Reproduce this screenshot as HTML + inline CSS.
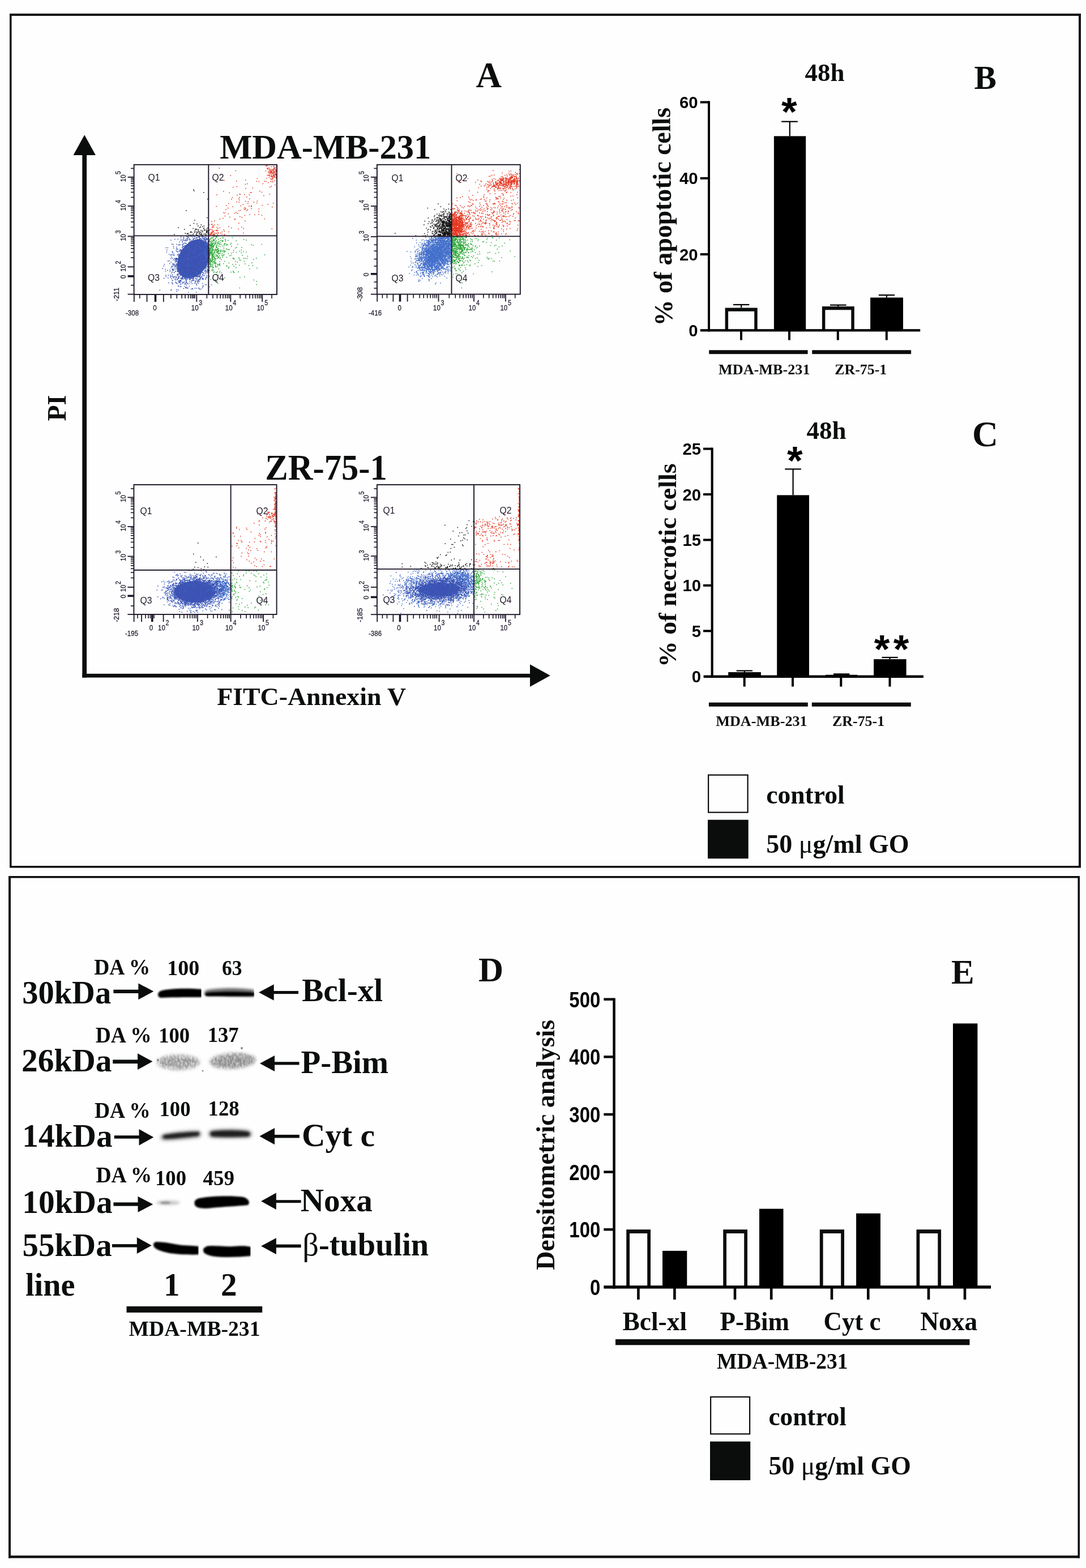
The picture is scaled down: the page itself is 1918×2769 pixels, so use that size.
<!DOCTYPE html>
<html><head><meta charset="utf-8"><title>Figure</title><style>html,body{margin:0;padding:0;background:#fefefe;}svg{display:block;}</style></head><body><svg width="1918" height="2769" viewBox="0 0 1918 2769"><defs><clipPath id="cp1"><rect x="237.5" y="291.6" width="250.7" height="227.6"/></clipPath><clipPath id="cp2"><rect x="666.7" y="291.6" width="251.3" height="227.2"/></clipPath><clipPath id="cp3"><rect x="237.2" y="856.8" width="250.6" height="227.4"/></clipPath><clipPath id="cp4"><rect x="666.7" y="856.8" width="250.6" height="227.6"/></clipPath><clipPath id="lane1a"><rect x="260" y="1730" width="95.6" height="45"/></clipPath><clipPath id="lane1b"><rect x="350" y="1730" width="99" height="45"/></clipPath><clipPath id="lane5a"><rect x="260" y="2180" width="90.8" height="50"/></clipPath><clipPath id="lane5b"><rect x="352" y="2180" width="90.7" height="50"/></clipPath><filter id="mot1" x="-20%" y="-60%" width="140%" height="220%"><feGaussianBlur in="SourceGraphic" stdDeviation="3.2" result="soft"/><feTurbulence type="fractalNoise" baseFrequency="0.3 0.17" numOctaves="2" seed="3" result="n"/><feColorMatrix in="n" type="matrix" values="0 0 0 0 0  0 0 0 0 0  0 0 0 0 0  2.4 0 0 0 -0.55" result="na"/><feComposite in="soft" in2="na" operator="in"/></filter><filter id="mot2" x="-20%" y="-60%" width="140%" height="220%"><feGaussianBlur in="SourceGraphic" stdDeviation="3.2" result="soft"/><feTurbulence type="fractalNoise" baseFrequency="0.3 0.17" numOctaves="2" seed="7" result="n"/><feColorMatrix in="n" type="matrix" values="0 0 0 0 0  0 0 0 0 0  0 0 0 0 0  2.4 0 0 0 -0.55" result="na"/><feComposite in="soft" in2="na" operator="in"/></filter><filter id="bl0_7" x="-20%" y="-60%" width="140%" height="220%"><feGaussianBlur stdDeviation="0.7"/></filter><filter id="bl1_2" x="-20%" y="-60%" width="140%" height="220%"><feGaussianBlur stdDeviation="1.2"/></filter><filter id="bl1_3" x="-20%" y="-60%" width="140%" height="220%"><feGaussianBlur stdDeviation="1.3"/></filter><filter id="bl1_5" x="-20%" y="-60%" width="140%" height="220%"><feGaussianBlur stdDeviation="1.5"/></filter><filter id="bl1_6" x="-20%" y="-60%" width="140%" height="220%"><feGaussianBlur stdDeviation="1.6"/></filter><filter id="bl1_7" x="-20%" y="-60%" width="140%" height="220%"><feGaussianBlur stdDeviation="1.7"/></filter><filter id="bl1_8" x="-20%" y="-60%" width="140%" height="220%"><feGaussianBlur stdDeviation="1.8"/></filter><filter id="bl1_9" x="-20%" y="-60%" width="140%" height="220%"><feGaussianBlur stdDeviation="1.9"/></filter><filter id="bl2_0" x="-20%" y="-60%" width="140%" height="220%"><feGaussianBlur stdDeviation="2.0"/></filter><filter id="bl2_3" x="-20%" y="-60%" width="140%" height="220%"><feGaussianBlur stdDeviation="2.3"/></filter><filter id="bl2_5" x="-20%" y="-60%" width="140%" height="220%"><feGaussianBlur stdDeviation="2.5"/></filter><filter id="bl3_0" x="-20%" y="-60%" width="140%" height="220%"><feGaussianBlur stdDeviation="3.0"/></filter><filter id="bl3_2" x="-20%" y="-60%" width="140%" height="220%"><feGaussianBlur stdDeviation="3.2"/></filter></defs><rect width="1918" height="2769" fill="#fefefe"/><rect x="17" y="24" width="1892" height="4" fill="#0b0d0d"/>
<rect x="17" y="24" width="3.5" height="1508" fill="#0b0d0d"/>
<rect x="1905" y="24" width="4" height="1508" fill="#0b0d0d"/>
<rect x="17" y="1529" width="1892" height="3.5" fill="#0b0d0d"/>
<rect x="15" y="1547" width="1892" height="3.5" fill="#0b0d0d"/>
<rect x="15" y="1547" width="4" height="1204.5" fill="#0b0d0d"/>
<rect x="1903.5" y="1547" width="3.5" height="1204.5" fill="#0b0d0d"/>
<rect x="15" y="2747" width="1892" height="4.5" fill="#0b0d0d"/>
<rect x="145.3" y="272" width="7.8" height="924.5" fill="#0b0d0d"/>
<polygon points="149.2,238.3 168.9,274 129.5,274" fill="#0b0d0d"/>
<rect x="145.3" y="1189.8" width="791.7" height="6.7" fill="#0b0d0d"/>
<polygon points="936,1173.2 971.8,1193.1 936,1212.8" fill="#0b0d0d"/>
<text x="840.5" y="153.8" font-family="'Liberation Serif', 'Times New Roman', serif" font-size="63" font-weight="bold" fill="#0b0d0d">A</text>
<text x="388.2" y="280" font-family="'Liberation Serif', 'Times New Roman', serif" font-size="61" font-weight="bold" fill="#0b0d0d" textLength="373" lengthAdjust="spacingAndGlyphs">MDA-MB-231</text>
<text x="468.3" y="846.7" font-family="'Liberation Serif', 'Times New Roman', serif" font-size="63.5" font-weight="bold" fill="#0b0d0d" textLength="215.5" lengthAdjust="spacingAndGlyphs">ZR-75-1</text>
<text transform="translate(115.8 743.5) rotate(-90)" x="0" y="0" font-family="'Liberation Serif', 'Times New Roman', serif" font-size="46" font-weight="bold" fill="#0b0d0d">PI</text>
<text x="383.2" y="1245.1" font-family="'Liberation Serif', 'Times New Roman', serif" font-size="45" font-weight="bold" fill="#0b0d0d" textLength="334" lengthAdjust="spacingAndGlyphs">FITC-Annexin V</text>
<g clip-path="url(#cp1)">
<ellipse cx="342" cy="457" rx="26" ry="37" transform="rotate(30 342 457)" fill="#3d53b3"/>
<path d="M357 416.5h1.6M358 416.5h1.6M356.5 417h1.6M366.5 417h1.6M330.5 418h1.6M349.5 418h1.6M351 418.5h1.6M331 419h1.6M367.5 419h1.6M318.5 420.5h1.6M342.5 420.5h1.6M367 420.5h1.6M358.5 421.5h1.6M366 421.5h1.6M351 422h1.6M334.5 422.5h1.6M348.5 423h1.6M327 423.5h1.6M368 423.5h1.6M361 424h1.6M344 425h1.6M348 425h1.6M368 425h1.6M349.5 426h1.6M338.5 426.5h1.6M359 426.5h1.6M344 427h1.6M356 427h1.6M366 427h1.6M352 427.5h1.6M342.5 428h1.6M351 428.5h1.6M362.5 428.5h1.6M364.5 428.5h1.6M337 429.5h1.6M349.5 429.5h1.6M362.5 430h1.6M345.5 430.5h1.6M357.5 430.5h1.6M366.5 430.5h1.6M348.5 431h1.6M321 431.5h1.6M360 431.5h1.6M361.5 431.5h1.6M364.5 431.5h1.6M349.5 432h1.6M351 432h1.6M360.5 432h1.6M365.5 432h1.6M321 432.5h1.6M346 432.5h1.6M351 432.5h1.6M364 432.5h1.6M360 433h1.6M361 433h1.6M367.5 433h1.6M349.5 434h1.6M350 434.5h1.6M356.5 434.5h1.6M351 435h1.6M358 435h1.6M362 435h1.6M363.5 435h1.6M345.5 435.5h1.6M351 435.5h1.6M333.5 436h1.6M336.5 436h1.6M360.5 436h1.6M331 436.5h1.6M339 436.5h1.6M340 436.5h1.6M363 436.5h1.6M332 437h1.6M338.5 437h1.6M339.5 437h1.6M344.5 437h1.6M354 437h1.6M354.5 437h1.6M365.5 437h1.6M330 437.5h1.6M353 437.5h1.6M368 437.5h1.6M334.5 438h1.6M357 438h1.6M367 438h1.6M327.5 438.5h1.6M353 438.5h1.6M354 438.5h1.6M361 438.5h1.6M365.5 438.5h1.6M366.5 438.5h1.6M311.5 439h1.6M324.5 439h1.6M333.5 439h1.6M344.5 439h1.6M345.5 439h1.6M346.5 439h1.6M348 439h1.6M366.5 439h1.6M334.5 439.5h1.6M365 439.5h1.6M367 439.5h1.6M325.5 440h1.6M343.5 440h1.6M344 440h1.6M352.5 440h1.6M333 440.5h1.6M361.5 440.5h1.6M363 440.5h1.6M365.5 440.5h1.6M366.5 440.5h1.6M328.5 441h1.6M329.5 441h1.6M337.5 441h1.6M350.5 441h1.6M340 441.5h1.6M350 441.5h1.6M361.5 441.5h1.6M365 441.5h1.6M333.5 442h1.6M354 442h1.6M332.5 442.5h1.6M344.5 442.5h1.6M347 442.5h1.6M356 442.5h1.6M356.5 442.5h1.6M361.5 442.5h1.6M347.5 443h1.6M361 443h1.6M333 443.5h1.6M342.5 443.5h1.6M346 443.5h1.6M360.5 443.5h1.6M303.5 444h1.6M330.5 444h1.6M331 444h1.6M339.5 444h1.6M354 444h1.6M354.5 444h1.6M359.5 444h1.6M360 444h1.6M361 444h1.6M361.5 444h1.6M362 444h1.6M323 444.5h1.6M333 444.5h1.6M333.5 444.5h1.6M344 444.5h1.6M348.5 444.5h1.6M361.5 444.5h1.6M342 445h1.6M356.5 445h1.6M367 445h1.6M338.5 445.5h1.6M364.5 445.5h1.6M345 446h1.6M346.5 446h1.6M360 446h1.6M363.5 446h1.6M343.5 446.5h1.6M350 446.5h1.6M351.5 446.5h1.6M362 446.5h1.6M364 446.5h1.6M324.5 447h1.6M333 447h1.6M335.5 447h1.6M349.5 447h1.6M331 447.5h1.6M331.5 447.5h1.6M335.5 447.5h1.6M342 447.5h1.6M343.5 447.5h1.6M345.5 447.5h1.6M355 447.5h1.6M358.5 447.5h1.6M361.5 447.5h1.6M338.5 448h1.6M345 448h1.6M347.5 448h1.6M355 448h1.6M356.5 448h1.6M358.5 448h1.6M359 448h1.6M306.5 448.5h1.6M331 448.5h1.6M341.5 448.5h1.6M343 448.5h1.6M345 448.5h1.6M357.5 448.5h1.6M359.5 448.5h1.6M298 449h1.6M318 449h1.6M328 449h1.6M344.5 449h1.6M351 449h1.6M353 449h1.6M362 449h1.6M368 449h1.6M345.5 449.5h1.6M348.5 449.5h1.6M355.5 449.5h1.6M360 449.5h1.6M330.5 450h1.6M334 450h1.6M339 450h1.6M342.5 450h1.6M362.5 450h1.6M364 450h1.6M327.5 450.5h1.6M333.5 450.5h1.6M343 450.5h1.6M352 450.5h1.6M307 451h1.6M329 451h1.6M332.5 451h1.6M333 451h1.6M336 451h1.6M350 451h1.6M355 451h1.6M362.5 451h1.6M366.5 451h1.6M330.5 451.5h1.6M332 451.5h1.6M336.5 451.5h1.6M342 451.5h1.6M367 451.5h1.6M336 452h1.6M337.5 452h1.6M340 452h1.6M356.5 452h1.6M314 452.5h1.6M340 452.5h1.6M341 452.5h1.6M346 452.5h1.6M360.5 452.5h1.6M363.5 452.5h1.6M317.5 453h1.6M318 453h1.6M326.5 453h1.6M339.5 453h1.6M343 453h1.6M343.5 453h1.6M344 453h1.6M346.5 453h1.6M362 453h1.6M362.5 453h1.6M337 453.5h1.6M355.5 453.5h1.6M365.5 453.5h1.6M336.5 454h1.6M337 454h1.6M344.5 454h1.6M347 454h1.6M350.5 454h1.6M357.5 454h1.6M361.5 454h1.6M302.5 454.5h1.6M325 454.5h1.6M340 454.5h1.6M341.5 454.5h1.6M361.5 454.5h1.6M365 454.5h1.6M329.5 455h1.6M333 455h1.6M338.5 455h1.6M346.5 455h1.6M349 455h1.6M358.5 455h1.6M359 455h1.6M361 455h1.6M367.5 455h1.6M341 455.5h1.6M349 455.5h1.6M311 456h1.6M331 456h1.6M339.5 456h1.6M344 456h1.6M351 456h1.6M353 456h1.6M355 456h1.6M356.5 456h1.6M364 456h1.6M304 456.5h1.6M345.5 456.5h1.6M352.5 456.5h1.6M353.5 456.5h1.6M363 456.5h1.6M366 456.5h1.6M313 457h1.6M333.5 457h1.6M341.5 457h1.6M345 457h1.6M346 457h1.6M346.5 457h1.6M347.5 457h1.6M366 457h1.6M322 457.5h1.6M330.5 457.5h1.6M335 457.5h1.6M348 457.5h1.6M352.5 457.5h1.6M360 457.5h1.6M361.5 457.5h1.6M312.5 458h1.6M327.5 458h1.6M338 458h1.6M339.5 458h1.6M346 458h1.6M352.5 458h1.6M334.5 458.5h1.6M351 458.5h1.6M363.5 458.5h1.6M337 459h1.6M341 459h1.6M346 459h1.6M357.5 459h1.6M361.5 459h1.6M333 459.5h1.6M340.5 459.5h1.6M366 459.5h1.6M368 459.5h1.6M318.5 460h1.6M323.5 460h1.6M324.5 460h1.6M333.5 460h1.6M355.5 460h1.6M363 460h1.6M331 460.5h1.6M340 460.5h1.6M347.5 460.5h1.6M351.5 460.5h1.6M358.5 460.5h1.6M326 461h1.6M336 461h1.6M344.5 461h1.6M349 461h1.6M352.5 461h1.6M336 461.5h1.6M347 461.5h1.6M360.5 461.5h1.6M362.5 461.5h1.6M326 462h1.6M341.5 462h1.6M308.5 463h1.6M317 463h1.6M321.5 463h1.6M347.5 463h1.6M348 463h1.6M349.5 463h1.6M353.5 463h1.6M362.5 463h1.6M366.5 463h1.6M322.5 463.5h1.6M324.5 463.5h1.6M339.5 463.5h1.6M356.5 463.5h1.6M358.5 463.5h1.6M368 463.5h1.6M328.5 464h1.6M362 464h1.6M366 464h1.6M315.5 464.5h1.6M325 464.5h1.6M330 464.5h1.6M338 464.5h1.6M333 465h1.6M351 465h1.6M357.5 465h1.6M363 465h1.6M306 465.5h1.6M311 465.5h1.6M330.5 465.5h1.6M331 465.5h1.6M339.5 465.5h1.6M357 465.5h1.6M360.5 465.5h1.6M365 465.5h1.6M346.5 466h1.6M347 466h1.6M348.5 466h1.6M350 466h1.6M351 466h1.6M352.5 466h1.6M355.5 466h1.6M328 466.5h1.6M330 466.5h1.6M337.5 466.5h1.6M360 466.5h1.6M361.5 466.5h1.6M326 467h1.6M332.5 467h1.6M334.5 467h1.6M335 467h1.6M341.5 467h1.6M351 467h1.6M355 467h1.6M317 467.5h1.6M332.5 467.5h1.6M335 467.5h1.6M362.5 467.5h1.6M364.5 467.5h1.6M305.5 468h1.6M316.5 468h1.6M327.5 468h1.6M354 468h1.6M355.5 468h1.6M358.5 468h1.6M365 468h1.6M324 468.5h1.6M334 468.5h1.6M335.5 468.5h1.6M329.5 469h1.6M331 469h1.6M340 469h1.6M341 469h1.6M364 469h1.6M322.5 469.5h1.6M330 469.5h1.6M334.5 469.5h1.6M341.5 469.5h1.6M344 469.5h1.6M328 470h1.6M329.5 470h1.6M330.5 470h1.6M332 470h1.6M345 470h1.6M357 470h1.6M310.5 470.5h1.6M332 470.5h1.6M334 470.5h1.6M338.5 470.5h1.6M308.5 471h1.6M343.5 471h1.6M345.5 471h1.6M364.5 471h1.6M339.5 471.5h1.6M345 471.5h1.6M313 472h1.6M315.5 472h1.6M319.5 472h1.6M330.5 472h1.6M331 472h1.6M354.5 472h1.6M358 472h1.6M331.5 472.5h1.6M341 472.5h1.6M349 472.5h1.6M308 473h1.6M317.5 473h1.6M333.5 473h1.6M343.5 473h1.6M353.5 473h1.6M354.5 473h1.6M345 473.5h1.6M348.5 473.5h1.6M359 473.5h1.6M351.5 474h1.6M359.5 474h1.6M324.5 474.5h1.6M329.5 474.5h1.6M350 474.5h1.6M351 474.5h1.6M356 474.5h1.6M362 474.5h1.6M317 475h1.6M334.5 475h1.6M339.5 475h1.6M349.5 475h1.6M358 475h1.6M360 475h1.6M365 475h1.6M352.5 475.5h1.6M304 476h1.6M312 476h1.6M322.5 476h1.6M367 476h1.6M329.5 476.5h1.6M340.5 476.5h1.6M325 477h1.6M336 477h1.6M339.5 477h1.6M341 477h1.6M354.5 477h1.6M331.5 477.5h1.6M337 477.5h1.6M341.5 478h1.6M346 478h1.6M340.5 478.5h1.6M360.5 478.5h1.6M291.5 479h1.6M309 479h1.6M329.5 479h1.6M333 479h1.6M355 479h1.6M320 479.5h1.6M322.5 479.5h1.6M327 479.5h1.6M355 479.5h1.6M326 480h1.6M345.5 480h1.6M361.5 480h1.6M339 480.5h1.6M367.5 480.5h1.6M306.5 481.5h1.6M334.5 481.5h1.6M338 481.5h1.6M346.5 481.5h1.6M337.5 482h1.6M316.5 482.5h1.6M329 482.5h1.6M337.5 482.5h1.6M324 483h1.6M338 483h1.6M333.5 483.5h1.6M326 484h1.6M338 484h1.6M344.5 484h1.6M327.5 484.5h1.6M347 484.5h1.6M330.5 485h1.6M348.5 485h1.6M341 485.5h1.6M360.5 486h1.6M328.5 486.5h1.6M336 486.5h1.6M339.5 486.5h1.6M331.5 487h1.6M347.5 487h1.6M357 487h1.6M321.5 488h1.6M332 488h1.6M336.5 488h1.6M337 488h1.6M301 488.5h1.6M304.5 488.5h1.6M308.5 488.5h1.6M330 488.5h1.6M330.5 489h1.6M324 489.5h1.6M336 489.5h1.6M344.5 489.5h1.6M352 489.5h1.6M305 490.5h1.6M325 490.5h1.6M331.5 490.5h1.6M367.5 490.5h1.6M336.5 491h1.6M363 492h1.6M330.5 492.5h1.6M333.5 493h1.6M328.5 493.5h1.6M341 494h1.6M350 494h1.6M353 494h1.6M328 495h1.6M342 495h1.6M328.5 495.5h1.6M340.5 495.5h1.6M319.5 496.5h1.6M315.5 497.5h1.6M328.5 497.5h1.6M348.5 497.5h1.6M315 498.5h1.6M345 500h1.6M303.5 500.5h1.6M357 500.5h1.6M312.5 501h1.6M334.5 501h1.6M338.5 501h1.6M318.5 502h1.6M361.5 502.5h1.6M325 505.5h1.6M333.5 505.5h1.6M332 516h1.6" fill="none" stroke="#4470cc" stroke-width="1.6"/>
<path d="M335 416.5h1.6M337 416.5h1.6M350 416.5h1.6M355 416.5h1.6M329 417h1.6M342.5 417h1.6M355 417h1.6M363 417h1.6M328.5 417.5h1.6M337 417.5h1.6M352 417.5h1.6M357.5 417.5h1.6M319 418h1.6M343 418h1.6M332.5 418.5h1.6M351.5 418.5h1.6M360.5 418.5h1.6M323.5 419h1.6M331 419h1.6M339.5 419h1.6M350.5 419h1.6M356 419h1.6M358 419h1.6M345.5 419.5h1.6M347.5 419.5h1.6M351 419.5h1.6M362.5 419.5h1.6M363 419.5h1.6M324 420.5h1.6M347 420.5h1.6M361 420.5h1.6M364 420.5h1.6M329 421h1.6M342 421h1.6M352.5 421h1.6M360 421h1.6M330 421.5h1.6M333.5 421.5h1.6M345 421.5h1.6M353.5 421.5h1.6M357 421.5h1.6M363.5 421.5h1.6M341.5 422h1.6M355 422h1.6M358.5 422h1.6M308 422.5h1.6M313.5 422.5h1.6M323 422.5h1.6M331 422.5h1.6M340 422.5h1.6M351.5 422.5h1.6M360.5 422.5h1.6M363.5 422.5h1.6M365.5 422.5h1.6M348 423h1.6M352 423h1.6M361.5 423h1.6M320.5 423.5h1.6M328 423.5h1.6M335 423.5h1.6M347.5 423.5h1.6M360 423.5h1.6M360.5 423.5h1.6M365 423.5h1.6M301 424h1.6M318 424h1.6M334.5 424h1.6M341 424h1.6M348.5 424h1.6M363.5 424h1.6M323 424.5h1.6M325 424.5h1.6M325.5 424.5h1.6M330 424.5h1.6M355.5 424.5h1.6M338 425h1.6M342.5 425h1.6M346.5 425h1.6M349.5 425h1.6M351 425h1.6M351.5 425h1.6M355.5 425h1.6M356 425h1.6M357.5 425h1.6M358 425h1.6M362 425h1.6M327.5 425.5h1.6M328 425.5h1.6M337.5 425.5h1.6M338.5 425.5h1.6M339 425.5h1.6M339.5 425.5h1.6M356 425.5h1.6M358 425.5h1.6M321 426h1.6M337.5 426h1.6M348 426h1.6M335 426.5h1.6M338 426.5h1.6M344.5 426.5h1.6M355.5 426.5h1.6M361.5 426.5h1.6M362 426.5h1.6M367 426.5h1.6M337 427h1.6M343 427h1.6M362 427h1.6M363 427h1.6M316 427.5h1.6M334.5 427.5h1.6M336.5 427.5h1.6M339.5 427.5h1.6M363.5 427.5h1.6M367 427.5h1.6M321.5 428h1.6M344.5 428h1.6M348.5 428h1.6M349.5 428h1.6M352 428h1.6M357 428h1.6M334 428.5h1.6M340.5 428.5h1.6M343 428.5h1.6M344.5 428.5h1.6M346.5 428.5h1.6M347 428.5h1.6M353 428.5h1.6M353.5 428.5h1.6M325.5 429h1.6M332.5 429h1.6M339.5 429h1.6M342 429h1.6M345 429h1.6M349.5 429h1.6M351 429h1.6M363.5 429h1.6M326.5 429.5h1.6M334.5 429.5h1.6M336 429.5h1.6M336.5 429.5h1.6M341.5 429.5h1.6M355 429.5h1.6M359 429.5h1.6M365.5 429.5h1.6M328 430h1.6M337 430h1.6M339.5 430h1.6M340 430h1.6M342.5 430h1.6M348.5 430h1.6M349 430h1.6M351.5 430h1.6M356.5 430h1.6M358 430h1.6M360 430h1.6M365 430h1.6M366 430h1.6M323 430.5h1.6M333 430.5h1.6M338 430.5h1.6M338.5 430.5h1.6M344.5 430.5h1.6M345 430.5h1.6M346 430.5h1.6M347.5 430.5h1.6M349 430.5h1.6M349.5 430.5h1.6M350.5 430.5h1.6M353.5 430.5h1.6M354.5 430.5h1.6M355 430.5h1.6M357 430.5h1.6M303 431h1.6M323.5 431h1.6M334 431h1.6M338 431h1.6M340 431h1.6M346 431h1.6M356.5 431h1.6M362.5 431h1.6M305 431.5h1.6M311.5 431.5h1.6M330.5 431.5h1.6M335 431.5h1.6M338 431.5h1.6M339.5 431.5h1.6M341.5 431.5h1.6M348 431.5h1.6M349.5 431.5h1.6M352 431.5h1.6M317.5 432h1.6M333.5 432h1.6M335 432h1.6M341.5 432h1.6M349 432h1.6M354 432h1.6M355.5 432h1.6M359.5 432h1.6M361.5 432h1.6M314.5 432.5h1.6M316 432.5h1.6M331.5 432.5h1.6M336 432.5h1.6M337.5 432.5h1.6M342 432.5h1.6M349 432.5h1.6M349.5 432.5h1.6M358.5 432.5h1.6M359 432.5h1.6M361.5 432.5h1.6M362.5 432.5h1.6M334.5 433h1.6M336 433h1.6M342 433h1.6M349 433h1.6M351.5 433h1.6M356 433h1.6M357.5 433h1.6M367 433h1.6M368 433h1.6M338.5 433.5h1.6M339 433.5h1.6M339.5 433.5h1.6M348.5 433.5h1.6M351.5 433.5h1.6M322 434h1.6M325 434h1.6M326 434h1.6M327.5 434h1.6M328 434h1.6M328.5 434h1.6M335.5 434h1.6M336.5 434h1.6M337.5 434h1.6M338 434h1.6M342 434h1.6M343.5 434h1.6M346 434h1.6M346.5 434h1.6M348 434h1.6M350 434h1.6M352 434h1.6M355.5 434h1.6M357 434h1.6M361.5 434h1.6M362.5 434h1.6M332.5 434.5h1.6M333.5 434.5h1.6M335.5 434.5h1.6M337.5 434.5h1.6M340.5 434.5h1.6M345.5 434.5h1.6M348.5 434.5h1.6M350 434.5h1.6M355 434.5h1.6M358 434.5h1.6M361.5 434.5h1.6M305.5 435h1.6M337.5 435h1.6M340 435h1.6M341 435h1.6M342 435h1.6M347 435h1.6M347.5 435h1.6M349 435h1.6M349.5 435h1.6M353.5 435h1.6M358.5 435h1.6M359.5 435h1.6M360 435h1.6M360.5 435h1.6M322.5 435.5h1.6M323.5 435.5h1.6M335.5 435.5h1.6M339 435.5h1.6M339.5 435.5h1.6M345 435.5h1.6M349.5 435.5h1.6M354 435.5h1.6M357 435.5h1.6M358 435.5h1.6M358.5 435.5h1.6M363.5 435.5h1.6M326 436h1.6M332 436h1.6M337 436h1.6M340 436h1.6M340.5 436h1.6M341 436h1.6M341.5 436h1.6M342.5 436h1.6M352.5 436h1.6M356 436h1.6M357 436h1.6M358.5 436h1.6M360 436h1.6M362.5 436h1.6M366.5 436h1.6M311 436.5h1.6M336 436.5h1.6M337.5 436.5h1.6M338 436.5h1.6M338.5 436.5h1.6M352.5 436.5h1.6M358.5 436.5h1.6M360.5 436.5h1.6M366 436.5h1.6M367 436.5h1.6M321 437h1.6M321.5 437h1.6M329.5 437h1.6M337.5 437h1.6M338 437h1.6M340.5 437h1.6M341 437h1.6M343.5 437h1.6M347 437h1.6M347.5 437h1.6M348 437h1.6M351 437h1.6M355.5 437h1.6M356.5 437h1.6M358.5 437h1.6M359.5 437h1.6M363.5 437h1.6M292.5 437.5h1.6M295.5 437.5h1.6M334 437.5h1.6M337 437.5h1.6M338.5 437.5h1.6M341 437.5h1.6M359.5 437.5h1.6M365.5 437.5h1.6M366 437.5h1.6M367 437.5h1.6M368 437.5h1.6M306 438h1.6M329 438h1.6M332.5 438h1.6M335 438h1.6M340.5 438h1.6M341 438h1.6M341.5 438h1.6M342.5 438h1.6M344.5 438h1.6M345 438h1.6M345.5 438h1.6M348 438h1.6M349.5 438h1.6M351 438h1.6M351.5 438h1.6M353 438h1.6M354.5 438h1.6M356.5 438h1.6M364 438h1.6M367.5 438h1.6M327.5 438.5h1.6M328.5 438.5h1.6M329 438.5h1.6M335.5 438.5h1.6M337 438.5h1.6M346.5 438.5h1.6M349 438.5h1.6M350 438.5h1.6M351.5 438.5h1.6M356.5 438.5h1.6M364.5 438.5h1.6M365 438.5h1.6M367 438.5h1.6M368 438.5h1.6M331.5 439h1.6M340 439h1.6M341 439h1.6M350 439h1.6M350.5 439h1.6M366 439h1.6M322 439.5h1.6M323 439.5h1.6M326 439.5h1.6M339.5 439.5h1.6M342.5 439.5h1.6M343 439.5h1.6M344 439.5h1.6M346 439.5h1.6M350 439.5h1.6M351 439.5h1.6M356.5 439.5h1.6M357.5 439.5h1.6M358.5 439.5h1.6M311 440h1.6M313 440h1.6M329 440h1.6M330 440h1.6M331 440h1.6M331.5 440h1.6M332.5 440h1.6M333 440h1.6M335.5 440h1.6M338.5 440h1.6M351 440h1.6M360.5 440h1.6M364 440h1.6M365.5 440h1.6M317 440.5h1.6M317.5 440.5h1.6M324 440.5h1.6M329.5 440.5h1.6M330.5 440.5h1.6M331 440.5h1.6M333 440.5h1.6M335.5 440.5h1.6M336 440.5h1.6M348.5 440.5h1.6M351 440.5h1.6M351.5 440.5h1.6M354.5 440.5h1.6M356.5 440.5h1.6M357.5 440.5h1.6M360 440.5h1.6M363.5 440.5h1.6M364 440.5h1.6M321.5 441h1.6M325 441h1.6M329 441h1.6M330.5 441h1.6M331 441h1.6M334 441h1.6M341 441h1.6M347.5 441h1.6M348 441h1.6M349 441h1.6M353.5 441h1.6M354 441h1.6M356.5 441h1.6M361 441h1.6M294 441.5h1.6M319 441.5h1.6M319.5 441.5h1.6M322.5 441.5h1.6M327.5 441.5h1.6M328 441.5h1.6M330 441.5h1.6M332.5 441.5h1.6M333 441.5h1.6M338 441.5h1.6M339.5 441.5h1.6M340 441.5h1.6M341 441.5h1.6M342 441.5h1.6M344 441.5h1.6M344.5 441.5h1.6M345.5 441.5h1.6M346.5 441.5h1.6M347.5 441.5h1.6M349 441.5h1.6M349.5 441.5h1.6M350 441.5h1.6M354 441.5h1.6M354.5 441.5h1.6M357.5 441.5h1.6M363.5 441.5h1.6M365 441.5h1.6M366 441.5h1.6M366.5 441.5h1.6M318.5 442h1.6M322.5 442h1.6M334.5 442h1.6M340 442h1.6M343 442h1.6M343.5 442h1.6M344.5 442h1.6M346.5 442h1.6M347 442h1.6M348 442h1.6M348.5 442h1.6M349.5 442h1.6M350 442h1.6M351.5 442h1.6M352.5 442h1.6M358 442h1.6M362.5 442h1.6M365.5 442h1.6M366 442h1.6M325 442.5h1.6M326.5 442.5h1.6M329 442.5h1.6M330.5 442.5h1.6M333.5 442.5h1.6M334 442.5h1.6M336.5 442.5h1.6M338 442.5h1.6M338.5 442.5h1.6M343.5 442.5h1.6M347 442.5h1.6M348 442.5h1.6M351 442.5h1.6M351.5 442.5h1.6M352.5 442.5h1.6M354.5 442.5h1.6M357 442.5h1.6M365 442.5h1.6M310.5 443h1.6M315.5 443h1.6M318 443h1.6M320 443h1.6M328 443h1.6M329.5 443h1.6M335 443h1.6M337 443h1.6M338.5 443h1.6M341.5 443h1.6M342.5 443h1.6M343 443h1.6M345.5 443h1.6M346.5 443h1.6M347 443h1.6M352.5 443h1.6M359 443h1.6M316.5 443.5h1.6M326.5 443.5h1.6M330 443.5h1.6M332.5 443.5h1.6M335 443.5h1.6M335.5 443.5h1.6M339 443.5h1.6M339.5 443.5h1.6M346 443.5h1.6M347 443.5h1.6M349 443.5h1.6M349.5 443.5h1.6M351 443.5h1.6M352 443.5h1.6M353.5 443.5h1.6M354.5 443.5h1.6M355 443.5h1.6M359 443.5h1.6M360.5 443.5h1.6M366 443.5h1.6M312 444h1.6M319 444h1.6M322 444h1.6M324 444h1.6M328 444h1.6M328.5 444h1.6M329 444h1.6M334 444h1.6M340 444h1.6M341 444h1.6M345 444h1.6M346.5 444h1.6M347 444h1.6M351 444h1.6M352.5 444h1.6M353.5 444h1.6M358 444h1.6M361 444h1.6M365 444h1.6M322 444.5h1.6M331.5 444.5h1.6M335.5 444.5h1.6M337.5 444.5h1.6M338.5 444.5h1.6M340.5 444.5h1.6M347 444.5h1.6M347.5 444.5h1.6M349.5 444.5h1.6M352.5 444.5h1.6M354 444.5h1.6M355.5 444.5h1.6M358 444.5h1.6M364.5 444.5h1.6M293.5 445h1.6M313.5 445h1.6M328.5 445h1.6M330 445h1.6M333.5 445h1.6M334 445h1.6M335.5 445h1.6M336.5 445h1.6M344 445h1.6M344.5 445h1.6M345 445h1.6M347.5 445h1.6M351.5 445h1.6M352.5 445h1.6M353 445h1.6M356.5 445h1.6M358.5 445h1.6M361 445h1.6M362.5 445h1.6M363 445h1.6M364 445h1.6M364.5 445h1.6M304.5 445.5h1.6M322 445.5h1.6M325 445.5h1.6M330.5 445.5h1.6M331.5 445.5h1.6M333 445.5h1.6M335.5 445.5h1.6M336.5 445.5h1.6M337 445.5h1.6M344 445.5h1.6M348 445.5h1.6M349.5 445.5h1.6M350.5 445.5h1.6M354.5 445.5h1.6M357.5 445.5h1.6M358 445.5h1.6M358.5 445.5h1.6M362.5 445.5h1.6M304 446h1.6M318 446h1.6M321 446h1.6M322.5 446h1.6M325 446h1.6M329 446h1.6M336 446h1.6M346 446h1.6M349 446h1.6M352 446h1.6M352.5 446h1.6M363 446h1.6M319 446.5h1.6M321 446.5h1.6M327 446.5h1.6M332 446.5h1.6M335 446.5h1.6M337.5 446.5h1.6M344 446.5h1.6M346 446.5h1.6M350 446.5h1.6M354 446.5h1.6M356.5 446.5h1.6M322 447h1.6M326.5 447h1.6M329 447h1.6M330.5 447h1.6M331 447h1.6M331.5 447h1.6M335 447h1.6M335.5 447h1.6M341 447h1.6M341.5 447h1.6M344 447h1.6M346.5 447h1.6M351 447h1.6M351.5 447h1.6M354 447h1.6M358 447h1.6M359.5 447h1.6M364 447h1.6M366 447h1.6M327 447.5h1.6M329 447.5h1.6M337.5 447.5h1.6M338.5 447.5h1.6M340.5 447.5h1.6M342 447.5h1.6M343 447.5h1.6M344.5 447.5h1.6M345.5 447.5h1.6M348 447.5h1.6M350.5 447.5h1.6M353 447.5h1.6M365 447.5h1.6M365.5 447.5h1.6M318.5 448h1.6M329 448h1.6M330 448h1.6M332 448h1.6M334 448h1.6M337.5 448h1.6M340 448h1.6M341 448h1.6M343.5 448h1.6M346 448h1.6M346.5 448h1.6M347.5 448h1.6M349.5 448h1.6M350.5 448h1.6M355.5 448h1.6M356.5 448h1.6M364 448h1.6M365.5 448h1.6M368 448h1.6M314.5 448.5h1.6M318.5 448.5h1.6M324 448.5h1.6M325 448.5h1.6M325.5 448.5h1.6M328 448.5h1.6M329.5 448.5h1.6M333 448.5h1.6M335 448.5h1.6M337.5 448.5h1.6M338 448.5h1.6M341.5 448.5h1.6M344.5 448.5h1.6M346 448.5h1.6M346.5 448.5h1.6M348.5 448.5h1.6M352.5 448.5h1.6M361.5 448.5h1.6M321 449h1.6M323 449h1.6M323.5 449h1.6M328.5 449h1.6M331 449h1.6M331.5 449h1.6M332.5 449h1.6M333.5 449h1.6M336 449h1.6M338 449h1.6M343 449h1.6M345.5 449h1.6M346 449h1.6M349.5 449h1.6M359 449h1.6M362 449h1.6M364.5 449h1.6M301 449.5h1.6M303.5 449.5h1.6M316 449.5h1.6M324.5 449.5h1.6M326 449.5h1.6M327.5 449.5h1.6M330 449.5h1.6M331.5 449.5h1.6M338 449.5h1.6M339.5 449.5h1.6M342 449.5h1.6M344 449.5h1.6M346.5 449.5h1.6M353.5 449.5h1.6M354 449.5h1.6M354.5 449.5h1.6M356 449.5h1.6M357 449.5h1.6M358 449.5h1.6M358.5 449.5h1.6M359 449.5h1.6M361.5 449.5h1.6M368 449.5h1.6M312.5 450h1.6M332 450h1.6M334 450h1.6M334.5 450h1.6M335 450h1.6M336 450h1.6M336.5 450h1.6M342.5 450h1.6M343 450h1.6M344 450h1.6M345 450h1.6M345.5 450h1.6M346.5 450h1.6M347.5 450h1.6M348 450h1.6M349 450h1.6M305.5 450.5h1.6M314.5 450.5h1.6M320 450.5h1.6M328.5 450.5h1.6M329.5 450.5h1.6M335 450.5h1.6M335.5 450.5h1.6M338 450.5h1.6M338.5 450.5h1.6M340 450.5h1.6M341 450.5h1.6M342.5 450.5h1.6M343 450.5h1.6M343.5 450.5h1.6M345.5 450.5h1.6M346 450.5h1.6M346.5 450.5h1.6M347 450.5h1.6M349 450.5h1.6M352 450.5h1.6M353.5 450.5h1.6M354.5 450.5h1.6M367.5 450.5h1.6M321 451h1.6M325.5 451h1.6M327 451h1.6M327.5 451h1.6M336.5 451h1.6M339 451h1.6M340 451h1.6M341 451h1.6M343.5 451h1.6M344 451h1.6M347 451h1.6M348 451h1.6M349 451h1.6M353.5 451h1.6M356 451h1.6M364 451h1.6M368 451h1.6M301 451.5h1.6M316.5 451.5h1.6M317.5 451.5h1.6M322 451.5h1.6M322.5 451.5h1.6M328 451.5h1.6M330 451.5h1.6M334 451.5h1.6M336 451.5h1.6M337 451.5h1.6M342 451.5h1.6M347.5 451.5h1.6M348 451.5h1.6M353 451.5h1.6M354.5 451.5h1.6M357 451.5h1.6M359.5 451.5h1.6M368 451.5h1.6M315.5 452h1.6M316 452h1.6M318 452h1.6M328 452h1.6M330 452h1.6M332 452h1.6M333 452h1.6M333.5 452h1.6M335 452h1.6M335.5 452h1.6M337 452h1.6M338 452h1.6M340 452h1.6M341 452h1.6M342.5 452h1.6M343.5 452h1.6M344.5 452h1.6M350 452h1.6M352 452h1.6M352.5 452h1.6M368 452h1.6M325 452.5h1.6M328 452.5h1.6M331.5 452.5h1.6M338 452.5h1.6M341 452.5h1.6M342 452.5h1.6M342.5 452.5h1.6M343.5 452.5h1.6M344.5 452.5h1.6M352.5 452.5h1.6M355.5 452.5h1.6M361 452.5h1.6M361.5 452.5h1.6M368 452.5h1.6M319.5 453h1.6M326 453h1.6M329 453h1.6M330 453h1.6M331.5 453h1.6M337.5 453h1.6M338 453h1.6M338.5 453h1.6M342 453h1.6M345 453h1.6M353 453h1.6M357 453h1.6M357.5 453h1.6M315.5 453.5h1.6M320.5 453.5h1.6M327 453.5h1.6M327.5 453.5h1.6M337.5 453.5h1.6M338 453.5h1.6M338.5 453.5h1.6M347 453.5h1.6M347.5 453.5h1.6M351 453.5h1.6M351.5 453.5h1.6M353.5 453.5h1.6M355.5 453.5h1.6M360 453.5h1.6M360.5 453.5h1.6M317.5 454h1.6M325 454h1.6M328.5 454h1.6M330 454h1.6M331.5 454h1.6M332.5 454h1.6M335 454h1.6M341.5 454h1.6M344.5 454h1.6M348 454h1.6M356.5 454h1.6M358 454h1.6M322 454.5h1.6M324 454.5h1.6M328 454.5h1.6M330 454.5h1.6M332.5 454.5h1.6M335 454.5h1.6M336 454.5h1.6M339 454.5h1.6M339.5 454.5h1.6M342 454.5h1.6M343.5 454.5h1.6M347 454.5h1.6M347.5 454.5h1.6M348 454.5h1.6M349.5 454.5h1.6M350 454.5h1.6M354 454.5h1.6M354.5 454.5h1.6M360 454.5h1.6M361 454.5h1.6M361.5 454.5h1.6M362 454.5h1.6M366.5 454.5h1.6M367 454.5h1.6M321.5 455h1.6M329 455h1.6M332 455h1.6M334.5 455h1.6M336.5 455h1.6M338.5 455h1.6M349.5 455h1.6M351.5 455h1.6M353.5 455h1.6M356.5 455h1.6M324.5 455.5h1.6M328 455.5h1.6M329.5 455.5h1.6M332.5 455.5h1.6M334 455.5h1.6M337.5 455.5h1.6M338.5 455.5h1.6M339.5 455.5h1.6M340 455.5h1.6M341.5 455.5h1.6M342 455.5h1.6M343 455.5h1.6M345 455.5h1.6M349.5 455.5h1.6M357.5 455.5h1.6M359.5 455.5h1.6M366 455.5h1.6M310.5 456h1.6M321.5 456h1.6M324.5 456h1.6M329 456h1.6M336.5 456h1.6M338 456h1.6M339 456h1.6M345.5 456h1.6M346 456h1.6M347 456h1.6M349 456h1.6M349.5 456h1.6M351 456h1.6M353.5 456h1.6M358.5 456h1.6M362.5 456h1.6M301 456.5h1.6M307 456.5h1.6M308.5 456.5h1.6M311.5 456.5h1.6M312 456.5h1.6M317 456.5h1.6M317.5 456.5h1.6M322 456.5h1.6M328 456.5h1.6M335.5 456.5h1.6M336 456.5h1.6M337 456.5h1.6M338.5 456.5h1.6M339.5 456.5h1.6M349 456.5h1.6M351.5 456.5h1.6M355 456.5h1.6M356 456.5h1.6M357 456.5h1.6M358 456.5h1.6M310 457h1.6M310.5 457h1.6M313.5 457h1.6M321.5 457h1.6M323.5 457h1.6M325 457h1.6M335 457h1.6M336.5 457h1.6M338 457h1.6M339 457h1.6M342.5 457h1.6M347 457h1.6M348 457h1.6M349 457h1.6M351 457h1.6M352 457h1.6M353.5 457h1.6M356 457h1.6M362.5 457h1.6M365 457h1.6M367 457h1.6M311.5 457.5h1.6M316.5 457.5h1.6M319 457.5h1.6M323.5 457.5h1.6M324 457.5h1.6M324.5 457.5h1.6M334 457.5h1.6M339 457.5h1.6M339.5 457.5h1.6M341 457.5h1.6M342.5 457.5h1.6M344 457.5h1.6M344.5 457.5h1.6M346.5 457.5h1.6M347 457.5h1.6M348.5 457.5h1.6M349 457.5h1.6M350.5 457.5h1.6M352.5 457.5h1.6M360 457.5h1.6M360.5 457.5h1.6M361.5 457.5h1.6M364 457.5h1.6M365.5 457.5h1.6M311 458h1.6M313.5 458h1.6M317.5 458h1.6M318.5 458h1.6M319.5 458h1.6M325.5 458h1.6M328 458h1.6M332.5 458h1.6M334 458h1.6M335 458h1.6M336 458h1.6M336.5 458h1.6M340.5 458h1.6M344.5 458h1.6M345 458h1.6M345.5 458h1.6M346.5 458h1.6M351 458h1.6M352 458h1.6M355.5 458h1.6M356.5 458h1.6M359 458h1.6M361 458h1.6M363 458h1.6M309.5 458.5h1.6M311 458.5h1.6M316.5 458.5h1.6M318.5 458.5h1.6M322.5 458.5h1.6M323.5 458.5h1.6M325 458.5h1.6M325.5 458.5h1.6M328 458.5h1.6M329 458.5h1.6M332.5 458.5h1.6M335 458.5h1.6M335.5 458.5h1.6M339.5 458.5h1.6M340 458.5h1.6M342.5 458.5h1.6M345.5 458.5h1.6M348.5 458.5h1.6M350 458.5h1.6M351 458.5h1.6M355.5 458.5h1.6M358.5 458.5h1.6M360 458.5h1.6M360.5 458.5h1.6M364.5 458.5h1.6M365.5 458.5h1.6M305.5 459h1.6M309.5 459h1.6M310.5 459h1.6M319.5 459h1.6M321 459h1.6M327 459h1.6M328 459h1.6M331 459h1.6M332 459h1.6M333 459h1.6M335 459h1.6M340 459h1.6M348.5 459h1.6M349.5 459h1.6M350 459h1.6M355.5 459h1.6M361 459h1.6M364.5 459h1.6M308 459.5h1.6M322.5 459.5h1.6M323 459.5h1.6M326.5 459.5h1.6M332.5 459.5h1.6M333 459.5h1.6M337.5 459.5h1.6M345 459.5h1.6M346 459.5h1.6M347 459.5h1.6M347.5 459.5h1.6M357 459.5h1.6M368 459.5h1.6M326.5 460h1.6M334.5 460h1.6M335 460h1.6M335.5 460h1.6M338 460h1.6M339 460h1.6M339.5 460h1.6M340 460h1.6M341 460h1.6M344 460h1.6M344.5 460h1.6M346 460h1.6M346.5 460h1.6M347 460h1.6M348.5 460h1.6M350.5 460h1.6M351.5 460h1.6M354.5 460h1.6M355 460h1.6M357 460h1.6M360 460h1.6M363.5 460h1.6M298.5 460.5h1.6M310.5 460.5h1.6M320.5 460.5h1.6M324.5 460.5h1.6M325 460.5h1.6M329 460.5h1.6M332.5 460.5h1.6M334 460.5h1.6M336.5 460.5h1.6M339.5 460.5h1.6M340 460.5h1.6M340.5 460.5h1.6M341 460.5h1.6M341.5 460.5h1.6M349 460.5h1.6M349.5 460.5h1.6M350 460.5h1.6M353.5 460.5h1.6M356 460.5h1.6M363.5 460.5h1.6M364.5 460.5h1.6M367.5 460.5h1.6M296 461h1.6M311 461h1.6M324 461h1.6M326.5 461h1.6M329 461h1.6M333.5 461h1.6M336.5 461h1.6M338 461h1.6M339.5 461h1.6M340.5 461h1.6M343.5 461h1.6M354.5 461h1.6M311 461.5h1.6M320 461.5h1.6M322.5 461.5h1.6M323 461.5h1.6M323.5 461.5h1.6M325 461.5h1.6M328 461.5h1.6M329 461.5h1.6M333 461.5h1.6M333.5 461.5h1.6M334 461.5h1.6M335 461.5h1.6M337 461.5h1.6M340 461.5h1.6M342.5 461.5h1.6M344.5 461.5h1.6M345.5 461.5h1.6M347 461.5h1.6M349 461.5h1.6M351.5 461.5h1.6M352 461.5h1.6M355 461.5h1.6M359.5 461.5h1.6M360.5 461.5h1.6M362 461.5h1.6M309.5 462h1.6M311.5 462h1.6M315.5 462h1.6M322 462h1.6M325.5 462h1.6M327 462h1.6M327.5 462h1.6M329.5 462h1.6M331.5 462h1.6M335.5 462h1.6M336 462h1.6M336.5 462h1.6M339.5 462h1.6M342 462h1.6M343 462h1.6M343.5 462h1.6M344 462h1.6M344.5 462h1.6M345.5 462h1.6M347.5 462h1.6M354 462h1.6M356 462h1.6M356.5 462h1.6M360.5 462h1.6M361 462h1.6M363.5 462h1.6M364.5 462h1.6M322 462.5h1.6M324.5 462.5h1.6M326 462.5h1.6M331 462.5h1.6M332 462.5h1.6M341.5 462.5h1.6M342 462.5h1.6M342.5 462.5h1.6M343 462.5h1.6M345 462.5h1.6M347 462.5h1.6M347.5 462.5h1.6M348.5 462.5h1.6M351 462.5h1.6M354 462.5h1.6M356 462.5h1.6M356.5 462.5h1.6M357 462.5h1.6M361.5 462.5h1.6M364 462.5h1.6M365 462.5h1.6M368.5 462.5h1.6M301.5 463h1.6M316.5 463h1.6M317 463h1.6M318 463h1.6M325.5 463h1.6M326.5 463h1.6M330.5 463h1.6M331.5 463h1.6M332.5 463h1.6M333.5 463h1.6M334 463h1.6M338 463h1.6M338.5 463h1.6M339 463h1.6M339.5 463h1.6M341 463h1.6M342 463h1.6M346 463h1.6M349 463h1.6M350.5 463h1.6M351 463h1.6M354 463h1.6M358 463h1.6M362.5 463h1.6M319.5 463.5h1.6M325 463.5h1.6M325.5 463.5h1.6M327.5 463.5h1.6M328 463.5h1.6M329 463.5h1.6M330 463.5h1.6M336.5 463.5h1.6M340 463.5h1.6M341 463.5h1.6M341.5 463.5h1.6M342.5 463.5h1.6M343.5 463.5h1.6M344.5 463.5h1.6M346 463.5h1.6M346.5 463.5h1.6M348.5 463.5h1.6M349 463.5h1.6M350 463.5h1.6M354.5 463.5h1.6M359 463.5h1.6M368 463.5h1.6M316.5 464h1.6M320 464h1.6M324.5 464h1.6M325 464h1.6M330.5 464h1.6M339.5 464h1.6M344.5 464h1.6M345 464h1.6M345.5 464h1.6M348 464h1.6M349 464h1.6M350.5 464h1.6M354 464h1.6M356 464h1.6M357.5 464h1.6M315.5 464.5h1.6M316 464.5h1.6M316.5 464.5h1.6M320 464.5h1.6M327 464.5h1.6M327.5 464.5h1.6M328 464.5h1.6M328.5 464.5h1.6M330.5 464.5h1.6M332.5 464.5h1.6M335.5 464.5h1.6M338 464.5h1.6M341 464.5h1.6M343 464.5h1.6M344 464.5h1.6M346.5 464.5h1.6M347.5 464.5h1.6M349 464.5h1.6M351.5 464.5h1.6M357.5 464.5h1.6M359 464.5h1.6M362 464.5h1.6M366.5 464.5h1.6M315 465h1.6M327 465h1.6M328.5 465h1.6M335.5 465h1.6M338.5 465h1.6M340 465h1.6M340.5 465h1.6M343 465h1.6M345.5 465h1.6M347.5 465h1.6M352.5 465h1.6M353 465h1.6M354 465h1.6M357 465h1.6M361.5 465h1.6M363.5 465h1.6M364 465h1.6M299 465.5h1.6M304 465.5h1.6M315.5 465.5h1.6M318.5 465.5h1.6M319 465.5h1.6M324 465.5h1.6M325.5 465.5h1.6M326.5 465.5h1.6M327 465.5h1.6M328 465.5h1.6M329.5 465.5h1.6M332 465.5h1.6M335 465.5h1.6M336.5 465.5h1.6M337.5 465.5h1.6M338 465.5h1.6M338.5 465.5h1.6M339.5 465.5h1.6M341.5 465.5h1.6M342 465.5h1.6M342.5 465.5h1.6M345 465.5h1.6M348 465.5h1.6M354 465.5h1.6M355 465.5h1.6M364 465.5h1.6M368 465.5h1.6M310.5 466h1.6M316 466h1.6M320.5 466h1.6M323.5 466h1.6M325.5 466h1.6M328 466h1.6M330 466h1.6M331.5 466h1.6M332.5 466h1.6M336 466h1.6M337 466h1.6M337.5 466h1.6M342 466h1.6M345.5 466h1.6M348 466h1.6M348.5 466h1.6M349.5 466h1.6M353 466h1.6M354 466h1.6M355 466h1.6M360.5 466h1.6M310.5 466.5h1.6M322 466.5h1.6M323 466.5h1.6M323.5 466.5h1.6M334.5 466.5h1.6M337.5 466.5h1.6M338 466.5h1.6M338.5 466.5h1.6M340 466.5h1.6M342.5 466.5h1.6M343.5 466.5h1.6M345 466.5h1.6M347 466.5h1.6M350 466.5h1.6M352.5 466.5h1.6M357.5 466.5h1.6M368 466.5h1.6M289.5 467h1.6M307 467h1.6M317 467h1.6M318.5 467h1.6M320.5 467h1.6M323.5 467h1.6M326 467h1.6M332.5 467h1.6M339.5 467h1.6M340 467h1.6M344 467h1.6M346 467h1.6M346.5 467h1.6M348.5 467h1.6M351.5 467h1.6M353 467h1.6M354.5 467h1.6M356.5 467h1.6M357 467h1.6M358.5 467h1.6M359 467h1.6M360 467h1.6M361 467h1.6M361.5 467h1.6M304.5 467.5h1.6M311 467.5h1.6M319.5 467.5h1.6M327.5 467.5h1.6M328.5 467.5h1.6M329.5 467.5h1.6M330.5 467.5h1.6M333.5 467.5h1.6M334 467.5h1.6M337.5 467.5h1.6M341 467.5h1.6M342 467.5h1.6M342.5 467.5h1.6M345 467.5h1.6M348.5 467.5h1.6M350.5 467.5h1.6M353 467.5h1.6M355 467.5h1.6M355.5 467.5h1.6M356.5 467.5h1.6M357 467.5h1.6M363 467.5h1.6M367.5 467.5h1.6M305.5 468h1.6M312 468h1.6M323 468h1.6M329.5 468h1.6M334 468h1.6M339.5 468h1.6M347.5 468h1.6M349.5 468h1.6M350.5 468h1.6M351.5 468h1.6M356.5 468h1.6M361.5 468h1.6M363 468h1.6M364 468h1.6M366.5 468h1.6M308 468.5h1.6M308.5 468.5h1.6M311.5 468.5h1.6M314.5 468.5h1.6M329.5 468.5h1.6M333 468.5h1.6M342 468.5h1.6M343 468.5h1.6M356 468.5h1.6M367 468.5h1.6M309 469h1.6M316.5 469h1.6M322.5 469h1.6M324 469h1.6M326.5 469h1.6M333 469h1.6M334 469h1.6M335 469h1.6M337 469h1.6M339 469h1.6M339.5 469h1.6M341 469h1.6M341.5 469h1.6M343.5 469h1.6M346 469h1.6M347 469h1.6M347.5 469h1.6M348 469h1.6M356 469h1.6M314.5 469.5h1.6M316.5 469.5h1.6M318.5 469.5h1.6M322.5 469.5h1.6M324.5 469.5h1.6M328.5 469.5h1.6M334.5 469.5h1.6M338 469.5h1.6M338.5 469.5h1.6M340 469.5h1.6M346.5 469.5h1.6M347 469.5h1.6M348.5 469.5h1.6M349 469.5h1.6M352.5 469.5h1.6M353 469.5h1.6M354.5 469.5h1.6M356 469.5h1.6M358 469.5h1.6M288.5 470h1.6M302.5 470h1.6M308 470h1.6M311.5 470h1.6M319.5 470h1.6M321 470h1.6M322 470h1.6M324 470h1.6M324.5 470h1.6M328.5 470h1.6M331 470h1.6M334 470h1.6M334.5 470h1.6M335 470h1.6M339 470h1.6M342 470h1.6M347 470h1.6M348.5 470h1.6M351.5 470h1.6M353.5 470h1.6M356 470h1.6M358 470h1.6M314 470.5h1.6M314.5 470.5h1.6M317 470.5h1.6M317.5 470.5h1.6M318.5 470.5h1.6M323 470.5h1.6M324.5 470.5h1.6M326.5 470.5h1.6M327 470.5h1.6M333.5 470.5h1.6M337 470.5h1.6M341.5 470.5h1.6M342 470.5h1.6M346.5 470.5h1.6M348 470.5h1.6M352 470.5h1.6M354.5 470.5h1.6M302.5 471h1.6M304.5 471h1.6M322.5 471h1.6M324.5 471h1.6M326 471h1.6M329.5 471h1.6M334.5 471h1.6M338.5 471h1.6M339 471h1.6M340 471h1.6M341.5 471h1.6M343.5 471h1.6M347 471h1.6M350 471h1.6M365.5 471h1.6M367 471h1.6M314 471.5h1.6M319.5 471.5h1.6M326 471.5h1.6M327.5 471.5h1.6M328.5 471.5h1.6M330.5 471.5h1.6M335 471.5h1.6M335.5 471.5h1.6M337.5 471.5h1.6M338.5 471.5h1.6M346 471.5h1.6M354 471.5h1.6M356.5 471.5h1.6M359 471.5h1.6M366.5 471.5h1.6M368 471.5h1.6M317 472h1.6M318 472h1.6M320.5 472h1.6M327 472h1.6M328.5 472h1.6M331 472h1.6M331.5 472h1.6M334.5 472h1.6M335 472h1.6M336.5 472h1.6M337.5 472h1.6M338 472h1.6M338.5 472h1.6M340.5 472h1.6M344.5 472h1.6M346.5 472h1.6M347 472h1.6M348.5 472h1.6M350 472h1.6M350.5 472h1.6M352.5 472h1.6M355 472h1.6M357 472h1.6M357.5 472h1.6M358.5 472h1.6M362.5 472h1.6M311 472.5h1.6M316 472.5h1.6M323 472.5h1.6M324 472.5h1.6M326 472.5h1.6M326.5 472.5h1.6M327 472.5h1.6M329 472.5h1.6M333 472.5h1.6M335 472.5h1.6M335.5 472.5h1.6M338 472.5h1.6M338.5 472.5h1.6M341 472.5h1.6M342 472.5h1.6M346.5 472.5h1.6M349 472.5h1.6M357 472.5h1.6M314 473h1.6M323 473h1.6M324 473h1.6M325.5 473h1.6M332.5 473h1.6M333.5 473h1.6M336 473h1.6M339 473h1.6M339.5 473h1.6M344 473h1.6M347 473h1.6M351 473h1.6M352.5 473h1.6M360.5 473h1.6M301.5 473.5h1.6M314.5 473.5h1.6M316 473.5h1.6M332.5 473.5h1.6M333 473.5h1.6M333.5 473.5h1.6M335.5 473.5h1.6M336 473.5h1.6M337 473.5h1.6M338.5 473.5h1.6M340 473.5h1.6M342.5 473.5h1.6M344 473.5h1.6M345 473.5h1.6M349 473.5h1.6M350.5 473.5h1.6M352 473.5h1.6M354 473.5h1.6M363 473.5h1.6M286.5 474h1.6M311.5 474h1.6M313 474h1.6M315 474h1.6M324 474h1.6M325.5 474h1.6M326 474h1.6M328 474h1.6M329.5 474h1.6M330 474h1.6M332 474h1.6M333 474h1.6M334 474h1.6M338 474h1.6M342 474h1.6M346.5 474h1.6M348.5 474h1.6M356.5 474h1.6M359.5 474h1.6M304.5 474.5h1.6M317.5 474.5h1.6M321.5 474.5h1.6M323.5 474.5h1.6M325.5 474.5h1.6M327 474.5h1.6M328 474.5h1.6M329.5 474.5h1.6M332.5 474.5h1.6M334.5 474.5h1.6M336.5 474.5h1.6M339 474.5h1.6M341 474.5h1.6M341.5 474.5h1.6M345.5 474.5h1.6M348.5 474.5h1.6M313.5 475h1.6M315.5 475h1.6M324 475h1.6M330.5 475h1.6M335.5 475h1.6M337.5 475h1.6M343 475h1.6M345.5 475h1.6M352 475h1.6M353 475h1.6M291.5 475.5h1.6M308.5 475.5h1.6M313 475.5h1.6M316 475.5h1.6M322 475.5h1.6M323.5 475.5h1.6M326.5 475.5h1.6M331.5 475.5h1.6M337.5 475.5h1.6M339 475.5h1.6M340 475.5h1.6M343.5 475.5h1.6M353.5 475.5h1.6M355.5 475.5h1.6M358.5 475.5h1.6M305.5 476h1.6M315.5 476h1.6M317 476h1.6M320 476h1.6M322.5 476h1.6M324 476h1.6M327 476h1.6M332 476h1.6M334.5 476h1.6M335 476h1.6M339.5 476h1.6M343.5 476h1.6M353 476h1.6M356 476h1.6M366.5 476h1.6M303.5 476.5h1.6M313 476.5h1.6M325 476.5h1.6M325.5 476.5h1.6M327 476.5h1.6M328.5 476.5h1.6M330 476.5h1.6M333.5 476.5h1.6M336 476.5h1.6M337.5 476.5h1.6M338.5 476.5h1.6M339.5 476.5h1.6M344.5 476.5h1.6M346 476.5h1.6M351.5 476.5h1.6M352 476.5h1.6M299.5 477h1.6M304 477h1.6M316.5 477h1.6M318 477h1.6M319 477h1.6M331.5 477h1.6M335 477h1.6M338 477h1.6M341 477h1.6M341.5 477h1.6M345 477h1.6M348 477h1.6M350.5 477h1.6M351 477h1.6M356.5 477h1.6M362.5 477h1.6M295 477.5h1.6M305.5 477.5h1.6M321 477.5h1.6M321.5 477.5h1.6M326.5 477.5h1.6M341.5 477.5h1.6M343.5 477.5h1.6M344 477.5h1.6M345 477.5h1.6M349.5 477.5h1.6M357 477.5h1.6M363 477.5h1.6M366 477.5h1.6M366.5 477.5h1.6M312.5 478h1.6M318.5 478h1.6M324 478h1.6M327.5 478h1.6M333.5 478h1.6M334.5 478h1.6M337 478h1.6M337.5 478h1.6M339.5 478h1.6M343.5 478h1.6M344 478h1.6M346.5 478h1.6M356 478h1.6M357 478h1.6M361 478h1.6M316 478.5h1.6M326 478.5h1.6M327.5 478.5h1.6M334 478.5h1.6M336 478.5h1.6M338 478.5h1.6M341 478.5h1.6M342 478.5h1.6M343 478.5h1.6M344.5 478.5h1.6M349 478.5h1.6M349.5 478.5h1.6M365.5 478.5h1.6M367 478.5h1.6M309.5 479h1.6M312.5 479h1.6M314 479h1.6M321.5 479h1.6M323 479h1.6M324 479h1.6M329 479h1.6M331 479h1.6M334.5 479h1.6M335 479h1.6M348 479h1.6M351.5 479h1.6M352 479h1.6M353.5 479h1.6M354 479h1.6M299.5 479.5h1.6M313 479.5h1.6M324.5 479.5h1.6M325 479.5h1.6M326.5 479.5h1.6M333 479.5h1.6M333.5 479.5h1.6M343 479.5h1.6M349 479.5h1.6M364.5 479.5h1.6M303 480h1.6M314 480h1.6M316.5 480h1.6M326.5 480h1.6M327.5 480h1.6M328 480h1.6M328.5 480h1.6M330.5 480h1.6M334.5 480h1.6M336 480h1.6M337 480h1.6M342.5 480h1.6M343.5 480h1.6M344 480h1.6M345.5 480h1.6M351 480h1.6M353 480h1.6M314.5 480.5h1.6M317.5 480.5h1.6M325 480.5h1.6M330.5 480.5h1.6M331.5 480.5h1.6M333 480.5h1.6M334.5 480.5h1.6M336 480.5h1.6M336.5 480.5h1.6M338 480.5h1.6M339.5 480.5h1.6M341.5 480.5h1.6M342 480.5h1.6M342.5 480.5h1.6M344 480.5h1.6M349 480.5h1.6M350.5 480.5h1.6M355.5 480.5h1.6M363 480.5h1.6M367 480.5h1.6M307 481h1.6M315.5 481h1.6M317.5 481h1.6M319.5 481h1.6M323.5 481h1.6M325.5 481h1.6M333.5 481h1.6M334.5 481h1.6M344 481h1.6M350.5 481h1.6M356.5 481h1.6M357 481h1.6M368 481h1.6M324 481.5h1.6M334.5 481.5h1.6M335.5 481.5h1.6M336.5 481.5h1.6M338 481.5h1.6M357.5 481.5h1.6M365.5 481.5h1.6M302.5 482h1.6M321 482h1.6M325.5 482h1.6M328 482h1.6M331.5 482h1.6M336 482h1.6M336.5 482h1.6M337 482h1.6M338.5 482h1.6M339.5 482h1.6M342 482h1.6M344 482h1.6M350.5 482h1.6M354 482h1.6M322.5 482.5h1.6M323 482.5h1.6M324 482.5h1.6M325.5 482.5h1.6M335.5 482.5h1.6M340.5 482.5h1.6M350 482.5h1.6M352 482.5h1.6M359 482.5h1.6M359.5 482.5h1.6M316 483h1.6M320 483h1.6M321 483h1.6M328.5 483h1.6M334 483h1.6M334.5 483h1.6M341 483h1.6M344 483h1.6M350 483h1.6M362.5 483h1.6M329 483.5h1.6M336 483.5h1.6M338.5 483.5h1.6M339.5 483.5h1.6M340.5 483.5h1.6M342.5 483.5h1.6M349 483.5h1.6M354 483.5h1.6M313 484h1.6M315 484h1.6M316 484h1.6M322.5 484h1.6M327 484h1.6M327.5 484h1.6M330.5 484h1.6M334 484h1.6M335.5 484h1.6M340.5 484h1.6M344 484h1.6M346 484h1.6M313.5 484.5h1.6M319 484.5h1.6M320 484.5h1.6M322.5 484.5h1.6M330.5 484.5h1.6M333.5 484.5h1.6M338 484.5h1.6M352 484.5h1.6M353 484.5h1.6M357 484.5h1.6M303.5 485h1.6M312 485h1.6M313 485h1.6M317.5 485h1.6M319.5 485h1.6M320.5 485h1.6M324 485h1.6M328 485h1.6M332.5 485h1.6M333.5 485h1.6M343.5 485h1.6M348.5 485h1.6M350 485h1.6M357.5 485h1.6M318 485.5h1.6M328.5 485.5h1.6M330 485.5h1.6M339 485.5h1.6M341 485.5h1.6M341.5 485.5h1.6M292 486h1.6M296.5 486h1.6M300 486h1.6M321 486h1.6M327 486h1.6M331.5 486h1.6M332.5 486h1.6M334 486h1.6M337.5 486h1.6M318 486.5h1.6M332 486.5h1.6M332.5 486.5h1.6M340.5 486.5h1.6M346.5 486.5h1.6M348 486.5h1.6M352 486.5h1.6M353 486.5h1.6M364.5 486.5h1.6M312.5 487h1.6M331.5 487h1.6M332.5 487h1.6M337 487h1.6M337.5 487h1.6M340.5 487h1.6M342.5 487h1.6M348 487h1.6M359.5 487h1.6M304.5 487.5h1.6M314.5 487.5h1.6M322.5 487.5h1.6M323.5 487.5h1.6M324 487.5h1.6M330.5 487.5h1.6M334.5 487.5h1.6M337.5 487.5h1.6M340.5 487.5h1.6M344 487.5h1.6M349.5 487.5h1.6M351 487.5h1.6M301.5 488h1.6M304.5 488h1.6M316.5 488h1.6M326 488h1.6M328 488h1.6M332.5 488h1.6M346 488h1.6M350 488h1.6M351.5 488h1.6M355 488h1.6M292.5 488.5h1.6M307 488.5h1.6M322 488.5h1.6M328 488.5h1.6M329.5 488.5h1.6M338.5 488.5h1.6M341.5 488.5h1.6M347 488.5h1.6M352 488.5h1.6M310.5 489h1.6M322.5 489h1.6M324.5 489h1.6M325.5 489h1.6M326 489h1.6M349.5 489h1.6M355 489h1.6M300.5 489.5h1.6M314.5 489.5h1.6M321 489.5h1.6M322.5 489.5h1.6M326.5 489.5h1.6M327 489.5h1.6M330 489.5h1.6M334 489.5h1.6M347.5 489.5h1.6M363 489.5h1.6M364.5 489.5h1.6M310.5 490h1.6M306.5 490.5h1.6M314 490.5h1.6M320 490.5h1.6M329 490.5h1.6M330 490.5h1.6M333 490.5h1.6M335.5 490.5h1.6M336.5 490.5h1.6M338 490.5h1.6M341 490.5h1.6M341.5 490.5h1.6M353 490.5h1.6M296 491h1.6M310 491h1.6M314.5 491h1.6M317 491h1.6M321 491h1.6M327.5 491h1.6M333 491h1.6M336 491h1.6M353.5 491h1.6M354.5 491h1.6M357 491h1.6M357.5 491h1.6M289 491.5h1.6M339 491.5h1.6M302 492h1.6M314 492h1.6M319 492h1.6M321.5 492h1.6M325 492h1.6M326.5 492h1.6M327.5 492h1.6M336 492h1.6M338.5 492h1.6M340 492h1.6M341 492h1.6M344.5 492h1.6M320 492.5h1.6M321 492.5h1.6M321.5 492.5h1.6M323 492.5h1.6M330 492.5h1.6M335 492.5h1.6M345.5 492.5h1.6M347 492.5h1.6M351.5 492.5h1.6M352.5 492.5h1.6M358 492.5h1.6M308.5 493h1.6M312.5 493h1.6M320.5 493h1.6M356.5 493h1.6M362 493h1.6M312 493.5h1.6M358 493.5h1.6M312 494h1.6M327 494h1.6M334.5 494h1.6M309 494.5h1.6M335 494.5h1.6M339 494.5h1.6M348 494.5h1.6M351 494.5h1.6M304 495h1.6M317 495h1.6M318.5 495h1.6M303.5 495.5h1.6M318 495.5h1.6M338 495.5h1.6M314.5 496h1.6M338 496h1.6M345.5 496h1.6M350 496h1.6M316.5 496.5h1.6M318 496.5h1.6M344.5 496.5h1.6M348 496.5h1.6M327.5 497.5h1.6M334.5 497.5h1.6M344 497.5h1.6M351 497.5h1.6M324.5 498h1.6M309 498.5h1.6M317 498.5h1.6M321.5 498.5h1.6M337 498.5h1.6M348.5 498.5h1.6M303 499h1.6M315.5 499h1.6M317.5 499h1.6M323.5 499h1.6M328.5 499h1.6M297 499.5h1.6M310.5 499.5h1.6M311 500h1.6M327.5 500h1.6M330.5 500h1.6M343 500h1.6M321.5 500.5h1.6M349.5 500.5h1.6M304 501.5h1.6M318 501.5h1.6M325 501.5h1.6M327 501.5h1.6M331 501.5h1.6M346.5 501.5h1.6M363.5 503h1.6M328.5 503.5h1.6M346.5 503.5h1.6M314 505h1.6M358.5 505h1.6M315.5 505.5h1.6M318.5 505.5h1.6M357 505.5h1.6M318.5 506.5h1.6M327 507.5h1.6M328.5 507.5h1.6M357 508h1.6M327 508.5h1.6M331 508.5h1.6M329.5 509h1.6M343.5 509h1.6M346.5 509h1.6M350 509h1.6M351 509h1.6M323.5 509.5h1.6M339 509.5h1.6M337 510.5h1.6M339.5 510.5h1.6M354.5 510.5h1.6M352 511h1.6M311 511.5h1.6M302 512h1.6M314 512h1.6M281.5 512.5h1.6M301 512.5h1.6M311.5 514.5h1.6M346 516h1.6" fill="none" stroke="#3d53b3" stroke-width="1.6"/>
<path d="M368.5 416.5h1.6M380.5 416.5h1.6M378 417h1.6M382.5 417.5h1.6M376.5 418h1.6M380.5 418h1.6M381 418h1.6M376.5 418.5h1.6M382 419h1.6M393 419.5h1.6M409.5 419.5h1.6M373 420h1.6M374 420h1.6M375 420h1.6M372 420.5h1.6M380 420.5h1.6M393 420.5h1.6M372 421h1.6M388.5 421h1.6M370.5 422h1.6M379.5 422h1.6M375.5 422.5h1.6M384.5 422.5h1.6M370 423h1.6M376.5 423h1.6M397 423h1.6M430 423h1.6M377 424h1.6M378 424h1.6M397 424h1.6M434.5 424h1.6M391.5 424.5h1.6M402 424.5h1.6M368.5 425h1.6M369 425h1.6M369.5 425h1.6M373 425h1.6M376 425h1.6M381 425h1.6M389 425h1.6M393 425h1.6M416.5 425h1.6M375.5 425.5h1.6M377 425.5h1.6M381 425.5h1.6M386 426h1.6M370.5 426.5h1.6M374.5 426.5h1.6M392 426.5h1.6M392.5 426.5h1.6M397.5 426.5h1.6M368.5 427h1.6M370 427h1.6M372 427h1.6M379 427h1.6M385.5 427h1.6M382.5 428h1.6M373.5 428.5h1.6M379.5 428.5h1.6M383.5 428.5h1.6M389 428.5h1.6M373 429h1.6M376.5 429h1.6M372.5 429.5h1.6M386 429.5h1.6M407.5 429.5h1.6M370.5 430h1.6M372.5 430h1.6M375 430h1.6M376.5 430h1.6M379 430h1.6M380.5 430h1.6M385 430h1.6M396 430h1.6M372.5 430.5h1.6M383.5 430.5h1.6M397 430.5h1.6M373 431h1.6M374 431h1.6M388 431h1.6M369 431.5h1.6M373 431.5h1.6M374.5 431.5h1.6M395 431.5h1.6M399.5 431.5h1.6M406.5 431.5h1.6M419 431.5h1.6M461.5 431.5h1.6M370.5 432h1.6M378 432h1.6M379 432h1.6M386.5 432h1.6M401.5 432h1.6M443.5 432h1.6M374 432.5h1.6M374.5 432.5h1.6M382 432.5h1.6M390 432.5h1.6M370 433h1.6M371 433h1.6M371.5 433h1.6M373 433h1.6M382 433h1.6M399.5 433h1.6M370 433.5h1.6M371 433.5h1.6M371.5 433.5h1.6M373.5 433.5h1.6M376.5 433.5h1.6M377 433.5h1.6M382 433.5h1.6M396 433.5h1.6M446.5 433.5h1.6M369.5 434h1.6M372 434h1.6M376 434h1.6M382 434h1.6M369.5 434.5h1.6M373.5 434.5h1.6M375.5 434.5h1.6M385.5 434.5h1.6M393 434.5h1.6M370.5 435h1.6M372.5 435h1.6M408 435h1.6M373.5 435.5h1.6M376.5 435.5h1.6M381 435.5h1.6M388 435.5h1.6M372.5 436h1.6M373.5 436h1.6M374.5 436h1.6M375 436h1.6M372.5 436.5h1.6M373.5 436.5h1.6M381.5 436.5h1.6M376 437h1.6M382.5 437h1.6M417 437h1.6M426.5 437h1.6M370 437.5h1.6M373 437.5h1.6M381 437.5h1.6M371.5 438h1.6M394.5 438h1.6M415 438h1.6M371 438.5h1.6M371.5 438.5h1.6M372 438.5h1.6M384.5 438.5h1.6M370.5 439h1.6M375 439h1.6M369 439.5h1.6M373.5 439.5h1.6M399 439.5h1.6M370.5 440h1.6M375 440h1.6M379.5 440h1.6M383.5 440h1.6M373.5 440.5h1.6M379 440.5h1.6M379.5 440.5h1.6M381.5 440.5h1.6M383 440.5h1.6M384.5 440.5h1.6M400.5 440.5h1.6M404 440.5h1.6M369 441h1.6M374 441h1.6M403 441h1.6M369 441.5h1.6M370.5 441.5h1.6M371 441.5h1.6M371.5 441.5h1.6M374 441.5h1.6M376 441.5h1.6M389.5 441.5h1.6M393.5 441.5h1.6M425.5 441.5h1.6M370.5 442h1.6M377.5 442h1.6M381.5 442h1.6M384.5 442h1.6M412 442h1.6M380 442.5h1.6M369.5 443h1.6M373 443h1.6M374 443h1.6M375 443h1.6M380.5 443h1.6M383.5 443h1.6M386 443h1.6M388.5 443h1.6M389 443h1.6M395.5 443h1.6M385 443.5h1.6M391.5 443.5h1.6M397 443.5h1.6M422.5 443.5h1.6M368.5 444h1.6M370 444h1.6M372 444h1.6M378 444h1.6M389 444h1.6M393.5 444h1.6M370 444.5h1.6M384 444.5h1.6M385 444.5h1.6M388.5 444.5h1.6M396 444.5h1.6M429 444.5h1.6M369.5 445h1.6M370 445h1.6M374 445h1.6M381.5 445h1.6M383 445h1.6M434 445h1.6M371.5 445.5h1.6M372 445.5h1.6M378 445.5h1.6M395 445.5h1.6M411.5 445.5h1.6M416.5 445.5h1.6M372 446h1.6M373.5 446h1.6M370 446.5h1.6M370.5 446.5h1.6M371 446.5h1.6M374 446.5h1.6M377 446.5h1.6M377.5 446.5h1.6M382.5 446.5h1.6M384.5 446.5h1.6M425.5 446.5h1.6M379 447h1.6M370 447.5h1.6M376 447.5h1.6M385 447.5h1.6M386.5 447.5h1.6M387 447.5h1.6M388.5 447.5h1.6M391.5 447.5h1.6M408 447.5h1.6M370 448h1.6M371 448h1.6M372 448h1.6M373 448h1.6M402.5 448h1.6M370 448.5h1.6M373 448.5h1.6M375.5 448.5h1.6M385 448.5h1.6M373 449h1.6M374 449h1.6M374.5 449h1.6M375 449h1.6M374 449.5h1.6M376 449.5h1.6M369 450h1.6M380.5 450h1.6M381 450h1.6M395 450h1.6M466.5 450h1.6M370 450.5h1.6M374.5 450.5h1.6M377.5 450.5h1.6M378 450.5h1.6M381.5 450.5h1.6M383 450.5h1.6M391 450.5h1.6M393.5 450.5h1.6M369.5 451h1.6M370.5 451h1.6M373.5 451h1.6M387 451h1.6M407 451h1.6M427.5 451h1.6M374 451.5h1.6M374.5 451.5h1.6M375 451.5h1.6M404.5 451.5h1.6M384 452h1.6M392.5 452h1.6M373 452.5h1.6M375.5 452.5h1.6M382.5 452.5h1.6M383 452.5h1.6M436.5 452.5h1.6M377.5 453h1.6M380.5 453h1.6M369 453.5h1.6M374.5 453.5h1.6M375.5 453.5h1.6M377 453.5h1.6M386 453.5h1.6M384.5 454h1.6M374.5 454.5h1.6M392.5 454.5h1.6M399.5 454.5h1.6M373.5 455h1.6M378 455h1.6M388.5 455h1.6M369 455.5h1.6M369.5 455.5h1.6M370 455.5h1.6M377.5 455.5h1.6M378 455.5h1.6M385 455.5h1.6M421 455.5h1.6M370 456h1.6M375 456h1.6M383 456h1.6M410.5 456h1.6M412 456h1.6M421.5 456h1.6M429.5 456h1.6M432.5 456h1.6M452 456h1.6M368.5 456.5h1.6M373.5 456.5h1.6M379 456.5h1.6M387.5 456.5h1.6M435.5 456.5h1.6M370 457h1.6M378.5 457h1.6M380.5 457h1.6M370.5 457.5h1.6M373.5 457.5h1.6M374 457.5h1.6M379 457.5h1.6M380 457.5h1.6M380.5 457.5h1.6M412.5 457.5h1.6M371 458h1.6M447 458h1.6M368.5 458.5h1.6M376 458.5h1.6M377 458.5h1.6M390 458.5h1.6M369 459h1.6M374 459h1.6M422 459h1.6M369.5 459.5h1.6M371 459.5h1.6M374.5 459.5h1.6M424 459.5h1.6M379 460h1.6M370 460.5h1.6M371.5 460.5h1.6M373 460.5h1.6M373.5 460.5h1.6M379 460.5h1.6M371.5 461h1.6M372 461h1.6M373 461.5h1.6M373.5 461.5h1.6M377.5 461.5h1.6M396 461.5h1.6M415 461.5h1.6M430.5 461.5h1.6M369 462h1.6M376 462h1.6M378 462h1.6M387 462h1.6M371 462.5h1.6M373.5 462.5h1.6M376 462.5h1.6M370.5 463h1.6M371 463h1.6M418.5 463h1.6M374.5 463.5h1.6M378.5 463.5h1.6M380.5 463.5h1.6M370.5 464h1.6M444 464h1.6M369.5 464.5h1.6M377.5 464.5h1.6M403.5 464.5h1.6M380 465h1.6M371 465.5h1.6M378.5 465.5h1.6M380.5 465.5h1.6M394 465.5h1.6M375.5 466h1.6M386.5 466h1.6M387.5 466h1.6M432 466h1.6M369.5 466.5h1.6M383 466.5h1.6M368.5 467h1.6M371 467h1.6M373 467h1.6M386 467h1.6M410 467h1.6M415.5 467h1.6M387 467.5h1.6M379.5 468h1.6M384 468h1.6M371.5 468.5h1.6M375 468.5h1.6M422 468.5h1.6M384 469h1.6M387.5 469h1.6M399.5 469h1.6M438.5 469h1.6M445.5 469h1.6M370 470h1.6M370.5 470h1.6M374 470h1.6M380 470h1.6M380.5 470h1.6M412.5 470h1.6M400 470.5h1.6M370.5 471h1.6M372.5 471h1.6M370.5 471.5h1.6M376 471.5h1.6M380 471.5h1.6M382.5 471.5h1.6M403.5 472h1.6M374.5 472.5h1.6M376 472.5h1.6M416 472.5h1.6M369.5 473.5h1.6M403 473.5h1.6M453 473.5h1.6M385.5 475h1.6M440 475h1.6M375.5 475.5h1.6M373.5 476.5h1.6M369.5 477h1.6M368.5 477.5h1.6M376.5 477.5h1.6M374 478h1.6M368.5 478.5h1.6M387.5 479h1.6M411 479h1.6M383.5 479.5h1.6M420 480h1.6M376 480.5h1.6M378 480.5h1.6M407 480.5h1.6M412 480.5h1.6M381 481h1.6M382 481.5h1.6M387 481.5h1.6M412.5 481.5h1.6M390.5 482h1.6M381 485h1.6M384.5 486h1.6M369 487.5h1.6M368.5 488.5h1.6M431 489h1.6M423 490h1.6M396 490.5h1.6M392 492.5h1.6M394 493h1.6M371 493.5h1.6M379.5 494h1.6M447 494.5h1.6M377.5 496h1.6M452 497h1.6M384 500.5h1.6M452.5 502.5h1.6M373 503h1.6M369.5 506.5h1.6M422.5 508.5h1.6" fill="none" stroke="#2fa83a" stroke-width="1.6"/>
<path d="M341 335h1.6M342 337h1.6M359 340h1.6M366 351.5h1.6M328 372h1.6M365 384.5h1.6M343 389h1.6M341.5 394.5h1.6M347 395.5h1.6M368 396.5h1.6M354.5 397h1.6M335 398h1.6M349 399h1.6M359.5 399h1.6M353.5 400.5h1.6M357 400.5h1.6M314 402h1.6M352 402h1.6M366 402.5h1.6M359.5 403h1.6M340.5 403.5h1.6M359 403.5h1.6M345.5 404.5h1.6M364.5 404.5h1.6M325 405h1.6M344.5 405h1.6M346.5 405h1.6M349 405.5h1.6M349.5 405.5h1.6M361 406h1.6M359.5 406.5h1.6M361.5 406.5h1.6M367 406.5h1.6M343.5 407h1.6M354 407h1.6M364 407h1.6M364.5 407h1.6M356.5 407.5h1.6M365 407.5h1.6M349.5 408h1.6M336.5 409h1.6M351 409h1.6M364 409h1.6M344 409.5h1.6M347 409.5h1.6M357 409.5h1.6M365 409.5h1.6M366.5 409.5h1.6M342.5 410h1.6M354.5 410h1.6M363.5 410h1.6M335.5 410.5h1.6M338 410.5h1.6M347 410.5h1.6M349.5 410.5h1.6M368 410.5h1.6M347 411h1.6M352 411h1.6M352.5 411h1.6M364 411h1.6M326.5 412h1.6M331.5 412h1.6M366.5 412.5h1.6M329.5 413h1.6M331 413h1.6M341 413h1.6M346.5 413h1.6M351 413h1.6M355.5 413h1.6M361.5 413h1.6M352.5 413.5h1.6M355 413.5h1.6M359 413.5h1.6M307 414h1.6M354 414h1.6M363.5 414h1.6M368 414h1.6M339 414.5h1.6M345.5 414.5h1.6M333 415h1.6M336 415h1.6M347 415.5h1.6M348 415.5h1.6M356 415.5h1.6M356.5 415.5h1.6M362 415.5h1.6M341 416h1.6M340.5 416.5h1.6M368 416.5h1.6" fill="none" stroke="#151515" stroke-width="1.6"/>
<path d="M469.5 292h1.6M471.5 293h1.6M469 293.5h1.6M482.5 293.5h1.6M478.5 294.5h1.6M482.5 294.5h1.6M487.5 294.5h1.6M484.5 295.5h1.6M474.5 296.5h1.6M485.5 296.5h1.6M386.5 297h1.6M471.5 297h1.6M472.5 297.5h1.6M483 297.5h1.6M484.5 298h1.6M471.5 298.5h1.6M482.5 298.5h1.6M474.5 299h1.6M476.5 299h1.6M477 299h1.6M479.5 299h1.6M482 299h1.6M474.5 299.5h1.6M482.5 299.5h1.6M485.5 299.5h1.6M486.5 299.5h1.6M481.5 300h1.6M487.5 300.5h1.6M479.5 301h1.6M415.5 301.5h1.6M475.5 301.5h1.6M477 301.5h1.6M483 301.5h1.6M486 301.5h1.6M468.5 302h1.6M477 302h1.6M478.5 302h1.6M481 302h1.6M483 302h1.6M486.5 302h1.6M478.5 302.5h1.6M488 302.5h1.6M474.5 303h1.6M484 303h1.6M478 303.5h1.6M486 303.5h1.6M473 304h1.6M479.5 304h1.6M483 304h1.6M486 304h1.6M476.5 304.5h1.6M482 304.5h1.6M478 305h1.6M480 305h1.6M482.5 305h1.6M475.5 305.5h1.6M483.5 305.5h1.6M474.5 306h1.6M485.5 306h1.6M477 306.5h1.6M480.5 306.5h1.6M481.5 306.5h1.6M485 307h1.6M487 307.5h1.6M478.5 308h1.6M487 308h1.6M482.5 308.5h1.6M483 308.5h1.6M485.5 308.5h1.6M474.5 309h1.6M481.5 309h1.6M482 309h1.6M485.5 309h1.6M487 309h1.6M471.5 309.5h1.6M473.5 309.5h1.6M483.5 309.5h1.6M486 309.5h1.6M406.5 310h1.6M474.5 310h1.6M475.5 310h1.6M478 310h1.6M481.5 311h1.6M483 311h1.6M479.5 311.5h1.6M483 311.5h1.6M487.5 311.5h1.6M478 312h1.6M480 312h1.6M484 312h1.6M484.5 312h1.6M475 313h1.6M480.5 313.5h1.6M483 313.5h1.6M486 313.5h1.6M481 314.5h1.6M487 314.5h1.6M470.5 315h1.6M453.5 315.5h1.6M477.5 315.5h1.6M480 315.5h1.6M478.5 317h1.6M481 317.5h1.6M433 318h1.6M395 318.5h1.6M484.5 319h1.6M417 320h1.6M452.5 320h1.6M466.5 320h1.6M456.5 320.5h1.6M469 320.5h1.6M477 320.5h1.6M479.5 321h1.6M481.5 321h1.6M473 322.5h1.6M436 324.5h1.6M463.5 324.5h1.6M432.5 325.5h1.6M485 326.5h1.6M478.5 329h1.6M417.5 329.5h1.6M476 330.5h1.6M411 331h1.6M445.5 332h1.6M433 333h1.6M458 337.5h1.6M394 338h1.6M461.5 339.5h1.6M441.5 340h1.6M443.5 340h1.6M404.5 340.5h1.6M422.5 342.5h1.6M475.5 343h1.6M423.5 343.5h1.6M431 343.5h1.6M382 344h1.6M439.5 344h1.6M418 344.5h1.6M465 345.5h1.6M435 348h1.6M422 348.5h1.6M409.5 349h1.6M421 351h1.6M440 351h1.6M408 352h1.6M422 353.5h1.6M453.5 355h1.6M433 355.5h1.6M437.5 356h1.6M417.5 356.5h1.6M421 357h1.6M447.5 357h1.6M453 358.5h1.6M482 359h1.6M403 359.5h1.6M437 359.5h1.6M428.5 361h1.6M472.5 361h1.6M462.5 362.5h1.6M399 363h1.6M424.5 363.5h1.6M443.5 363.5h1.6M439 364h1.6M381.5 364.5h1.6M443 364.5h1.6M410.5 365h1.6M443 365h1.6M480 365.5h1.6M431.5 366.5h1.6M402 367.5h1.6M433 368h1.6M443 368.5h1.6M430.5 369h1.6M456.5 369h1.6M398 370h1.6M432.5 370h1.6M436.5 370h1.6M424 371.5h1.6M421.5 372h1.6M435 372h1.6M456 373.5h1.6M416.5 375h1.6M394 375.5h1.6M396.5 376h1.6M414 376.5h1.6M419 377h1.6M402.5 377.5h1.6M456 378.5h1.6M440 379h1.6M449 379h1.6M461.5 380h1.6M431.5 380.5h1.6M396.5 381.5h1.6M423 382.5h1.6M405 383.5h1.6M426.5 384h1.6M393 385.5h1.6M466.5 386.5h1.6M387.5 387h1.6M414.5 387h1.6M413.5 387.5h1.6M378 390h1.6M432 390h1.6M373 391h1.6M421 394h1.6M374 396h1.6M372.5 396.5h1.6M384 397h1.6M378 397.5h1.6M375.5 398.5h1.6M375 400h1.6M403 400h1.6M426 401h1.6M376.5 401.5h1.6M382.5 401.5h1.6M374 402h1.6M387.5 402h1.6M408 402.5h1.6M429.5 403.5h1.6M384 404h1.6M479.5 404h1.6M420.5 404.5h1.6M371.5 405h1.6M369.5 405.5h1.6M374 405.5h1.6M394.5 406h1.6M368.5 406.5h1.6M369 406.5h1.6M382 406.5h1.6M368.5 407h1.6M380.5 407h1.6M382 407h1.6M377 407.5h1.6M382 407.5h1.6M384 407.5h1.6M374 408h1.6M374.5 408.5h1.6M395.5 408.5h1.6M376 409h1.6M376 409.5h1.6M391.5 409.5h1.6M403.5 409.5h1.6M372 410.5h1.6M374 410.5h1.6M384 411h1.6M372 411.5h1.6M372.5 411.5h1.6M374.5 411.5h1.6M378 411.5h1.6M385 411.5h1.6M389 411.5h1.6M429 411.5h1.6M372 412h1.6M380.5 412h1.6M381.5 412h1.6M370 413h1.6M376 413.5h1.6M377 413.5h1.6M391.5 413.5h1.6M371 414h1.6M371.5 414h1.6M373 414h1.6M377.5 414h1.6M383.5 414h1.6M396 414h1.6M370.5 415h1.6M375 415h1.6M378.5 415h1.6M376 415.5h1.6M395.5 415.5h1.6M384 416h1.6" fill="none" stroke="#e6361f" stroke-width="1.6"/>
</g>
<line x1="225.6" y1="471.3" x2="236.6" y2="471.3" stroke="#1d1527" stroke-width="1.8" stroke-linecap="butt"/>
<line x1="225.6" y1="417.4" x2="236.6" y2="417.4" stroke="#1d1527" stroke-width="1.8" stroke-linecap="butt"/>
<line x1="225.6" y1="363.9" x2="236.6" y2="363.9" stroke="#1d1527" stroke-width="1.8" stroke-linecap="butt"/>
<line x1="225.6" y1="312.8" x2="236.6" y2="312.8" stroke="#1d1527" stroke-width="1.8" stroke-linecap="butt"/>
<line x1="231.1" y1="455.07" x2="236.6" y2="455.07" stroke="#1d1527" stroke-width="1.6" stroke-linecap="butt"/>
<line x1="231.1" y1="445.58" x2="236.6" y2="445.58" stroke="#1d1527" stroke-width="1.6" stroke-linecap="butt"/>
<line x1="231.1" y1="438.85" x2="236.6" y2="438.85" stroke="#1d1527" stroke-width="1.6" stroke-linecap="butt"/>
<line x1="231.1" y1="433.63" x2="236.6" y2="433.63" stroke="#1d1527" stroke-width="1.6" stroke-linecap="butt"/>
<line x1="231.1" y1="429.36" x2="236.6" y2="429.36" stroke="#1d1527" stroke-width="1.6" stroke-linecap="butt"/>
<line x1="231.1" y1="425.75" x2="236.6" y2="425.75" stroke="#1d1527" stroke-width="1.6" stroke-linecap="butt"/>
<line x1="231.1" y1="422.62" x2="236.6" y2="422.62" stroke="#1d1527" stroke-width="1.6" stroke-linecap="butt"/>
<line x1="231.1" y1="419.87" x2="236.6" y2="419.87" stroke="#1d1527" stroke-width="1.6" stroke-linecap="butt"/>
<line x1="231.1" y1="401.29" x2="236.6" y2="401.29" stroke="#1d1527" stroke-width="1.6" stroke-linecap="butt"/>
<line x1="231.1" y1="391.87" x2="236.6" y2="391.87" stroke="#1d1527" stroke-width="1.6" stroke-linecap="butt"/>
<line x1="231.1" y1="385.19" x2="236.6" y2="385.19" stroke="#1d1527" stroke-width="1.6" stroke-linecap="butt"/>
<line x1="231.1" y1="380.01" x2="236.6" y2="380.01" stroke="#1d1527" stroke-width="1.6" stroke-linecap="butt"/>
<line x1="231.1" y1="375.77" x2="236.6" y2="375.77" stroke="#1d1527" stroke-width="1.6" stroke-linecap="butt"/>
<line x1="231.1" y1="372.19" x2="236.6" y2="372.19" stroke="#1d1527" stroke-width="1.6" stroke-linecap="butt"/>
<line x1="231.1" y1="369.08" x2="236.6" y2="369.08" stroke="#1d1527" stroke-width="1.6" stroke-linecap="butt"/>
<line x1="231.1" y1="366.35" x2="236.6" y2="366.35" stroke="#1d1527" stroke-width="1.6" stroke-linecap="butt"/>
<line x1="231.1" y1="348.52" x2="236.6" y2="348.52" stroke="#1d1527" stroke-width="1.6" stroke-linecap="butt"/>
<line x1="231.1" y1="339.52" x2="236.6" y2="339.52" stroke="#1d1527" stroke-width="1.6" stroke-linecap="butt"/>
<line x1="231.1" y1="333.13" x2="236.6" y2="333.13" stroke="#1d1527" stroke-width="1.6" stroke-linecap="butt"/>
<line x1="231.1" y1="328.18" x2="236.6" y2="328.18" stroke="#1d1527" stroke-width="1.6" stroke-linecap="butt"/>
<line x1="231.1" y1="324.14" x2="236.6" y2="324.14" stroke="#1d1527" stroke-width="1.6" stroke-linecap="butt"/>
<line x1="231.1" y1="320.72" x2="236.6" y2="320.72" stroke="#1d1527" stroke-width="1.6" stroke-linecap="butt"/>
<line x1="231.1" y1="317.75" x2="236.6" y2="317.75" stroke="#1d1527" stroke-width="1.6" stroke-linecap="butt"/>
<line x1="231.1" y1="315.14" x2="236.6" y2="315.14" stroke="#1d1527" stroke-width="1.6" stroke-linecap="butt"/>
<line x1="231.1" y1="297.42" x2="236.6" y2="297.42" stroke="#1d1527" stroke-width="1.6" stroke-linecap="butt"/>
<line x1="225.6" y1="487.8" x2="236.6" y2="487.8" stroke="#1d1527" stroke-width="3.6" stroke-linecap="butt"/>
<line x1="225.6" y1="519.6" x2="236.6" y2="519.6" stroke="#1d1527" stroke-width="1.8" stroke-linecap="butt"/>
<line x1="231.1" y1="503.7" x2="236.6" y2="503.7" stroke="#1d1527" stroke-width="1.6" stroke-linecap="butt"/>
<line x1="347.3" y1="520" x2="347.3" y2="533" stroke="#1d1527" stroke-width="1.8" stroke-linecap="butt"/>
<line x1="407.3" y1="520" x2="407.3" y2="533" stroke="#1d1527" stroke-width="1.8" stroke-linecap="butt"/>
<line x1="463.2" y1="520" x2="463.2" y2="533" stroke="#1d1527" stroke-width="1.8" stroke-linecap="butt"/>
<line x1="365.36" y1="520" x2="365.36" y2="527" stroke="#1d1527" stroke-width="1.6" stroke-linecap="butt"/>
<line x1="375.93" y1="520" x2="375.93" y2="527" stroke="#1d1527" stroke-width="1.6" stroke-linecap="butt"/>
<line x1="383.42" y1="520" x2="383.42" y2="527" stroke="#1d1527" stroke-width="1.6" stroke-linecap="butt"/>
<line x1="389.24" y1="520" x2="389.24" y2="527" stroke="#1d1527" stroke-width="1.6" stroke-linecap="butt"/>
<line x1="393.99" y1="520" x2="393.99" y2="527" stroke="#1d1527" stroke-width="1.6" stroke-linecap="butt"/>
<line x1="398.01" y1="520" x2="398.01" y2="527" stroke="#1d1527" stroke-width="1.6" stroke-linecap="butt"/>
<line x1="401.49" y1="520" x2="401.49" y2="527" stroke="#1d1527" stroke-width="1.6" stroke-linecap="butt"/>
<line x1="404.55" y1="520" x2="404.55" y2="527" stroke="#1d1527" stroke-width="1.6" stroke-linecap="butt"/>
<line x1="424.13" y1="520" x2="424.13" y2="527" stroke="#1d1527" stroke-width="1.6" stroke-linecap="butt"/>
<line x1="433.97" y1="520" x2="433.97" y2="527" stroke="#1d1527" stroke-width="1.6" stroke-linecap="butt"/>
<line x1="440.96" y1="520" x2="440.96" y2="527" stroke="#1d1527" stroke-width="1.6" stroke-linecap="butt"/>
<line x1="446.37" y1="520" x2="446.37" y2="527" stroke="#1d1527" stroke-width="1.6" stroke-linecap="butt"/>
<line x1="450.8" y1="520" x2="450.8" y2="527" stroke="#1d1527" stroke-width="1.6" stroke-linecap="butt"/>
<line x1="454.54" y1="520" x2="454.54" y2="527" stroke="#1d1527" stroke-width="1.6" stroke-linecap="butt"/>
<line x1="457.78" y1="520" x2="457.78" y2="527" stroke="#1d1527" stroke-width="1.6" stroke-linecap="butt"/>
<line x1="460.64" y1="520" x2="460.64" y2="527" stroke="#1d1527" stroke-width="1.6" stroke-linecap="butt"/>
<line x1="480.03" y1="520" x2="480.03" y2="527" stroke="#1d1527" stroke-width="1.6" stroke-linecap="butt"/>
<line x1="274.5" y1="520" x2="274.5" y2="533" stroke="#1d1527" stroke-width="3.6" stroke-linecap="butt"/>
<line x1="236.8" y1="520" x2="236.8" y2="533" stroke="#1d1527" stroke-width="1.8" stroke-linecap="butt"/>
<line x1="259.5" y1="520" x2="259.5" y2="533" stroke="#1d1527" stroke-width="1.8" stroke-linecap="butt"/>
<line x1="288.8" y1="520" x2="288.8" y2="533" stroke="#1d1527" stroke-width="1.8" stroke-linecap="butt"/>
<line x1="246.7" y1="520" x2="246.7" y2="527" stroke="#1d1527" stroke-width="1.6" stroke-linecap="butt"/>
<line x1="301.9" y1="520" x2="301.9" y2="527" stroke="#1d1527" stroke-width="1.6" stroke-linecap="butt"/>
<line x1="312.3" y1="520" x2="312.3" y2="527" stroke="#1d1527" stroke-width="1.6" stroke-linecap="butt"/>
<line x1="321.1" y1="520" x2="321.1" y2="527" stroke="#1d1527" stroke-width="1.6" stroke-linecap="butt"/>
<line x1="327" y1="520" x2="327" y2="527" stroke="#1d1527" stroke-width="1.6" stroke-linecap="butt"/>
<line x1="332.6" y1="520" x2="332.6" y2="527" stroke="#1d1527" stroke-width="1.6" stroke-linecap="butt"/>
<line x1="336.5" y1="520" x2="336.5" y2="527" stroke="#1d1527" stroke-width="1.6" stroke-linecap="butt"/>
<line x1="339.4" y1="520" x2="339.4" y2="527" stroke="#1d1527" stroke-width="1.6" stroke-linecap="butt"/>
<line x1="341.6" y1="520" x2="341.6" y2="527" stroke="#1d1527" stroke-width="1.6" stroke-linecap="butt"/>
<line x1="343.9" y1="520" x2="343.9" y2="527" stroke="#1d1527" stroke-width="1.6" stroke-linecap="butt"/>
<rect x="236.6" y="290.8" width="252.4" height="229.2" fill="none" stroke="#1d1527" stroke-width="1.9"/>
<line x1="368.3" y1="290.8" x2="368.3" y2="520" stroke="#1d1527" stroke-width="1.9" stroke-linecap="butt"/>
<line x1="236.6" y1="416.4" x2="489" y2="416.4" stroke="#1d1527" stroke-width="1.9" stroke-linecap="butt"/>
<text transform="translate(222 321.2) rotate(-90) scale(0.86 1)" font-family="'Liberation Sans', Arial, sans-serif" font-size="13.4" fill="#1d1527" stroke="#1d1527" stroke-width="0.25">10<tspan font-size="12.5" dx="0.5" dy="-8.8">5</tspan></text>
<text transform="translate(222 372.3) rotate(-90) scale(0.86 1)" font-family="'Liberation Sans', Arial, sans-serif" font-size="13.4" fill="#1d1527" stroke="#1d1527" stroke-width="0.25">10<tspan font-size="12.5" dx="0.5" dy="-8.8">4</tspan></text>
<text transform="translate(222 425.8) rotate(-90) scale(0.86 1)" font-family="'Liberation Sans', Arial, sans-serif" font-size="13.4" fill="#1d1527" stroke="#1d1527" stroke-width="0.25">10<tspan font-size="12.5" dx="0.5" dy="-8.8">3</tspan></text>
<text transform="translate(222 479.7) rotate(-90) scale(0.86 1)" font-family="'Liberation Sans', Arial, sans-serif" font-size="13.4" fill="#1d1527" stroke="#1d1527" stroke-width="0.25">10<tspan font-size="12.5" dx="0.5" dy="-8.8">2</tspan></text>
<text transform="translate(222 492.1) rotate(-90) scale(0.86 1)" font-family="'Liberation Sans', Arial, sans-serif" font-size="13.4" fill="#1d1527" stroke="#1d1527" stroke-width="0.25">0</text>
<text transform="translate(337.8 548.2) scale(0.86 1)" font-family="'Liberation Sans', Arial, sans-serif" font-size="13.4" fill="#1d1527" stroke="#1d1527" stroke-width="0.25">10<tspan font-size="12.5" dx="0.8" dy="-9">3</tspan></text>
<text transform="translate(397.8 548.2) scale(0.86 1)" font-family="'Liberation Sans', Arial, sans-serif" font-size="13.4" fill="#1d1527" stroke="#1d1527" stroke-width="0.25">10<tspan font-size="12.5" dx="0.8" dy="-9">4</tspan></text>
<text transform="translate(453.7 548.2) scale(0.86 1)" font-family="'Liberation Sans', Arial, sans-serif" font-size="13.4" fill="#1d1527" stroke="#1d1527" stroke-width="0.25">10<tspan font-size="12.5" dx="0.8" dy="-9">5</tspan></text>
<text transform="translate(270.3 548.2) scale(0.86 1)" font-family="'Liberation Sans', Arial, sans-serif" font-size="13.4" fill="#1d1527" stroke="#1d1527" stroke-width="0.25">0</text>
<text transform="translate(222 557.3) scale(0.86 1)" font-family="'Liberation Sans', Arial, sans-serif" font-size="13.4" fill="#1d1527" stroke="#1d1527" stroke-width="0.25">-308</text>
<text transform="translate(261.5 318.5) scale(0.92 1)" font-family="'Liberation Sans', Arial, sans-serif" font-size="17" fill="#1d1527">Q1</text>
<text transform="translate(374.5 318.5) scale(0.92 1)" font-family="'Liberation Sans', Arial, sans-serif" font-size="17" fill="#1d1527">Q2</text>
<text transform="translate(261 496.2) scale(0.92 1)" font-family="'Liberation Sans', Arial, sans-serif" font-size="17" fill="#1d1527">Q3</text>
<text transform="translate(374.5 496.2) scale(0.92 1)" font-family="'Liberation Sans', Arial, sans-serif" font-size="17" fill="#1d1527">Q4</text>
<text transform="translate(209.6 532) rotate(-90)" font-family="'Liberation Sans', Arial, sans-serif" font-size="12.5" fill="#1d1527" stroke="#1d1527" stroke-width="0.25">-211</text>
<g clip-path="url(#cp2)">
<path d="M763.5 417.5h1.6M765.5 417.5h1.6M768 417.5h1.6M773 417.5h1.6M782 417.5h1.6M784.5 417.5h1.6M786.5 417.5h1.6M789 417.5h1.6M774.5 418h1.6M780 418h1.6M793 418h1.6M796 418h1.6M761 418.5h1.6M775 418.5h1.6M778.5 418.5h1.6M788.5 418.5h1.6M790.5 418.5h1.6M791 418.5h1.6M795 418.5h1.6M751 419h1.6M773 419h1.6M778.5 419h1.6M782 419h1.6M783.5 419h1.6M784 419h1.6M785 419h1.6M787.5 419h1.6M789.5 419h1.6M790 419h1.6M791 419h1.6M794.5 419h1.6M761.5 419.5h1.6M766.5 419.5h1.6M768 419.5h1.6M769.5 419.5h1.6M773 419.5h1.6M776.5 419.5h1.6M777.5 419.5h1.6M779.5 419.5h1.6M780 419.5h1.6M782.5 419.5h1.6M783.5 419.5h1.6M785 419.5h1.6M785.5 419.5h1.6M788 419.5h1.6M790 419.5h1.6M792.5 419.5h1.6M795.5 419.5h1.6M757.5 420h1.6M765.5 420h1.6M772 420h1.6M776 420h1.6M778 420h1.6M780.5 420h1.6M781 420h1.6M789 420h1.6M795 420h1.6M795.5 420h1.6M760.5 420.5h1.6M761 420.5h1.6M773.5 420.5h1.6M774 420.5h1.6M776.5 420.5h1.6M782 420.5h1.6M783 420.5h1.6M787 420.5h1.6M790 420.5h1.6M791 420.5h1.6M796 420.5h1.6M728 421h1.6M763.5 421h1.6M768.5 421h1.6M769.5 421h1.6M772.5 421h1.6M773 421h1.6M775.5 421h1.6M776 421h1.6M777.5 421h1.6M779.5 421h1.6M782.5 421h1.6M783.5 421h1.6M786.5 421h1.6M788 421h1.6M789 421h1.6M761 421.5h1.6M773.5 421.5h1.6M776.5 421.5h1.6M779 421.5h1.6M780 421.5h1.6M780.5 421.5h1.6M782 421.5h1.6M785 421.5h1.6M785.5 421.5h1.6M789.5 421.5h1.6M792 421.5h1.6M792.5 421.5h1.6M793.5 421.5h1.6M795 421.5h1.6M795.5 421.5h1.6M771.5 422h1.6M777 422h1.6M780 422h1.6M781 422h1.6M786 422h1.6M786.5 422h1.6M789.5 422h1.6M792.5 422h1.6M758 422.5h1.6M765 422.5h1.6M768.5 422.5h1.6M769.5 422.5h1.6M776.5 422.5h1.6M779.5 422.5h1.6M781.5 422.5h1.6M789.5 422.5h1.6M790 422.5h1.6M790.5 422.5h1.6M791 422.5h1.6M791.5 422.5h1.6M797 422.5h1.6M760.5 423h1.6M763.5 423h1.6M764.5 423h1.6M767.5 423h1.6M769.5 423h1.6M773 423h1.6M775 423h1.6M776.5 423h1.6M783.5 423h1.6M791 423h1.6M792 423h1.6M797 423h1.6M746.5 423.5h1.6M759.5 423.5h1.6M765.5 423.5h1.6M766.5 423.5h1.6M770.5 423.5h1.6M776.5 423.5h1.6M778.5 423.5h1.6M785 423.5h1.6M789.5 423.5h1.6M791.5 423.5h1.6M792.5 423.5h1.6M795 423.5h1.6M796.5 423.5h1.6M734.5 424h1.6M744 424h1.6M752 424h1.6M756.5 424h1.6M760 424h1.6M761.5 424h1.6M763 424h1.6M768 424h1.6M770.5 424h1.6M771.5 424h1.6M774 424h1.6M775.5 424h1.6M777 424h1.6M778.5 424h1.6M779.5 424h1.6M780 424h1.6M782.5 424h1.6M785 424h1.6M790.5 424h1.6M791 424h1.6M791.5 424h1.6M793 424h1.6M796 424h1.6M756.5 424.5h1.6M761 424.5h1.6M764.5 424.5h1.6M769 424.5h1.6M773.5 424.5h1.6M777 424.5h1.6M778.5 424.5h1.6M780.5 424.5h1.6M781.5 424.5h1.6M783 424.5h1.6M783.5 424.5h1.6M787.5 424.5h1.6M788.5 424.5h1.6M790 424.5h1.6M790.5 424.5h1.6M793 424.5h1.6M795.5 424.5h1.6M749.5 425h1.6M753.5 425h1.6M755 425h1.6M764.5 425h1.6M766 425h1.6M769 425h1.6M775.5 425h1.6M776.5 425h1.6M779 425h1.6M780.5 425h1.6M782 425h1.6M783 425h1.6M785 425h1.6M788.5 425h1.6M790 425h1.6M796.5 425h1.6M753.5 425.5h1.6M758 425.5h1.6M761.5 425.5h1.6M762.5 425.5h1.6M768.5 425.5h1.6M772.5 425.5h1.6M776 425.5h1.6M777 425.5h1.6M777.5 425.5h1.6M780 425.5h1.6M782.5 425.5h1.6M783.5 425.5h1.6M790.5 425.5h1.6M793 425.5h1.6M794 425.5h1.6M795 425.5h1.6M796 425.5h1.6M756 426h1.6M757.5 426h1.6M762 426h1.6M763 426h1.6M764 426h1.6M767.5 426h1.6M774 426h1.6M776.5 426h1.6M782.5 426h1.6M785 426h1.6M786.5 426h1.6M788 426h1.6M789 426h1.6M789.5 426h1.6M790.5 426h1.6M794 426h1.6M795.5 426h1.6M753.5 426.5h1.6M756 426.5h1.6M767.5 426.5h1.6M772.5 426.5h1.6M773 426.5h1.6M776.5 426.5h1.6M779.5 426.5h1.6M781.5 426.5h1.6M789.5 426.5h1.6M791.5 426.5h1.6M796.5 426.5h1.6M753.5 427h1.6M757.5 427h1.6M760 427h1.6M763 427h1.6M771.5 427h1.6M772.5 427h1.6M776 427h1.6M777 427h1.6M778 427h1.6M779 427h1.6M779.5 427h1.6M782 427h1.6M783 427h1.6M786.5 427h1.6M788 427h1.6M789 427h1.6M792.5 427h1.6M794.5 427h1.6M748.5 427.5h1.6M760.5 427.5h1.6M764 427.5h1.6M767.5 427.5h1.6M769 427.5h1.6M773.5 427.5h1.6M780 427.5h1.6M781.5 427.5h1.6M782 427.5h1.6M785 427.5h1.6M785.5 427.5h1.6M786 427.5h1.6M793 427.5h1.6M793.5 427.5h1.6M794 427.5h1.6M794.5 427.5h1.6M797 427.5h1.6M756 428h1.6M759 428h1.6M761.5 428h1.6M766 428h1.6M770 428h1.6M776 428h1.6M779.5 428h1.6M780.5 428h1.6M781.5 428h1.6M782 428h1.6M783 428h1.6M783.5 428h1.6M786.5 428h1.6M787.5 428h1.6M790.5 428h1.6M792.5 428h1.6M741.5 428.5h1.6M752.5 428.5h1.6M754.5 428.5h1.6M765 428.5h1.6M768 428.5h1.6M769 428.5h1.6M770.5 428.5h1.6M772 428.5h1.6M772.5 428.5h1.6M773.5 428.5h1.6M774.5 428.5h1.6M775 428.5h1.6M776 428.5h1.6M776.5 428.5h1.6M777.5 428.5h1.6M780.5 428.5h1.6M783.5 428.5h1.6M787 428.5h1.6M790.5 428.5h1.6M793 428.5h1.6M797 428.5h1.6M735 429h1.6M755.5 429h1.6M757 429h1.6M759 429h1.6M762.5 429h1.6M768.5 429h1.6M770 429h1.6M778.5 429h1.6M786 429h1.6M786.5 429h1.6M787 429h1.6M788 429h1.6M791 429h1.6M792 429h1.6M792.5 429h1.6M744.5 429.5h1.6M764.5 429.5h1.6M771.5 429.5h1.6M772.5 429.5h1.6M775 429.5h1.6M775.5 429.5h1.6M778.5 429.5h1.6M779 429.5h1.6M782.5 429.5h1.6M784.5 429.5h1.6M786.5 429.5h1.6M788.5 429.5h1.6M790 429.5h1.6M791 429.5h1.6M793 429.5h1.6M794 429.5h1.6M748.5 430h1.6M749.5 430h1.6M756 430h1.6M759.5 430h1.6M774 430h1.6M778 430h1.6M781 430h1.6M782 430h1.6M782.5 430h1.6M783.5 430h1.6M785 430h1.6M786.5 430h1.6M788 430h1.6M789.5 430h1.6M790.5 430h1.6M791.5 430h1.6M793 430h1.6M793.5 430h1.6M794.5 430h1.6M745.5 430.5h1.6M751 430.5h1.6M754.5 430.5h1.6M757.5 430.5h1.6M767 430.5h1.6M770 430.5h1.6M774 430.5h1.6M786 430.5h1.6M789.5 430.5h1.6M790.5 430.5h1.6M792.5 430.5h1.6M796 430.5h1.6M796.5 430.5h1.6M756.5 431h1.6M764.5 431h1.6M765.5 431h1.6M766 431h1.6M770.5 431h1.6M771 431h1.6M771.5 431h1.6M774.5 431h1.6M775.5 431h1.6M776.5 431h1.6M780 431h1.6M780.5 431h1.6M781 431h1.6M781.5 431h1.6M783.5 431h1.6M790 431h1.6M792.5 431h1.6M793 431h1.6M793.5 431h1.6M749 431.5h1.6M751.5 431.5h1.6M756.5 431.5h1.6M757 431.5h1.6M761 431.5h1.6M762.5 431.5h1.6M765 431.5h1.6M769.5 431.5h1.6M770 431.5h1.6M772 431.5h1.6M774 431.5h1.6M775.5 431.5h1.6M776.5 431.5h1.6M778 431.5h1.6M779 431.5h1.6M782.5 431.5h1.6M784 431.5h1.6M787.5 431.5h1.6M791 431.5h1.6M792.5 431.5h1.6M795 431.5h1.6M796.5 431.5h1.6M738.5 432h1.6M743.5 432h1.6M749 432h1.6M756 432h1.6M762.5 432h1.6M764.5 432h1.6M765.5 432h1.6M766 432h1.6M768 432h1.6M772 432h1.6M772.5 432h1.6M773 432h1.6M774.5 432h1.6M776.5 432h1.6M777.5 432h1.6M778.5 432h1.6M780.5 432h1.6M784.5 432h1.6M785 432h1.6M786 432h1.6M786.5 432h1.6M787 432h1.6M787.5 432h1.6M789.5 432h1.6M790 432h1.6M791.5 432h1.6M792 432h1.6M797 432h1.6M746 432.5h1.6M748 432.5h1.6M751.5 432.5h1.6M754 432.5h1.6M756 432.5h1.6M757.5 432.5h1.6M758 432.5h1.6M758.5 432.5h1.6M763 432.5h1.6M765 432.5h1.6M767 432.5h1.6M769.5 432.5h1.6M771.5 432.5h1.6M773 432.5h1.6M774.5 432.5h1.6M778.5 432.5h1.6M779 432.5h1.6M781 432.5h1.6M783 432.5h1.6M783.5 432.5h1.6M785.5 432.5h1.6M787 432.5h1.6M787.5 432.5h1.6M791 432.5h1.6M791.5 432.5h1.6M792 432.5h1.6M793.5 432.5h1.6M752 433h1.6M753.5 433h1.6M754.5 433h1.6M764 433h1.6M766.5 433h1.6M767 433h1.6M774.5 433h1.6M775 433h1.6M775.5 433h1.6M776 433h1.6M777.5 433h1.6M779 433h1.6M781.5 433h1.6M784.5 433h1.6M785.5 433h1.6M788 433h1.6M788.5 433h1.6M792.5 433h1.6M795.5 433h1.6M797 433h1.6M747 433.5h1.6M748 433.5h1.6M750.5 433.5h1.6M752.5 433.5h1.6M754 433.5h1.6M760.5 433.5h1.6M764.5 433.5h1.6M766.5 433.5h1.6M771.5 433.5h1.6M772 433.5h1.6M772.5 433.5h1.6M774.5 433.5h1.6M776 433.5h1.6M781 433.5h1.6M784 433.5h1.6M784.5 433.5h1.6M789.5 433.5h1.6M791 433.5h1.6M792 433.5h1.6M794.5 433.5h1.6M751 434h1.6M755 434h1.6M756 434h1.6M760.5 434h1.6M761.5 434h1.6M763 434h1.6M764 434h1.6M764.5 434h1.6M769.5 434h1.6M776.5 434h1.6M777 434h1.6M777.5 434h1.6M778.5 434h1.6M781 434h1.6M782 434h1.6M788 434h1.6M790 434h1.6M791.5 434h1.6M739.5 434.5h1.6M744 434.5h1.6M747.5 434.5h1.6M753 434.5h1.6M755 434.5h1.6M758.5 434.5h1.6M759 434.5h1.6M759.5 434.5h1.6M761.5 434.5h1.6M764 434.5h1.6M765 434.5h1.6M768.5 434.5h1.6M771 434.5h1.6M771.5 434.5h1.6M772.5 434.5h1.6M775 434.5h1.6M778 434.5h1.6M778.5 434.5h1.6M779 434.5h1.6M782 434.5h1.6M783 434.5h1.6M785 434.5h1.6M789.5 434.5h1.6M792 434.5h1.6M794 434.5h1.6M797 434.5h1.6M797.5 434.5h1.6M746.5 435h1.6M762.5 435h1.6M765 435h1.6M767.5 435h1.6M769 435h1.6M770 435h1.6M770.5 435h1.6M772 435h1.6M775.5 435h1.6M778 435h1.6M779 435h1.6M779.5 435h1.6M781 435h1.6M782.5 435h1.6M783 435h1.6M783.5 435h1.6M787 435h1.6M787.5 435h1.6M792 435h1.6M792.5 435h1.6M796 435h1.6M797 435h1.6M754.5 435.5h1.6M759 435.5h1.6M759.5 435.5h1.6M761.5 435.5h1.6M762.5 435.5h1.6M764 435.5h1.6M764.5 435.5h1.6M767 435.5h1.6M768 435.5h1.6M771.5 435.5h1.6M772 435.5h1.6M775.5 435.5h1.6M776 435.5h1.6M779 435.5h1.6M780 435.5h1.6M780.5 435.5h1.6M781.5 435.5h1.6M787.5 435.5h1.6M788.5 435.5h1.6M790.5 435.5h1.6M791.5 435.5h1.6M792 435.5h1.6M795.5 435.5h1.6M797 435.5h1.6M731.5 436h1.6M751 436h1.6M756.5 436h1.6M758.5 436h1.6M761 436h1.6M761.5 436h1.6M766 436h1.6M767.5 436h1.6M770.5 436h1.6M771 436h1.6M774 436h1.6M775.5 436h1.6M777.5 436h1.6M778.5 436h1.6M780 436h1.6M782.5 436h1.6M785.5 436h1.6M787 436h1.6M787.5 436h1.6M790.5 436h1.6M794.5 436h1.6M796 436h1.6M741.5 436.5h1.6M742 436.5h1.6M746 436.5h1.6M753.5 436.5h1.6M761.5 436.5h1.6M762.5 436.5h1.6M764.5 436.5h1.6M766.5 436.5h1.6M769 436.5h1.6M769.5 436.5h1.6M770.5 436.5h1.6M771 436.5h1.6M771.5 436.5h1.6M775 436.5h1.6M777 436.5h1.6M778.5 436.5h1.6M780.5 436.5h1.6M784 436.5h1.6M787.5 436.5h1.6M788 436.5h1.6M789.5 436.5h1.6M790 436.5h1.6M790.5 436.5h1.6M741.5 437h1.6M752.5 437h1.6M756 437h1.6M756.5 437h1.6M757.5 437h1.6M758.5 437h1.6M762.5 437h1.6M765 437h1.6M767 437h1.6M767.5 437h1.6M768 437h1.6M770.5 437h1.6M772.5 437h1.6M773 437h1.6M774 437h1.6M774.5 437h1.6M775 437h1.6M776 437h1.6M776.5 437h1.6M778 437h1.6M778.5 437h1.6M779 437h1.6M779.5 437h1.6M780 437h1.6M781.5 437h1.6M787 437h1.6M788.5 437h1.6M789.5 437h1.6M792 437h1.6M792.5 437h1.6M797 437h1.6M745.5 437.5h1.6M749 437.5h1.6M753 437.5h1.6M757 437.5h1.6M760.5 437.5h1.6M765 437.5h1.6M766 437.5h1.6M766.5 437.5h1.6M767 437.5h1.6M768.5 437.5h1.6M770.5 437.5h1.6M772.5 437.5h1.6M776 437.5h1.6M777 437.5h1.6M778.5 437.5h1.6M779 437.5h1.6M780 437.5h1.6M780.5 437.5h1.6M781 437.5h1.6M782 437.5h1.6M784 437.5h1.6M786.5 437.5h1.6M787 437.5h1.6M788 437.5h1.6M791.5 437.5h1.6M797 437.5h1.6M744 438h1.6M745 438h1.6M746.5 438h1.6M756 438h1.6M756.5 438h1.6M760.5 438h1.6M764 438h1.6M764.5 438h1.6M765 438h1.6M765.5 438h1.6M766 438h1.6M767 438h1.6M770.5 438h1.6M771 438h1.6M772 438h1.6M773 438h1.6M774.5 438h1.6M779.5 438h1.6M780 438h1.6M781 438h1.6M781.5 438h1.6M782 438h1.6M783.5 438h1.6M784 438h1.6M786.5 438h1.6M787 438h1.6M788.5 438h1.6M793 438h1.6M794 438h1.6M795 438h1.6M747 438.5h1.6M749.5 438.5h1.6M750.5 438.5h1.6M751.5 438.5h1.6M759 438.5h1.6M761 438.5h1.6M762.5 438.5h1.6M770.5 438.5h1.6M771 438.5h1.6M772 438.5h1.6M772.5 438.5h1.6M773.5 438.5h1.6M774.5 438.5h1.6M775.5 438.5h1.6M778.5 438.5h1.6M779.5 438.5h1.6M780 438.5h1.6M782 438.5h1.6M782.5 438.5h1.6M783 438.5h1.6M785 438.5h1.6M787 438.5h1.6M788.5 438.5h1.6M790.5 438.5h1.6M792 438.5h1.6M794 438.5h1.6M746 439h1.6M751 439h1.6M753 439h1.6M754 439h1.6M757 439h1.6M762.5 439h1.6M765.5 439h1.6M767.5 439h1.6M768 439h1.6M769 439h1.6M769.5 439h1.6M771 439h1.6M774.5 439h1.6M776 439h1.6M776.5 439h1.6M777.5 439h1.6M778 439h1.6M780 439h1.6M783.5 439h1.6M784 439h1.6M784.5 439h1.6M785 439h1.6M786 439h1.6M790 439h1.6M792.5 439h1.6M794.5 439h1.6M737.5 439.5h1.6M746.5 439.5h1.6M754.5 439.5h1.6M756 439.5h1.6M757 439.5h1.6M757.5 439.5h1.6M759.5 439.5h1.6M762 439.5h1.6M763 439.5h1.6M764.5 439.5h1.6M768.5 439.5h1.6M769.5 439.5h1.6M771 439.5h1.6M772 439.5h1.6M772.5 439.5h1.6M773.5 439.5h1.6M775.5 439.5h1.6M777 439.5h1.6M779 439.5h1.6M783 439.5h1.6M786 439.5h1.6M786.5 439.5h1.6M788 439.5h1.6M789.5 439.5h1.6M791.5 439.5h1.6M792 439.5h1.6M748.5 440h1.6M752 440h1.6M756 440h1.6M758 440h1.6M762 440h1.6M762.5 440h1.6M767 440h1.6M767.5 440h1.6M769.5 440h1.6M770 440h1.6M772 440h1.6M774.5 440h1.6M775 440h1.6M776 440h1.6M776.5 440h1.6M778 440h1.6M778.5 440h1.6M783.5 440h1.6M785 440h1.6M785.5 440h1.6M786.5 440h1.6M787.5 440h1.6M788.5 440h1.6M793.5 440h1.6M794 440h1.6M735.5 440.5h1.6M744.5 440.5h1.6M748.5 440.5h1.6M750 440.5h1.6M755 440.5h1.6M757 440.5h1.6M760.5 440.5h1.6M762 440.5h1.6M765.5 440.5h1.6M769.5 440.5h1.6M770.5 440.5h1.6M771 440.5h1.6M771.5 440.5h1.6M774 440.5h1.6M776 440.5h1.6M777 440.5h1.6M778 440.5h1.6M778.5 440.5h1.6M779 440.5h1.6M781 440.5h1.6M783.5 440.5h1.6M786 440.5h1.6M789.5 440.5h1.6M793 440.5h1.6M735.5 441h1.6M744.5 441h1.6M745.5 441h1.6M748.5 441h1.6M751 441h1.6M755.5 441h1.6M756 441h1.6M757.5 441h1.6M760.5 441h1.6M762.5 441h1.6M763 441h1.6M763.5 441h1.6M764 441h1.6M764.5 441h1.6M765 441h1.6M765.5 441h1.6M769.5 441h1.6M770.5 441h1.6M771.5 441h1.6M773 441h1.6M775.5 441h1.6M776 441h1.6M776.5 441h1.6M778.5 441h1.6M780.5 441h1.6M781.5 441h1.6M782 441h1.6M784 441h1.6M784.5 441h1.6M786.5 441h1.6M787 441h1.6M790.5 441h1.6M791.5 441h1.6M794 441h1.6M796 441h1.6M750.5 441.5h1.6M751 441.5h1.6M752.5 441.5h1.6M753.5 441.5h1.6M755.5 441.5h1.6M758 441.5h1.6M760 441.5h1.6M764 441.5h1.6M765 441.5h1.6M765.5 441.5h1.6M767.5 441.5h1.6M768 441.5h1.6M769 441.5h1.6M771 441.5h1.6M772 441.5h1.6M775 441.5h1.6M777.5 441.5h1.6M782 441.5h1.6M782.5 441.5h1.6M783 441.5h1.6M783.5 441.5h1.6M784 441.5h1.6M785 441.5h1.6M785.5 441.5h1.6M790 441.5h1.6M790.5 441.5h1.6M794 441.5h1.6M794.5 441.5h1.6M739.5 442h1.6M745.5 442h1.6M750.5 442h1.6M752.5 442h1.6M754 442h1.6M756 442h1.6M757 442h1.6M762.5 442h1.6M764 442h1.6M765.5 442h1.6M767 442h1.6M767.5 442h1.6M768 442h1.6M769.5 442h1.6M770.5 442h1.6M773.5 442h1.6M775.5 442h1.6M776 442h1.6M779.5 442h1.6M780 442h1.6M781 442h1.6M782 442h1.6M782.5 442h1.6M784 442h1.6M786 442h1.6M786.5 442h1.6M789.5 442h1.6M796 442h1.6M745 442.5h1.6M748 442.5h1.6M753.5 442.5h1.6M755.5 442.5h1.6M756.5 442.5h1.6M757 442.5h1.6M759 442.5h1.6M759.5 442.5h1.6M760 442.5h1.6M762 442.5h1.6M763 442.5h1.6M763.5 442.5h1.6M766 442.5h1.6M767 442.5h1.6M769 442.5h1.6M770.5 442.5h1.6M771 442.5h1.6M771.5 442.5h1.6M772 442.5h1.6M772.5 442.5h1.6M774 442.5h1.6M777 442.5h1.6M777.5 442.5h1.6M778 442.5h1.6M781 442.5h1.6M782.5 442.5h1.6M783 442.5h1.6M783.5 442.5h1.6M784.5 442.5h1.6M785.5 442.5h1.6M786 442.5h1.6M786.5 442.5h1.6M788.5 442.5h1.6M791 442.5h1.6M794.5 442.5h1.6M795 442.5h1.6M796.5 442.5h1.6M748 443h1.6M752 443h1.6M753.5 443h1.6M758.5 443h1.6M764 443h1.6M764.5 443h1.6M767 443h1.6M767.5 443h1.6M769 443h1.6M771.5 443h1.6M772.5 443h1.6M773.5 443h1.6M774 443h1.6M777 443h1.6M780 443h1.6M780.5 443h1.6M784 443h1.6M786 443h1.6M787.5 443h1.6M788.5 443h1.6M790 443h1.6M792.5 443h1.6M797 443h1.6M732.5 443.5h1.6M733.5 443.5h1.6M737 443.5h1.6M747.5 443.5h1.6M748 443.5h1.6M750.5 443.5h1.6M751 443.5h1.6M753.5 443.5h1.6M754.5 443.5h1.6M757 443.5h1.6M758 443.5h1.6M759.5 443.5h1.6M761 443.5h1.6M761.5 443.5h1.6M767 443.5h1.6M768 443.5h1.6M771 443.5h1.6M773 443.5h1.6M774 443.5h1.6M779 443.5h1.6M782.5 443.5h1.6M783 443.5h1.6M786 443.5h1.6M787.5 443.5h1.6M791 443.5h1.6M792.5 443.5h1.6M793 443.5h1.6M795 443.5h1.6M718 444h1.6M744 444h1.6M747 444h1.6M749.5 444h1.6M751 444h1.6M751.5 444h1.6M753 444h1.6M755.5 444h1.6M756.5 444h1.6M758.5 444h1.6M761 444h1.6M761.5 444h1.6M763.5 444h1.6M766 444h1.6M766.5 444h1.6M768 444h1.6M769 444h1.6M769.5 444h1.6M770 444h1.6M772 444h1.6M773 444h1.6M773.5 444h1.6M774 444h1.6M775 444h1.6M776.5 444h1.6M777 444h1.6M778.5 444h1.6M780.5 444h1.6M785.5 444h1.6M787.5 444h1.6M788.5 444h1.6M790.5 444h1.6M792 444h1.6M794.5 444h1.6M737.5 444.5h1.6M747.5 444.5h1.6M750 444.5h1.6M751 444.5h1.6M753.5 444.5h1.6M757 444.5h1.6M758 444.5h1.6M758.5 444.5h1.6M759.5 444.5h1.6M761 444.5h1.6M761.5 444.5h1.6M762 444.5h1.6M763.5 444.5h1.6M764 444.5h1.6M765.5 444.5h1.6M766.5 444.5h1.6M771.5 444.5h1.6M774.5 444.5h1.6M775 444.5h1.6M776 444.5h1.6M776.5 444.5h1.6M778 444.5h1.6M778.5 444.5h1.6M779 444.5h1.6M779.5 444.5h1.6M786 444.5h1.6M789 444.5h1.6M724.5 445h1.6M750 445h1.6M750.5 445h1.6M753 445h1.6M755.5 445h1.6M757.5 445h1.6M761.5 445h1.6M763.5 445h1.6M764 445h1.6M764.5 445h1.6M765 445h1.6M769.5 445h1.6M770 445h1.6M770.5 445h1.6M773.5 445h1.6M777 445h1.6M781.5 445h1.6M783 445h1.6M787 445h1.6M790 445h1.6M791 445h1.6M792 445h1.6M794 445h1.6M740.5 445.5h1.6M743 445.5h1.6M744.5 445.5h1.6M746 445.5h1.6M747 445.5h1.6M752 445.5h1.6M755 445.5h1.6M757 445.5h1.6M758 445.5h1.6M759 445.5h1.6M760 445.5h1.6M761 445.5h1.6M761.5 445.5h1.6M762 445.5h1.6M763 445.5h1.6M767 445.5h1.6M768 445.5h1.6M770 445.5h1.6M771 445.5h1.6M771.5 445.5h1.6M772 445.5h1.6M772.5 445.5h1.6M773 445.5h1.6M773.5 445.5h1.6M775 445.5h1.6M775.5 445.5h1.6M776 445.5h1.6M776.5 445.5h1.6M777 445.5h1.6M778.5 445.5h1.6M780.5 445.5h1.6M783.5 445.5h1.6M784.5 445.5h1.6M789.5 445.5h1.6M790.5 445.5h1.6M791 445.5h1.6M792.5 445.5h1.6M793 445.5h1.6M794 445.5h1.6M732.5 446h1.6M748.5 446h1.6M753.5 446h1.6M756.5 446h1.6M759 446h1.6M761 446h1.6M762 446h1.6M763.5 446h1.6M764 446h1.6M764.5 446h1.6M767 446h1.6M770.5 446h1.6M773.5 446h1.6M774 446h1.6M775 446h1.6M775.5 446h1.6M777 446h1.6M780.5 446h1.6M784.5 446h1.6M785 446h1.6M786 446h1.6M787 446h1.6M788.5 446h1.6M790.5 446h1.6M792.5 446h1.6M795 446h1.6M796 446h1.6M796.5 446h1.6M797 446h1.6M743.5 446.5h1.6M747 446.5h1.6M757 446.5h1.6M758 446.5h1.6M760 446.5h1.6M767.5 446.5h1.6M769.5 446.5h1.6M770 446.5h1.6M771 446.5h1.6M771.5 446.5h1.6M772 446.5h1.6M773 446.5h1.6M774.5 446.5h1.6M775.5 446.5h1.6M776 446.5h1.6M776.5 446.5h1.6M778 446.5h1.6M779 446.5h1.6M779.5 446.5h1.6M780 446.5h1.6M780.5 446.5h1.6M781 446.5h1.6M781.5 446.5h1.6M782 446.5h1.6M784 446.5h1.6M785.5 446.5h1.6M789.5 446.5h1.6M790 446.5h1.6M791.5 446.5h1.6M794 446.5h1.6M794.5 446.5h1.6M795 446.5h1.6M795.5 446.5h1.6M796.5 446.5h1.6M736 447h1.6M741 447h1.6M749 447h1.6M753 447h1.6M755 447h1.6M757 447h1.6M757.5 447h1.6M759.5 447h1.6M760.5 447h1.6M761 447h1.6M761.5 447h1.6M763 447h1.6M764 447h1.6M765.5 447h1.6M766.5 447h1.6M768.5 447h1.6M769.5 447h1.6M773 447h1.6M774 447h1.6M774.5 447h1.6M775 447h1.6M775.5 447h1.6M777.5 447h1.6M778.5 447h1.6M780.5 447h1.6M781.5 447h1.6M782 447h1.6M782.5 447h1.6M784 447h1.6M787 447h1.6M787.5 447h1.6M788.5 447h1.6M797 447h1.6M739 447.5h1.6M743.5 447.5h1.6M745 447.5h1.6M747.5 447.5h1.6M752 447.5h1.6M753 447.5h1.6M753.5 447.5h1.6M755 447.5h1.6M762 447.5h1.6M762.5 447.5h1.6M763 447.5h1.6M763.5 447.5h1.6M764 447.5h1.6M765 447.5h1.6M765.5 447.5h1.6M767.5 447.5h1.6M768 447.5h1.6M768.5 447.5h1.6M769 447.5h1.6M770 447.5h1.6M771.5 447.5h1.6M772 447.5h1.6M774.5 447.5h1.6M775 447.5h1.6M776 447.5h1.6M778.5 447.5h1.6M781.5 447.5h1.6M784.5 447.5h1.6M785 447.5h1.6M785.5 447.5h1.6M787 447.5h1.6M788.5 447.5h1.6M789 447.5h1.6M792.5 447.5h1.6M793 447.5h1.6M795 447.5h1.6M747 448h1.6M751 448h1.6M753 448h1.6M753.5 448h1.6M754 448h1.6M755 448h1.6M755.5 448h1.6M756 448h1.6M757 448h1.6M762 448h1.6M764 448h1.6M766 448h1.6M767 448h1.6M767.5 448h1.6M769 448h1.6M769.5 448h1.6M774 448h1.6M774.5 448h1.6M776 448h1.6M777 448h1.6M777.5 448h1.6M778 448h1.6M779.5 448h1.6M780.5 448h1.6M781.5 448h1.6M785.5 448h1.6M786 448h1.6M786.5 448h1.6M788.5 448h1.6M790 448h1.6M790.5 448h1.6M791.5 448h1.6M796 448h1.6M745 448.5h1.6M752.5 448.5h1.6M754 448.5h1.6M755 448.5h1.6M758.5 448.5h1.6M760 448.5h1.6M761.5 448.5h1.6M762.5 448.5h1.6M763 448.5h1.6M764 448.5h1.6M765.5 448.5h1.6M771 448.5h1.6M771.5 448.5h1.6M774.5 448.5h1.6M776 448.5h1.6M776.5 448.5h1.6M778 448.5h1.6M779 448.5h1.6M779.5 448.5h1.6M781.5 448.5h1.6M785.5 448.5h1.6M787.5 448.5h1.6M789.5 448.5h1.6M739.5 449h1.6M740.5 449h1.6M742.5 449h1.6M743.5 449h1.6M748 449h1.6M749 449h1.6M749.5 449h1.6M754 449h1.6M754.5 449h1.6M755 449h1.6M756.5 449h1.6M757 449h1.6M758 449h1.6M763.5 449h1.6M764.5 449h1.6M765 449h1.6M765.5 449h1.6M766.5 449h1.6M775.5 449h1.6M778.5 449h1.6M779 449h1.6M781.5 449h1.6M786.5 449h1.6M787.5 449h1.6M791.5 449h1.6M793 449h1.6M737 449.5h1.6M740 449.5h1.6M741.5 449.5h1.6M742 449.5h1.6M743 449.5h1.6M746.5 449.5h1.6M752 449.5h1.6M753 449.5h1.6M756 449.5h1.6M759 449.5h1.6M760.5 449.5h1.6M764 449.5h1.6M764.5 449.5h1.6M766 449.5h1.6M768.5 449.5h1.6M769 449.5h1.6M770 449.5h1.6M771.5 449.5h1.6M772 449.5h1.6M773.5 449.5h1.6M776 449.5h1.6M777.5 449.5h1.6M779 449.5h1.6M781 449.5h1.6M782.5 449.5h1.6M783.5 449.5h1.6M784 449.5h1.6M788 449.5h1.6M789.5 449.5h1.6M795 449.5h1.6M733.5 450h1.6M734.5 450h1.6M746.5 450h1.6M748.5 450h1.6M751 450h1.6M751.5 450h1.6M753.5 450h1.6M754 450h1.6M758.5 450h1.6M759 450h1.6M761 450h1.6M761.5 450h1.6M762 450h1.6M763 450h1.6M768.5 450h1.6M769 450h1.6M770 450h1.6M770.5 450h1.6M771 450h1.6M772 450h1.6M775 450h1.6M776.5 450h1.6M777.5 450h1.6M778 450h1.6M779 450h1.6M779.5 450h1.6M780 450h1.6M780.5 450h1.6M783.5 450h1.6M784 450h1.6M791 450h1.6M792.5 450h1.6M793.5 450h1.6M796 450h1.6M743.5 450.5h1.6M750.5 450.5h1.6M751 450.5h1.6M752 450.5h1.6M754 450.5h1.6M755.5 450.5h1.6M760.5 450.5h1.6M761.5 450.5h1.6M762 450.5h1.6M763 450.5h1.6M765.5 450.5h1.6M766.5 450.5h1.6M767 450.5h1.6M768 450.5h1.6M768.5 450.5h1.6M769 450.5h1.6M770.5 450.5h1.6M771.5 450.5h1.6M772.5 450.5h1.6M773 450.5h1.6M774 450.5h1.6M776.5 450.5h1.6M777 450.5h1.6M778.5 450.5h1.6M781.5 450.5h1.6M782 450.5h1.6M785 450.5h1.6M787.5 450.5h1.6M790 450.5h1.6M791.5 450.5h1.6M792 450.5h1.6M793 450.5h1.6M793.5 450.5h1.6M797 450.5h1.6M740 451h1.6M746 451h1.6M751.5 451h1.6M752.5 451h1.6M754.5 451h1.6M758.5 451h1.6M759.5 451h1.6M761.5 451h1.6M763.5 451h1.6M764 451h1.6M765 451h1.6M765.5 451h1.6M766 451h1.6M766.5 451h1.6M767 451h1.6M767.5 451h1.6M768 451h1.6M769.5 451h1.6M770 451h1.6M770.5 451h1.6M771 451h1.6M771.5 451h1.6M773 451h1.6M774 451h1.6M775 451h1.6M775.5 451h1.6M777 451h1.6M778 451h1.6M781 451h1.6M783.5 451h1.6M786 451h1.6M787 451h1.6M787.5 451h1.6M792.5 451h1.6M751 451.5h1.6M754.5 451.5h1.6M759.5 451.5h1.6M760 451.5h1.6M761 451.5h1.6M762.5 451.5h1.6M763 451.5h1.6M766.5 451.5h1.6M767 451.5h1.6M767.5 451.5h1.6M769 451.5h1.6M771.5 451.5h1.6M773 451.5h1.6M773.5 451.5h1.6M777 451.5h1.6M777.5 451.5h1.6M780.5 451.5h1.6M781 451.5h1.6M781.5 451.5h1.6M782 451.5h1.6M783.5 451.5h1.6M785.5 451.5h1.6M786 451.5h1.6M786.5 451.5h1.6M787.5 451.5h1.6M792.5 451.5h1.6M793 451.5h1.6M794 451.5h1.6M734.5 452h1.6M737.5 452h1.6M744 452h1.6M747.5 452h1.6M748 452h1.6M752.5 452h1.6M754.5 452h1.6M756 452h1.6M756.5 452h1.6M757.5 452h1.6M759 452h1.6M761 452h1.6M761.5 452h1.6M762 452h1.6M762.5 452h1.6M763.5 452h1.6M764 452h1.6M765.5 452h1.6M766.5 452h1.6M767.5 452h1.6M771.5 452h1.6M772.5 452h1.6M773 452h1.6M774 452h1.6M775 452h1.6M777 452h1.6M778.5 452h1.6M779 452h1.6M781 452h1.6M784 452h1.6M789.5 452h1.6M793 452h1.6M736 452.5h1.6M740 452.5h1.6M751 452.5h1.6M752 452.5h1.6M752.5 452.5h1.6M756.5 452.5h1.6M757.5 452.5h1.6M758.5 452.5h1.6M759 452.5h1.6M760 452.5h1.6M760.5 452.5h1.6M764 452.5h1.6M765 452.5h1.6M766 452.5h1.6M766.5 452.5h1.6M768 452.5h1.6M768.5 452.5h1.6M771 452.5h1.6M773 452.5h1.6M773.5 452.5h1.6M774.5 452.5h1.6M775 452.5h1.6M775.5 452.5h1.6M778 452.5h1.6M781.5 452.5h1.6M787.5 452.5h1.6M788 452.5h1.6M795.5 452.5h1.6M724 453h1.6M733 453h1.6M741.5 453h1.6M751.5 453h1.6M754.5 453h1.6M755.5 453h1.6M757 453h1.6M757.5 453h1.6M760 453h1.6M760.5 453h1.6M764.5 453h1.6M765 453h1.6M765.5 453h1.6M766 453h1.6M767 453h1.6M771 453h1.6M771.5 453h1.6M772.5 453h1.6M773 453h1.6M775.5 453h1.6M776.5 453h1.6M780 453h1.6M781.5 453h1.6M783 453h1.6M785.5 453h1.6M786.5 453h1.6M789.5 453h1.6M791.5 453h1.6M792.5 453h1.6M793.5 453h1.6M794 453h1.6M734.5 453.5h1.6M741.5 453.5h1.6M744.5 453.5h1.6M747.5 453.5h1.6M748 453.5h1.6M750.5 453.5h1.6M751 453.5h1.6M756 453.5h1.6M756.5 453.5h1.6M758 453.5h1.6M760 453.5h1.6M761.5 453.5h1.6M763.5 453.5h1.6M764 453.5h1.6M765 453.5h1.6M765.5 453.5h1.6M766.5 453.5h1.6M767 453.5h1.6M770 453.5h1.6M771 453.5h1.6M771.5 453.5h1.6M774 453.5h1.6M775 453.5h1.6M776.5 453.5h1.6M777 453.5h1.6M777.5 453.5h1.6M779 453.5h1.6M779.5 453.5h1.6M782 453.5h1.6M784.5 453.5h1.6M786 453.5h1.6M786.5 453.5h1.6M791.5 453.5h1.6M749.5 454h1.6M751 454h1.6M751.5 454h1.6M756 454h1.6M757 454h1.6M758.5 454h1.6M759 454h1.6M759.5 454h1.6M760 454h1.6M760.5 454h1.6M762 454h1.6M762.5 454h1.6M764 454h1.6M767 454h1.6M768 454h1.6M769 454h1.6M771 454h1.6M771.5 454h1.6M775 454h1.6M776 454h1.6M777 454h1.6M777.5 454h1.6M779.5 454h1.6M782 454h1.6M790 454h1.6M791.5 454h1.6M792 454h1.6M793.5 454h1.6M795.5 454h1.6M739.5 454.5h1.6M743 454.5h1.6M744.5 454.5h1.6M747 454.5h1.6M751 454.5h1.6M752 454.5h1.6M752.5 454.5h1.6M753 454.5h1.6M753.5 454.5h1.6M755 454.5h1.6M755.5 454.5h1.6M759.5 454.5h1.6M760.5 454.5h1.6M763 454.5h1.6M763.5 454.5h1.6M764 454.5h1.6M764.5 454.5h1.6M766 454.5h1.6M768 454.5h1.6M770 454.5h1.6M773.5 454.5h1.6M774.5 454.5h1.6M775.5 454.5h1.6M781.5 454.5h1.6M784 454.5h1.6M786 454.5h1.6M794.5 454.5h1.6M740.5 455h1.6M741.5 455h1.6M745.5 455h1.6M754.5 455h1.6M755.5 455h1.6M756.5 455h1.6M759 455h1.6M761 455h1.6M765 455h1.6M765.5 455h1.6M768 455h1.6M769.5 455h1.6M772 455h1.6M776 455h1.6M776.5 455h1.6M777 455h1.6M779.5 455h1.6M780.5 455h1.6M785 455h1.6M792.5 455h1.6M795 455h1.6M737 455.5h1.6M746 455.5h1.6M749 455.5h1.6M756.5 455.5h1.6M758 455.5h1.6M758.5 455.5h1.6M759 455.5h1.6M760 455.5h1.6M761 455.5h1.6M762.5 455.5h1.6M763 455.5h1.6M763.5 455.5h1.6M764.5 455.5h1.6M766 455.5h1.6M766.5 455.5h1.6M767.5 455.5h1.6M768.5 455.5h1.6M770 455.5h1.6M770.5 455.5h1.6M771 455.5h1.6M772.5 455.5h1.6M776 455.5h1.6M777 455.5h1.6M778 455.5h1.6M779.5 455.5h1.6M780.5 455.5h1.6M781.5 455.5h1.6M784.5 455.5h1.6M785.5 455.5h1.6M788 455.5h1.6M796.5 455.5h1.6M737.5 456h1.6M740.5 456h1.6M742.5 456h1.6M745.5 456h1.6M747.5 456h1.6M748 456h1.6M751.5 456h1.6M753.5 456h1.6M756 456h1.6M757.5 456h1.6M760 456h1.6M760.5 456h1.6M761 456h1.6M761.5 456h1.6M762 456h1.6M766 456h1.6M767.5 456h1.6M768.5 456h1.6M771 456h1.6M772.5 456h1.6M774.5 456h1.6M775 456h1.6M776.5 456h1.6M778 456h1.6M784 456h1.6M785.5 456h1.6M790 456h1.6M791 456h1.6M792 456h1.6M793 456h1.6M725.5 456.5h1.6M733 456.5h1.6M737.5 456.5h1.6M742.5 456.5h1.6M745 456.5h1.6M745.5 456.5h1.6M750 456.5h1.6M757.5 456.5h1.6M758 456.5h1.6M760 456.5h1.6M762 456.5h1.6M762.5 456.5h1.6M766 456.5h1.6M766.5 456.5h1.6M768.5 456.5h1.6M769.5 456.5h1.6M771.5 456.5h1.6M777.5 456.5h1.6M779.5 456.5h1.6M782 456.5h1.6M785.5 456.5h1.6M788 456.5h1.6M790 456.5h1.6M793 456.5h1.6M797 456.5h1.6M735.5 457h1.6M742.5 457h1.6M744 457h1.6M750 457h1.6M751.5 457h1.6M755.5 457h1.6M757 457h1.6M758.5 457h1.6M762.5 457h1.6M763.5 457h1.6M764.5 457h1.6M768.5 457h1.6M769 457h1.6M770.5 457h1.6M771.5 457h1.6M773 457h1.6M773.5 457h1.6M777 457h1.6M778.5 457h1.6M780.5 457h1.6M781.5 457h1.6M797 457h1.6M732 457.5h1.6M738.5 457.5h1.6M739.5 457.5h1.6M741.5 457.5h1.6M750 457.5h1.6M753 457.5h1.6M754 457.5h1.6M755.5 457.5h1.6M756 457.5h1.6M758 457.5h1.6M759.5 457.5h1.6M760.5 457.5h1.6M761.5 457.5h1.6M762.5 457.5h1.6M763 457.5h1.6M763.5 457.5h1.6M767.5 457.5h1.6M768.5 457.5h1.6M769.5 457.5h1.6M770.5 457.5h1.6M771 457.5h1.6M772 457.5h1.6M772.5 457.5h1.6M773 457.5h1.6M774 457.5h1.6M774.5 457.5h1.6M775 457.5h1.6M775.5 457.5h1.6M776 457.5h1.6M776.5 457.5h1.6M779 457.5h1.6M780.5 457.5h1.6M782 457.5h1.6M784.5 457.5h1.6M787 457.5h1.6M788 457.5h1.6M791.5 457.5h1.6M795 457.5h1.6M796.5 457.5h1.6M739.5 458h1.6M742.5 458h1.6M743 458h1.6M745 458h1.6M748.5 458h1.6M750 458h1.6M750.5 458h1.6M753 458h1.6M756 458h1.6M757.5 458h1.6M758 458h1.6M760 458h1.6M761.5 458h1.6M762.5 458h1.6M766 458h1.6M766.5 458h1.6M770 458h1.6M771 458h1.6M772 458h1.6M773 458h1.6M774 458h1.6M775 458h1.6M775.5 458h1.6M776.5 458h1.6M777 458h1.6M777.5 458h1.6M779 458h1.6M780 458h1.6M786 458h1.6M788 458h1.6M788.5 458h1.6M794 458h1.6M794.5 458h1.6M739 458.5h1.6M745 458.5h1.6M752.5 458.5h1.6M754 458.5h1.6M754.5 458.5h1.6M755.5 458.5h1.6M757.5 458.5h1.6M758.5 458.5h1.6M759 458.5h1.6M759.5 458.5h1.6M760 458.5h1.6M761.5 458.5h1.6M762.5 458.5h1.6M763 458.5h1.6M766 458.5h1.6M767 458.5h1.6M767.5 458.5h1.6M768.5 458.5h1.6M769 458.5h1.6M771.5 458.5h1.6M772 458.5h1.6M773 458.5h1.6M777.5 458.5h1.6M783 458.5h1.6M784 458.5h1.6M787.5 458.5h1.6M743.5 459h1.6M754 459h1.6M757.5 459h1.6M759 459h1.6M761 459h1.6M764 459h1.6M764.5 459h1.6M765.5 459h1.6M769 459h1.6M770 459h1.6M772 459h1.6M772.5 459h1.6M777 459h1.6M780 459h1.6M781 459h1.6M781.5 459h1.6M782 459h1.6M784.5 459h1.6M785.5 459h1.6M786.5 459h1.6M788.5 459h1.6M789.5 459h1.6M792.5 459h1.6M734.5 459.5h1.6M738.5 459.5h1.6M740.5 459.5h1.6M743 459.5h1.6M743.5 459.5h1.6M748.5 459.5h1.6M757 459.5h1.6M758 459.5h1.6M758.5 459.5h1.6M760.5 459.5h1.6M762 459.5h1.6M764 459.5h1.6M767.5 459.5h1.6M771 459.5h1.6M772 459.5h1.6M780 459.5h1.6M788.5 459.5h1.6M737.5 460h1.6M739 460h1.6M744 460h1.6M748 460h1.6M750 460h1.6M751 460h1.6M752 460h1.6M753 460h1.6M754 460h1.6M756 460h1.6M756.5 460h1.6M758 460h1.6M761.5 460h1.6M762.5 460h1.6M763 460h1.6M764.5 460h1.6M766 460h1.6M767 460h1.6M768 460h1.6M768.5 460h1.6M772.5 460h1.6M773 460h1.6M773.5 460h1.6M775.5 460h1.6M778.5 460h1.6M779 460h1.6M780 460h1.6M781.5 460h1.6M783.5 460h1.6M786 460h1.6M789.5 460h1.6M795.5 460h1.6M736 460.5h1.6M738 460.5h1.6M746 460.5h1.6M749 460.5h1.6M751 460.5h1.6M752.5 460.5h1.6M754 460.5h1.6M754.5 460.5h1.6M757 460.5h1.6M760.5 460.5h1.6M761 460.5h1.6M763 460.5h1.6M763.5 460.5h1.6M765 460.5h1.6M766 460.5h1.6M767.5 460.5h1.6M770.5 460.5h1.6M771 460.5h1.6M772.5 460.5h1.6M775.5 460.5h1.6M776.5 460.5h1.6M779.5 460.5h1.6M782 460.5h1.6M787 460.5h1.6M787.5 460.5h1.6M788 460.5h1.6M789 460.5h1.6M792 460.5h1.6M740.5 461h1.6M743.5 461h1.6M753.5 461h1.6M754 461h1.6M756 461h1.6M756.5 461h1.6M757 461h1.6M759 461h1.6M759.5 461h1.6M760.5 461h1.6M762 461h1.6M763 461h1.6M764 461h1.6M764.5 461h1.6M765.5 461h1.6M768 461h1.6M768.5 461h1.6M770 461h1.6M770.5 461h1.6M772.5 461h1.6M776.5 461h1.6M777 461h1.6M778.5 461h1.6M782.5 461h1.6M784 461h1.6M787 461h1.6M790.5 461h1.6M792.5 461h1.6M794 461h1.6M725 461.5h1.6M734 461.5h1.6M747 461.5h1.6M754 461.5h1.6M758.5 461.5h1.6M760.5 461.5h1.6M761 461.5h1.6M761.5 461.5h1.6M762 461.5h1.6M763 461.5h1.6M764.5 461.5h1.6M765.5 461.5h1.6M767 461.5h1.6M769.5 461.5h1.6M771 461.5h1.6M771.5 461.5h1.6M773 461.5h1.6M773.5 461.5h1.6M778.5 461.5h1.6M779 461.5h1.6M780.5 461.5h1.6M784 461.5h1.6M788.5 461.5h1.6M794 461.5h1.6M742.5 462h1.6M743 462h1.6M746.5 462h1.6M751 462h1.6M753 462h1.6M754 462h1.6M754.5 462h1.6M756 462h1.6M757 462h1.6M758.5 462h1.6M759 462h1.6M761 462h1.6M761.5 462h1.6M762 462h1.6M763 462h1.6M764 462h1.6M764.5 462h1.6M768 462h1.6M769 462h1.6M770 462h1.6M778.5 462h1.6M779.5 462h1.6M781 462h1.6M783 462h1.6M783.5 462h1.6M785 462h1.6M789 462h1.6M789.5 462h1.6M750 462.5h1.6M752.5 462.5h1.6M756 462.5h1.6M757 462.5h1.6M761 462.5h1.6M763 462.5h1.6M765.5 462.5h1.6M766.5 462.5h1.6M767.5 462.5h1.6M769 462.5h1.6M770 462.5h1.6M773 462.5h1.6M773.5 462.5h1.6M775 462.5h1.6M780 462.5h1.6M783 462.5h1.6M786.5 462.5h1.6M790 462.5h1.6M794 462.5h1.6M795 462.5h1.6M796.5 462.5h1.6M732.5 463h1.6M746 463h1.6M753 463h1.6M753.5 463h1.6M754 463h1.6M758 463h1.6M758.5 463h1.6M759 463h1.6M761.5 463h1.6M762 463h1.6M764.5 463h1.6M766.5 463h1.6M767 463h1.6M768 463h1.6M769 463h1.6M771 463h1.6M774.5 463h1.6M778.5 463h1.6M779.5 463h1.6M784.5 463h1.6M785 463h1.6M785.5 463h1.6M789.5 463h1.6M791.5 463h1.6M797 463h1.6M740.5 463.5h1.6M749.5 463.5h1.6M751 463.5h1.6M755.5 463.5h1.6M757 463.5h1.6M758.5 463.5h1.6M765 463.5h1.6M766 463.5h1.6M767.5 463.5h1.6M771 463.5h1.6M774 463.5h1.6M775.5 463.5h1.6M780.5 463.5h1.6M781.5 463.5h1.6M733.5 464h1.6M747 464h1.6M748.5 464h1.6M756 464h1.6M759 464h1.6M761 464h1.6M762 464h1.6M763.5 464h1.6M766.5 464h1.6M767.5 464h1.6M771.5 464h1.6M774 464h1.6M774.5 464h1.6M775 464h1.6M776 464h1.6M776.5 464h1.6M781.5 464h1.6M784 464h1.6M786 464h1.6M726.5 464.5h1.6M729.5 464.5h1.6M736 464.5h1.6M737.5 464.5h1.6M751 464.5h1.6M754.5 464.5h1.6M755.5 464.5h1.6M758 464.5h1.6M758.5 464.5h1.6M760.5 464.5h1.6M761 464.5h1.6M762 464.5h1.6M764 464.5h1.6M767.5 464.5h1.6M771 464.5h1.6M771.5 464.5h1.6M780 464.5h1.6M781 464.5h1.6M786.5 464.5h1.6M789 464.5h1.6M796 464.5h1.6M737 465h1.6M743 465h1.6M743.5 465h1.6M748.5 465h1.6M749.5 465h1.6M751.5 465h1.6M753 465h1.6M753.5 465h1.6M754 465h1.6M758.5 465h1.6M760.5 465h1.6M762.5 465h1.6M768.5 465h1.6M771.5 465h1.6M773 465h1.6M778.5 465h1.6M780.5 465h1.6M782 465h1.6M782.5 465h1.6M784.5 465h1.6M786.5 465h1.6M789 465h1.6M743 465.5h1.6M744 465.5h1.6M744.5 465.5h1.6M746.5 465.5h1.6M749 465.5h1.6M750.5 465.5h1.6M755 465.5h1.6M756.5 465.5h1.6M760.5 465.5h1.6M763.5 465.5h1.6M764.5 465.5h1.6M766.5 465.5h1.6M767.5 465.5h1.6M769.5 465.5h1.6M771 465.5h1.6M771.5 465.5h1.6M772 465.5h1.6M773.5 465.5h1.6M775 465.5h1.6M775.5 465.5h1.6M778 465.5h1.6M783.5 465.5h1.6M795 465.5h1.6M742.5 466h1.6M749 466h1.6M758.5 466h1.6M760.5 466h1.6M761 466h1.6M768 466h1.6M768.5 466h1.6M770.5 466h1.6M771 466h1.6M772.5 466h1.6M774.5 466h1.6M777 466h1.6M777.5 466h1.6M781 466h1.6M788 466h1.6M790.5 466h1.6M794.5 466h1.6M742.5 466.5h1.6M747 466.5h1.6M749 466.5h1.6M749.5 466.5h1.6M751.5 466.5h1.6M753.5 466.5h1.6M756 466.5h1.6M758.5 466.5h1.6M760.5 466.5h1.6M761 466.5h1.6M762.5 466.5h1.6M763 466.5h1.6M766.5 466.5h1.6M767 466.5h1.6M775 466.5h1.6M775.5 466.5h1.6M776 466.5h1.6M777.5 466.5h1.6M782 466.5h1.6M785.5 466.5h1.6M737 467h1.6M747.5 467h1.6M749.5 467h1.6M751.5 467h1.6M752 467h1.6M757.5 467h1.6M760.5 467h1.6M761 467h1.6M761.5 467h1.6M765.5 467h1.6M772 467h1.6M775.5 467h1.6M777 467h1.6M778.5 467h1.6M782 467h1.6M784.5 467h1.6M785.5 467h1.6M790 467h1.6M792 467h1.6M732 467.5h1.6M742.5 467.5h1.6M746 467.5h1.6M747 467.5h1.6M750.5 467.5h1.6M755.5 467.5h1.6M757 467.5h1.6M760 467.5h1.6M761 467.5h1.6M762 467.5h1.6M764 467.5h1.6M764.5 467.5h1.6M766.5 467.5h1.6M767.5 467.5h1.6M772 467.5h1.6M774 467.5h1.6M777.5 467.5h1.6M778.5 467.5h1.6M789.5 467.5h1.6M747.5 468h1.6M748.5 468h1.6M749 468h1.6M750 468h1.6M752 468h1.6M753 468h1.6M753.5 468h1.6M759 468h1.6M761.5 468h1.6M762 468h1.6M763 468h1.6M766 468h1.6M767.5 468h1.6M771.5 468h1.6M775.5 468h1.6M777 468h1.6M778 468h1.6M783 468h1.6M724.5 468.5h1.6M734 468.5h1.6M738.5 468.5h1.6M740 468.5h1.6M740.5 468.5h1.6M742 468.5h1.6M746.5 468.5h1.6M748 468.5h1.6M753 468.5h1.6M756.5 468.5h1.6M757.5 468.5h1.6M759 468.5h1.6M760 468.5h1.6M764 468.5h1.6M765 468.5h1.6M770 468.5h1.6M777.5 468.5h1.6M779.5 468.5h1.6M784 468.5h1.6M742 469h1.6M747 469h1.6M754 469h1.6M758 469h1.6M758.5 469h1.6M759 469h1.6M760 469h1.6M762.5 469h1.6M764 469h1.6M771.5 469h1.6M772.5 469h1.6M776.5 469h1.6M782.5 469h1.6M750 469.5h1.6M757.5 469.5h1.6M758.5 469.5h1.6M759.5 469.5h1.6M760 469.5h1.6M761 469.5h1.6M761.5 469.5h1.6M766.5 469.5h1.6M772.5 469.5h1.6M774.5 469.5h1.6M776.5 469.5h1.6M784.5 469.5h1.6M739 470h1.6M748.5 470h1.6M755 470h1.6M759 470h1.6M761.5 470h1.6M762 470h1.6M763 470h1.6M768 470h1.6M768.5 470h1.6M770.5 470h1.6M775.5 470h1.6M776 470h1.6M777 470h1.6M777.5 470h1.6M749.5 470.5h1.6M751 470.5h1.6M753 470.5h1.6M754.5 470.5h1.6M756 470.5h1.6M757.5 470.5h1.6M761.5 470.5h1.6M763 470.5h1.6M766.5 470.5h1.6M769 470.5h1.6M770 470.5h1.6M773.5 470.5h1.6M774.5 470.5h1.6M778.5 470.5h1.6M780.5 470.5h1.6M781 470.5h1.6M789 470.5h1.6M791.5 470.5h1.6M793 470.5h1.6M728.5 471h1.6M744.5 471h1.6M745.5 471h1.6M750 471h1.6M753 471h1.6M757.5 471h1.6M758 471h1.6M759.5 471h1.6M762 471h1.6M762.5 471h1.6M766 471h1.6M766.5 471h1.6M767 471h1.6M767.5 471h1.6M769 471h1.6M779 471h1.6M781.5 471h1.6M721.5 471.5h1.6M727.5 471.5h1.6M728.5 471.5h1.6M734.5 471.5h1.6M739 471.5h1.6M740 471.5h1.6M743.5 471.5h1.6M753.5 471.5h1.6M754.5 471.5h1.6M755.5 471.5h1.6M760.5 471.5h1.6M762.5 471.5h1.6M770 471.5h1.6M771.5 471.5h1.6M772 471.5h1.6M773 471.5h1.6M778.5 471.5h1.6M782 471.5h1.6M788.5 471.5h1.6M727.5 472h1.6M734 472h1.6M740.5 472h1.6M745.5 472h1.6M746 472h1.6M748 472h1.6M749 472h1.6M749.5 472h1.6M760 472h1.6M761 472h1.6M762 472h1.6M763.5 472h1.6M764.5 472h1.6M768.5 472h1.6M772.5 472h1.6M773.5 472h1.6M774.5 472h1.6M788 472h1.6M795.5 472h1.6M737.5 472.5h1.6M742 472.5h1.6M750 472.5h1.6M753.5 472.5h1.6M754 472.5h1.6M756 472.5h1.6M761.5 472.5h1.6M767.5 472.5h1.6M771 472.5h1.6M779.5 472.5h1.6M789 472.5h1.6M737.5 473h1.6M739.5 473h1.6M743.5 473h1.6M747.5 473h1.6M749.5 473h1.6M750 473h1.6M756.5 473h1.6M757.5 473h1.6M761.5 473h1.6M770 473h1.6M778.5 473h1.6M781 473h1.6M788 473h1.6M740 473.5h1.6M746 473.5h1.6M748 473.5h1.6M749.5 473.5h1.6M751.5 473.5h1.6M757 473.5h1.6M762.5 473.5h1.6M767 473.5h1.6M769.5 473.5h1.6M772 473.5h1.6M773 473.5h1.6M775 473.5h1.6M779 473.5h1.6M782 473.5h1.6M790.5 473.5h1.6M737 474h1.6M740 474h1.6M751 474h1.6M751.5 474h1.6M755 474h1.6M770.5 474h1.6M777.5 474h1.6M785 474h1.6M744.5 474.5h1.6M751 474.5h1.6M752.5 474.5h1.6M757.5 474.5h1.6M761 474.5h1.6M763 474.5h1.6M768.5 474.5h1.6M772.5 474.5h1.6M779.5 474.5h1.6M780 474.5h1.6M783 474.5h1.6M783.5 474.5h1.6M785 474.5h1.6M795.5 474.5h1.6M796.5 474.5h1.6M740 475h1.6M741 475h1.6M753.5 475h1.6M754 475h1.6M757.5 475h1.6M758.5 475h1.6M760.5 475h1.6M763 475h1.6M766 475h1.6M769 475h1.6M769.5 475h1.6M774.5 475h1.6M776 475h1.6M785 475h1.6M745 475.5h1.6M752 475.5h1.6M755 475.5h1.6M759 475.5h1.6M760 475.5h1.6M762 475.5h1.6M767 475.5h1.6M770.5 475.5h1.6M776.5 475.5h1.6M782.5 475.5h1.6M787.5 475.5h1.6M741.5 476h1.6M748.5 476h1.6M752.5 476h1.6M754.5 476h1.6M755 476h1.6M756.5 476h1.6M760 476h1.6M760.5 476h1.6M764.5 476h1.6M766.5 476h1.6M769 476h1.6M772.5 476h1.6M791.5 476h1.6M727 476.5h1.6M752.5 476.5h1.6M754.5 476.5h1.6M755.5 476.5h1.6M757.5 476.5h1.6M763 476.5h1.6M774.5 476.5h1.6M776.5 476.5h1.6M786 476.5h1.6M789 476.5h1.6M744 477h1.6M746 477h1.6M747.5 477h1.6M759.5 477h1.6M763 477h1.6M764 477h1.6M765.5 477h1.6M767.5 477h1.6M771 477h1.6M775.5 477h1.6M789.5 477h1.6M794 477h1.6M738 477.5h1.6M743 477.5h1.6M745 477.5h1.6M745.5 477.5h1.6M749.5 477.5h1.6M763 477.5h1.6M763.5 477.5h1.6M766 477.5h1.6M773.5 477.5h1.6M726 478h1.6M741 478h1.6M752 478h1.6M763 478h1.6M763.5 478h1.6M778.5 478h1.6M779 478h1.6M791.5 478h1.6M748.5 478.5h1.6M751.5 478.5h1.6M759.5 478.5h1.6M763.5 478.5h1.6M771.5 478.5h1.6M735.5 479h1.6M753 479h1.6M756 479h1.6M756.5 479h1.6M759.5 479h1.6M761.5 479h1.6M765.5 479h1.6M766 479h1.6M772 479h1.6M795.5 479h1.6M757.5 479.5h1.6M768.5 479.5h1.6M787 479.5h1.6M790.5 479.5h1.6M734.5 480h1.6M752 480h1.6M758 480h1.6M760.5 480h1.6M772.5 480h1.6M785.5 480h1.6M786.5 480h1.6M746 480.5h1.6M747.5 480.5h1.6M760 480.5h1.6M763 480.5h1.6M765.5 480.5h1.6M781 480.5h1.6M731.5 481h1.6M745 481h1.6M758 481h1.6M760.5 481h1.6M763.5 481h1.6M776.5 481h1.6M778 481h1.6M784.5 481h1.6M735.5 481.5h1.6M742.5 481.5h1.6M765 481.5h1.6M777 481.5h1.6M746 482h1.6M751 482h1.6M753 482h1.6M759 482h1.6M759.5 482h1.6M773 482h1.6M774.5 482h1.6M775 482h1.6M736 482.5h1.6M746 482.5h1.6M747 482.5h1.6M755.5 482.5h1.6M765.5 482.5h1.6M786 482.5h1.6M790.5 482.5h1.6M722.5 483h1.6M756 483h1.6M757 483h1.6M761.5 483h1.6M776 483h1.6M742.5 483.5h1.6M746 483.5h1.6M764.5 483.5h1.6M773 483.5h1.6M782.5 483.5h1.6M737.5 484h1.6M756.5 484h1.6M771.5 484h1.6M737.5 484.5h1.6M748.5 484.5h1.6M764.5 484.5h1.6M778.5 484.5h1.6M746 485h1.6M758 485h1.6M771 485h1.6M775.5 485h1.6M730.5 485.5h1.6M738 485.5h1.6M747.5 485.5h1.6M758 485.5h1.6M768.5 485.5h1.6M780 485.5h1.6M734.5 486h1.6M758 486h1.6M761.5 486h1.6M753 486.5h1.6M755 486.5h1.6M743.5 487h1.6M748.5 487h1.6M756 487h1.6M767 487h1.6M741 487.5h1.6M769.5 487.5h1.6M776 487.5h1.6M749 488h1.6M784.5 488h1.6M748.5 488.5h1.6M756 488.5h1.6M763 488.5h1.6M742 489h1.6M757 489h1.6M771.5 489h1.6M758.5 489.5h1.6M788.5 491h1.6M745 492h1.6M761 492h1.6M756.5 493.5h1.6M757.5 494h1.6M738.5 494.5h1.6M739 494.5h1.6M741.5 495h1.6M757 496h1.6M738.5 497h1.6M739.5 497h1.6M769.5 499.5h1.6M777 500h1.6M768 501.5h1.6" fill="none" stroke="#4470cc" stroke-width="1.6"/>
<path d="M802.5 417.5h1.6M804 417.5h1.6M804.5 417.5h1.6M806.5 417.5h1.6M811 417.5h1.6M815.5 417.5h1.6M827 417.5h1.6M862.5 417.5h1.6M800.5 418h1.6M804 418h1.6M806 418h1.6M806.5 418h1.6M807.5 418h1.6M809.5 418h1.6M822 418h1.6M800 418.5h1.6M801.5 418.5h1.6M805.5 418.5h1.6M806.5 418.5h1.6M809.5 418.5h1.6M813 418.5h1.6M823.5 418.5h1.6M798 419h1.6M801 419h1.6M809.5 419h1.6M815 419h1.6M800 419.5h1.6M806 419.5h1.6M807.5 419.5h1.6M810.5 419.5h1.6M812.5 419.5h1.6M815 419.5h1.6M818.5 419.5h1.6M821.5 419.5h1.6M822.5 419.5h1.6M869 419.5h1.6M801 420h1.6M802.5 420h1.6M803 420h1.6M816 420h1.6M822 420h1.6M869.5 420h1.6M797.5 420.5h1.6M800.5 420.5h1.6M803.5 420.5h1.6M860 420.5h1.6M881 420.5h1.6M798.5 421h1.6M816 421h1.6M797.5 421.5h1.6M804 421.5h1.6M804.5 421.5h1.6M805.5 421.5h1.6M806 421.5h1.6M813 421.5h1.6M818 421.5h1.6M838.5 421.5h1.6M841 421.5h1.6M797.5 422h1.6M800 422h1.6M803 422h1.6M809 422h1.6M811.5 422h1.6M830.5 422h1.6M804.5 422.5h1.6M810.5 422.5h1.6M812 422.5h1.6M816 422.5h1.6M844 422.5h1.6M798.5 423h1.6M801.5 423h1.6M803 423h1.6M805.5 423h1.6M811 423h1.6M814.5 423h1.6M815 423h1.6M816 423h1.6M818 423h1.6M819 423h1.6M821.5 423h1.6M832.5 423h1.6M833 423h1.6M859 423h1.6M801.5 423.5h1.6M802 423.5h1.6M803.5 423.5h1.6M807.5 423.5h1.6M899.5 423.5h1.6M799.5 424h1.6M802.5 424h1.6M804 424h1.6M812 424h1.6M825 424h1.6M876 424h1.6M797.5 424.5h1.6M798.5 424.5h1.6M801 424.5h1.6M801.5 424.5h1.6M803.5 424.5h1.6M798.5 425h1.6M802 425h1.6M803.5 425h1.6M807 425h1.6M807.5 425h1.6M810.5 425h1.6M812 425h1.6M813 425h1.6M818 425h1.6M818.5 425h1.6M819 425h1.6M822 425h1.6M843.5 425h1.6M798.5 425.5h1.6M800.5 425.5h1.6M801.5 425.5h1.6M807 425.5h1.6M810.5 425.5h1.6M798.5 426h1.6M830.5 426h1.6M833.5 426h1.6M798 426.5h1.6M807 426.5h1.6M833.5 426.5h1.6M853.5 426.5h1.6M805 427h1.6M811.5 427h1.6M814.5 427h1.6M815.5 427h1.6M818.5 427h1.6M821.5 427h1.6M852 427h1.6M799.5 427.5h1.6M801 427.5h1.6M802.5 427.5h1.6M804.5 427.5h1.6M805 427.5h1.6M808 427.5h1.6M808.5 427.5h1.6M809 427.5h1.6M813 427.5h1.6M813.5 427.5h1.6M815.5 427.5h1.6M797.5 428h1.6M798 428h1.6M799 428h1.6M807 428h1.6M810 428h1.6M813 428h1.6M821.5 428h1.6M858.5 428h1.6M799.5 428.5h1.6M802.5 428.5h1.6M806.5 428.5h1.6M813 428.5h1.6M818 428.5h1.6M867 428.5h1.6M798 429h1.6M800 429h1.6M809 429h1.6M817.5 429h1.6M818.5 429h1.6M820 429h1.6M802.5 429.5h1.6M811 429.5h1.6M890.5 429.5h1.6M800.5 430h1.6M801 430h1.6M801.5 430h1.6M802.5 430h1.6M826.5 430h1.6M802 430.5h1.6M803.5 430.5h1.6M804 430.5h1.6M808 430.5h1.6M813 430.5h1.6M830 430.5h1.6M831.5 430.5h1.6M798.5 431h1.6M800 431h1.6M804 431h1.6M804.5 431h1.6M809 431h1.6M810.5 431h1.6M818 431h1.6M821 431h1.6M830.5 431h1.6M799 431.5h1.6M800.5 431.5h1.6M802 431.5h1.6M803.5 431.5h1.6M810 431.5h1.6M813.5 431.5h1.6M823 431.5h1.6M801 432h1.6M804.5 432h1.6M811.5 432h1.6M814 432h1.6M825.5 432h1.6M832.5 432h1.6M801.5 432.5h1.6M802 432.5h1.6M803.5 432.5h1.6M812 432.5h1.6M815.5 432.5h1.6M799.5 433h1.6M802.5 433h1.6M807.5 433h1.6M808.5 433h1.6M809 433h1.6M810 433h1.6M810.5 433h1.6M813.5 433h1.6M817 433h1.6M817.5 433h1.6M820.5 433h1.6M821.5 433h1.6M825 433h1.6M826 433h1.6M875 433h1.6M805 433.5h1.6M808.5 433.5h1.6M811.5 433.5h1.6M814.5 433.5h1.6M815.5 433.5h1.6M823.5 433.5h1.6M865.5 433.5h1.6M801.5 434h1.6M808 434h1.6M810.5 434h1.6M812.5 434h1.6M816.5 434h1.6M834.5 434h1.6M839.5 434h1.6M872.5 434h1.6M798 434.5h1.6M799.5 434.5h1.6M806 434.5h1.6M816.5 434.5h1.6M818 434.5h1.6M827 434.5h1.6M846 434.5h1.6M886 434.5h1.6M798 435h1.6M799.5 435h1.6M800.5 435h1.6M802.5 435h1.6M803 435h1.6M804.5 435h1.6M806 435h1.6M811.5 435h1.6M813.5 435h1.6M799.5 435.5h1.6M800 435.5h1.6M800.5 435.5h1.6M801.5 435.5h1.6M811 435.5h1.6M838.5 435.5h1.6M808.5 436h1.6M812 436h1.6M816.5 436h1.6M817.5 436h1.6M825.5 436h1.6M880.5 436h1.6M798 436.5h1.6M798.5 436.5h1.6M806 436.5h1.6M811.5 436.5h1.6M813.5 436.5h1.6M818 436.5h1.6M842.5 436.5h1.6M798 437h1.6M813.5 437h1.6M818.5 437h1.6M819 437h1.6M820.5 437h1.6M821.5 437h1.6M828 437h1.6M803 437.5h1.6M803.5 437.5h1.6M806.5 437.5h1.6M808 437.5h1.6M810 437.5h1.6M812 437.5h1.6M815.5 437.5h1.6M833 437.5h1.6M803.5 438h1.6M805.5 438h1.6M810 438h1.6M812 438h1.6M815 438h1.6M840.5 438h1.6M802 438.5h1.6M802.5 438.5h1.6M803.5 438.5h1.6M805.5 438.5h1.6M818 438.5h1.6M819.5 438.5h1.6M824 438.5h1.6M798.5 439h1.6M799.5 439h1.6M800 439h1.6M800.5 439h1.6M803 439h1.6M808.5 439h1.6M810 439h1.6M812.5 439h1.6M814.5 439h1.6M819.5 439h1.6M831.5 439h1.6M811 439.5h1.6M813.5 439.5h1.6M815.5 439.5h1.6M820.5 439.5h1.6M824.5 439.5h1.6M825 439.5h1.6M834 439.5h1.6M797.5 440h1.6M802.5 440h1.6M805.5 440h1.6M807.5 440h1.6M810 440h1.6M820 440h1.6M824 440h1.6M831 440h1.6M877.5 440h1.6M812 440.5h1.6M813.5 440.5h1.6M816.5 440.5h1.6M824 440.5h1.6M826.5 440.5h1.6M828 440.5h1.6M829.5 440.5h1.6M832 440.5h1.6M798 441h1.6M799.5 441h1.6M800 441h1.6M807 441h1.6M815 441h1.6M819 441h1.6M832 441h1.6M837 441h1.6M804.5 441.5h1.6M805 441.5h1.6M816 441.5h1.6M822.5 441.5h1.6M800 442h1.6M800.5 442h1.6M802.5 442h1.6M818.5 442h1.6M824.5 442h1.6M799.5 442.5h1.6M801 442.5h1.6M803.5 442.5h1.6M810.5 442.5h1.6M815.5 442.5h1.6M798.5 443h1.6M801 443h1.6M806.5 443h1.6M814.5 443h1.6M816.5 443h1.6M833.5 443h1.6M900.5 443h1.6M815 443.5h1.6M798 444h1.6M798.5 444h1.6M800.5 444h1.6M803 444h1.6M805 444h1.6M813.5 444h1.6M816 444h1.6M824 444h1.6M801 444.5h1.6M802.5 444.5h1.6M803.5 444.5h1.6M805.5 444.5h1.6M808 444.5h1.6M813.5 444.5h1.6M834.5 444.5h1.6M846 444.5h1.6M803 445h1.6M806 445h1.6M811.5 445h1.6M815 445h1.6M831 445h1.6M801 445.5h1.6M802 445.5h1.6M804.5 445.5h1.6M805.5 445.5h1.6M811 445.5h1.6M814 445.5h1.6M818 445.5h1.6M821 445.5h1.6M827 445.5h1.6M864.5 445.5h1.6M799.5 446h1.6M803 446h1.6M820.5 446h1.6M822.5 446h1.6M839 446h1.6M880 446h1.6M804.5 446.5h1.6M813 446.5h1.6M826.5 446.5h1.6M861 446.5h1.6M800 447h1.6M803 447h1.6M804 447h1.6M805.5 447h1.6M808.5 447h1.6M811.5 447h1.6M818 447h1.6M803.5 447.5h1.6M807.5 447.5h1.6M814 447.5h1.6M874.5 447.5h1.6M803 448h1.6M807 448h1.6M816 448h1.6M800 448.5h1.6M801.5 448.5h1.6M846.5 448.5h1.6M804 449h1.6M809 449h1.6M811.5 449h1.6M843 449h1.6M801 449.5h1.6M803 449.5h1.6M809 449.5h1.6M811 449.5h1.6M816.5 449.5h1.6M819 449.5h1.6M799 450h1.6M805.5 450h1.6M804 450.5h1.6M808.5 450.5h1.6M809.5 450.5h1.6M819 450.5h1.6M798.5 451h1.6M804.5 451h1.6M809.5 451h1.6M802 451.5h1.6M803.5 451.5h1.6M804 451.5h1.6M820 451.5h1.6M827.5 451.5h1.6M805.5 452h1.6M807 452h1.6M809.5 452h1.6M835.5 452h1.6M800 452.5h1.6M806.5 452.5h1.6M808.5 452.5h1.6M811 452.5h1.6M798.5 453h1.6M808 453h1.6M811.5 453h1.6M812 453h1.6M832 453h1.6M908.5 453h1.6M799.5 453.5h1.6M816 453.5h1.6M799 454h1.6M800.5 454h1.6M804.5 454h1.6M807.5 454h1.6M816 454h1.6M824.5 454h1.6M802 454.5h1.6M805.5 454.5h1.6M807.5 454.5h1.6M809 454.5h1.6M823 454.5h1.6M825.5 454.5h1.6M859.5 454.5h1.6M802.5 455h1.6M804.5 455h1.6M806.5 455h1.6M816 455h1.6M826.5 455h1.6M834 455h1.6M885 455h1.6M798 455.5h1.6M808 455.5h1.6M812 455.5h1.6M819.5 455.5h1.6M842 455.5h1.6M810.5 456h1.6M814.5 456h1.6M815.5 456h1.6M861 456h1.6M814 456.5h1.6M839 456.5h1.6M863.5 456.5h1.6M867.5 456.5h1.6M805.5 457h1.6M817 457h1.6M806 457.5h1.6M809 457.5h1.6M810 457.5h1.6M818 457.5h1.6M799.5 458h1.6M805.5 458h1.6M861.5 458h1.6M810.5 458.5h1.6M802.5 459h1.6M804.5 459h1.6M810 459h1.6M799 459.5h1.6M801.5 459.5h1.6M803.5 459.5h1.6M829 459.5h1.6M845 459.5h1.6M811 460h1.6M813 460h1.6M815.5 460h1.6M798 460.5h1.6M801 460.5h1.6M811.5 460.5h1.6M821.5 460.5h1.6M825 460.5h1.6M830 460.5h1.6M801.5 461h1.6M802.5 461h1.6M807 461h1.6M811 461h1.6M811.5 461h1.6M870 461h1.6M881.5 461h1.6M797.5 461.5h1.6M800.5 461.5h1.6M802.5 461.5h1.6M816.5 461.5h1.6M872.5 461.5h1.6M806.5 462h1.6M799 462.5h1.6M809.5 462.5h1.6M802.5 463h1.6M804.5 463h1.6M808 463h1.6M819 463h1.6M826 463h1.6M844 463.5h1.6M799 464h1.6M809 464h1.6M809.5 464h1.6M817.5 464.5h1.6M802 465h1.6M800.5 465.5h1.6M805.5 465.5h1.6M804 466h1.6M838 466h1.6M815 467.5h1.6M823.5 467.5h1.6M810 468h1.6M829 468h1.6M811.5 468.5h1.6M816.5 468.5h1.6M819.5 468.5h1.6M814 469h1.6M850 469h1.6M810.5 469.5h1.6M829.5 469.5h1.6M801.5 470.5h1.6M843 470.5h1.6M799 472h1.6M812 472.5h1.6M821 473h1.6M802.5 473.5h1.6M803 474h1.6M809 474.5h1.6M803 475.5h1.6M810.5 476h1.6M822 476h1.6M804 478h1.6M805.5 478h1.6M812 478h1.6M817.5 479h1.6M868 480h1.6M815 481.5h1.6M804.5 483h1.6M835.5 483.5h1.6M807 484h1.6M800 484.5h1.6M810 485h1.6M810 485.5h1.6M799 489.5h1.6M810 492h1.6M815.5 499.5h1.6M814.5 508.5h1.6" fill="none" stroke="#2fa83a" stroke-width="1.6"/>
<path d="M773 360h1.6M792 360.5h1.6M777.5 365h1.6M754.5 367.5h1.6M783 369h1.6M791.5 369h1.6M767 370h1.6M787.5 370h1.6M795 370h1.6M797 370h1.6M785.5 372h1.6M778 374h1.6M781 374h1.6M783 374h1.6M786.5 374h1.6M792 374.5h1.6M780.5 375h1.6M792.5 375h1.6M797 376h1.6M783.5 376.5h1.6M794 376.5h1.6M789 377h1.6M795 377h1.6M783 377.5h1.6M791.5 377.5h1.6M771 378h1.6M775 378h1.6M793.5 378.5h1.6M797 378.5h1.6M780 379h1.6M782.5 379h1.6M789 379h1.6M794.5 379h1.6M795.5 379h1.6M797 379h1.6M783 379.5h1.6M795 379.5h1.6M777.5 380h1.6M793 380h1.6M767 380.5h1.6M774.5 380.5h1.6M796.5 380.5h1.6M774 381h1.6M779 381h1.6M779.5 381h1.6M796.5 381h1.6M776 381.5h1.6M777 381.5h1.6M782.5 381.5h1.6M789.5 381.5h1.6M793 381.5h1.6M783 382h1.6M791.5 382h1.6M795 382h1.6M795.5 382h1.6M796 382h1.6M766 382.5h1.6M779.5 382.5h1.6M785.5 382.5h1.6M787.5 382.5h1.6M795.5 382.5h1.6M785 383h1.6M785.5 383h1.6M788 383h1.6M793 383h1.6M794 383h1.6M783.5 383.5h1.6M784 383.5h1.6M787 383.5h1.6M773 384h1.6M783.5 384h1.6M787 384h1.6M792 384h1.6M793.5 384h1.6M797 384h1.6M770.5 384.5h1.6M771.5 384.5h1.6M775 384.5h1.6M784 384.5h1.6M789 384.5h1.6M791.5 384.5h1.6M796.5 384.5h1.6M755.5 385h1.6M771.5 385h1.6M793 385h1.6M794 385h1.6M781.5 385.5h1.6M784 385.5h1.6M791 385.5h1.6M794.5 385.5h1.6M797.5 385.5h1.6M767.5 386h1.6M776.5 386h1.6M777.5 386h1.6M784 386h1.6M790.5 386h1.6M794 386h1.6M775 386.5h1.6M777 386.5h1.6M789 386.5h1.6M791 386.5h1.6M796.5 386.5h1.6M778 387h1.6M781.5 387h1.6M788.5 387h1.6M789 387h1.6M793.5 387h1.6M797 387h1.6M785.5 387.5h1.6M793.5 387.5h1.6M794 387.5h1.6M795.5 387.5h1.6M797 387.5h1.6M762.5 388h1.6M767 388h1.6M770.5 388h1.6M773 388h1.6M777.5 388h1.6M779.5 388h1.6M786 388h1.6M790 388h1.6M794 388h1.6M794.5 388h1.6M775 388.5h1.6M786 388.5h1.6M790 388.5h1.6M792 388.5h1.6M797 388.5h1.6M777 389h1.6M778.5 389h1.6M792 389h1.6M774.5 389.5h1.6M783 389.5h1.6M790.5 389.5h1.6M793 389.5h1.6M793.5 389.5h1.6M797.5 389.5h1.6M762.5 390h1.6M770.5 390h1.6M771.5 390h1.6M777.5 390h1.6M781 390h1.6M783 390h1.6M789 390h1.6M793 390h1.6M749.5 390.5h1.6M765 390.5h1.6M773.5 390.5h1.6M778.5 390.5h1.6M783.5 390.5h1.6M791.5 390.5h1.6M769 391h1.6M780 391h1.6M780.5 391h1.6M782 391h1.6M784 391h1.6M787 391h1.6M787.5 391h1.6M792 391h1.6M793 391h1.6M794 391h1.6M757 391.5h1.6M792 391.5h1.6M793 391.5h1.6M794.5 391.5h1.6M796 391.5h1.6M775 392h1.6M776.5 392h1.6M784.5 392h1.6M785.5 392h1.6M793 392h1.6M794.5 392h1.6M795.5 392h1.6M796.5 392h1.6M762.5 392.5h1.6M773.5 392.5h1.6M779 392.5h1.6M780 392.5h1.6M781.5 392.5h1.6M782 392.5h1.6M783 392.5h1.6M788 392.5h1.6M789 392.5h1.6M791.5 392.5h1.6M773.5 393h1.6M786.5 393h1.6M787.5 393h1.6M792 393h1.6M794.5 393h1.6M795.5 393h1.6M796 393h1.6M797 393h1.6M780.5 393.5h1.6M782 393.5h1.6M783.5 393.5h1.6M789 393.5h1.6M791.5 393.5h1.6M792 393.5h1.6M794.5 393.5h1.6M796 393.5h1.6M762 394h1.6M771.5 394h1.6M772.5 394h1.6M781.5 394h1.6M782.5 394h1.6M783.5 394h1.6M784 394h1.6M785.5 394h1.6M786 394h1.6M788 394h1.6M790.5 394h1.6M793.5 394h1.6M796.5 394h1.6M797 394h1.6M759.5 394.5h1.6M772 394.5h1.6M777.5 394.5h1.6M781 394.5h1.6M783 394.5h1.6M788.5 394.5h1.6M789 394.5h1.6M789.5 394.5h1.6M791.5 394.5h1.6M792 394.5h1.6M796.5 394.5h1.6M797 394.5h1.6M755.5 395h1.6M774.5 395h1.6M787 395h1.6M793.5 395h1.6M770 395.5h1.6M781.5 395.5h1.6M782 395.5h1.6M787.5 395.5h1.6M788 395.5h1.6M791.5 395.5h1.6M795 395.5h1.6M765 396h1.6M767.5 396h1.6M776.5 396h1.6M779.5 396h1.6M785.5 396h1.6M787 396h1.6M791 396h1.6M793.5 396h1.6M796 396h1.6M780.5 396.5h1.6M781.5 396.5h1.6M783 396.5h1.6M789 396.5h1.6M789.5 396.5h1.6M790 396.5h1.6M791 396.5h1.6M792.5 396.5h1.6M793.5 396.5h1.6M795 396.5h1.6M795.5 396.5h1.6M748 397h1.6M770 397h1.6M782 397h1.6M783 397h1.6M790 397h1.6M793.5 397h1.6M797 397h1.6M768 397.5h1.6M772 397.5h1.6M776 397.5h1.6M776.5 397.5h1.6M780 397.5h1.6M783 397.5h1.6M787 397.5h1.6M790.5 397.5h1.6M793.5 397.5h1.6M796 397.5h1.6M762.5 398h1.6M769.5 398h1.6M780 398h1.6M784 398h1.6M788.5 398h1.6M789 398h1.6M790 398h1.6M792.5 398h1.6M793 398h1.6M793.5 398h1.6M794.5 398h1.6M795 398h1.6M767 398.5h1.6M774 398.5h1.6M779.5 398.5h1.6M781.5 398.5h1.6M789.5 398.5h1.6M791 398.5h1.6M793 398.5h1.6M795.5 398.5h1.6M797 398.5h1.6M763 399h1.6M775.5 399h1.6M779.5 399h1.6M782.5 399h1.6M784 399h1.6M784.5 399h1.6M785 399h1.6M787 399h1.6M787.5 399h1.6M792.5 399h1.6M794 399h1.6M768.5 399.5h1.6M771.5 399.5h1.6M776 399.5h1.6M779 399.5h1.6M788 399.5h1.6M789.5 399.5h1.6M791 399.5h1.6M791.5 399.5h1.6M794.5 399.5h1.6M773.5 400h1.6M776 400h1.6M779 400h1.6M783 400h1.6M785 400h1.6M789.5 400h1.6M797.5 400h1.6M759 400.5h1.6M769.5 400.5h1.6M770.5 400.5h1.6M776.5 400.5h1.6M781 400.5h1.6M781.5 400.5h1.6M784 400.5h1.6M790.5 400.5h1.6M793.5 400.5h1.6M796.5 400.5h1.6M760.5 401h1.6M765.5 401h1.6M773 401h1.6M786.5 401h1.6M789.5 401h1.6M792.5 401h1.6M795 401h1.6M778 401.5h1.6M780 401.5h1.6M780.5 401.5h1.6M786.5 401.5h1.6M796.5 401.5h1.6M797 401.5h1.6M793.5 402h1.6M796 402h1.6M765.5 402.5h1.6M772 402.5h1.6M774.5 402.5h1.6M776 402.5h1.6M782.5 402.5h1.6M783.5 402.5h1.6M784.5 402.5h1.6M786 402.5h1.6M752.5 403h1.6M772 403h1.6M778 403h1.6M780 403h1.6M782.5 403h1.6M785.5 403h1.6M793.5 403h1.6M794 403h1.6M797 403h1.6M777 403.5h1.6M786.5 403.5h1.6M788.5 403.5h1.6M791 403.5h1.6M792.5 403.5h1.6M795 403.5h1.6M796 403.5h1.6M797 403.5h1.6M765 404h1.6M771.5 404h1.6M775.5 404h1.6M779 404h1.6M784 404h1.6M787 404h1.6M789 404h1.6M790 404h1.6M797 404h1.6M772.5 404.5h1.6M775.5 404.5h1.6M779 404.5h1.6M782.5 404.5h1.6M784 404.5h1.6M790.5 404.5h1.6M797.5 404.5h1.6M756 405h1.6M771.5 405h1.6M781.5 405h1.6M783 405h1.6M787 405h1.6M789 405h1.6M792 405h1.6M794.5 405h1.6M795.5 405h1.6M797 405h1.6M782 405.5h1.6M785.5 405.5h1.6M788 405.5h1.6M792.5 405.5h1.6M793.5 405.5h1.6M796 405.5h1.6M759.5 406h1.6M774 406h1.6M779 406h1.6M780 406h1.6M781 406h1.6M782.5 406h1.6M754.5 406.5h1.6M767.5 406.5h1.6M768 406.5h1.6M769.5 406.5h1.6M780.5 406.5h1.6M786.5 406.5h1.6M790.5 406.5h1.6M793.5 406.5h1.6M795.5 406.5h1.6M796 406.5h1.6M797 406.5h1.6M767.5 407h1.6M781.5 407h1.6M782 407h1.6M783.5 407h1.6M784 407h1.6M787 407h1.6M792 407h1.6M792.5 407h1.6M793.5 407h1.6M797 407h1.6M771 407.5h1.6M776 407.5h1.6M779 407.5h1.6M782.5 407.5h1.6M783 407.5h1.6M784 407.5h1.6M793 407.5h1.6M795.5 407.5h1.6M781 408h1.6M782 408h1.6M782.5 408h1.6M783 408h1.6M786 408h1.6M786.5 408h1.6M787.5 408h1.6M788 408h1.6M797 408h1.6M764 408.5h1.6M773 408.5h1.6M775 408.5h1.6M775.5 408.5h1.6M776.5 408.5h1.6M780.5 408.5h1.6M787 408.5h1.6M791.5 408.5h1.6M792 408.5h1.6M793 408.5h1.6M767.5 409h1.6M769 409h1.6M778.5 409h1.6M786 409h1.6M786.5 409h1.6M789 409h1.6M792 409h1.6M795 409h1.6M762.5 409.5h1.6M776 409.5h1.6M783.5 409.5h1.6M788 409.5h1.6M789 409.5h1.6M792 409.5h1.6M794.5 409.5h1.6M795 409.5h1.6M796 409.5h1.6M755 410h1.6M770.5 410h1.6M774 410h1.6M778.5 410h1.6M781 410h1.6M785.5 410h1.6M789.5 410h1.6M790 410h1.6M794 410h1.6M796 410h1.6M796.5 410h1.6M767 410.5h1.6M770 410.5h1.6M776 410.5h1.6M778 410.5h1.6M780.5 410.5h1.6M785 410.5h1.6M791.5 410.5h1.6M793.5 410.5h1.6M771 411h1.6M777.5 411h1.6M780.5 411h1.6M783 411h1.6M783.5 411h1.6M786.5 411h1.6M787.5 411h1.6M788 411h1.6M780 411.5h1.6M781 411.5h1.6M790 411.5h1.6M697 412h1.6M781.5 412h1.6M782.5 412h1.6M783.5 412h1.6M784 412h1.6M785 412h1.6M786.5 412h1.6M787.5 412h1.6M789 412h1.6M790 412h1.6M791 412h1.6M792 412h1.6M793 412h1.6M793.5 412h1.6M795.5 412h1.6M749 412.5h1.6M762.5 412.5h1.6M764 412.5h1.6M768.5 412.5h1.6M770 412.5h1.6M780 412.5h1.6M781.5 412.5h1.6M783 412.5h1.6M786.5 412.5h1.6M787 412.5h1.6M794.5 412.5h1.6M768 413h1.6M790 413h1.6M791.5 413h1.6M794 413h1.6M773.5 413.5h1.6M777 413.5h1.6M784 413.5h1.6M785 413.5h1.6M789 413.5h1.6M792 413.5h1.6M793.5 413.5h1.6M766 414h1.6M772.5 414h1.6M775 414h1.6M775.5 414h1.6M777 414h1.6M777.5 414h1.6M782 414h1.6M785.5 414h1.6M787 414h1.6M789.5 414h1.6M792.5 414h1.6M793 414h1.6M795.5 414h1.6M754 414.5h1.6M774.5 414.5h1.6M777 414.5h1.6M778 414.5h1.6M783 414.5h1.6M783.5 414.5h1.6M786 414.5h1.6M789 414.5h1.6M791 414.5h1.6M795.5 414.5h1.6M796 414.5h1.6M796.5 414.5h1.6M781.5 415h1.6M784.5 415h1.6M791.5 415h1.6M793 415h1.6M796 415h1.6M796.5 415h1.6M766 415.5h1.6M773.5 415.5h1.6M776 415.5h1.6M777.5 415.5h1.6M781.5 415.5h1.6M785 415.5h1.6M785.5 415.5h1.6M789.5 415.5h1.6M793.5 415.5h1.6M795 415.5h1.6M795.5 415.5h1.6M733.5 416h1.6M750 416h1.6M764.5 416h1.6M771 416h1.6M775 416h1.6M782.5 416h1.6M785.5 416h1.6M796.5 416h1.6M746.5 416.5h1.6M767.5 416.5h1.6M769 416.5h1.6M773.5 416.5h1.6M774.5 416.5h1.6M776.5 416.5h1.6M778.5 416.5h1.6M780.5 416.5h1.6M782.5 416.5h1.6M784 416.5h1.6M785 416.5h1.6M786 416.5h1.6M792.5 416.5h1.6M760.5 417h1.6M761 417h1.6M775.5 417h1.6M777 417h1.6M779 417h1.6M779.5 417h1.6M780 417h1.6M785.5 417h1.6M788.5 417h1.6M790.5 417h1.6M797 417h1.6M763.5 417.5h1.6M771.5 417.5h1.6M774 417.5h1.6M776.5 417.5h1.6M785 417.5h1.6M792.5 417.5h1.6M793 417.5h1.6" fill="none" stroke="#151515" stroke-width="1.6"/>
<path d="M916.5 299.5h1.6M870 301h1.6M901.5 302h1.6M898.5 302.5h1.6M909.5 304.5h1.6M886.5 305.5h1.6M898 306h1.6M806.5 306.5h1.6M901.5 306.5h1.6M912.5 306.5h1.6M916 306.5h1.6M911.5 307.5h1.6M913.5 307.5h1.6M894.5 308.5h1.6M900 308.5h1.6M903 308.5h1.6M909 308.5h1.6M872 309h1.6M899 309h1.6M906 309h1.6M868 309.5h1.6M891 309.5h1.6M902.5 309.5h1.6M905 309.5h1.6M911.5 310.5h1.6M865.5 311h1.6M895 311h1.6M863 311.5h1.6M886.5 311.5h1.6M904 311.5h1.6M906.5 311.5h1.6M908.5 311.5h1.6M901.5 312h1.6M903 312h1.6M903.5 312h1.6M910 312h1.6M917.5 312h1.6M884.5 312.5h1.6M908 312.5h1.6M901 313h1.6M903 313h1.6M904.5 313h1.6M911.5 313h1.6M887 313.5h1.6M892.5 313.5h1.6M901 313.5h1.6M904.5 313.5h1.6M911.5 313.5h1.6M899.5 314h1.6M900 314h1.6M902.5 314h1.6M904 314h1.6M888.5 314.5h1.6M893.5 314.5h1.6M899 314.5h1.6M911.5 314.5h1.6M912 314.5h1.6M881.5 315h1.6M888 315h1.6M891 315h1.6M900 315h1.6M900.5 315h1.6M902.5 315h1.6M908 315h1.6M910.5 315h1.6M912 315h1.6M915 315h1.6M825.5 315.5h1.6M871.5 315.5h1.6M882 315.5h1.6M884.5 315.5h1.6M893.5 315.5h1.6M895 315.5h1.6M911 315.5h1.6M913 315.5h1.6M915 315.5h1.6M883 316h1.6M884 316h1.6M886 316h1.6M888.5 316h1.6M892 316h1.6M897 316h1.6M901.5 316h1.6M906 316h1.6M868.5 316.5h1.6M874.5 316.5h1.6M886.5 316.5h1.6M888.5 316.5h1.6M898.5 316.5h1.6M908 316.5h1.6M883.5 317h1.6M888.5 317h1.6M894 317h1.6M898 317h1.6M900 317h1.6M884 317.5h1.6M896 317.5h1.6M907.5 317.5h1.6M910 317.5h1.6M912.5 317.5h1.6M843 318h1.6M880 318h1.6M886 318h1.6M887 318h1.6M888.5 318h1.6M893.5 318h1.6M900.5 318h1.6M905.5 318h1.6M907 318h1.6M908.5 318h1.6M878.5 318.5h1.6M879.5 318.5h1.6M883.5 318.5h1.6M885.5 318.5h1.6M891.5 318.5h1.6M893.5 318.5h1.6M901 318.5h1.6M903 318.5h1.6M905 318.5h1.6M907 318.5h1.6M913.5 318.5h1.6M914.5 318.5h1.6M917.5 318.5h1.6M816.5 319h1.6M869 319h1.6M883.5 319h1.6M885 319h1.6M886.5 319h1.6M896.5 319h1.6M898 319h1.6M899 319h1.6M905 319h1.6M911 319h1.6M917 319h1.6M848.5 319.5h1.6M878 319.5h1.6M885 319.5h1.6M893 319.5h1.6M897.5 319.5h1.6M898 319.5h1.6M907.5 319.5h1.6M908 319.5h1.6M914 319.5h1.6M864.5 320h1.6M869 320h1.6M882 320h1.6M888 320h1.6M888.5 320h1.6M897 320h1.6M902 320h1.6M903.5 320h1.6M905.5 320h1.6M907 320h1.6M914 320h1.6M917 320h1.6M860 320.5h1.6M875.5 320.5h1.6M891.5 320.5h1.6M902.5 320.5h1.6M903 320.5h1.6M905 320.5h1.6M908.5 320.5h1.6M910 320.5h1.6M912.5 320.5h1.6M849.5 321h1.6M881.5 321h1.6M883.5 321h1.6M889.5 321h1.6M893.5 321h1.6M896.5 321h1.6M898 321h1.6M899.5 321h1.6M900 321h1.6M901 321h1.6M904.5 321h1.6M905 321h1.6M907 321h1.6M911 321h1.6M913.5 321h1.6M809 321.5h1.6M839 321.5h1.6M862 321.5h1.6M867.5 321.5h1.6M874 321.5h1.6M881 321.5h1.6M896.5 321.5h1.6M897 321.5h1.6M898 321.5h1.6M901 321.5h1.6M903 321.5h1.6M883 322h1.6M883.5 322h1.6M888 322h1.6M893.5 322h1.6M895 322h1.6M895.5 322h1.6M896.5 322h1.6M897 322h1.6M901.5 322h1.6M904 322h1.6M906 322h1.6M908 322h1.6M911.5 322h1.6M912 322h1.6M875.5 322.5h1.6M884.5 322.5h1.6M893.5 322.5h1.6M898.5 322.5h1.6M899 322.5h1.6M901 322.5h1.6M901.5 322.5h1.6M911.5 322.5h1.6M913 322.5h1.6M863.5 323h1.6M870.5 323h1.6M877.5 323h1.6M879 323h1.6M881.5 323h1.6M884 323h1.6M885 323h1.6M891 323h1.6M892.5 323h1.6M893 323h1.6M895 323h1.6M897.5 323h1.6M901 323h1.6M901.5 323h1.6M902 323h1.6M912.5 323h1.6M865.5 323.5h1.6M870.5 323.5h1.6M874.5 323.5h1.6M879 323.5h1.6M883.5 323.5h1.6M888.5 323.5h1.6M907.5 323.5h1.6M874.5 324h1.6M875 324h1.6M877.5 324h1.6M883 324h1.6M885.5 324h1.6M895 324h1.6M902.5 324h1.6M904 324h1.6M911.5 324h1.6M857.5 324.5h1.6M898 324.5h1.6M898.5 324.5h1.6M902 324.5h1.6M913.5 324.5h1.6M876.5 325h1.6M878 325h1.6M881.5 325h1.6M884 325h1.6M890 325h1.6M892.5 325h1.6M894 325h1.6M897 325h1.6M901 325h1.6M901.5 325h1.6M906.5 325h1.6M908 325h1.6M911 325h1.6M846.5 325.5h1.6M871 325.5h1.6M886.5 325.5h1.6M887.5 325.5h1.6M888.5 325.5h1.6M891 325.5h1.6M897.5 325.5h1.6M911.5 325.5h1.6M914.5 325.5h1.6M860.5 326h1.6M875.5 326h1.6M877 326h1.6M878 326h1.6M888 326h1.6M889.5 326h1.6M892 326h1.6M902 326h1.6M903 326h1.6M913.5 326h1.6M861 326.5h1.6M865 326.5h1.6M867 326.5h1.6M881 326.5h1.6M891 326.5h1.6M898 326.5h1.6M911.5 326.5h1.6M856 327h1.6M863 327h1.6M873 327h1.6M874 327h1.6M881.5 327h1.6M882 327h1.6M884 327h1.6M888 327h1.6M893.5 327h1.6M894.5 327h1.6M901 327h1.6M901.5 327h1.6M864 327.5h1.6M870.5 327.5h1.6M872 327.5h1.6M877 327.5h1.6M880.5 327.5h1.6M886.5 327.5h1.6M893 327.5h1.6M895.5 327.5h1.6M896 327.5h1.6M896.5 327.5h1.6M900.5 327.5h1.6M879.5 328h1.6M884 328h1.6M900 328h1.6M911.5 328h1.6M849 328.5h1.6M854.5 328.5h1.6M879 328.5h1.6M886.5 328.5h1.6M888.5 328.5h1.6M895 328.5h1.6M909.5 328.5h1.6M913.5 328.5h1.6M869.5 329h1.6M870.5 329h1.6M872 329h1.6M872.5 329h1.6M873.5 329h1.6M889 329h1.6M890 329h1.6M892 329h1.6M903 329h1.6M907 329h1.6M915 329h1.6M917.5 329h1.6M862.5 329.5h1.6M870.5 329.5h1.6M873 329.5h1.6M890.5 329.5h1.6M891.5 329.5h1.6M900.5 329.5h1.6M902.5 329.5h1.6M903.5 329.5h1.6M868.5 330h1.6M874 330h1.6M876 330h1.6M880 330h1.6M896.5 330h1.6M911 330h1.6M859 330.5h1.6M861.5 330.5h1.6M867.5 330.5h1.6M874.5 330.5h1.6M894 330.5h1.6M899 330.5h1.6M899.5 330.5h1.6M900.5 330.5h1.6M912.5 330.5h1.6M875 331h1.6M880 331h1.6M844.5 331.5h1.6M878 331.5h1.6M891 331.5h1.6M894.5 331.5h1.6M880 332h1.6M883.5 332h1.6M891 332h1.6M894.5 332h1.6M900.5 332h1.6M882 332.5h1.6M883 332.5h1.6M887 332.5h1.6M888.5 332.5h1.6M904 332.5h1.6M911.5 332.5h1.6M865.5 333h1.6M878.5 333h1.6M881 333h1.6M897.5 333h1.6M872 333.5h1.6M888 333.5h1.6M891 333.5h1.6M898 333.5h1.6M901 333.5h1.6M909 333.5h1.6M859 334h1.6M878 334h1.6M904.5 334.5h1.6M883 335.5h1.6M888.5 335.5h1.6M893.5 335.5h1.6M906 335.5h1.6M872 336h1.6M861.5 336.5h1.6M863.5 336.5h1.6M880.5 336.5h1.6M885.5 336.5h1.6M891.5 336.5h1.6M828 337h1.6M861 337h1.6M891 337h1.6M873.5 337.5h1.6M891.5 337.5h1.6M861 339h1.6M843 339.5h1.6M894.5 339.5h1.6M913 339.5h1.6M893.5 340h1.6M901.5 340h1.6M893.5 340.5h1.6M864.5 342h1.6M873.5 342h1.6M886 342h1.6M888 343h1.6M854.5 343.5h1.6M912 343.5h1.6M834 345h1.6M888 345h1.6M905 346h1.6M853.5 346.5h1.6M882.5 346.5h1.6M901.5 346.5h1.6M816 347h1.6M880.5 347h1.6M827 348h1.6M853.5 348.5h1.6M874.5 348.5h1.6M812 349h1.6M876 349h1.6M806 349.5h1.6M859 349.5h1.6M883 349.5h1.6M913.5 349.5h1.6M878.5 350h1.6M889.5 350h1.6M876.5 350.5h1.6M828 351h1.6M849.5 351.5h1.6M878.5 351.5h1.6M847.5 352h1.6M854.5 352h1.6M875.5 352h1.6M832.5 352.5h1.6M840.5 352.5h1.6M888 352.5h1.6M830 353h1.6M864.5 353h1.6M906 353h1.6M840 353.5h1.6M894 353.5h1.6M835 354h1.6M902.5 354h1.6M806.5 354.5h1.6M856 355h1.6M858 355h1.6M886.5 355.5h1.6M827 356h1.6M864 356h1.6M879.5 356h1.6M888 356.5h1.6M880.5 357h1.6M829 357.5h1.6M891 358h1.6M893.5 358h1.6M846.5 358.5h1.6M908 358.5h1.6M857.5 359h1.6M873 359h1.6M913.5 359h1.6M859.5 359.5h1.6M873 359.5h1.6M887.5 359.5h1.6M903.5 359.5h1.6M798.5 360h1.6M833.5 360h1.6M870 360h1.6M871.5 360h1.6M873.5 360h1.6M884 360h1.6M904 360h1.6M833.5 360.5h1.6M835.5 360.5h1.6M871 360.5h1.6M881.5 360.5h1.6M887 360.5h1.6M910 361h1.6M847.5 361.5h1.6M859 361.5h1.6M803 362.5h1.6M860.5 362.5h1.6M893 362.5h1.6M805 363h1.6M812.5 363h1.6M831 363h1.6M832.5 363h1.6M853 363h1.6M883.5 363h1.6M827.5 363.5h1.6M825.5 364h1.6M879.5 364h1.6M894.5 364h1.6M846.5 364.5h1.6M861.5 364.5h1.6M819.5 365h1.6M829 365h1.6M886 365h1.6M890 365h1.6M815 365.5h1.6M839 365.5h1.6M886 365.5h1.6M903 365.5h1.6M904 365.5h1.6M806.5 366h1.6M850 366h1.6M859 366h1.6M898 366h1.6M866.5 366.5h1.6M871.5 366.5h1.6M894.5 366.5h1.6M817.5 367h1.6M874 367h1.6M878 367h1.6M915 367h1.6M917.5 367h1.6M884 367.5h1.6M899 367.5h1.6M901.5 367.5h1.6M917 367.5h1.6M808 368h1.6M841.5 368h1.6M861 368h1.6M898 368h1.6M799 368.5h1.6M799.5 368.5h1.6M802.5 368.5h1.6M848 368.5h1.6M887.5 368.5h1.6M801 369h1.6M854 369h1.6M859.5 369h1.6M868 369h1.6M860.5 369.5h1.6M888.5 369.5h1.6M891.5 369.5h1.6M846 370h1.6M881.5 370h1.6M886 370h1.6M892 370h1.6M904 370h1.6M807 370.5h1.6M810 370.5h1.6M850.5 370.5h1.6M866 370.5h1.6M828.5 371h1.6M829 371h1.6M839.5 371h1.6M843.5 371h1.6M902 371h1.6M807.5 371.5h1.6M826.5 371.5h1.6M831.5 371.5h1.6M848 371.5h1.6M809 372h1.6M856.5 372h1.6M885 372h1.6M809.5 372.5h1.6M820.5 372.5h1.6M854 372.5h1.6M871.5 372.5h1.6M881.5 372.5h1.6M886 372.5h1.6M809.5 373h1.6M814 373h1.6M815 373h1.6M842.5 373h1.6M887.5 373h1.6M897.5 373h1.6M810 373.5h1.6M823.5 373.5h1.6M826 373.5h1.6M839.5 373.5h1.6M851.5 373.5h1.6M860 373.5h1.6M893 373.5h1.6M896.5 373.5h1.6M803.5 374h1.6M872 374h1.6M911.5 374h1.6M803.5 374.5h1.6M805.5 374.5h1.6M807 374.5h1.6M826 374.5h1.6M877.5 374.5h1.6M891.5 374.5h1.6M802 375h1.6M802.5 375h1.6M827.5 375h1.6M835.5 375h1.6M870.5 375h1.6M871.5 375h1.6M797.5 375.5h1.6M804 375.5h1.6M811.5 375.5h1.6M832.5 375.5h1.6M836.5 375.5h1.6M867.5 375.5h1.6M881.5 375.5h1.6M882 375.5h1.6M802 376h1.6M808.5 376h1.6M813.5 376h1.6M815 376h1.6M828.5 376h1.6M835.5 376h1.6M846 376h1.6M870 376h1.6M888.5 376h1.6M914.5 376h1.6M802.5 376.5h1.6M812.5 376.5h1.6M814 376.5h1.6M819.5 376.5h1.6M838 376.5h1.6M850 376.5h1.6M896.5 376.5h1.6M803 377h1.6M807.5 377h1.6M813.5 377h1.6M828.5 377h1.6M850 377h1.6M852.5 377h1.6M799.5 377.5h1.6M811 377.5h1.6M812 377.5h1.6M838 377.5h1.6M869 377.5h1.6M906.5 377.5h1.6M915 377.5h1.6M801 378h1.6M802 378h1.6M814 378h1.6M814.5 378h1.6M815.5 378h1.6M877 378h1.6M891.5 378h1.6M800 378.5h1.6M802.5 378.5h1.6M825.5 378.5h1.6M860.5 378.5h1.6M906 378.5h1.6M798 379h1.6M798.5 379h1.6M804.5 379h1.6M805.5 379h1.6M829 379h1.6M857 379h1.6M864 379h1.6M799 379.5h1.6M801 379.5h1.6M805 379.5h1.6M806 379.5h1.6M817 379.5h1.6M884 379.5h1.6M799.5 380h1.6M813 380h1.6M815 380h1.6M860.5 380h1.6M863 380h1.6M871 380h1.6M798.5 380.5h1.6M799.5 380.5h1.6M801 380.5h1.6M804.5 380.5h1.6M812 380.5h1.6M819.5 380.5h1.6M842.5 380.5h1.6M843.5 380.5h1.6M862.5 380.5h1.6M900 380.5h1.6M803 381h1.6M805 381h1.6M814 381h1.6M816 381h1.6M818.5 381h1.6M821.5 381h1.6M822.5 381h1.6M834 381h1.6M870.5 381h1.6M889 381h1.6M799 381.5h1.6M802 381.5h1.6M802.5 381.5h1.6M809.5 381.5h1.6M810.5 381.5h1.6M811 381.5h1.6M813 381.5h1.6M816.5 381.5h1.6M827 381.5h1.6M844 381.5h1.6M887 381.5h1.6M798.5 382h1.6M809.5 382h1.6M810.5 382h1.6M814.5 382h1.6M815 382h1.6M822.5 382h1.6M836.5 382h1.6M851.5 382h1.6M880 382h1.6M890 382h1.6M905 382h1.6M798 382.5h1.6M801.5 382.5h1.6M809.5 382.5h1.6M810.5 382.5h1.6M826 382.5h1.6M849 382.5h1.6M878.5 382.5h1.6M881 382.5h1.6M888.5 382.5h1.6M894.5 382.5h1.6M898 382.5h1.6M800.5 383h1.6M804.5 383h1.6M805 383h1.6M807 383h1.6M810 383h1.6M811.5 383h1.6M847.5 383h1.6M856.5 383h1.6M866.5 383h1.6M867.5 383h1.6M892 383h1.6M801.5 383.5h1.6M802.5 383.5h1.6M806.5 383.5h1.6M829.5 383.5h1.6M885.5 383.5h1.6M797.5 384h1.6M801.5 384h1.6M807.5 384h1.6M808 384h1.6M810 384h1.6M814 384h1.6M821 384h1.6M825.5 384h1.6M857 384h1.6M876 384h1.6M805 384.5h1.6M805.5 384.5h1.6M806.5 384.5h1.6M808.5 384.5h1.6M809 384.5h1.6M811.5 384.5h1.6M813.5 384.5h1.6M825 384.5h1.6M860.5 384.5h1.6M799.5 385h1.6M803.5 385h1.6M809 385h1.6M810 385h1.6M811 385h1.6M813.5 385h1.6M815 385h1.6M816.5 385h1.6M839 385h1.6M849.5 385h1.6M877.5 385h1.6M909.5 385h1.6M803 385.5h1.6M810 385.5h1.6M813 385.5h1.6M817.5 385.5h1.6M823 385.5h1.6M830 385.5h1.6M845 385.5h1.6M864.5 385.5h1.6M865 385.5h1.6M801 386h1.6M802 386h1.6M802.5 386h1.6M803 386h1.6M805 386h1.6M808.5 386h1.6M812 386h1.6M815.5 386h1.6M829 386h1.6M875.5 386h1.6M800.5 386.5h1.6M802 386.5h1.6M802.5 386.5h1.6M805.5 386.5h1.6M809 386.5h1.6M810.5 386.5h1.6M811 386.5h1.6M815.5 386.5h1.6M822.5 386.5h1.6M823.5 386.5h1.6M862.5 386.5h1.6M867 386.5h1.6M876 386.5h1.6M885.5 386.5h1.6M799.5 387h1.6M800 387h1.6M803.5 387h1.6M804.5 387h1.6M805.5 387h1.6M810 387h1.6M812 387h1.6M813 387h1.6M814.5 387h1.6M823.5 387h1.6M840.5 387h1.6M843.5 387h1.6M853 387h1.6M879 387h1.6M798.5 387.5h1.6M799.5 387.5h1.6M800.5 387.5h1.6M803.5 387.5h1.6M805.5 387.5h1.6M806 387.5h1.6M809.5 387.5h1.6M810 387.5h1.6M810.5 387.5h1.6M812.5 387.5h1.6M813 387.5h1.6M828 387.5h1.6M839.5 387.5h1.6M886 387.5h1.6M894.5 387.5h1.6M799 388h1.6M801 388h1.6M803.5 388h1.6M806 388h1.6M807 388h1.6M809.5 388h1.6M810 388h1.6M814 388h1.6M818 388h1.6M818.5 388h1.6M819.5 388h1.6M822.5 388h1.6M826.5 388h1.6M827 388h1.6M843.5 388h1.6M868.5 388h1.6M798 388.5h1.6M798.5 388.5h1.6M799.5 388.5h1.6M800.5 388.5h1.6M801.5 388.5h1.6M804.5 388.5h1.6M812 388.5h1.6M817 388.5h1.6M848 388.5h1.6M858 388.5h1.6M870.5 388.5h1.6M797.5 389h1.6M798 389h1.6M799.5 389h1.6M801.5 389h1.6M806 389h1.6M806.5 389h1.6M807 389h1.6M811.5 389h1.6M815 389h1.6M834 389h1.6M835.5 389h1.6M882 389h1.6M801.5 389.5h1.6M803 389.5h1.6M804.5 389.5h1.6M805 389.5h1.6M807 389.5h1.6M808.5 389.5h1.6M809 389.5h1.6M809.5 389.5h1.6M814 389.5h1.6M820 389.5h1.6M834.5 389.5h1.6M848 389.5h1.6M871.5 389.5h1.6M883.5 389.5h1.6M907.5 389.5h1.6M909.5 389.5h1.6M801 390h1.6M802 390h1.6M803 390h1.6M809.5 390h1.6M810 390h1.6M813 390h1.6M815.5 390h1.6M828.5 390h1.6M857.5 390h1.6M866.5 390h1.6M873 390h1.6M874.5 390h1.6M886.5 390h1.6M914.5 390h1.6M916 390h1.6M799.5 390.5h1.6M804.5 390.5h1.6M806 390.5h1.6M806.5 390.5h1.6M808.5 390.5h1.6M809.5 390.5h1.6M815.5 390.5h1.6M890.5 390.5h1.6M899.5 390.5h1.6M798 391h1.6M799.5 391h1.6M804 391h1.6M805 391h1.6M808.5 391h1.6M809 391h1.6M809.5 391h1.6M810.5 391h1.6M811.5 391h1.6M815.5 391h1.6M848.5 391h1.6M849 391h1.6M888.5 391h1.6M800.5 391.5h1.6M801.5 391.5h1.6M805.5 391.5h1.6M806 391.5h1.6M808.5 391.5h1.6M811 391.5h1.6M812.5 391.5h1.6M815 391.5h1.6M816 391.5h1.6M816.5 391.5h1.6M819.5 391.5h1.6M827.5 391.5h1.6M845.5 391.5h1.6M873 391.5h1.6M798.5 392h1.6M800 392h1.6M800.5 392h1.6M802.5 392h1.6M804.5 392h1.6M810 392h1.6M811 392h1.6M814.5 392h1.6M816 392h1.6M892 392h1.6M900.5 392h1.6M797.5 392.5h1.6M799.5 392.5h1.6M801.5 392.5h1.6M802 392.5h1.6M804.5 392.5h1.6M806 392.5h1.6M807.5 392.5h1.6M810 392.5h1.6M811.5 392.5h1.6M814 392.5h1.6M815.5 392.5h1.6M817.5 392.5h1.6M825.5 392.5h1.6M852.5 392.5h1.6M856.5 392.5h1.6M876 392.5h1.6M799 393h1.6M804.5 393h1.6M805 393h1.6M806.5 393h1.6M810 393h1.6M812.5 393h1.6M822.5 393h1.6M823 393h1.6M831.5 393h1.6M876.5 393h1.6M886 393h1.6M802.5 393.5h1.6M803 393.5h1.6M805 393.5h1.6M806.5 393.5h1.6M807.5 393.5h1.6M811.5 393.5h1.6M815 393.5h1.6M817 393.5h1.6M820.5 393.5h1.6M821.5 393.5h1.6M858.5 393.5h1.6M799.5 394h1.6M801.5 394h1.6M804 394h1.6M805 394h1.6M805.5 394h1.6M806 394h1.6M806.5 394h1.6M807 394h1.6M809.5 394h1.6M810 394h1.6M811 394h1.6M812 394h1.6M812.5 394h1.6M813 394h1.6M816 394h1.6M852 394h1.6M856.5 394h1.6M858.5 394h1.6M876.5 394h1.6M895.5 394h1.6M799 394.5h1.6M799.5 394.5h1.6M801 394.5h1.6M801.5 394.5h1.6M802 394.5h1.6M802.5 394.5h1.6M803 394.5h1.6M809 394.5h1.6M811 394.5h1.6M821 394.5h1.6M824 394.5h1.6M825.5 394.5h1.6M829.5 394.5h1.6M839 394.5h1.6M855 394.5h1.6M863.5 394.5h1.6M799 395h1.6M799.5 395h1.6M800.5 395h1.6M803 395h1.6M803.5 395h1.6M804 395h1.6M805 395h1.6M808 395h1.6M809.5 395h1.6M814 395h1.6M815.5 395h1.6M816 395h1.6M823.5 395h1.6M864 395h1.6M894.5 395h1.6M798 395.5h1.6M799 395.5h1.6M800 395.5h1.6M802 395.5h1.6M803.5 395.5h1.6M804.5 395.5h1.6M805.5 395.5h1.6M806.5 395.5h1.6M811 395.5h1.6M815.5 395.5h1.6M816 395.5h1.6M823 395.5h1.6M831 395.5h1.6M845.5 395.5h1.6M849.5 395.5h1.6M856.5 395.5h1.6M875 395.5h1.6M900 395.5h1.6M798.5 396h1.6M799 396h1.6M802 396h1.6M803 396h1.6M803.5 396h1.6M805 396h1.6M811 396h1.6M813 396h1.6M817 396h1.6M818.5 396h1.6M819 396h1.6M843 396h1.6M876.5 396h1.6M802 396.5h1.6M802.5 396.5h1.6M804 396.5h1.6M804.5 396.5h1.6M805.5 396.5h1.6M806 396.5h1.6M806.5 396.5h1.6M808 396.5h1.6M808.5 396.5h1.6M812.5 396.5h1.6M815 396.5h1.6M815.5 396.5h1.6M821 396.5h1.6M829.5 396.5h1.6M832.5 396.5h1.6M846.5 396.5h1.6M898 396.5h1.6M798 397h1.6M799 397h1.6M800.5 397h1.6M803 397h1.6M805.5 397h1.6M807.5 397h1.6M809 397h1.6M810 397h1.6M815 397h1.6M830 397h1.6M799 397.5h1.6M803 397.5h1.6M804 397.5h1.6M806 397.5h1.6M807.5 397.5h1.6M809 397.5h1.6M811.5 397.5h1.6M813.5 397.5h1.6M816 397.5h1.6M818 397.5h1.6M819 397.5h1.6M825 397.5h1.6M827 397.5h1.6M864 397.5h1.6M870 397.5h1.6M877 397.5h1.6M881 397.5h1.6M887.5 397.5h1.6M914 397.5h1.6M797.5 398h1.6M798 398h1.6M799.5 398h1.6M800 398h1.6M801 398h1.6M803 398h1.6M805.5 398h1.6M806 398h1.6M807 398h1.6M808.5 398h1.6M810 398h1.6M810.5 398h1.6M811.5 398h1.6M816 398h1.6M802 398.5h1.6M804 398.5h1.6M805.5 398.5h1.6M806.5 398.5h1.6M808.5 398.5h1.6M814 398.5h1.6M815.5 398.5h1.6M816.5 398.5h1.6M821 398.5h1.6M821.5 398.5h1.6M822 398.5h1.6M831.5 398.5h1.6M840.5 398.5h1.6M873.5 398.5h1.6M799.5 399h1.6M800 399h1.6M802.5 399h1.6M805 399h1.6M810.5 399h1.6M812 399h1.6M812.5 399h1.6M815.5 399h1.6M817 399h1.6M828.5 399h1.6M849 399h1.6M889 399h1.6M895 399h1.6M797.5 399.5h1.6M800 399.5h1.6M800.5 399.5h1.6M802 399.5h1.6M805 399.5h1.6M810 399.5h1.6M812 399.5h1.6M813.5 399.5h1.6M815.5 399.5h1.6M816 399.5h1.6M818 399.5h1.6M825 399.5h1.6M872 399.5h1.6M799.5 400h1.6M800 400h1.6M801 400h1.6M805.5 400h1.6M809 400h1.6M811 400h1.6M811.5 400h1.6M813 400h1.6M813.5 400h1.6M815 400h1.6M823.5 400h1.6M830.5 400h1.6M831 400h1.6M844.5 400h1.6M851.5 400h1.6M852.5 400h1.6M877 400h1.6M880 400h1.6M888 400h1.6M797.5 400.5h1.6M802 400.5h1.6M804.5 400.5h1.6M805 400.5h1.6M811.5 400.5h1.6M815 400.5h1.6M818.5 400.5h1.6M825 400.5h1.6M828.5 400.5h1.6M830 400.5h1.6M847.5 400.5h1.6M801 401h1.6M801.5 401h1.6M803.5 401h1.6M808.5 401h1.6M812 401h1.6M816.5 401h1.6M818.5 401h1.6M819.5 401h1.6M827 401h1.6M852 401h1.6M797.5 401.5h1.6M801.5 401.5h1.6M802 401.5h1.6M802.5 401.5h1.6M804.5 401.5h1.6M805.5 401.5h1.6M808.5 401.5h1.6M809 401.5h1.6M809.5 401.5h1.6M811 401.5h1.6M812.5 401.5h1.6M815 401.5h1.6M823 401.5h1.6M864.5 401.5h1.6M871.5 401.5h1.6M879.5 401.5h1.6M798 402h1.6M798.5 402h1.6M802 402h1.6M803.5 402h1.6M807 402h1.6M808.5 402h1.6M811.5 402h1.6M812.5 402h1.6M813.5 402h1.6M814.5 402h1.6M798 402.5h1.6M805 402.5h1.6M807 402.5h1.6M807.5 402.5h1.6M808.5 402.5h1.6M809 402.5h1.6M810 402.5h1.6M810.5 402.5h1.6M813.5 402.5h1.6M823 402.5h1.6M823.5 402.5h1.6M827 402.5h1.6M840 402.5h1.6M858.5 402.5h1.6M798 403h1.6M799 403h1.6M799.5 403h1.6M800 403h1.6M801 403h1.6M803.5 403h1.6M805.5 403h1.6M806 403h1.6M806.5 403h1.6M807.5 403h1.6M810 403h1.6M811 403h1.6M811.5 403h1.6M813.5 403h1.6M814.5 403h1.6M817.5 403h1.6M833.5 403h1.6M871 403h1.6M798 403.5h1.6M799.5 403.5h1.6M801 403.5h1.6M802 403.5h1.6M804 403.5h1.6M804.5 403.5h1.6M805 403.5h1.6M805.5 403.5h1.6M807 403.5h1.6M808.5 403.5h1.6M815 403.5h1.6M817.5 403.5h1.6M831 403.5h1.6M871.5 403.5h1.6M900 403.5h1.6M798.5 404h1.6M800 404h1.6M801.5 404h1.6M802 404h1.6M804.5 404h1.6M806.5 404h1.6M807.5 404h1.6M808.5 404h1.6M809 404h1.6M811 404h1.6M811.5 404h1.6M814.5 404h1.6M819.5 404h1.6M826.5 404h1.6M872 404h1.6M885 404h1.6M913.5 404h1.6M798.5 404.5h1.6M799 404.5h1.6M800.5 404.5h1.6M801.5 404.5h1.6M802.5 404.5h1.6M804 404.5h1.6M805.5 404.5h1.6M807.5 404.5h1.6M809.5 404.5h1.6M821 404.5h1.6M828.5 404.5h1.6M894 404.5h1.6M797.5 405h1.6M799.5 405h1.6M804 405h1.6M804.5 405h1.6M805 405h1.6M810.5 405h1.6M811 405h1.6M811.5 405h1.6M813 405h1.6M813.5 405h1.6M814.5 405h1.6M815.5 405h1.6M823.5 405h1.6M849 405h1.6M798 405.5h1.6M800 405.5h1.6M800.5 405.5h1.6M803 405.5h1.6M803.5 405.5h1.6M805 405.5h1.6M806.5 405.5h1.6M807 405.5h1.6M810 405.5h1.6M816.5 405.5h1.6M799 406h1.6M799.5 406h1.6M800 406h1.6M803 406h1.6M804.5 406h1.6M806 406h1.6M806.5 406h1.6M809 406h1.6M813.5 406h1.6M838.5 406h1.6M888.5 406h1.6M802 406.5h1.6M803 406.5h1.6M803.5 406.5h1.6M805 406.5h1.6M807.5 406.5h1.6M808 406.5h1.6M808.5 406.5h1.6M809.5 406.5h1.6M815 406.5h1.6M798 407h1.6M798.5 407h1.6M800.5 407h1.6M801 407h1.6M801.5 407h1.6M803 407h1.6M804.5 407h1.6M806 407h1.6M806.5 407h1.6M809.5 407h1.6M810.5 407h1.6M812 407h1.6M813.5 407h1.6M814 407h1.6M820 407h1.6M912.5 407h1.6M798 407.5h1.6M801.5 407.5h1.6M803 407.5h1.6M803.5 407.5h1.6M805 407.5h1.6M806 407.5h1.6M808 407.5h1.6M809 407.5h1.6M809.5 407.5h1.6M812 407.5h1.6M813.5 407.5h1.6M815 407.5h1.6M818.5 407.5h1.6M822 407.5h1.6M834.5 407.5h1.6M862 407.5h1.6M798.5 408h1.6M799.5 408h1.6M800 408h1.6M804 408h1.6M810 408h1.6M812 408h1.6M813.5 408h1.6M818 408h1.6M836 408h1.6M852.5 408h1.6M867 408h1.6M800.5 408.5h1.6M801 408.5h1.6M801.5 408.5h1.6M802 408.5h1.6M802.5 408.5h1.6M803.5 408.5h1.6M804.5 408.5h1.6M806 408.5h1.6M806.5 408.5h1.6M810.5 408.5h1.6M811.5 408.5h1.6M812 408.5h1.6M813 408.5h1.6M816 408.5h1.6M818 408.5h1.6M836.5 408.5h1.6M846 408.5h1.6M856 408.5h1.6M802.5 409h1.6M803.5 409h1.6M808.5 409h1.6M810.5 409h1.6M812.5 409h1.6M813.5 409h1.6M814.5 409h1.6M817 409h1.6M818 409h1.6M833.5 409h1.6M888.5 409h1.6M804 409.5h1.6M805 409.5h1.6M807.5 409.5h1.6M811 409.5h1.6M820 409.5h1.6M821 409.5h1.6M849 409.5h1.6M851.5 409.5h1.6M870.5 409.5h1.6M872 409.5h1.6M879.5 409.5h1.6M799 410h1.6M803 410h1.6M804 410h1.6M805 410h1.6M809 410h1.6M809.5 410h1.6M810 410h1.6M813 410h1.6M815.5 410h1.6M799.5 410.5h1.6M800.5 410.5h1.6M804 410.5h1.6M805.5 410.5h1.6M809 410.5h1.6M810 410.5h1.6M813 410.5h1.6M823 410.5h1.6M826.5 410.5h1.6M831 410.5h1.6M799 411h1.6M801 411h1.6M814.5 411h1.6M853.5 411h1.6M875.5 411h1.6M799 411.5h1.6M802 411.5h1.6M802.5 411.5h1.6M803.5 411.5h1.6M804 411.5h1.6M807.5 411.5h1.6M811.5 411.5h1.6M818 411.5h1.6M835.5 411.5h1.6M862.5 411.5h1.6M798.5 412h1.6M801 412h1.6M801.5 412h1.6M802.5 412h1.6M805 412h1.6M806 412h1.6M809.5 412h1.6M821 412h1.6M823 412h1.6M825 412h1.6M798 412.5h1.6M799.5 412.5h1.6M800 412.5h1.6M803 412.5h1.6M805 412.5h1.6M811.5 412.5h1.6M820 412.5h1.6M826 412.5h1.6M850 412.5h1.6M876.5 412.5h1.6M893.5 412.5h1.6M801.5 413h1.6M810.5 413h1.6M816 413h1.6M819.5 413h1.6M820 413h1.6M833 413h1.6M863 413h1.6M874 413h1.6M885 413h1.6M798.5 413.5h1.6M799 413.5h1.6M800.5 413.5h1.6M803 413.5h1.6M803.5 413.5h1.6M804 413.5h1.6M805.5 413.5h1.6M806.5 413.5h1.6M807 413.5h1.6M812 413.5h1.6M813.5 413.5h1.6M817 413.5h1.6M818 413.5h1.6M818.5 413.5h1.6M851.5 413.5h1.6M855.5 413.5h1.6M879.5 413.5h1.6M797.5 414h1.6M798 414h1.6M801 414h1.6M803 414h1.6M804 414h1.6M804.5 414h1.6M806.5 414h1.6M808 414h1.6M812.5 414h1.6M813.5 414h1.6M822 414h1.6M875.5 414h1.6M892 414h1.6M801 414.5h1.6M801.5 414.5h1.6M802 414.5h1.6M804.5 414.5h1.6M807.5 414.5h1.6M811 414.5h1.6M811.5 414.5h1.6M815 414.5h1.6M828.5 414.5h1.6M849.5 414.5h1.6M800.5 415h1.6M801 415h1.6M804 415h1.6M806.5 415h1.6M807 415h1.6M807.5 415h1.6M810.5 415h1.6M811 415h1.6M816.5 415h1.6M821.5 415h1.6M823.5 415h1.6M877 415h1.6M800.5 415.5h1.6M801 415.5h1.6M805.5 415.5h1.6M807 415.5h1.6M818 415.5h1.6M822.5 415.5h1.6M837 415.5h1.6M851 415.5h1.6M857.5 415.5h1.6M868 415.5h1.6M798 416h1.6M806.5 416h1.6M808.5 416h1.6M809 416h1.6M812.5 416h1.6M821.5 416h1.6M838.5 416h1.6M843.5 416h1.6M799 416.5h1.6M799.5 416.5h1.6M804.5 416.5h1.6M805 416.5h1.6M806.5 416.5h1.6M812 416.5h1.6M815 416.5h1.6M820.5 416.5h1.6M827 416.5h1.6M804 417h1.6M805.5 417h1.6M807 417h1.6M815 417h1.6M823.5 417h1.6M807.5 417.5h1.6" fill="none" stroke="#e6361f" stroke-width="1.6"/>
</g>
<line x1="654.9" y1="418" x2="665.9" y2="418" stroke="#1d1527" stroke-width="1.8" stroke-linecap="butt"/>
<line x1="654.9" y1="363.9" x2="665.9" y2="363.9" stroke="#1d1527" stroke-width="1.8" stroke-linecap="butt"/>
<line x1="654.9" y1="312.8" x2="665.9" y2="312.8" stroke="#1d1527" stroke-width="1.8" stroke-linecap="butt"/>
<line x1="660.4" y1="401.71" x2="665.9" y2="401.71" stroke="#1d1527" stroke-width="1.6" stroke-linecap="butt"/>
<line x1="660.4" y1="392.19" x2="665.9" y2="392.19" stroke="#1d1527" stroke-width="1.6" stroke-linecap="butt"/>
<line x1="660.4" y1="385.43" x2="665.9" y2="385.43" stroke="#1d1527" stroke-width="1.6" stroke-linecap="butt"/>
<line x1="660.4" y1="380.19" x2="665.9" y2="380.19" stroke="#1d1527" stroke-width="1.6" stroke-linecap="butt"/>
<line x1="660.4" y1="375.9" x2="665.9" y2="375.9" stroke="#1d1527" stroke-width="1.6" stroke-linecap="butt"/>
<line x1="660.4" y1="372.28" x2="665.9" y2="372.28" stroke="#1d1527" stroke-width="1.6" stroke-linecap="butt"/>
<line x1="660.4" y1="369.14" x2="665.9" y2="369.14" stroke="#1d1527" stroke-width="1.6" stroke-linecap="butt"/>
<line x1="660.4" y1="366.38" x2="665.9" y2="366.38" stroke="#1d1527" stroke-width="1.6" stroke-linecap="butt"/>
<line x1="660.4" y1="348.52" x2="665.9" y2="348.52" stroke="#1d1527" stroke-width="1.6" stroke-linecap="butt"/>
<line x1="660.4" y1="339.52" x2="665.9" y2="339.52" stroke="#1d1527" stroke-width="1.6" stroke-linecap="butt"/>
<line x1="660.4" y1="333.13" x2="665.9" y2="333.13" stroke="#1d1527" stroke-width="1.6" stroke-linecap="butt"/>
<line x1="660.4" y1="328.18" x2="665.9" y2="328.18" stroke="#1d1527" stroke-width="1.6" stroke-linecap="butt"/>
<line x1="660.4" y1="324.14" x2="665.9" y2="324.14" stroke="#1d1527" stroke-width="1.6" stroke-linecap="butt"/>
<line x1="660.4" y1="320.72" x2="665.9" y2="320.72" stroke="#1d1527" stroke-width="1.6" stroke-linecap="butt"/>
<line x1="660.4" y1="317.75" x2="665.9" y2="317.75" stroke="#1d1527" stroke-width="1.6" stroke-linecap="butt"/>
<line x1="660.4" y1="315.14" x2="665.9" y2="315.14" stroke="#1d1527" stroke-width="1.6" stroke-linecap="butt"/>
<line x1="660.4" y1="297.42" x2="665.9" y2="297.42" stroke="#1d1527" stroke-width="1.6" stroke-linecap="butt"/>
<line x1="654.9" y1="483.8" x2="665.9" y2="483.8" stroke="#1d1527" stroke-width="3.6" stroke-linecap="butt"/>
<line x1="654.9" y1="519.6" x2="665.9" y2="519.6" stroke="#1d1527" stroke-width="1.8" stroke-linecap="butt"/>
<line x1="660.4" y1="432.3" x2="665.9" y2="432.3" stroke="#1d1527" stroke-width="1.6" stroke-linecap="butt"/>
<line x1="660.4" y1="443.2" x2="665.9" y2="443.2" stroke="#1d1527" stroke-width="1.6" stroke-linecap="butt"/>
<line x1="660.4" y1="457.5" x2="665.9" y2="457.5" stroke="#1d1527" stroke-width="1.6" stroke-linecap="butt"/>
<line x1="660.4" y1="470" x2="665.9" y2="470" stroke="#1d1527" stroke-width="1.6" stroke-linecap="butt"/>
<line x1="660.4" y1="498" x2="665.9" y2="498" stroke="#1d1527" stroke-width="1.6" stroke-linecap="butt"/>
<line x1="660.4" y1="509" x2="665.9" y2="509" stroke="#1d1527" stroke-width="1.6" stroke-linecap="butt"/>
<line x1="774.5" y1="519.6" x2="774.5" y2="532.6" stroke="#1d1527" stroke-width="1.8" stroke-linecap="butt"/>
<line x1="837" y1="519.6" x2="837" y2="532.6" stroke="#1d1527" stroke-width="1.8" stroke-linecap="butt"/>
<line x1="892.9" y1="519.6" x2="892.9" y2="532.6" stroke="#1d1527" stroke-width="1.8" stroke-linecap="butt"/>
<line x1="793.31" y1="519.6" x2="793.31" y2="526.6" stroke="#1d1527" stroke-width="1.6" stroke-linecap="butt"/>
<line x1="804.32" y1="519.6" x2="804.32" y2="526.6" stroke="#1d1527" stroke-width="1.6" stroke-linecap="butt"/>
<line x1="812.13" y1="519.6" x2="812.13" y2="526.6" stroke="#1d1527" stroke-width="1.6" stroke-linecap="butt"/>
<line x1="818.19" y1="519.6" x2="818.19" y2="526.6" stroke="#1d1527" stroke-width="1.6" stroke-linecap="butt"/>
<line x1="823.13" y1="519.6" x2="823.13" y2="526.6" stroke="#1d1527" stroke-width="1.6" stroke-linecap="butt"/>
<line x1="827.32" y1="519.6" x2="827.32" y2="526.6" stroke="#1d1527" stroke-width="1.6" stroke-linecap="butt"/>
<line x1="830.94" y1="519.6" x2="830.94" y2="526.6" stroke="#1d1527" stroke-width="1.6" stroke-linecap="butt"/>
<line x1="834.14" y1="519.6" x2="834.14" y2="526.6" stroke="#1d1527" stroke-width="1.6" stroke-linecap="butt"/>
<line x1="853.83" y1="519.6" x2="853.83" y2="526.6" stroke="#1d1527" stroke-width="1.6" stroke-linecap="butt"/>
<line x1="863.67" y1="519.6" x2="863.67" y2="526.6" stroke="#1d1527" stroke-width="1.6" stroke-linecap="butt"/>
<line x1="870.66" y1="519.6" x2="870.66" y2="526.6" stroke="#1d1527" stroke-width="1.6" stroke-linecap="butt"/>
<line x1="876.07" y1="519.6" x2="876.07" y2="526.6" stroke="#1d1527" stroke-width="1.6" stroke-linecap="butt"/>
<line x1="880.5" y1="519.6" x2="880.5" y2="526.6" stroke="#1d1527" stroke-width="1.6" stroke-linecap="butt"/>
<line x1="884.24" y1="519.6" x2="884.24" y2="526.6" stroke="#1d1527" stroke-width="1.6" stroke-linecap="butt"/>
<line x1="887.48" y1="519.6" x2="887.48" y2="526.6" stroke="#1d1527" stroke-width="1.6" stroke-linecap="butt"/>
<line x1="890.34" y1="519.6" x2="890.34" y2="526.6" stroke="#1d1527" stroke-width="1.6" stroke-linecap="butt"/>
<line x1="909.73" y1="519.6" x2="909.73" y2="526.6" stroke="#1d1527" stroke-width="1.6" stroke-linecap="butt"/>
<line x1="706.5" y1="519.6" x2="706.5" y2="532.6" stroke="#1d1527" stroke-width="3.6" stroke-linecap="butt"/>
<line x1="666.2" y1="519.6" x2="666.2" y2="532.6" stroke="#1d1527" stroke-width="1.8" stroke-linecap="butt"/>
<line x1="694.4" y1="519.6" x2="694.4" y2="532.6" stroke="#1d1527" stroke-width="1.8" stroke-linecap="butt"/>
<line x1="719.6" y1="519.6" x2="719.6" y2="532.6" stroke="#1d1527" stroke-width="1.8" stroke-linecap="butt"/>
<line x1="675.4" y1="519.6" x2="675.4" y2="526.6" stroke="#1d1527" stroke-width="1.6" stroke-linecap="butt"/>
<line x1="683.5" y1="519.6" x2="683.5" y2="526.6" stroke="#1d1527" stroke-width="1.6" stroke-linecap="butt"/>
<line x1="730.2" y1="519.6" x2="730.2" y2="526.6" stroke="#1d1527" stroke-width="1.6" stroke-linecap="butt"/>
<line x1="741.1" y1="519.6" x2="741.1" y2="526.6" stroke="#1d1527" stroke-width="1.6" stroke-linecap="butt"/>
<line x1="748.2" y1="519.6" x2="748.2" y2="526.6" stroke="#1d1527" stroke-width="1.6" stroke-linecap="butt"/>
<line x1="754.7" y1="519.6" x2="754.7" y2="526.6" stroke="#1d1527" stroke-width="1.6" stroke-linecap="butt"/>
<line x1="760.2" y1="519.6" x2="760.2" y2="526.6" stroke="#1d1527" stroke-width="1.6" stroke-linecap="butt"/>
<line x1="764.6" y1="519.6" x2="764.6" y2="526.6" stroke="#1d1527" stroke-width="1.6" stroke-linecap="butt"/>
<line x1="767.9" y1="519.6" x2="767.9" y2="526.6" stroke="#1d1527" stroke-width="1.6" stroke-linecap="butt"/>
<line x1="771.2" y1="519.6" x2="771.2" y2="526.6" stroke="#1d1527" stroke-width="1.6" stroke-linecap="butt"/>
<rect x="665.9" y="290.8" width="252.9" height="228.8" fill="none" stroke="#1d1527" stroke-width="1.9"/>
<line x1="797.5" y1="290.8" x2="797.5" y2="519.6" stroke="#1d1527" stroke-width="1.9" stroke-linecap="butt"/>
<line x1="665.9" y1="417.4" x2="918.8" y2="417.4" stroke="#1d1527" stroke-width="1.9" stroke-linecap="butt"/>
<text transform="translate(651.3 321.2) rotate(-90) scale(0.86 1)" font-family="'Liberation Sans', Arial, sans-serif" font-size="13.4" fill="#1d1527" stroke="#1d1527" stroke-width="0.25">10<tspan font-size="12.5" dx="0.5" dy="-8.8">5</tspan></text>
<text transform="translate(651.3 372.3) rotate(-90) scale(0.86 1)" font-family="'Liberation Sans', Arial, sans-serif" font-size="13.4" fill="#1d1527" stroke="#1d1527" stroke-width="0.25">10<tspan font-size="12.5" dx="0.5" dy="-8.8">4</tspan></text>
<text transform="translate(651.3 426.4) rotate(-90) scale(0.86 1)" font-family="'Liberation Sans', Arial, sans-serif" font-size="13.4" fill="#1d1527" stroke="#1d1527" stroke-width="0.25">10<tspan font-size="12.5" dx="0.5" dy="-8.8">3</tspan></text>
<text transform="translate(651.3 488.1) rotate(-90) scale(0.86 1)" font-family="'Liberation Sans', Arial, sans-serif" font-size="13.4" fill="#1d1527" stroke="#1d1527" stroke-width="0.25">0</text>
<text transform="translate(765 547.8) scale(0.86 1)" font-family="'Liberation Sans', Arial, sans-serif" font-size="13.4" fill="#1d1527" stroke="#1d1527" stroke-width="0.25">10<tspan font-size="12.5" dx="0.8" dy="-9">3</tspan></text>
<text transform="translate(827.5 547.8) scale(0.86 1)" font-family="'Liberation Sans', Arial, sans-serif" font-size="13.4" fill="#1d1527" stroke="#1d1527" stroke-width="0.25">10<tspan font-size="12.5" dx="0.8" dy="-9">4</tspan></text>
<text transform="translate(883.4 547.8) scale(0.86 1)" font-family="'Liberation Sans', Arial, sans-serif" font-size="13.4" fill="#1d1527" stroke="#1d1527" stroke-width="0.25">10<tspan font-size="12.5" dx="0.8" dy="-9">5</tspan></text>
<text transform="translate(702.5 548.2) scale(0.86 1)" font-family="'Liberation Sans', Arial, sans-serif" font-size="13.4" fill="#1d1527" stroke="#1d1527" stroke-width="0.25">0</text>
<text transform="translate(651 557.3) scale(0.86 1)" font-family="'Liberation Sans', Arial, sans-serif" font-size="13.4" fill="#1d1527" stroke="#1d1527" stroke-width="0.25">-416</text>
<text transform="translate(691.5 319.6) scale(0.92 1)" font-family="'Liberation Sans', Arial, sans-serif" font-size="17" fill="#1d1527">Q1</text>
<text transform="translate(804.5 319.6) scale(0.92 1)" font-family="'Liberation Sans', Arial, sans-serif" font-size="17" fill="#1d1527">Q2</text>
<text transform="translate(691.5 497.3) scale(0.92 1)" font-family="'Liberation Sans', Arial, sans-serif" font-size="17" fill="#1d1527">Q3</text>
<text transform="translate(804.5 497.3) scale(0.92 1)" font-family="'Liberation Sans', Arial, sans-serif" font-size="17" fill="#1d1527">Q4</text>
<text transform="translate(639.6 532) rotate(-90)" font-family="'Liberation Sans', Arial, sans-serif" font-size="12.5" fill="#1d1527" stroke="#1d1527" stroke-width="0.25">-308</text>
<g clip-path="url(#cp3)">
<ellipse cx="344" cy="1045" rx="36" ry="19" fill="#3d53b3"/>
<path d="M342.5 1007h1.6M385.5 1007h1.6M363.5 1007.5h1.6M354.5 1008.5h1.6M307.5 1010.5h1.6M327.5 1011h1.6M343 1012h1.6M377 1012h1.6M395 1012h1.6M381 1012.5h1.6M375.5 1013h1.6M383 1013h1.6M396 1013h1.6M317.5 1013.5h1.6M399.5 1013.5h1.6M312.5 1014h1.6M354.5 1014h1.6M387 1014h1.6M367.5 1014.5h1.6M387.5 1015h1.6M347.5 1015.5h1.6M397.5 1015.5h1.6M335 1016h1.6M351.5 1016h1.6M373.5 1016h1.6M321 1016.5h1.6M335 1016.5h1.6M362.5 1016.5h1.6M397 1016.5h1.6M312.5 1017h1.6M361 1017h1.6M379 1017.5h1.6M397 1018h1.6M404.5 1018.5h1.6M331 1019h1.6M343.5 1019h1.6M388.5 1019h1.6M394 1019h1.6M397 1019h1.6M402.5 1019h1.6M324.5 1019.5h1.6M342.5 1019.5h1.6M363 1019.5h1.6M378.5 1019.5h1.6M388.5 1019.5h1.6M396 1019.5h1.6M383.5 1020h1.6M388.5 1020h1.6M400 1020h1.6M335.5 1020.5h1.6M357.5 1020.5h1.6M367 1020.5h1.6M367.5 1020.5h1.6M390.5 1020.5h1.6M340.5 1021h1.6M376 1021h1.6M337 1021.5h1.6M381.5 1021.5h1.6M384 1021.5h1.6M386.5 1021.5h1.6M326 1022h1.6M352 1022h1.6M355.5 1022h1.6M363.5 1022h1.6M370 1022h1.6M370.5 1022h1.6M387 1022h1.6M406.5 1022h1.6M323.5 1022.5h1.6M340.5 1022.5h1.6M352 1022.5h1.6M363.5 1022.5h1.6M390 1022.5h1.6M392 1022.5h1.6M401.5 1022.5h1.6M346 1023h1.6M393 1023h1.6M394.5 1023h1.6M316 1023.5h1.6M325 1023.5h1.6M335.5 1023.5h1.6M383.5 1023.5h1.6M387 1023.5h1.6M317.5 1024h1.6M321.5 1024h1.6M330 1024h1.6M334 1024h1.6M350.5 1024h1.6M352 1024h1.6M376.5 1024h1.6M382 1024h1.6M398 1024h1.6M405 1024h1.6M305 1024.5h1.6M330 1024.5h1.6M340.5 1024.5h1.6M347 1024.5h1.6M362.5 1024.5h1.6M368 1024.5h1.6M396.5 1024.5h1.6M400 1024.5h1.6M334.5 1025h1.6M341 1025h1.6M347.5 1025h1.6M368 1025h1.6M381.5 1025h1.6M297.5 1025.5h1.6M317.5 1025.5h1.6M328 1025.5h1.6M353 1025.5h1.6M368 1025.5h1.6M368.5 1025.5h1.6M371.5 1025.5h1.6M372.5 1025.5h1.6M379.5 1025.5h1.6M383.5 1025.5h1.6M386.5 1025.5h1.6M393 1025.5h1.6M397.5 1025.5h1.6M398 1025.5h1.6M400.5 1025.5h1.6M330.5 1026h1.6M339.5 1026h1.6M377 1026h1.6M389.5 1026h1.6M394.5 1026h1.6M340 1026.5h1.6M351 1026.5h1.6M372 1026.5h1.6M380.5 1026.5h1.6M385.5 1026.5h1.6M388.5 1026.5h1.6M393 1026.5h1.6M394 1026.5h1.6M294.5 1027h1.6M303 1027h1.6M318.5 1027h1.6M330.5 1027h1.6M348 1027h1.6M361 1027h1.6M363.5 1027h1.6M367.5 1027h1.6M368 1027h1.6M382 1027h1.6M384.5 1027h1.6M385 1027h1.6M387 1027h1.6M400 1027h1.6M400.5 1027h1.6M296.5 1027.5h1.6M338 1027.5h1.6M341 1027.5h1.6M352 1027.5h1.6M363.5 1027.5h1.6M377.5 1027.5h1.6M379.5 1027.5h1.6M384 1027.5h1.6M332 1028h1.6M366 1028h1.6M375 1028h1.6M384.5 1028h1.6M386.5 1028h1.6M390.5 1028h1.6M391.5 1028h1.6M395.5 1028h1.6M290.5 1028.5h1.6M301 1028.5h1.6M329 1028.5h1.6M330 1028.5h1.6M341 1028.5h1.6M352 1028.5h1.6M354 1028.5h1.6M378.5 1028.5h1.6M380.5 1028.5h1.6M382 1028.5h1.6M388 1028.5h1.6M397 1028.5h1.6M400.5 1028.5h1.6M298.5 1029h1.6M309.5 1029h1.6M321.5 1029h1.6M323.5 1029h1.6M353.5 1029h1.6M354.5 1029h1.6M368.5 1029h1.6M379 1029h1.6M380 1029h1.6M387 1029h1.6M389 1029h1.6M395.5 1029h1.6M397.5 1029h1.6M399 1029h1.6M399.5 1029h1.6M403 1029h1.6M341.5 1029.5h1.6M346 1029.5h1.6M355.5 1029.5h1.6M366.5 1029.5h1.6M370 1029.5h1.6M392 1029.5h1.6M395 1029.5h1.6M398.5 1029.5h1.6M401.5 1029.5h1.6M310.5 1030h1.6M315 1030h1.6M322 1030h1.6M322.5 1030h1.6M337 1030h1.6M353.5 1030h1.6M364.5 1030h1.6M369 1030h1.6M379.5 1030h1.6M392.5 1030h1.6M399 1030h1.6M406 1030h1.6M335.5 1030.5h1.6M350.5 1030.5h1.6M355.5 1030.5h1.6M359 1030.5h1.6M370 1030.5h1.6M376 1030.5h1.6M377.5 1030.5h1.6M378.5 1030.5h1.6M382 1030.5h1.6M384 1030.5h1.6M385.5 1030.5h1.6M388 1030.5h1.6M397 1030.5h1.6M399.5 1030.5h1.6M402.5 1030.5h1.6M334.5 1031h1.6M347 1031h1.6M359 1031h1.6M361 1031h1.6M374.5 1031h1.6M376 1031h1.6M388.5 1031h1.6M392.5 1031h1.6M394.5 1031h1.6M320.5 1031.5h1.6M326.5 1031.5h1.6M346.5 1031.5h1.6M350 1031.5h1.6M351 1031.5h1.6M354.5 1031.5h1.6M358.5 1031.5h1.6M366.5 1031.5h1.6M370 1031.5h1.6M382.5 1031.5h1.6M383.5 1031.5h1.6M388 1031.5h1.6M388.5 1031.5h1.6M389.5 1031.5h1.6M392.5 1031.5h1.6M394.5 1031.5h1.6M395 1031.5h1.6M396 1031.5h1.6M402.5 1031.5h1.6M403 1031.5h1.6M334 1032h1.6M342 1032h1.6M365.5 1032h1.6M372.5 1032h1.6M377.5 1032h1.6M379.5 1032h1.6M389 1032h1.6M398 1032h1.6M398.5 1032h1.6M404.5 1032h1.6M322.5 1032.5h1.6M323.5 1032.5h1.6M332.5 1032.5h1.6M337 1032.5h1.6M342.5 1032.5h1.6M343 1032.5h1.6M343.5 1032.5h1.6M345 1032.5h1.6M353 1032.5h1.6M356.5 1032.5h1.6M376.5 1032.5h1.6M384 1032.5h1.6M389.5 1032.5h1.6M319 1033h1.6M326.5 1033h1.6M331 1033h1.6M342 1033h1.6M343 1033h1.6M358 1033h1.6M366 1033h1.6M366.5 1033h1.6M367.5 1033h1.6M381 1033h1.6M389.5 1033h1.6M390.5 1033h1.6M398 1033h1.6M406.5 1033h1.6M300 1033.5h1.6M304 1033.5h1.6M331.5 1033.5h1.6M334 1033.5h1.6M347 1033.5h1.6M349 1033.5h1.6M356 1033.5h1.6M357.5 1033.5h1.6M361 1033.5h1.6M365.5 1033.5h1.6M372.5 1033.5h1.6M383.5 1033.5h1.6M388.5 1033.5h1.6M393 1033.5h1.6M395 1033.5h1.6M396 1033.5h1.6M405.5 1033.5h1.6M305 1034h1.6M329 1034h1.6M330 1034h1.6M335 1034h1.6M358.5 1034h1.6M359 1034h1.6M376 1034h1.6M376.5 1034h1.6M380.5 1034h1.6M404.5 1034h1.6M312 1034.5h1.6M315 1034.5h1.6M340 1034.5h1.6M344 1034.5h1.6M345.5 1034.5h1.6M348 1034.5h1.6M348.5 1034.5h1.6M358.5 1034.5h1.6M370.5 1034.5h1.6M376 1034.5h1.6M377 1034.5h1.6M384 1034.5h1.6M384.5 1034.5h1.6M386.5 1034.5h1.6M391 1034.5h1.6M397 1034.5h1.6M397.5 1034.5h1.6M399 1034.5h1.6M400.5 1034.5h1.6M407 1034.5h1.6M308.5 1035h1.6M311.5 1035h1.6M323.5 1035h1.6M345 1035h1.6M346.5 1035h1.6M349.5 1035h1.6M354.5 1035h1.6M368 1035h1.6M378 1035h1.6M379 1035h1.6M380.5 1035h1.6M381 1035h1.6M383.5 1035h1.6M388 1035h1.6M389 1035h1.6M395 1035h1.6M396 1035h1.6M398 1035h1.6M407.5 1035h1.6M322 1035.5h1.6M325.5 1035.5h1.6M338 1035.5h1.6M358 1035.5h1.6M362 1035.5h1.6M365 1035.5h1.6M385 1035.5h1.6M389.5 1035.5h1.6M390.5 1035.5h1.6M393 1035.5h1.6M393.5 1035.5h1.6M395 1035.5h1.6M395.5 1035.5h1.6M398 1035.5h1.6M400 1035.5h1.6M311.5 1036h1.6M317 1036h1.6M330.5 1036h1.6M335 1036h1.6M336.5 1036h1.6M337 1036h1.6M350 1036h1.6M352 1036h1.6M356 1036h1.6M358 1036h1.6M359 1036h1.6M362.5 1036h1.6M381 1036h1.6M381.5 1036h1.6M383.5 1036h1.6M387.5 1036h1.6M389 1036h1.6M392.5 1036h1.6M401.5 1036h1.6M341.5 1036.5h1.6M353 1036.5h1.6M358 1036.5h1.6M362.5 1036.5h1.6M367 1036.5h1.6M372 1036.5h1.6M380 1036.5h1.6M389.5 1036.5h1.6M393 1036.5h1.6M395.5 1036.5h1.6M400.5 1036.5h1.6M401.5 1036.5h1.6M402.5 1036.5h1.6M297.5 1037h1.6M304.5 1037h1.6M334 1037h1.6M346.5 1037h1.6M353.5 1037h1.6M356.5 1037h1.6M358 1037h1.6M361 1037h1.6M363 1037h1.6M365 1037h1.6M375.5 1037h1.6M377 1037h1.6M379 1037h1.6M379.5 1037h1.6M382 1037h1.6M386.5 1037h1.6M387 1037h1.6M390.5 1037h1.6M394.5 1037h1.6M405.5 1037h1.6M303.5 1037.5h1.6M326.5 1037.5h1.6M331.5 1037.5h1.6M332 1037.5h1.6M335.5 1037.5h1.6M337.5 1037.5h1.6M359.5 1037.5h1.6M361.5 1037.5h1.6M363.5 1037.5h1.6M368 1037.5h1.6M374.5 1037.5h1.6M393 1037.5h1.6M395 1037.5h1.6M289 1038h1.6M292 1038h1.6M294 1038h1.6M295 1038h1.6M308.5 1038h1.6M311 1038h1.6M327 1038h1.6M334 1038h1.6M345 1038h1.6M345.5 1038h1.6M347 1038h1.6M355.5 1038h1.6M358.5 1038h1.6M359 1038h1.6M361.5 1038h1.6M368 1038h1.6M369 1038h1.6M374.5 1038h1.6M391.5 1038h1.6M393 1038h1.6M395.5 1038h1.6M396 1038h1.6M396.5 1038h1.6M398 1038h1.6M406 1038h1.6M335.5 1038.5h1.6M342.5 1038.5h1.6M350 1038.5h1.6M351.5 1038.5h1.6M352.5 1038.5h1.6M353.5 1038.5h1.6M356.5 1038.5h1.6M360.5 1038.5h1.6M362 1038.5h1.6M366 1038.5h1.6M375 1038.5h1.6M391 1038.5h1.6M392 1038.5h1.6M393 1038.5h1.6M395.5 1038.5h1.6M397 1038.5h1.6M403.5 1038.5h1.6M405.5 1038.5h1.6M310.5 1039h1.6M320 1039h1.6M335 1039h1.6M339.5 1039h1.6M344.5 1039h1.6M347 1039h1.6M347.5 1039h1.6M355 1039h1.6M364 1039h1.6M373.5 1039h1.6M377 1039h1.6M389 1039h1.6M390 1039h1.6M395 1039h1.6M395.5 1039h1.6M398.5 1039h1.6M403 1039h1.6M404 1039h1.6M407.5 1039h1.6M302 1039.5h1.6M305.5 1039.5h1.6M329 1039.5h1.6M335 1039.5h1.6M335.5 1039.5h1.6M339.5 1039.5h1.6M346 1039.5h1.6M347 1039.5h1.6M352 1039.5h1.6M353.5 1039.5h1.6M355.5 1039.5h1.6M367.5 1039.5h1.6M370.5 1039.5h1.6M373 1039.5h1.6M379.5 1039.5h1.6M383 1039.5h1.6M384.5 1039.5h1.6M388 1039.5h1.6M392 1039.5h1.6M393 1039.5h1.6M394 1039.5h1.6M398 1039.5h1.6M400 1039.5h1.6M401 1039.5h1.6M402 1039.5h1.6M402.5 1039.5h1.6M296.5 1040h1.6M304.5 1040h1.6M316 1040h1.6M337 1040h1.6M340.5 1040h1.6M348 1040h1.6M351 1040h1.6M373.5 1040h1.6M375 1040h1.6M378.5 1040h1.6M379.5 1040h1.6M388 1040h1.6M390 1040h1.6M391.5 1040h1.6M393 1040h1.6M400 1040h1.6M401 1040h1.6M401.5 1040h1.6M299.5 1040.5h1.6M319.5 1040.5h1.6M320.5 1040.5h1.6M325 1040.5h1.6M330 1040.5h1.6M339.5 1040.5h1.6M341.5 1040.5h1.6M342 1040.5h1.6M348 1040.5h1.6M351 1040.5h1.6M354 1040.5h1.6M361 1040.5h1.6M369 1040.5h1.6M374.5 1040.5h1.6M387 1040.5h1.6M387.5 1040.5h1.6M388.5 1040.5h1.6M390 1040.5h1.6M392.5 1040.5h1.6M394 1040.5h1.6M319.5 1041h1.6M333.5 1041h1.6M336.5 1041h1.6M346.5 1041h1.6M349 1041h1.6M350.5 1041h1.6M362.5 1041h1.6M368.5 1041h1.6M375 1041h1.6M380 1041h1.6M381 1041h1.6M390 1041h1.6M392.5 1041h1.6M394.5 1041h1.6M397 1041h1.6M398 1041h1.6M402.5 1041h1.6M307 1041.5h1.6M317.5 1041.5h1.6M321.5 1041.5h1.6M324 1041.5h1.6M324.5 1041.5h1.6M325.5 1041.5h1.6M345 1041.5h1.6M355.5 1041.5h1.6M356.5 1041.5h1.6M362 1041.5h1.6M368 1041.5h1.6M373 1041.5h1.6M375.5 1041.5h1.6M377.5 1041.5h1.6M378.5 1041.5h1.6M385.5 1041.5h1.6M386.5 1041.5h1.6M388 1041.5h1.6M389 1041.5h1.6M403 1041.5h1.6M404.5 1041.5h1.6M405 1041.5h1.6M406 1041.5h1.6M284.5 1042h1.6M286.5 1042h1.6M295.5 1042h1.6M325 1042h1.6M327.5 1042h1.6M329.5 1042h1.6M335.5 1042h1.6M340 1042h1.6M341 1042h1.6M353 1042h1.6M364 1042h1.6M367 1042h1.6M372 1042h1.6M390 1042h1.6M392.5 1042h1.6M398 1042h1.6M400 1042h1.6M401.5 1042h1.6M403.5 1042h1.6M298 1042.5h1.6M324.5 1042.5h1.6M348.5 1042.5h1.6M349.5 1042.5h1.6M358.5 1042.5h1.6M360 1042.5h1.6M363 1042.5h1.6M371.5 1042.5h1.6M374.5 1042.5h1.6M376 1042.5h1.6M378.5 1042.5h1.6M379 1042.5h1.6M381.5 1042.5h1.6M384 1042.5h1.6M387.5 1042.5h1.6M389 1042.5h1.6M389.5 1042.5h1.6M391.5 1042.5h1.6M392 1042.5h1.6M393 1042.5h1.6M394 1042.5h1.6M395 1042.5h1.6M396.5 1042.5h1.6M330 1043h1.6M332 1043h1.6M335.5 1043h1.6M336.5 1043h1.6M344 1043h1.6M346 1043h1.6M350 1043h1.6M352.5 1043h1.6M354 1043h1.6M358 1043h1.6M370.5 1043h1.6M374 1043h1.6M374.5 1043h1.6M384 1043h1.6M392 1043h1.6M398.5 1043h1.6M399 1043h1.6M312 1043.5h1.6M315 1043.5h1.6M316.5 1043.5h1.6M317.5 1043.5h1.6M321.5 1043.5h1.6M327.5 1043.5h1.6M344 1043.5h1.6M345.5 1043.5h1.6M352.5 1043.5h1.6M355.5 1043.5h1.6M365 1043.5h1.6M366.5 1043.5h1.6M374.5 1043.5h1.6M376.5 1043.5h1.6M379 1043.5h1.6M386 1043.5h1.6M388 1043.5h1.6M390 1043.5h1.6M391.5 1043.5h1.6M392.5 1043.5h1.6M397.5 1043.5h1.6M325.5 1044h1.6M330 1044h1.6M333.5 1044h1.6M337.5 1044h1.6M344 1044h1.6M345.5 1044h1.6M350 1044h1.6M352 1044h1.6M353.5 1044h1.6M354 1044h1.6M358 1044h1.6M360.5 1044h1.6M361 1044h1.6M365 1044h1.6M373.5 1044h1.6M375.5 1044h1.6M377.5 1044h1.6M378.5 1044h1.6M379.5 1044h1.6M381.5 1044h1.6M391.5 1044h1.6M396.5 1044h1.6M397.5 1044h1.6M402.5 1044h1.6M304.5 1044.5h1.6M309 1044.5h1.6M324 1044.5h1.6M327 1044.5h1.6M339 1044.5h1.6M344.5 1044.5h1.6M352.5 1044.5h1.6M355 1044.5h1.6M360 1044.5h1.6M365.5 1044.5h1.6M370 1044.5h1.6M376 1044.5h1.6M384.5 1044.5h1.6M385.5 1044.5h1.6M387 1044.5h1.6M388.5 1044.5h1.6M391 1044.5h1.6M299.5 1045h1.6M305.5 1045h1.6M317 1045h1.6M326 1045h1.6M336 1045h1.6M344.5 1045h1.6M346 1045h1.6M354 1045h1.6M356.5 1045h1.6M359 1045h1.6M370.5 1045h1.6M373 1045h1.6M380 1045h1.6M390 1045h1.6M399.5 1045h1.6M401 1045h1.6M402 1045h1.6M328.5 1045.5h1.6M329.5 1045.5h1.6M330 1045.5h1.6M333 1045.5h1.6M338.5 1045.5h1.6M339 1045.5h1.6M340 1045.5h1.6M340.5 1045.5h1.6M342.5 1045.5h1.6M347.5 1045.5h1.6M348 1045.5h1.6M352 1045.5h1.6M354 1045.5h1.6M356 1045.5h1.6M363.5 1045.5h1.6M364.5 1045.5h1.6M375.5 1045.5h1.6M377.5 1045.5h1.6M385 1045.5h1.6M386 1045.5h1.6M387.5 1045.5h1.6M388 1045.5h1.6M390 1045.5h1.6M390.5 1045.5h1.6M393.5 1045.5h1.6M401.5 1045.5h1.6M402.5 1045.5h1.6M303 1046h1.6M317 1046h1.6M319 1046h1.6M354 1046h1.6M362 1046h1.6M363 1046h1.6M365.5 1046h1.6M368.5 1046h1.6M372 1046h1.6M379.5 1046h1.6M395 1046h1.6M397.5 1046h1.6M404.5 1046h1.6M405 1046h1.6M328.5 1046.5h1.6M331.5 1046.5h1.6M334 1046.5h1.6M345.5 1046.5h1.6M348 1046.5h1.6M350.5 1046.5h1.6M352.5 1046.5h1.6M356 1046.5h1.6M356.5 1046.5h1.6M357.5 1046.5h1.6M358.5 1046.5h1.6M373 1046.5h1.6M373.5 1046.5h1.6M393.5 1046.5h1.6M291.5 1047h1.6M315 1047h1.6M317.5 1047h1.6M318 1047h1.6M322.5 1047h1.6M341.5 1047h1.6M358.5 1047h1.6M362.5 1047h1.6M367.5 1047h1.6M380.5 1047h1.6M381 1047h1.6M386.5 1047h1.6M393 1047h1.6M396 1047h1.6M402.5 1047h1.6M292.5 1047.5h1.6M306.5 1047.5h1.6M312 1047.5h1.6M319 1047.5h1.6M322.5 1047.5h1.6M343.5 1047.5h1.6M367 1047.5h1.6M368 1047.5h1.6M382.5 1047.5h1.6M393 1047.5h1.6M303 1048h1.6M309 1048h1.6M309.5 1048h1.6M316 1048h1.6M326 1048h1.6M328.5 1048h1.6M339 1048h1.6M339.5 1048h1.6M340.5 1048h1.6M342.5 1048h1.6M353.5 1048h1.6M354.5 1048h1.6M360 1048h1.6M361.5 1048h1.6M376.5 1048h1.6M378 1048h1.6M380 1048h1.6M387 1048h1.6M390 1048h1.6M391 1048h1.6M395 1048h1.6M294.5 1048.5h1.6M306 1048.5h1.6M315.5 1048.5h1.6M321.5 1048.5h1.6M327.5 1048.5h1.6M335.5 1048.5h1.6M336 1048.5h1.6M345.5 1048.5h1.6M347.5 1048.5h1.6M353.5 1048.5h1.6M354 1048.5h1.6M354.5 1048.5h1.6M371 1048.5h1.6M378 1048.5h1.6M383 1048.5h1.6M389.5 1048.5h1.6M391 1048.5h1.6M394 1048.5h1.6M394.5 1048.5h1.6M398 1048.5h1.6M399 1048.5h1.6M304 1049h1.6M338 1049h1.6M348 1049h1.6M355 1049h1.6M360 1049h1.6M360.5 1049h1.6M361 1049h1.6M361.5 1049h1.6M369 1049h1.6M389.5 1049h1.6M393 1049h1.6M395.5 1049h1.6M397 1049h1.6M406 1049h1.6M314.5 1049.5h1.6M329.5 1049.5h1.6M335 1049.5h1.6M335.5 1049.5h1.6M337 1049.5h1.6M352.5 1049.5h1.6M354 1049.5h1.6M356 1049.5h1.6M362.5 1049.5h1.6M364 1049.5h1.6M366.5 1049.5h1.6M368.5 1049.5h1.6M376 1049.5h1.6M377.5 1049.5h1.6M383 1049.5h1.6M389.5 1049.5h1.6M394 1049.5h1.6M395.5 1049.5h1.6M400 1049.5h1.6M401 1049.5h1.6M307 1050h1.6M320 1050h1.6M320.5 1050h1.6M322 1050h1.6M330 1050h1.6M332.5 1050h1.6M338.5 1050h1.6M342.5 1050h1.6M350.5 1050h1.6M353 1050h1.6M376.5 1050h1.6M385.5 1050h1.6M387 1050h1.6M393 1050h1.6M395.5 1050h1.6M341 1050.5h1.6M347.5 1050.5h1.6M349.5 1050.5h1.6M353.5 1050.5h1.6M359 1050.5h1.6M365 1050.5h1.6M382 1050.5h1.6M393 1050.5h1.6M317 1051h1.6M321.5 1051h1.6M323.5 1051h1.6M344.5 1051h1.6M348.5 1051h1.6M352.5 1051h1.6M359 1051h1.6M380.5 1051h1.6M389.5 1051h1.6M390 1051h1.6M393 1051h1.6M394 1051h1.6M399.5 1051h1.6M402.5 1051h1.6M405.5 1051h1.6M295.5 1051.5h1.6M304 1051.5h1.6M317.5 1051.5h1.6M318.5 1051.5h1.6M323.5 1051.5h1.6M325 1051.5h1.6M336.5 1051.5h1.6M341 1051.5h1.6M350 1051.5h1.6M351.5 1051.5h1.6M354.5 1051.5h1.6M359.5 1051.5h1.6M360 1051.5h1.6M361 1051.5h1.6M363 1051.5h1.6M365 1051.5h1.6M368 1051.5h1.6M368.5 1051.5h1.6M377 1051.5h1.6M378.5 1051.5h1.6M389 1051.5h1.6M393 1051.5h1.6M395 1051.5h1.6M301.5 1052h1.6M324.5 1052h1.6M328.5 1052h1.6M333 1052h1.6M335 1052h1.6M335.5 1052h1.6M347.5 1052h1.6M350.5 1052h1.6M358.5 1052h1.6M372 1052h1.6M375.5 1052h1.6M380 1052h1.6M382.5 1052h1.6M384.5 1052h1.6M389 1052h1.6M392 1052h1.6M398.5 1052h1.6M293.5 1052.5h1.6M307.5 1052.5h1.6M330.5 1052.5h1.6M334 1052.5h1.6M346.5 1052.5h1.6M348 1052.5h1.6M349.5 1052.5h1.6M362 1052.5h1.6M375.5 1052.5h1.6M381.5 1052.5h1.6M382 1052.5h1.6M330.5 1053h1.6M331.5 1053h1.6M338.5 1053h1.6M356 1053h1.6M357.5 1053h1.6M363.5 1053h1.6M370.5 1053h1.6M371 1053h1.6M377 1053h1.6M387.5 1053h1.6M389.5 1053h1.6M390 1053h1.6M394.5 1053h1.6M308.5 1053.5h1.6M309.5 1053.5h1.6M334 1053.5h1.6M345 1053.5h1.6M350 1053.5h1.6M357.5 1053.5h1.6M368.5 1053.5h1.6M379 1053.5h1.6M382.5 1053.5h1.6M296.5 1054h1.6M345.5 1054h1.6M353 1054h1.6M356.5 1054h1.6M358 1054h1.6M367.5 1054h1.6M386 1054h1.6M388.5 1054h1.6M392 1054h1.6M301.5 1054.5h1.6M307 1054.5h1.6M315.5 1054.5h1.6M322 1054.5h1.6M323.5 1054.5h1.6M326.5 1054.5h1.6M339.5 1054.5h1.6M345 1054.5h1.6M362.5 1054.5h1.6M377 1054.5h1.6M377.5 1054.5h1.6M385 1054.5h1.6M391 1054.5h1.6M402 1054.5h1.6M407.5 1054.5h1.6M308 1055h1.6M322.5 1055h1.6M328.5 1055h1.6M337.5 1055h1.6M342.5 1055h1.6M351 1055h1.6M353 1055h1.6M361 1055h1.6M371.5 1055h1.6M373 1055h1.6M374 1055h1.6M379.5 1055h1.6M296 1055.5h1.6M340.5 1055.5h1.6M348.5 1055.5h1.6M353.5 1055.5h1.6M355 1055.5h1.6M369.5 1055.5h1.6M397.5 1055.5h1.6M286.5 1056h1.6M307 1056h1.6M310.5 1056h1.6M320.5 1056h1.6M327 1056h1.6M341 1056h1.6M341.5 1056h1.6M344 1056h1.6M355.5 1056h1.6M357 1056h1.6M358 1056h1.6M363 1056h1.6M374 1056h1.6M383.5 1056h1.6M385 1056h1.6M392 1056h1.6M299 1056.5h1.6M313 1056.5h1.6M317.5 1056.5h1.6M335.5 1056.5h1.6M341.5 1056.5h1.6M353.5 1056.5h1.6M362.5 1056.5h1.6M363 1056.5h1.6M363.5 1056.5h1.6M368 1056.5h1.6M396.5 1056.5h1.6M399.5 1056.5h1.6M302 1057h1.6M336.5 1057h1.6M337.5 1057h1.6M348.5 1057h1.6M352 1057h1.6M356.5 1057h1.6M386 1057h1.6M307.5 1057.5h1.6M324.5 1057.5h1.6M332 1057.5h1.6M345.5 1057.5h1.6M354 1057.5h1.6M396.5 1057.5h1.6M402 1057.5h1.6M296 1058h1.6M334.5 1058h1.6M335 1058h1.6M350 1058h1.6M362.5 1058h1.6M365 1058h1.6M379 1058h1.6M379.5 1058h1.6M389 1058h1.6M395.5 1058h1.6M397 1058h1.6M405 1058h1.6M306.5 1058.5h1.6M326 1058.5h1.6M331.5 1058.5h1.6M339 1058.5h1.6M348.5 1058.5h1.6M354.5 1058.5h1.6M360.5 1058.5h1.6M364.5 1058.5h1.6M369.5 1058.5h1.6M395 1058.5h1.6M403 1058.5h1.6M331.5 1059h1.6M335.5 1059h1.6M345 1059h1.6M359.5 1059h1.6M373.5 1059h1.6M374 1059h1.6M403 1059h1.6M349.5 1059.5h1.6M354 1059.5h1.6M362.5 1059.5h1.6M395 1059.5h1.6M301.5 1060h1.6M314.5 1060h1.6M317.5 1060h1.6M335 1060h1.6M338 1060h1.6M340.5 1060h1.6M345.5 1060h1.6M364 1060h1.6M371 1060h1.6M376.5 1060h1.6M393.5 1060h1.6M315 1060.5h1.6M320.5 1060.5h1.6M335 1060.5h1.6M339 1060.5h1.6M351 1060.5h1.6M358 1060.5h1.6M359 1060.5h1.6M385 1060.5h1.6M388 1060.5h1.6M297.5 1061h1.6M306 1061h1.6M332.5 1061h1.6M338 1061h1.6M344 1061h1.6M351.5 1061h1.6M368.5 1061h1.6M354.5 1061.5h1.6M362 1061.5h1.6M324.5 1062h1.6M338 1062h1.6M368.5 1062h1.6M369 1062h1.6M373 1062h1.6M377.5 1062h1.6M321.5 1062.5h1.6M335 1062.5h1.6M343.5 1062.5h1.6M347 1062.5h1.6M366 1062.5h1.6M371 1062.5h1.6M372 1062.5h1.6M378 1062.5h1.6M382.5 1062.5h1.6M384 1062.5h1.6M385 1062.5h1.6M387.5 1062.5h1.6M295 1063h1.6M302 1063h1.6M371.5 1063h1.6M375 1063h1.6M375.5 1063h1.6M324 1063.5h1.6M327 1063.5h1.6M349.5 1063.5h1.6M352 1063.5h1.6M387.5 1063.5h1.6M404 1063.5h1.6M325 1064h1.6M335 1064h1.6M310 1064.5h1.6M328.5 1064.5h1.6M339 1064.5h1.6M352.5 1064.5h1.6M377.5 1064.5h1.6M314 1065h1.6M320 1065h1.6M326.5 1065h1.6M335 1065h1.6M338.5 1065h1.6M353.5 1065h1.6M364.5 1065h1.6M376 1065h1.6M313 1065.5h1.6M336 1065.5h1.6M342.5 1065.5h1.6M344.5 1065.5h1.6M348.5 1065.5h1.6M367 1065.5h1.6M391 1065.5h1.6M314.5 1066h1.6M321 1066h1.6M337.5 1066h1.6M361.5 1066h1.6M357.5 1066.5h1.6M369 1066.5h1.6M338 1067h1.6M352 1067h1.6M362 1067h1.6M370.5 1067h1.6M383 1067h1.6M386.5 1067h1.6M315 1067.5h1.6M347.5 1067.5h1.6M289 1068h1.6M350 1068h1.6M337.5 1068.5h1.6M363 1068.5h1.6M304.5 1069h1.6M332 1069h1.6M332.5 1069h1.6M360.5 1069h1.6M375.5 1069h1.6M385.5 1069h1.6M326 1069.5h1.6M374.5 1069.5h1.6M380.5 1069.5h1.6M356 1070h1.6M306.5 1070.5h1.6M320.5 1070.5h1.6M360 1070.5h1.6M364 1070.5h1.6M327 1071.5h1.6M337.5 1071.5h1.6M351.5 1072.5h1.6M354.5 1072.5h1.6M319 1073h1.6M339 1073h1.6M347.5 1073h1.6M373 1073h1.6M385 1074h1.6M335 1074.5h1.6M370 1075h1.6M345 1077.5h1.6M404 1077.5h1.6M336.5 1078.5h1.6M357.5 1078.5h1.6M371 1078.5h1.6M373.5 1079h1.6" fill="none" stroke="#4470cc" stroke-width="1.6"/>
<path d="M359 1007h1.6M333 1007.5h1.6M338 1007.5h1.6M363 1009.5h1.6M325 1010.5h1.6M364 1010.5h1.6M358.5 1012.5h1.6M335 1014h1.6M346 1014h1.6M348.5 1014h1.6M311.5 1015h1.6M373.5 1015h1.6M353 1015.5h1.6M369 1015.5h1.6M387.5 1015.5h1.6M310 1016h1.6M314 1016h1.6M338 1016h1.6M361 1016h1.6M389 1016h1.6M326 1016.5h1.6M344 1016.5h1.6M345 1016.5h1.6M357.5 1016.5h1.6M319 1017h1.6M341 1017h1.6M353.5 1017h1.6M318.5 1017.5h1.6M357.5 1017.5h1.6M371.5 1017.5h1.6M328 1018h1.6M336.5 1018h1.6M346 1018h1.6M327.5 1018.5h1.6M333 1018.5h1.6M347.5 1018.5h1.6M378 1018.5h1.6M394 1018.5h1.6M304.5 1019h1.6M320 1019h1.6M359 1019h1.6M361 1019h1.6M332 1019.5h1.6M337.5 1019.5h1.6M341.5 1019.5h1.6M345 1019.5h1.6M346 1019.5h1.6M364 1019.5h1.6M306.5 1020h1.6M343 1020h1.6M344 1020h1.6M353 1020h1.6M314.5 1020.5h1.6M323.5 1020.5h1.6M330 1020.5h1.6M334.5 1020.5h1.6M353 1020.5h1.6M359.5 1020.5h1.6M372.5 1020.5h1.6M321.5 1021h1.6M328 1021h1.6M336 1021h1.6M340.5 1021h1.6M347.5 1021h1.6M351 1021h1.6M374.5 1021h1.6M384.5 1021h1.6M314.5 1021.5h1.6M344 1021.5h1.6M360 1021.5h1.6M365.5 1021.5h1.6M374 1021.5h1.6M380.5 1021.5h1.6M381 1021.5h1.6M325 1022h1.6M342.5 1022h1.6M358.5 1022h1.6M363.5 1022h1.6M349.5 1022.5h1.6M350 1022.5h1.6M350.5 1022.5h1.6M352 1022.5h1.6M354.5 1022.5h1.6M310.5 1023h1.6M311.5 1023h1.6M337.5 1023h1.6M339.5 1023h1.6M347 1023h1.6M351 1023h1.6M376.5 1023h1.6M339.5 1023.5h1.6M346 1023.5h1.6M348 1023.5h1.6M353 1023.5h1.6M356 1023.5h1.6M397.5 1023.5h1.6M306.5 1024h1.6M322.5 1024h1.6M323 1024h1.6M324.5 1024h1.6M333.5 1024h1.6M342.5 1024h1.6M345 1024h1.6M350 1024h1.6M386 1024h1.6M311 1024.5h1.6M325.5 1024.5h1.6M326 1024.5h1.6M328.5 1024.5h1.6M331.5 1024.5h1.6M353 1024.5h1.6M356 1024.5h1.6M368.5 1024.5h1.6M320.5 1025h1.6M346.5 1025h1.6M348 1025h1.6M358 1025h1.6M359 1025h1.6M359.5 1025h1.6M360.5 1025h1.6M362 1025h1.6M365.5 1025h1.6M368 1025h1.6M370 1025h1.6M373.5 1025h1.6M318.5 1025.5h1.6M325.5 1025.5h1.6M327 1025.5h1.6M333 1025.5h1.6M342.5 1025.5h1.6M344 1025.5h1.6M345 1025.5h1.6M348.5 1025.5h1.6M352 1025.5h1.6M356.5 1025.5h1.6M358.5 1025.5h1.6M369.5 1025.5h1.6M374 1025.5h1.6M308.5 1026h1.6M317.5 1026h1.6M334 1026h1.6M349 1026h1.6M350 1026h1.6M359 1026h1.6M369.5 1026h1.6M372 1026h1.6M384.5 1026h1.6M288.5 1026.5h1.6M304.5 1026.5h1.6M319.5 1026.5h1.6M321.5 1026.5h1.6M324.5 1026.5h1.6M334.5 1026.5h1.6M336 1026.5h1.6M352.5 1026.5h1.6M360.5 1026.5h1.6M367 1026.5h1.6M383.5 1026.5h1.6M322 1027h1.6M342.5 1027h1.6M353.5 1027h1.6M354.5 1027h1.6M368 1027h1.6M370 1027h1.6M380 1027h1.6M382 1027h1.6M392 1027h1.6M285 1027.5h1.6M298.5 1027.5h1.6M325.5 1027.5h1.6M326 1027.5h1.6M337 1027.5h1.6M347.5 1027.5h1.6M350 1027.5h1.6M353 1027.5h1.6M354.5 1027.5h1.6M358 1027.5h1.6M363.5 1027.5h1.6M364.5 1027.5h1.6M367 1027.5h1.6M372 1027.5h1.6M375 1027.5h1.6M376 1027.5h1.6M380 1027.5h1.6M381.5 1027.5h1.6M393.5 1027.5h1.6M301.5 1028h1.6M317.5 1028h1.6M321.5 1028h1.6M323 1028h1.6M340.5 1028h1.6M343.5 1028h1.6M344 1028h1.6M346 1028h1.6M355 1028h1.6M359 1028h1.6M380.5 1028h1.6M382 1028h1.6M383.5 1028h1.6M387.5 1028h1.6M320.5 1028.5h1.6M332.5 1028.5h1.6M337.5 1028.5h1.6M338.5 1028.5h1.6M343.5 1028.5h1.6M347 1028.5h1.6M349.5 1028.5h1.6M351.5 1028.5h1.6M358.5 1028.5h1.6M359 1028.5h1.6M360 1028.5h1.6M362.5 1028.5h1.6M365.5 1028.5h1.6M369 1028.5h1.6M370 1028.5h1.6M381 1028.5h1.6M316 1029h1.6M317.5 1029h1.6M318.5 1029h1.6M319.5 1029h1.6M321 1029h1.6M324 1029h1.6M327 1029h1.6M327.5 1029h1.6M333 1029h1.6M335 1029h1.6M336 1029h1.6M339 1029h1.6M339.5 1029h1.6M340 1029h1.6M342.5 1029h1.6M343.5 1029h1.6M344 1029h1.6M346.5 1029h1.6M347.5 1029h1.6M349 1029h1.6M357 1029h1.6M359 1029h1.6M365 1029h1.6M368 1029h1.6M368.5 1029h1.6M381.5 1029h1.6M326.5 1029.5h1.6M327 1029.5h1.6M330 1029.5h1.6M331.5 1029.5h1.6M333.5 1029.5h1.6M335.5 1029.5h1.6M339 1029.5h1.6M343 1029.5h1.6M344.5 1029.5h1.6M347 1029.5h1.6M348 1029.5h1.6M350 1029.5h1.6M354.5 1029.5h1.6M357.5 1029.5h1.6M366 1029.5h1.6M371 1029.5h1.6M373 1029.5h1.6M305.5 1030h1.6M308.5 1030h1.6M310.5 1030h1.6M312 1030h1.6M316.5 1030h1.6M318 1030h1.6M321 1030h1.6M325 1030h1.6M334 1030h1.6M335 1030h1.6M336 1030h1.6M338 1030h1.6M338.5 1030h1.6M340.5 1030h1.6M344 1030h1.6M344.5 1030h1.6M346.5 1030h1.6M349.5 1030h1.6M350 1030h1.6M353 1030h1.6M357 1030h1.6M360 1030h1.6M362 1030h1.6M364 1030h1.6M367.5 1030h1.6M371 1030h1.6M382.5 1030h1.6M297.5 1030.5h1.6M326 1030.5h1.6M332.5 1030.5h1.6M333 1030.5h1.6M334 1030.5h1.6M335 1030.5h1.6M336 1030.5h1.6M336.5 1030.5h1.6M344.5 1030.5h1.6M346 1030.5h1.6M346.5 1030.5h1.6M348.5 1030.5h1.6M351.5 1030.5h1.6M352 1030.5h1.6M353 1030.5h1.6M354 1030.5h1.6M354.5 1030.5h1.6M374 1030.5h1.6M381.5 1030.5h1.6M384 1030.5h1.6M406.5 1030.5h1.6M305.5 1031h1.6M315 1031h1.6M317 1031h1.6M318 1031h1.6M325.5 1031h1.6M333 1031h1.6M336 1031h1.6M336.5 1031h1.6M345 1031h1.6M350.5 1031h1.6M352.5 1031h1.6M354 1031h1.6M359 1031h1.6M360.5 1031h1.6M365.5 1031h1.6M367.5 1031h1.6M377 1031h1.6M379.5 1031h1.6M398 1031h1.6M289.5 1031.5h1.6M305 1031.5h1.6M310 1031.5h1.6M318.5 1031.5h1.6M320 1031.5h1.6M323.5 1031.5h1.6M325 1031.5h1.6M330.5 1031.5h1.6M340 1031.5h1.6M342.5 1031.5h1.6M343.5 1031.5h1.6M347 1031.5h1.6M350.5 1031.5h1.6M351 1031.5h1.6M355 1031.5h1.6M371 1031.5h1.6M373.5 1031.5h1.6M375.5 1031.5h1.6M390 1031.5h1.6M318 1032h1.6M324.5 1032h1.6M326 1032h1.6M333 1032h1.6M339.5 1032h1.6M343.5 1032h1.6M346.5 1032h1.6M347.5 1032h1.6M349 1032h1.6M352 1032h1.6M352.5 1032h1.6M358 1032h1.6M361 1032h1.6M375 1032h1.6M381 1032h1.6M388.5 1032h1.6M303.5 1032.5h1.6M304.5 1032.5h1.6M306 1032.5h1.6M314 1032.5h1.6M319.5 1032.5h1.6M321 1032.5h1.6M323.5 1032.5h1.6M326.5 1032.5h1.6M327 1032.5h1.6M334.5 1032.5h1.6M339.5 1032.5h1.6M344 1032.5h1.6M348.5 1032.5h1.6M352.5 1032.5h1.6M353 1032.5h1.6M354 1032.5h1.6M354.5 1032.5h1.6M361.5 1032.5h1.6M363 1032.5h1.6M369.5 1032.5h1.6M377 1032.5h1.6M382 1032.5h1.6M387.5 1032.5h1.6M321 1033h1.6M330.5 1033h1.6M334.5 1033h1.6M336.5 1033h1.6M337 1033h1.6M340.5 1033h1.6M341 1033h1.6M342 1033h1.6M344.5 1033h1.6M346.5 1033h1.6M350.5 1033h1.6M355 1033h1.6M357.5 1033h1.6M359.5 1033h1.6M360.5 1033h1.6M365.5 1033h1.6M374 1033h1.6M375.5 1033h1.6M399 1033h1.6M308.5 1033.5h1.6M322.5 1033.5h1.6M327 1033.5h1.6M329 1033.5h1.6M333.5 1033.5h1.6M338 1033.5h1.6M340.5 1033.5h1.6M341.5 1033.5h1.6M342 1033.5h1.6M347 1033.5h1.6M348.5 1033.5h1.6M351 1033.5h1.6M353 1033.5h1.6M354 1033.5h1.6M355 1033.5h1.6M357 1033.5h1.6M358 1033.5h1.6M359.5 1033.5h1.6M368 1033.5h1.6M371.5 1033.5h1.6M374 1033.5h1.6M374.5 1033.5h1.6M376.5 1033.5h1.6M391.5 1033.5h1.6M296.5 1034h1.6M301 1034h1.6M310.5 1034h1.6M312 1034h1.6M314 1034h1.6M316.5 1034h1.6M318 1034h1.6M319.5 1034h1.6M321.5 1034h1.6M322.5 1034h1.6M327.5 1034h1.6M337.5 1034h1.6M344 1034h1.6M347.5 1034h1.6M348.5 1034h1.6M350 1034h1.6M352.5 1034h1.6M356.5 1034h1.6M358.5 1034h1.6M359.5 1034h1.6M366 1034h1.6M368.5 1034h1.6M374.5 1034h1.6M382 1034h1.6M385.5 1034h1.6M392 1034h1.6M306.5 1034.5h1.6M310.5 1034.5h1.6M316.5 1034.5h1.6M318 1034.5h1.6M332 1034.5h1.6M333 1034.5h1.6M336.5 1034.5h1.6M338 1034.5h1.6M346 1034.5h1.6M346.5 1034.5h1.6M347.5 1034.5h1.6M349 1034.5h1.6M350.5 1034.5h1.6M352.5 1034.5h1.6M354 1034.5h1.6M356 1034.5h1.6M357 1034.5h1.6M365 1034.5h1.6M367 1034.5h1.6M367.5 1034.5h1.6M368 1034.5h1.6M369 1034.5h1.6M370.5 1034.5h1.6M381.5 1034.5h1.6M278 1035h1.6M295 1035h1.6M301.5 1035h1.6M304 1035h1.6M310 1035h1.6M315 1035h1.6M316 1035h1.6M320.5 1035h1.6M327 1035h1.6M327.5 1035h1.6M329.5 1035h1.6M330 1035h1.6M335.5 1035h1.6M337 1035h1.6M342.5 1035h1.6M345 1035h1.6M346 1035h1.6M348 1035h1.6M348.5 1035h1.6M349.5 1035h1.6M356.5 1035h1.6M359 1035h1.6M364 1035h1.6M364.5 1035h1.6M368.5 1035h1.6M375 1035h1.6M377.5 1035h1.6M379.5 1035h1.6M289.5 1035.5h1.6M312 1035.5h1.6M315.5 1035.5h1.6M317.5 1035.5h1.6M318 1035.5h1.6M318.5 1035.5h1.6M323.5 1035.5h1.6M324.5 1035.5h1.6M326.5 1035.5h1.6M327 1035.5h1.6M328.5 1035.5h1.6M331 1035.5h1.6M334 1035.5h1.6M334.5 1035.5h1.6M337 1035.5h1.6M338 1035.5h1.6M341.5 1035.5h1.6M343.5 1035.5h1.6M345 1035.5h1.6M345.5 1035.5h1.6M348.5 1035.5h1.6M351.5 1035.5h1.6M354 1035.5h1.6M357.5 1035.5h1.6M358 1035.5h1.6M369 1035.5h1.6M373.5 1035.5h1.6M392 1035.5h1.6M298 1036h1.6M301 1036h1.6M322.5 1036h1.6M326 1036h1.6M327 1036h1.6M328 1036h1.6M328.5 1036h1.6M332 1036h1.6M332.5 1036h1.6M334 1036h1.6M341.5 1036h1.6M342 1036h1.6M345 1036h1.6M346.5 1036h1.6M349 1036h1.6M350.5 1036h1.6M351.5 1036h1.6M353.5 1036h1.6M354 1036h1.6M358 1036h1.6M361 1036h1.6M361.5 1036h1.6M363.5 1036h1.6M364 1036h1.6M366 1036h1.6M369.5 1036h1.6M371 1036h1.6M373.5 1036h1.6M387.5 1036h1.6M388.5 1036h1.6M393.5 1036h1.6M311.5 1036.5h1.6M314 1036.5h1.6M315 1036.5h1.6M322.5 1036.5h1.6M323.5 1036.5h1.6M324.5 1036.5h1.6M329.5 1036.5h1.6M330.5 1036.5h1.6M331 1036.5h1.6M331.5 1036.5h1.6M332.5 1036.5h1.6M333.5 1036.5h1.6M335 1036.5h1.6M336 1036.5h1.6M336.5 1036.5h1.6M338.5 1036.5h1.6M341 1036.5h1.6M341.5 1036.5h1.6M347.5 1036.5h1.6M348 1036.5h1.6M350.5 1036.5h1.6M352 1036.5h1.6M352.5 1036.5h1.6M353.5 1036.5h1.6M355.5 1036.5h1.6M357 1036.5h1.6M362 1036.5h1.6M373.5 1036.5h1.6M378.5 1036.5h1.6M379.5 1036.5h1.6M401 1036.5h1.6M287 1037h1.6M305.5 1037h1.6M324 1037h1.6M328 1037h1.6M328.5 1037h1.6M329 1037h1.6M330.5 1037h1.6M331 1037h1.6M333 1037h1.6M338 1037h1.6M339.5 1037h1.6M341 1037h1.6M343 1037h1.6M346 1037h1.6M346.5 1037h1.6M350 1037h1.6M352.5 1037h1.6M358.5 1037h1.6M359 1037h1.6M360 1037h1.6M365 1037h1.6M367.5 1037h1.6M368 1037h1.6M369 1037h1.6M369.5 1037h1.6M379.5 1037h1.6M399.5 1037h1.6M299 1037.5h1.6M300 1037.5h1.6M307 1037.5h1.6M311.5 1037.5h1.6M320.5 1037.5h1.6M322.5 1037.5h1.6M327 1037.5h1.6M329.5 1037.5h1.6M330 1037.5h1.6M336 1037.5h1.6M336.5 1037.5h1.6M337.5 1037.5h1.6M341.5 1037.5h1.6M342 1037.5h1.6M342.5 1037.5h1.6M344.5 1037.5h1.6M345.5 1037.5h1.6M346 1037.5h1.6M348 1037.5h1.6M348.5 1037.5h1.6M352 1037.5h1.6M352.5 1037.5h1.6M353 1037.5h1.6M357.5 1037.5h1.6M358.5 1037.5h1.6M359.5 1037.5h1.6M361 1037.5h1.6M362 1037.5h1.6M363.5 1037.5h1.6M364.5 1037.5h1.6M371.5 1037.5h1.6M377.5 1037.5h1.6M378.5 1037.5h1.6M380 1037.5h1.6M396.5 1037.5h1.6M312.5 1038h1.6M321.5 1038h1.6M325 1038h1.6M330 1038h1.6M334.5 1038h1.6M336.5 1038h1.6M337.5 1038h1.6M338 1038h1.6M342 1038h1.6M347 1038h1.6M347.5 1038h1.6M348 1038h1.6M351.5 1038h1.6M352.5 1038h1.6M356.5 1038h1.6M358 1038h1.6M359 1038h1.6M359.5 1038h1.6M362.5 1038h1.6M364 1038h1.6M368.5 1038h1.6M376.5 1038h1.6M382.5 1038h1.6M383 1038h1.6M393.5 1038h1.6M295.5 1038.5h1.6M297.5 1038.5h1.6M308.5 1038.5h1.6M310 1038.5h1.6M316 1038.5h1.6M319 1038.5h1.6M323 1038.5h1.6M329 1038.5h1.6M330 1038.5h1.6M331 1038.5h1.6M331.5 1038.5h1.6M332.5 1038.5h1.6M338 1038.5h1.6M340 1038.5h1.6M341.5 1038.5h1.6M343.5 1038.5h1.6M345 1038.5h1.6M346 1038.5h1.6M347 1038.5h1.6M348 1038.5h1.6M350 1038.5h1.6M352 1038.5h1.6M352.5 1038.5h1.6M355 1038.5h1.6M356.5 1038.5h1.6M361 1038.5h1.6M361.5 1038.5h1.6M362 1038.5h1.6M368 1038.5h1.6M368.5 1038.5h1.6M371.5 1038.5h1.6M372.5 1038.5h1.6M374.5 1038.5h1.6M375.5 1038.5h1.6M376 1038.5h1.6M378 1038.5h1.6M379.5 1038.5h1.6M382 1038.5h1.6M306.5 1039h1.6M307.5 1039h1.6M308.5 1039h1.6M310 1039h1.6M314 1039h1.6M315.5 1039h1.6M317 1039h1.6M317.5 1039h1.6M318.5 1039h1.6M321.5 1039h1.6M322 1039h1.6M324 1039h1.6M325.5 1039h1.6M327 1039h1.6M331 1039h1.6M331.5 1039h1.6M332 1039h1.6M332.5 1039h1.6M334.5 1039h1.6M336 1039h1.6M337.5 1039h1.6M338 1039h1.6M339.5 1039h1.6M341.5 1039h1.6M345.5 1039h1.6M347 1039h1.6M348 1039h1.6M349.5 1039h1.6M350.5 1039h1.6M353.5 1039h1.6M355 1039h1.6M357.5 1039h1.6M360 1039h1.6M362.5 1039h1.6M363.5 1039h1.6M367 1039h1.6M368 1039h1.6M369.5 1039h1.6M370.5 1039h1.6M371.5 1039h1.6M373.5 1039h1.6M374 1039h1.6M378 1039h1.6M381.5 1039h1.6M383 1039h1.6M384 1039h1.6M294 1039.5h1.6M294.5 1039.5h1.6M306 1039.5h1.6M311.5 1039.5h1.6M314.5 1039.5h1.6M322.5 1039.5h1.6M325.5 1039.5h1.6M326 1039.5h1.6M327.5 1039.5h1.6M329.5 1039.5h1.6M331 1039.5h1.6M331.5 1039.5h1.6M333.5 1039.5h1.6M334.5 1039.5h1.6M335.5 1039.5h1.6M339 1039.5h1.6M340 1039.5h1.6M341 1039.5h1.6M341.5 1039.5h1.6M342 1039.5h1.6M344 1039.5h1.6M345 1039.5h1.6M349.5 1039.5h1.6M353.5 1039.5h1.6M354.5 1039.5h1.6M355 1039.5h1.6M357 1039.5h1.6M358.5 1039.5h1.6M362 1039.5h1.6M364 1039.5h1.6M365.5 1039.5h1.6M372 1039.5h1.6M308.5 1040h1.6M316 1040h1.6M317 1040h1.6M318.5 1040h1.6M320 1040h1.6M325.5 1040h1.6M326.5 1040h1.6M327 1040h1.6M328.5 1040h1.6M330 1040h1.6M332 1040h1.6M334 1040h1.6M336 1040h1.6M337.5 1040h1.6M339.5 1040h1.6M342 1040h1.6M342.5 1040h1.6M343.5 1040h1.6M345 1040h1.6M346 1040h1.6M346.5 1040h1.6M348 1040h1.6M349 1040h1.6M351 1040h1.6M351.5 1040h1.6M353.5 1040h1.6M354 1040h1.6M354.5 1040h1.6M355 1040h1.6M355.5 1040h1.6M356 1040h1.6M356.5 1040h1.6M360.5 1040h1.6M361.5 1040h1.6M363 1040h1.6M363.5 1040h1.6M365.5 1040h1.6M369.5 1040h1.6M374.5 1040h1.6M383 1040h1.6M386 1040h1.6M310.5 1040.5h1.6M311 1040.5h1.6M317.5 1040.5h1.6M319.5 1040.5h1.6M320.5 1040.5h1.6M322 1040.5h1.6M324 1040.5h1.6M326.5 1040.5h1.6M327 1040.5h1.6M327.5 1040.5h1.6M328.5 1040.5h1.6M334.5 1040.5h1.6M335 1040.5h1.6M336 1040.5h1.6M337.5 1040.5h1.6M342 1040.5h1.6M343 1040.5h1.6M343.5 1040.5h1.6M344.5 1040.5h1.6M345 1040.5h1.6M345.5 1040.5h1.6M347 1040.5h1.6M349 1040.5h1.6M350 1040.5h1.6M352 1040.5h1.6M352.5 1040.5h1.6M354.5 1040.5h1.6M355.5 1040.5h1.6M356.5 1040.5h1.6M357.5 1040.5h1.6M359.5 1040.5h1.6M361.5 1040.5h1.6M363.5 1040.5h1.6M365 1040.5h1.6M366.5 1040.5h1.6M389 1040.5h1.6M297 1041h1.6M300.5 1041h1.6M302 1041h1.6M309.5 1041h1.6M310 1041h1.6M313 1041h1.6M321 1041h1.6M323 1041h1.6M330.5 1041h1.6M331.5 1041h1.6M333.5 1041h1.6M334 1041h1.6M335.5 1041h1.6M338.5 1041h1.6M339.5 1041h1.6M340 1041h1.6M342 1041h1.6M343 1041h1.6M343.5 1041h1.6M346 1041h1.6M347 1041h1.6M348 1041h1.6M348.5 1041h1.6M349 1041h1.6M350.5 1041h1.6M351.5 1041h1.6M352.5 1041h1.6M353.5 1041h1.6M354.5 1041h1.6M358.5 1041h1.6M362 1041h1.6M362.5 1041h1.6M364.5 1041h1.6M372 1041h1.6M372.5 1041h1.6M379 1041h1.6M382 1041h1.6M387 1041h1.6M390.5 1041h1.6M304.5 1041.5h1.6M308 1041.5h1.6M314.5 1041.5h1.6M322 1041.5h1.6M325.5 1041.5h1.6M329.5 1041.5h1.6M330 1041.5h1.6M331.5 1041.5h1.6M332 1041.5h1.6M334 1041.5h1.6M335 1041.5h1.6M338.5 1041.5h1.6M340.5 1041.5h1.6M341 1041.5h1.6M341.5 1041.5h1.6M344 1041.5h1.6M348.5 1041.5h1.6M350 1041.5h1.6M352.5 1041.5h1.6M353 1041.5h1.6M353.5 1041.5h1.6M354 1041.5h1.6M355 1041.5h1.6M355.5 1041.5h1.6M356 1041.5h1.6M358 1041.5h1.6M359 1041.5h1.6M361 1041.5h1.6M361.5 1041.5h1.6M362 1041.5h1.6M363.5 1041.5h1.6M364 1041.5h1.6M391 1041.5h1.6M276.5 1042h1.6M305 1042h1.6M307 1042h1.6M308 1042h1.6M312.5 1042h1.6M318.5 1042h1.6M323.5 1042h1.6M331.5 1042h1.6M336.5 1042h1.6M344 1042h1.6M345 1042h1.6M346.5 1042h1.6M347 1042h1.6M348 1042h1.6M349 1042h1.6M350 1042h1.6M354 1042h1.6M355 1042h1.6M357 1042h1.6M357.5 1042h1.6M358.5 1042h1.6M361 1042h1.6M361.5 1042h1.6M362 1042h1.6M366 1042h1.6M368.5 1042h1.6M370.5 1042h1.6M382.5 1042h1.6M384 1042h1.6M388 1042h1.6M309 1042.5h1.6M314.5 1042.5h1.6M315 1042.5h1.6M322 1042.5h1.6M323.5 1042.5h1.6M330 1042.5h1.6M332.5 1042.5h1.6M336.5 1042.5h1.6M337 1042.5h1.6M340 1042.5h1.6M341 1042.5h1.6M341.5 1042.5h1.6M342 1042.5h1.6M347.5 1042.5h1.6M348.5 1042.5h1.6M353.5 1042.5h1.6M359 1042.5h1.6M360.5 1042.5h1.6M362 1042.5h1.6M363 1042.5h1.6M364 1042.5h1.6M370 1042.5h1.6M386.5 1042.5h1.6M388 1042.5h1.6M400.5 1042.5h1.6M295 1043h1.6M312 1043h1.6M312.5 1043h1.6M315.5 1043h1.6M316.5 1043h1.6M317.5 1043h1.6M320.5 1043h1.6M321.5 1043h1.6M322 1043h1.6M322.5 1043h1.6M327.5 1043h1.6M329 1043h1.6M335.5 1043h1.6M336 1043h1.6M337.5 1043h1.6M340 1043h1.6M340.5 1043h1.6M341 1043h1.6M342 1043h1.6M342.5 1043h1.6M344 1043h1.6M346 1043h1.6M348 1043h1.6M349 1043h1.6M352.5 1043h1.6M356.5 1043h1.6M357 1043h1.6M358 1043h1.6M359 1043h1.6M361 1043h1.6M361.5 1043h1.6M362.5 1043h1.6M363 1043h1.6M364.5 1043h1.6M373.5 1043h1.6M375.5 1043h1.6M376 1043h1.6M378 1043h1.6M292.5 1043.5h1.6M301.5 1043.5h1.6M304 1043.5h1.6M304.5 1043.5h1.6M307.5 1043.5h1.6M310.5 1043.5h1.6M315 1043.5h1.6M316 1043.5h1.6M323 1043.5h1.6M325.5 1043.5h1.6M327 1043.5h1.6M329.5 1043.5h1.6M330.5 1043.5h1.6M333 1043.5h1.6M334.5 1043.5h1.6M335.5 1043.5h1.6M339 1043.5h1.6M339.5 1043.5h1.6M340.5 1043.5h1.6M341 1043.5h1.6M341.5 1043.5h1.6M342 1043.5h1.6M343 1043.5h1.6M345 1043.5h1.6M346.5 1043.5h1.6M347 1043.5h1.6M348.5 1043.5h1.6M349.5 1043.5h1.6M350 1043.5h1.6M351 1043.5h1.6M352.5 1043.5h1.6M355.5 1043.5h1.6M359 1043.5h1.6M363 1043.5h1.6M364.5 1043.5h1.6M367.5 1043.5h1.6M369.5 1043.5h1.6M390.5 1043.5h1.6M393.5 1043.5h1.6M301.5 1044h1.6M303.5 1044h1.6M308.5 1044h1.6M312.5 1044h1.6M313 1044h1.6M314 1044h1.6M320.5 1044h1.6M321.5 1044h1.6M322 1044h1.6M325.5 1044h1.6M326.5 1044h1.6M333 1044h1.6M338 1044h1.6M339.5 1044h1.6M340.5 1044h1.6M344 1044h1.6M345.5 1044h1.6M346 1044h1.6M348 1044h1.6M349 1044h1.6M349.5 1044h1.6M352 1044h1.6M352.5 1044h1.6M356.5 1044h1.6M357.5 1044h1.6M364 1044h1.6M369 1044h1.6M369.5 1044h1.6M370.5 1044h1.6M380.5 1044h1.6M382 1044h1.6M386 1044h1.6M293 1044.5h1.6M309.5 1044.5h1.6M314 1044.5h1.6M314.5 1044.5h1.6M317.5 1044.5h1.6M321 1044.5h1.6M323 1044.5h1.6M326 1044.5h1.6M326.5 1044.5h1.6M332 1044.5h1.6M343 1044.5h1.6M345 1044.5h1.6M346 1044.5h1.6M346.5 1044.5h1.6M349 1044.5h1.6M349.5 1044.5h1.6M353.5 1044.5h1.6M356.5 1044.5h1.6M358.5 1044.5h1.6M359.5 1044.5h1.6M361 1044.5h1.6M362 1044.5h1.6M364 1044.5h1.6M367 1044.5h1.6M367.5 1044.5h1.6M369 1044.5h1.6M370 1044.5h1.6M371.5 1044.5h1.6M377 1044.5h1.6M382 1044.5h1.6M291.5 1045h1.6M306.5 1045h1.6M308.5 1045h1.6M314 1045h1.6M325.5 1045h1.6M327 1045h1.6M330 1045h1.6M335 1045h1.6M336 1045h1.6M337.5 1045h1.6M341 1045h1.6M342 1045h1.6M342.5 1045h1.6M343 1045h1.6M344.5 1045h1.6M345.5 1045h1.6M346 1045h1.6M346.5 1045h1.6M349.5 1045h1.6M350.5 1045h1.6M353 1045h1.6M354 1045h1.6M355 1045h1.6M356 1045h1.6M357.5 1045h1.6M359 1045h1.6M361.5 1045h1.6M366.5 1045h1.6M368.5 1045h1.6M369 1045h1.6M370 1045h1.6M370.5 1045h1.6M372 1045h1.6M373.5 1045h1.6M374.5 1045h1.6M375.5 1045h1.6M378 1045h1.6M380 1045h1.6M395.5 1045h1.6M298.5 1045.5h1.6M303 1045.5h1.6M314 1045.5h1.6M314.5 1045.5h1.6M315 1045.5h1.6M315.5 1045.5h1.6M319 1045.5h1.6M321 1045.5h1.6M324.5 1045.5h1.6M326 1045.5h1.6M327.5 1045.5h1.6M335.5 1045.5h1.6M337 1045.5h1.6M337.5 1045.5h1.6M338.5 1045.5h1.6M339 1045.5h1.6M339.5 1045.5h1.6M340 1045.5h1.6M343.5 1045.5h1.6M344 1045.5h1.6M345.5 1045.5h1.6M346.5 1045.5h1.6M347.5 1045.5h1.6M348 1045.5h1.6M349 1045.5h1.6M351 1045.5h1.6M352.5 1045.5h1.6M353 1045.5h1.6M353.5 1045.5h1.6M356 1045.5h1.6M357 1045.5h1.6M358.5 1045.5h1.6M359 1045.5h1.6M360 1045.5h1.6M364.5 1045.5h1.6M365 1045.5h1.6M366.5 1045.5h1.6M368 1045.5h1.6M369.5 1045.5h1.6M374.5 1045.5h1.6M379 1045.5h1.6M381.5 1045.5h1.6M383 1045.5h1.6M306 1046h1.6M318 1046h1.6M318.5 1046h1.6M319 1046h1.6M323 1046h1.6M323.5 1046h1.6M324 1046h1.6M326 1046h1.6M326.5 1046h1.6M327.5 1046h1.6M328 1046h1.6M329 1046h1.6M331.5 1046h1.6M333 1046h1.6M335 1046h1.6M335.5 1046h1.6M337 1046h1.6M338 1046h1.6M341 1046h1.6M342.5 1046h1.6M343 1046h1.6M349 1046h1.6M351 1046h1.6M352.5 1046h1.6M356 1046h1.6M356.5 1046h1.6M357 1046h1.6M358 1046h1.6M358.5 1046h1.6M359.5 1046h1.6M362 1046h1.6M364 1046h1.6M365.5 1046h1.6M369.5 1046h1.6M370.5 1046h1.6M375.5 1046h1.6M378 1046h1.6M384 1046h1.6M302 1046.5h1.6M302.5 1046.5h1.6M307.5 1046.5h1.6M313 1046.5h1.6M314.5 1046.5h1.6M321.5 1046.5h1.6M322 1046.5h1.6M323 1046.5h1.6M323.5 1046.5h1.6M325.5 1046.5h1.6M327 1046.5h1.6M328 1046.5h1.6M329 1046.5h1.6M329.5 1046.5h1.6M336 1046.5h1.6M337 1046.5h1.6M342.5 1046.5h1.6M345.5 1046.5h1.6M350.5 1046.5h1.6M351 1046.5h1.6M358 1046.5h1.6M359 1046.5h1.6M360 1046.5h1.6M362.5 1046.5h1.6M363 1046.5h1.6M363.5 1046.5h1.6M370 1046.5h1.6M378.5 1046.5h1.6M379 1046.5h1.6M384.5 1046.5h1.6M385 1046.5h1.6M289.5 1047h1.6M295.5 1047h1.6M309.5 1047h1.6M312 1047h1.6M315 1047h1.6M319 1047h1.6M321.5 1047h1.6M322.5 1047h1.6M325.5 1047h1.6M327.5 1047h1.6M328.5 1047h1.6M335 1047h1.6M337 1047h1.6M337.5 1047h1.6M338 1047h1.6M342.5 1047h1.6M346 1047h1.6M346.5 1047h1.6M348 1047h1.6M349 1047h1.6M350 1047h1.6M350.5 1047h1.6M351 1047h1.6M356.5 1047h1.6M359 1047h1.6M361.5 1047h1.6M363.5 1047h1.6M365 1047h1.6M366 1047h1.6M368 1047h1.6M371 1047h1.6M372 1047h1.6M373.5 1047h1.6M374 1047h1.6M377.5 1047h1.6M379 1047h1.6M381.5 1047h1.6M388 1047h1.6M392 1047h1.6M302.5 1047.5h1.6M307.5 1047.5h1.6M312 1047.5h1.6M313 1047.5h1.6M318.5 1047.5h1.6M323.5 1047.5h1.6M326.5 1047.5h1.6M329 1047.5h1.6M331 1047.5h1.6M334.5 1047.5h1.6M337 1047.5h1.6M338 1047.5h1.6M341 1047.5h1.6M344 1047.5h1.6M344.5 1047.5h1.6M345 1047.5h1.6M346.5 1047.5h1.6M350 1047.5h1.6M352 1047.5h1.6M354 1047.5h1.6M355.5 1047.5h1.6M356.5 1047.5h1.6M357 1047.5h1.6M360 1047.5h1.6M362 1047.5h1.6M364 1047.5h1.6M369.5 1047.5h1.6M375 1047.5h1.6M376 1047.5h1.6M376.5 1047.5h1.6M379 1047.5h1.6M392 1047.5h1.6M298 1048h1.6M306 1048h1.6M315 1048h1.6M315.5 1048h1.6M317.5 1048h1.6M321 1048h1.6M323.5 1048h1.6M324.5 1048h1.6M327 1048h1.6M328 1048h1.6M330.5 1048h1.6M333.5 1048h1.6M334 1048h1.6M336 1048h1.6M336.5 1048h1.6M338 1048h1.6M339 1048h1.6M339.5 1048h1.6M342 1048h1.6M344.5 1048h1.6M345 1048h1.6M347.5 1048h1.6M351 1048h1.6M351.5 1048h1.6M352 1048h1.6M354.5 1048h1.6M356 1048h1.6M363 1048h1.6M363.5 1048h1.6M369 1048h1.6M371.5 1048h1.6M374.5 1048h1.6M377 1048h1.6M382 1048h1.6M386 1048h1.6M311 1048.5h1.6M320.5 1048.5h1.6M328 1048.5h1.6M329.5 1048.5h1.6M330.5 1048.5h1.6M333 1048.5h1.6M333.5 1048.5h1.6M334.5 1048.5h1.6M335 1048.5h1.6M335.5 1048.5h1.6M336 1048.5h1.6M336.5 1048.5h1.6M337 1048.5h1.6M337.5 1048.5h1.6M338.5 1048.5h1.6M341.5 1048.5h1.6M348 1048.5h1.6M348.5 1048.5h1.6M349.5 1048.5h1.6M351 1048.5h1.6M356.5 1048.5h1.6M357 1048.5h1.6M363.5 1048.5h1.6M366 1048.5h1.6M367.5 1048.5h1.6M370 1048.5h1.6M375 1048.5h1.6M382.5 1048.5h1.6M292.5 1049h1.6M303 1049h1.6M309 1049h1.6M311 1049h1.6M315 1049h1.6M319 1049h1.6M319.5 1049h1.6M320 1049h1.6M322 1049h1.6M323 1049h1.6M324 1049h1.6M325 1049h1.6M326 1049h1.6M326.5 1049h1.6M331.5 1049h1.6M337.5 1049h1.6M341.5 1049h1.6M342 1049h1.6M343.5 1049h1.6M345 1049h1.6M345.5 1049h1.6M347 1049h1.6M349 1049h1.6M351 1049h1.6M354.5 1049h1.6M357.5 1049h1.6M358.5 1049h1.6M360 1049h1.6M362 1049h1.6M363 1049h1.6M364 1049h1.6M367 1049h1.6M369.5 1049h1.6M378.5 1049h1.6M384.5 1049h1.6M387 1049h1.6M389 1049h1.6M304 1049.5h1.6M306.5 1049.5h1.6M313.5 1049.5h1.6M315.5 1049.5h1.6M317.5 1049.5h1.6M318 1049.5h1.6M322 1049.5h1.6M325 1049.5h1.6M329.5 1049.5h1.6M330 1049.5h1.6M332.5 1049.5h1.6M333 1049.5h1.6M333.5 1049.5h1.6M334 1049.5h1.6M335 1049.5h1.6M337 1049.5h1.6M339 1049.5h1.6M341 1049.5h1.6M341.5 1049.5h1.6M342.5 1049.5h1.6M345 1049.5h1.6M347 1049.5h1.6M350.5 1049.5h1.6M351 1049.5h1.6M351.5 1049.5h1.6M352.5 1049.5h1.6M357.5 1049.5h1.6M360.5 1049.5h1.6M361 1049.5h1.6M363 1049.5h1.6M368.5 1049.5h1.6M371 1049.5h1.6M377.5 1049.5h1.6M383 1049.5h1.6M299.5 1050h1.6M306.5 1050h1.6M307.5 1050h1.6M308 1050h1.6M314 1050h1.6M317.5 1050h1.6M321 1050h1.6M324.5 1050h1.6M328 1050h1.6M328.5 1050h1.6M329 1050h1.6M332.5 1050h1.6M337.5 1050h1.6M338 1050h1.6M343 1050h1.6M343.5 1050h1.6M345.5 1050h1.6M347.5 1050h1.6M348.5 1050h1.6M349 1050h1.6M350 1050h1.6M350.5 1050h1.6M353 1050h1.6M355 1050h1.6M356 1050h1.6M356.5 1050h1.6M358.5 1050h1.6M360.5 1050h1.6M362.5 1050h1.6M363.5 1050h1.6M365 1050h1.6M374.5 1050h1.6M375 1050h1.6M375.5 1050h1.6M392.5 1050h1.6M291 1050.5h1.6M316.5 1050.5h1.6M324 1050.5h1.6M325 1050.5h1.6M325.5 1050.5h1.6M327 1050.5h1.6M330 1050.5h1.6M333 1050.5h1.6M334 1050.5h1.6M337 1050.5h1.6M338 1050.5h1.6M339.5 1050.5h1.6M340 1050.5h1.6M340.5 1050.5h1.6M342 1050.5h1.6M344.5 1050.5h1.6M345.5 1050.5h1.6M348 1050.5h1.6M348.5 1050.5h1.6M356 1050.5h1.6M358 1050.5h1.6M359.5 1050.5h1.6M361.5 1050.5h1.6M366.5 1050.5h1.6M369 1050.5h1.6M371.5 1050.5h1.6M295.5 1051h1.6M301 1051h1.6M306 1051h1.6M311 1051h1.6M312 1051h1.6M315 1051h1.6M320 1051h1.6M321 1051h1.6M321.5 1051h1.6M324 1051h1.6M325 1051h1.6M325.5 1051h1.6M328.5 1051h1.6M329.5 1051h1.6M330 1051h1.6M336 1051h1.6M336.5 1051h1.6M337 1051h1.6M340 1051h1.6M341.5 1051h1.6M344 1051h1.6M345.5 1051h1.6M347.5 1051h1.6M348.5 1051h1.6M350.5 1051h1.6M355.5 1051h1.6M356.5 1051h1.6M357.5 1051h1.6M358 1051h1.6M359 1051h1.6M362 1051h1.6M365.5 1051h1.6M369.5 1051h1.6M372 1051h1.6M380.5 1051h1.6M302 1051.5h1.6M307.5 1051.5h1.6M308.5 1051.5h1.6M316.5 1051.5h1.6M318.5 1051.5h1.6M322.5 1051.5h1.6M323 1051.5h1.6M325 1051.5h1.6M326 1051.5h1.6M326.5 1051.5h1.6M328 1051.5h1.6M330 1051.5h1.6M331 1051.5h1.6M332.5 1051.5h1.6M334 1051.5h1.6M334.5 1051.5h1.6M337 1051.5h1.6M337.5 1051.5h1.6M339 1051.5h1.6M341 1051.5h1.6M341.5 1051.5h1.6M342 1051.5h1.6M342.5 1051.5h1.6M343 1051.5h1.6M346 1051.5h1.6M346.5 1051.5h1.6M347.5 1051.5h1.6M348 1051.5h1.6M351 1051.5h1.6M352.5 1051.5h1.6M353 1051.5h1.6M353.5 1051.5h1.6M357.5 1051.5h1.6M358.5 1051.5h1.6M361.5 1051.5h1.6M364 1051.5h1.6M368 1051.5h1.6M369.5 1051.5h1.6M372 1051.5h1.6M375 1051.5h1.6M377.5 1051.5h1.6M379.5 1051.5h1.6M384.5 1051.5h1.6M304 1052h1.6M310 1052h1.6M317.5 1052h1.6M320.5 1052h1.6M327 1052h1.6M328 1052h1.6M331.5 1052h1.6M333.5 1052h1.6M335.5 1052h1.6M336 1052h1.6M337 1052h1.6M338 1052h1.6M338.5 1052h1.6M339.5 1052h1.6M342.5 1052h1.6M343 1052h1.6M346.5 1052h1.6M349 1052h1.6M349.5 1052h1.6M350.5 1052h1.6M353 1052h1.6M354.5 1052h1.6M357.5 1052h1.6M359 1052h1.6M360.5 1052h1.6M361 1052h1.6M362.5 1052h1.6M367.5 1052h1.6M380 1052h1.6M304 1052.5h1.6M311.5 1052.5h1.6M315.5 1052.5h1.6M316.5 1052.5h1.6M322 1052.5h1.6M322.5 1052.5h1.6M323 1052.5h1.6M326 1052.5h1.6M327.5 1052.5h1.6M332 1052.5h1.6M333.5 1052.5h1.6M334 1052.5h1.6M335 1052.5h1.6M337 1052.5h1.6M339 1052.5h1.6M342.5 1052.5h1.6M343 1052.5h1.6M343.5 1052.5h1.6M344 1052.5h1.6M346.5 1052.5h1.6M347 1052.5h1.6M348.5 1052.5h1.6M353 1052.5h1.6M354.5 1052.5h1.6M361.5 1052.5h1.6M363 1052.5h1.6M364.5 1052.5h1.6M367 1052.5h1.6M369 1052.5h1.6M299.5 1053h1.6M315 1053h1.6M316.5 1053h1.6M322 1053h1.6M323 1053h1.6M324.5 1053h1.6M325.5 1053h1.6M328.5 1053h1.6M329 1053h1.6M330.5 1053h1.6M332 1053h1.6M332.5 1053h1.6M333 1053h1.6M336.5 1053h1.6M337.5 1053h1.6M338 1053h1.6M339.5 1053h1.6M341 1053h1.6M341.5 1053h1.6M342 1053h1.6M343 1053h1.6M344 1053h1.6M345 1053h1.6M347.5 1053h1.6M348 1053h1.6M350.5 1053h1.6M354 1053h1.6M356.5 1053h1.6M357 1053h1.6M357.5 1053h1.6M358.5 1053h1.6M359.5 1053h1.6M360.5 1053h1.6M361 1053h1.6M367.5 1053h1.6M369 1053h1.6M379.5 1053h1.6M380 1053h1.6M381 1053h1.6M386.5 1053h1.6M309 1053.5h1.6M316 1053.5h1.6M317.5 1053.5h1.6M318 1053.5h1.6M321 1053.5h1.6M325 1053.5h1.6M326 1053.5h1.6M330 1053.5h1.6M331 1053.5h1.6M331.5 1053.5h1.6M332 1053.5h1.6M333 1053.5h1.6M333.5 1053.5h1.6M334 1053.5h1.6M335 1053.5h1.6M335.5 1053.5h1.6M339 1053.5h1.6M341.5 1053.5h1.6M344.5 1053.5h1.6M345 1053.5h1.6M350 1053.5h1.6M350.5 1053.5h1.6M353 1053.5h1.6M355 1053.5h1.6M357.5 1053.5h1.6M359.5 1053.5h1.6M362 1053.5h1.6M364 1053.5h1.6M365 1053.5h1.6M367.5 1053.5h1.6M368 1053.5h1.6M371 1053.5h1.6M373.5 1053.5h1.6M376.5 1053.5h1.6M399.5 1053.5h1.6M278 1054h1.6M305.5 1054h1.6M307 1054h1.6M314.5 1054h1.6M318.5 1054h1.6M320.5 1054h1.6M327 1054h1.6M327.5 1054h1.6M332 1054h1.6M333 1054h1.6M334 1054h1.6M334.5 1054h1.6M337 1054h1.6M339.5 1054h1.6M344 1054h1.6M346 1054h1.6M347 1054h1.6M347.5 1054h1.6M349 1054h1.6M351 1054h1.6M353.5 1054h1.6M354.5 1054h1.6M357 1054h1.6M358 1054h1.6M361.5 1054h1.6M362.5 1054h1.6M366 1054h1.6M367 1054h1.6M368 1054h1.6M371.5 1054h1.6M373.5 1054h1.6M376.5 1054h1.6M405.5 1054h1.6M287 1054.5h1.6M299.5 1054.5h1.6M312 1054.5h1.6M325.5 1054.5h1.6M328 1054.5h1.6M331.5 1054.5h1.6M333 1054.5h1.6M333.5 1054.5h1.6M334 1054.5h1.6M335.5 1054.5h1.6M336.5 1054.5h1.6M338.5 1054.5h1.6M340 1054.5h1.6M340.5 1054.5h1.6M341 1054.5h1.6M342.5 1054.5h1.6M345.5 1054.5h1.6M346 1054.5h1.6M349.5 1054.5h1.6M354 1054.5h1.6M355.5 1054.5h1.6M359 1054.5h1.6M365 1054.5h1.6M368 1054.5h1.6M369 1054.5h1.6M377 1054.5h1.6M388 1054.5h1.6M295 1055h1.6M308.5 1055h1.6M310.5 1055h1.6M312.5 1055h1.6M318 1055h1.6M322.5 1055h1.6M326 1055h1.6M326.5 1055h1.6M327 1055h1.6M334 1055h1.6M334.5 1055h1.6M337 1055h1.6M338 1055h1.6M338.5 1055h1.6M339 1055h1.6M342 1055h1.6M342.5 1055h1.6M345.5 1055h1.6M347.5 1055h1.6M348 1055h1.6M351 1055h1.6M355 1055h1.6M357 1055h1.6M361.5 1055h1.6M364.5 1055h1.6M369 1055h1.6M377.5 1055h1.6M390 1055h1.6M299 1055.5h1.6M308 1055.5h1.6M309.5 1055.5h1.6M312 1055.5h1.6M319 1055.5h1.6M322.5 1055.5h1.6M326 1055.5h1.6M329.5 1055.5h1.6M333 1055.5h1.6M333.5 1055.5h1.6M334 1055.5h1.6M334.5 1055.5h1.6M335 1055.5h1.6M336.5 1055.5h1.6M338.5 1055.5h1.6M339 1055.5h1.6M339.5 1055.5h1.6M342 1055.5h1.6M342.5 1055.5h1.6M344 1055.5h1.6M345.5 1055.5h1.6M346 1055.5h1.6M350.5 1055.5h1.6M351.5 1055.5h1.6M352 1055.5h1.6M354.5 1055.5h1.6M358.5 1055.5h1.6M359.5 1055.5h1.6M362 1055.5h1.6M364 1055.5h1.6M369 1055.5h1.6M371.5 1055.5h1.6M374 1055.5h1.6M376.5 1055.5h1.6M301 1056h1.6M308 1056h1.6M310 1056h1.6M310.5 1056h1.6M317 1056h1.6M322.5 1056h1.6M330.5 1056h1.6M331 1056h1.6M334 1056h1.6M336 1056h1.6M340 1056h1.6M341.5 1056h1.6M342.5 1056h1.6M344 1056h1.6M345 1056h1.6M350.5 1056h1.6M352.5 1056h1.6M353 1056h1.6M353.5 1056h1.6M354.5 1056h1.6M361.5 1056h1.6M362.5 1056h1.6M366.5 1056h1.6M371.5 1056h1.6M289.5 1056.5h1.6M294.5 1056.5h1.6M295 1056.5h1.6M315 1056.5h1.6M316.5 1056.5h1.6M319.5 1056.5h1.6M325 1056.5h1.6M325.5 1056.5h1.6M327.5 1056.5h1.6M333.5 1056.5h1.6M335.5 1056.5h1.6M337.5 1056.5h1.6M339 1056.5h1.6M340.5 1056.5h1.6M341 1056.5h1.6M344 1056.5h1.6M344.5 1056.5h1.6M346.5 1056.5h1.6M352 1056.5h1.6M355.5 1056.5h1.6M356.5 1056.5h1.6M359 1056.5h1.6M361.5 1056.5h1.6M367.5 1056.5h1.6M376.5 1056.5h1.6M382 1056.5h1.6M383 1056.5h1.6M310.5 1057h1.6M324 1057h1.6M324.5 1057h1.6M325 1057h1.6M328.5 1057h1.6M333.5 1057h1.6M334 1057h1.6M334.5 1057h1.6M338.5 1057h1.6M341 1057h1.6M341.5 1057h1.6M346.5 1057h1.6M349.5 1057h1.6M350.5 1057h1.6M353 1057h1.6M358 1057h1.6M359 1057h1.6M362.5 1057h1.6M283 1057.5h1.6M308 1057.5h1.6M323.5 1057.5h1.6M328.5 1057.5h1.6M329 1057.5h1.6M331.5 1057.5h1.6M332.5 1057.5h1.6M333 1057.5h1.6M335 1057.5h1.6M338.5 1057.5h1.6M339 1057.5h1.6M341 1057.5h1.6M348 1057.5h1.6M349.5 1057.5h1.6M351 1057.5h1.6M354.5 1057.5h1.6M355.5 1057.5h1.6M356.5 1057.5h1.6M357 1057.5h1.6M371.5 1057.5h1.6M372.5 1057.5h1.6M380.5 1057.5h1.6M394.5 1057.5h1.6M295 1058h1.6M303.5 1058h1.6M312 1058h1.6M315.5 1058h1.6M323 1058h1.6M326.5 1058h1.6M330 1058h1.6M332.5 1058h1.6M333 1058h1.6M334.5 1058h1.6M335 1058h1.6M336.5 1058h1.6M344.5 1058h1.6M346 1058h1.6M351 1058h1.6M353.5 1058h1.6M354.5 1058h1.6M356.5 1058h1.6M358.5 1058h1.6M359 1058h1.6M368.5 1058h1.6M371 1058h1.6M373 1058h1.6M385 1058h1.6M309.5 1058.5h1.6M322.5 1058.5h1.6M323 1058.5h1.6M324.5 1058.5h1.6M331.5 1058.5h1.6M333 1058.5h1.6M333.5 1058.5h1.6M334.5 1058.5h1.6M335.5 1058.5h1.6M338 1058.5h1.6M339 1058.5h1.6M342 1058.5h1.6M347.5 1058.5h1.6M349 1058.5h1.6M350.5 1058.5h1.6M355.5 1058.5h1.6M356 1058.5h1.6M365 1058.5h1.6M368 1058.5h1.6M315.5 1059h1.6M323.5 1059h1.6M328 1059h1.6M329.5 1059h1.6M330 1059h1.6M330.5 1059h1.6M331.5 1059h1.6M337 1059h1.6M337.5 1059h1.6M340 1059h1.6M340.5 1059h1.6M342 1059h1.6M349.5 1059h1.6M353 1059h1.6M354 1059h1.6M356 1059h1.6M360 1059h1.6M365.5 1059h1.6M369.5 1059h1.6M375.5 1059h1.6M390 1059h1.6M391.5 1059h1.6M294.5 1059.5h1.6M313.5 1059.5h1.6M314.5 1059.5h1.6M317 1059.5h1.6M335 1059.5h1.6M338.5 1059.5h1.6M339.5 1059.5h1.6M340 1059.5h1.6M344.5 1059.5h1.6M346.5 1059.5h1.6M347 1059.5h1.6M348 1059.5h1.6M349.5 1059.5h1.6M350.5 1059.5h1.6M354.5 1059.5h1.6M355 1059.5h1.6M379.5 1059.5h1.6M296.5 1060h1.6M321 1060h1.6M328.5 1060h1.6M331 1060h1.6M337.5 1060h1.6M340 1060h1.6M341 1060h1.6M343 1060h1.6M347.5 1060h1.6M348.5 1060h1.6M352.5 1060h1.6M360 1060h1.6M362 1060h1.6M362.5 1060h1.6M368 1060h1.6M370 1060h1.6M389.5 1060h1.6M305.5 1060.5h1.6M321 1060.5h1.6M335 1060.5h1.6M337.5 1060.5h1.6M345 1060.5h1.6M353.5 1060.5h1.6M354 1060.5h1.6M357 1060.5h1.6M362 1060.5h1.6M300.5 1061h1.6M304.5 1061h1.6M307 1061h1.6M318.5 1061h1.6M324 1061h1.6M329 1061h1.6M329.5 1061h1.6M330.5 1061h1.6M333.5 1061h1.6M338 1061h1.6M339.5 1061h1.6M341.5 1061h1.6M345 1061h1.6M345.5 1061h1.6M346 1061h1.6M347.5 1061h1.6M350.5 1061h1.6M354 1061h1.6M358 1061h1.6M359 1061h1.6M302.5 1061.5h1.6M322.5 1061.5h1.6M327.5 1061.5h1.6M330.5 1061.5h1.6M332 1061.5h1.6M332.5 1061.5h1.6M334.5 1061.5h1.6M335 1061.5h1.6M336 1061.5h1.6M347 1061.5h1.6M352.5 1061.5h1.6M357 1061.5h1.6M358 1061.5h1.6M367 1061.5h1.6M374 1061.5h1.6M303 1062h1.6M328 1062h1.6M330.5 1062h1.6M335 1062h1.6M337 1062h1.6M337.5 1062h1.6M347.5 1062h1.6M348 1062h1.6M355.5 1062h1.6M358.5 1062h1.6M380 1062h1.6M313 1062.5h1.6M318 1062.5h1.6M319.5 1062.5h1.6M325.5 1062.5h1.6M327.5 1062.5h1.6M328 1062.5h1.6M328.5 1062.5h1.6M331 1062.5h1.6M334 1062.5h1.6M334.5 1062.5h1.6M338.5 1062.5h1.6M340.5 1062.5h1.6M344 1062.5h1.6M344.5 1062.5h1.6M348 1062.5h1.6M350 1062.5h1.6M351.5 1062.5h1.6M357.5 1062.5h1.6M358 1062.5h1.6M359.5 1062.5h1.6M363 1062.5h1.6M372 1062.5h1.6M319.5 1063h1.6M332.5 1063h1.6M337 1063h1.6M337.5 1063h1.6M342.5 1063h1.6M344 1063h1.6M345 1063h1.6M350 1063h1.6M352 1063h1.6M353 1063h1.6M354 1063h1.6M364.5 1063h1.6M366.5 1063h1.6M313 1063.5h1.6M321 1063.5h1.6M325.5 1063.5h1.6M327.5 1063.5h1.6M330 1063.5h1.6M340.5 1063.5h1.6M346.5 1063.5h1.6M347 1063.5h1.6M350.5 1063.5h1.6M356 1063.5h1.6M359 1063.5h1.6M362 1063.5h1.6M369 1063.5h1.6M371 1063.5h1.6M304.5 1064h1.6M308 1064h1.6M315 1064h1.6M319 1064h1.6M326.5 1064h1.6M328 1064h1.6M337 1064h1.6M337.5 1064h1.6M338.5 1064h1.6M339 1064h1.6M339.5 1064h1.6M343.5 1064h1.6M345 1064h1.6M351.5 1064h1.6M353.5 1064h1.6M360.5 1064h1.6M386.5 1064h1.6M319 1064.5h1.6M326.5 1064.5h1.6M328.5 1064.5h1.6M338 1064.5h1.6M347.5 1064.5h1.6M348 1064.5h1.6M371 1064.5h1.6M373 1064.5h1.6M324 1065h1.6M326.5 1065h1.6M331.5 1065h1.6M333 1065h1.6M338 1065h1.6M363 1065h1.6M386 1065h1.6M317.5 1065.5h1.6M320 1065.5h1.6M328 1065.5h1.6M330 1065.5h1.6M332 1065.5h1.6M335.5 1065.5h1.6M343 1065.5h1.6M349.5 1065.5h1.6M354.5 1065.5h1.6M356 1065.5h1.6M361.5 1065.5h1.6M366.5 1065.5h1.6M299.5 1066h1.6M308.5 1066h1.6M311 1066h1.6M317 1066h1.6M322.5 1066h1.6M326 1066h1.6M345.5 1066h1.6M367.5 1066h1.6M370 1066h1.6M322.5 1066.5h1.6M326.5 1066.5h1.6M328.5 1066.5h1.6M336 1066.5h1.6M347 1066.5h1.6M348.5 1066.5h1.6M366.5 1066.5h1.6M385 1066.5h1.6M325 1067h1.6M331.5 1067h1.6M332 1067h1.6M341 1067h1.6M343 1067h1.6M344 1067h1.6M349 1067h1.6M351 1067h1.6M362.5 1067h1.6M373.5 1067h1.6M325 1067.5h1.6M326.5 1067.5h1.6M334 1067.5h1.6M335 1067.5h1.6M348 1067.5h1.6M350 1067.5h1.6M355.5 1067.5h1.6M297 1068h1.6M317 1068h1.6M325.5 1068h1.6M327 1068h1.6M331 1068h1.6M340.5 1068h1.6M347.5 1068h1.6M359 1068h1.6M365.5 1068h1.6M322 1068.5h1.6M329.5 1068.5h1.6M335.5 1068.5h1.6M339 1068.5h1.6M342 1068.5h1.6M358 1068.5h1.6M358.5 1068.5h1.6M359 1068.5h1.6M365 1068.5h1.6M380.5 1068.5h1.6M299 1069h1.6M308 1069h1.6M327.5 1069h1.6M341 1069h1.6M344 1069h1.6M350 1069h1.6M351 1069h1.6M357.5 1069h1.6M318 1069.5h1.6M343 1069.5h1.6M353.5 1069.5h1.6M349.5 1070h1.6M374 1070h1.6M308.5 1070.5h1.6M324 1070.5h1.6M343 1070.5h1.6M361.5 1070.5h1.6M379.5 1070.5h1.6M386.5 1070.5h1.6M305.5 1071h1.6M310.5 1071h1.6M316.5 1071h1.6M322 1071h1.6M340.5 1071h1.6M344.5 1071h1.6M356 1071h1.6M364.5 1071h1.6M310 1071.5h1.6M310.5 1071.5h1.6M351.5 1071.5h1.6M356 1071.5h1.6M368.5 1071.5h1.6M370 1071.5h1.6M382.5 1071.5h1.6M342.5 1072.5h1.6M343.5 1072.5h1.6M323.5 1073h1.6M338 1073h1.6M339 1073h1.6M341 1073h1.6M350 1073h1.6M352.5 1073h1.6M356.5 1073h1.6M358 1073h1.6M318.5 1073.5h1.6M323 1073.5h1.6M346 1073.5h1.6M323 1074h1.6M332 1074h1.6M321.5 1074.5h1.6M352 1075h1.6M362 1075.5h1.6M362.5 1075.5h1.6M315.5 1076h1.6M378 1076.5h1.6M391 1076.5h1.6M364 1077h1.6M379.5 1077h1.6M334.5 1077.5h1.6M347.5 1077.5h1.6M347.5 1078.5h1.6M346 1079h1.6M330 1079.5h1.6M316.5 1080h1.6M340.5 1080h1.6M336 1080.5h1.6M320.5 1081h1.6M343 1081.5h1.6M348.5 1081.5h1.6M336.5 1082h1.6" fill="none" stroke="#3d53b3" stroke-width="1.6"/>
<path d="M447.5 1008h1.6M420.5 1008.5h1.6M434 1008.5h1.6M439 1008.5h1.6M452 1009h1.6M409 1012h1.6M434 1012h1.6M443 1012.5h1.6M418.5 1013h1.6M456 1013h1.6M470 1013.5h1.6M429.5 1015h1.6M447.5 1015h1.6M465 1015.5h1.6M411 1016h1.6M449.5 1016.5h1.6M429 1017h1.6M422 1018h1.6M451.5 1018.5h1.6M460 1019h1.6M470 1019.5h1.6M413.5 1022h1.6M417 1023.5h1.6M424 1023.5h1.6M469 1023.5h1.6M410 1024h1.6M470.5 1024h1.6M467.5 1025h1.6M440.5 1025.5h1.6M451 1026.5h1.6M417 1028h1.6M464 1028h1.6M473.5 1028h1.6M417.5 1029h1.6M465.5 1029.5h1.6M409 1030h1.6M414.5 1031.5h1.6M409 1033.5h1.6M474.5 1033.5h1.6M410 1034h1.6M422.5 1034h1.6M409.5 1034.5h1.6M413.5 1034.5h1.6M436 1034.5h1.6M458.5 1035h1.6M409 1035.5h1.6M409 1036h1.6M414 1036h1.6M453 1036.5h1.6M415 1037h1.6M410.5 1037.5h1.6M423 1037.5h1.6M424.5 1037.5h1.6M471 1037.5h1.6M439 1038h1.6M414.5 1038.5h1.6M408 1039h1.6M408 1039.5h1.6M467 1039.5h1.6M431.5 1041h1.6M466 1041h1.6M407.5 1041.5h1.6M409.5 1041.5h1.6M413 1042h1.6M441.5 1042h1.6M409 1043.5h1.6M413.5 1044h1.6M409.5 1044.5h1.6M439.5 1044.5h1.6M415.5 1045h1.6M459 1045h1.6M420 1046.5h1.6M415 1047.5h1.6M469 1048.5h1.6M412.5 1049h1.6M464 1050h1.6M412 1050.5h1.6M456.5 1052.5h1.6M409.5 1053.5h1.6M419 1053.5h1.6M420.5 1054.5h1.6M415.5 1055h1.6M407.5 1056h1.6M409 1057h1.6M427 1057h1.6M453.5 1058h1.6M418 1058.5h1.6M461 1059.5h1.6M465 1059.5h1.6M417.5 1060.5h1.6M459 1060.5h1.6M426 1064.5h1.6M443 1065h1.6M416 1066h1.6M422 1067h1.6M468 1068h1.6M473.5 1068h1.6M436 1069h1.6M420.5 1071.5h1.6M432 1072h1.6M450.5 1072h1.6M437.5 1073h1.6M410.5 1073.5h1.6M449 1073.5h1.6M421 1076h1.6M455.5 1077.5h1.6M427 1078h1.6M409.5 1080h1.6M432 1080h1.6" fill="none" stroke="#2fa83a" stroke-width="1.6"/>
<path d="M349 959h1.6M341 978.5h1.6M353.5 983.5h1.6M381 983.5h1.6M358.5 989h1.6M345 993h1.6M365.5 995h1.6M360.5 1001h1.6M343 1001.5h1.6M366.5 1001.5h1.6M349 1002.5h1.6M354.5 1004h1.6M340.5 1005h1.6M359.5 1005.5h1.6" fill="none" stroke="#151515" stroke-width="1.6"/>
<path d="M486 862.5h1.6M484 863.5h1.6M487 869.5h1.6M485 870h1.6M486 870h1.6M484.5 870.5h1.6M485.5 871h1.6M487 871h1.6M485.5 873.5h1.6M487 873.5h1.6M486.5 874h1.6M486 876h1.6M486.5 877h1.6M485.5 877.5h1.6M486 877.5h1.6M483 878h1.6M486 878h1.6M486 878.5h1.6M486.5 878.5h1.6M486 879h1.6M486.5 879h1.6M487.5 879.5h1.6M484.5 880h1.6M486 880.5h1.6M487.5 880.5h1.6M485 881h1.6M487 881h1.6M485 881.5h1.6M487 881.5h1.6M485.5 882h1.6M483.5 883.5h1.6M485 884h1.6M487.5 885h1.6M487 885.5h1.6M487.5 885.5h1.6M485.5 886h1.6M486.5 886h1.6M486 887.5h1.6M487 887.5h1.6M487.5 888.5h1.6M485.5 889h1.6M486.5 889h1.6M484.5 890h1.6M486.5 890h1.6M485 890.5h1.6M485.5 890.5h1.6M486 890.5h1.6M486.5 890.5h1.6M484.5 892h1.6M486 892.5h1.6M486.5 893h1.6M487.5 893h1.6M486 893.5h1.6M486 894h1.6M486 894.5h1.6M484.5 895h1.6M485.5 895h1.6M486 895h1.6M485 895.5h1.6M485.5 896h1.6M486 896h1.6M485.5 896.5h1.6M485 897h1.6M485.5 897h1.6M486 897h1.6M484.5 898h1.6M486 899h1.6M482 899.5h1.6M484 899.5h1.6M486 899.5h1.6M487.5 899.5h1.6M485 900h1.6M486.5 900.5h1.6M486.5 901h1.6M486 902h1.6M487 902.5h1.6M487.5 903.5h1.6M472.5 904h1.6M485.5 904h1.6M487 904h1.6M487.5 904h1.6M475 904.5h1.6M485 904.5h1.6M485.5 904.5h1.6M472.5 905h1.6M487 905h1.6M474.5 905.5h1.6M485 905.5h1.6M473 906h1.6M479 906h1.6M480 906.5h1.6M486.5 906.5h1.6M485 907h1.6M485.5 907h1.6M486 907h1.6M487 907h1.6M472 907.5h1.6M479 907.5h1.6M484 907.5h1.6M454.5 908h1.6M471.5 908h1.6M482 908h1.6M486 908h1.6M475.5 909h1.6M484 909h1.6M470 909.5h1.6M475.5 909.5h1.6M483 909.5h1.6M485.5 909.5h1.6M479.5 910h1.6M480.5 910h1.6M483.5 910h1.6M486 910h1.6M481 910.5h1.6M487 910.5h1.6M486 911h1.6M487.5 911h1.6M486.5 911.5h1.6M475.5 912h1.6M476.5 912h1.6M483 912h1.6M470.5 912.5h1.6M473.5 912.5h1.6M475.5 912.5h1.6M480.5 912.5h1.6M481.5 912.5h1.6M486 912.5h1.6M473 913h1.6M479.5 913h1.6M486 913h1.6M486.5 913h1.6M487 913h1.6M476 914h1.6M477 914h1.6M463 914.5h1.6M474 914.5h1.6M487 915h1.6M468.5 915.5h1.6M469 915.5h1.6M477.5 916h1.6M482 916h1.6M485.5 916h1.6M487 916h1.6M481.5 916.5h1.6M471.5 917h1.6M487 917h1.6M479.5 918h1.6M487 918h1.6M487.5 918h1.6M483 918.5h1.6M487.5 918.5h1.6M457.5 919h1.6M467.5 920h1.6M477 920.5h1.6M478 920.5h1.6M478.5 920.5h1.6M483 920.5h1.6M486.5 920.5h1.6M456.5 921h1.6M485 921h1.6M486.5 921h1.6M484 921.5h1.6M475 922h1.6M484.5 922h1.6M486.5 922h1.6M448 924h1.6M485 924h1.6M487.5 924h1.6M486 925h1.6M457 927h1.6M487 927h1.6M485.5 927.5h1.6M485.5 929h1.6M485.5 930.5h1.6M487 930.5h1.6M417 931h1.6M469 932h1.6M434.5 932.5h1.6M417 933h1.6M467 934.5h1.6M422 935h1.6M435.5 935h1.6M486.5 935h1.6M484.5 936h1.6M486 938h1.6M442.5 939.5h1.6M468 940h1.6M410.5 941h1.6M468.5 941.5h1.6M411.5 942h1.6M457.5 942h1.6M485 942.5h1.6M459 944h1.6M456.5 945.5h1.6M478.5 945.5h1.6M487 946h1.6M413 947h1.6M424 947h1.6M459 947.5h1.6M486 947.5h1.6M471 948h1.6M485.5 950.5h1.6M449.5 951h1.6M474 953h1.6M420.5 954.5h1.6M468 954.5h1.6M478.5 954.5h1.6M425 955h1.6M481.5 955.5h1.6M458.5 956h1.6M479 956.5h1.6M426.5 957h1.6M448.5 957h1.6M460 957h1.6M426.5 957.5h1.6M440 957.5h1.6M468.5 958h1.6M417 959.5h1.6M478.5 959.5h1.6M418.5 960h1.6M438 963.5h1.6M486 963.5h1.6M417.5 964h1.6M437.5 964h1.6M409 964.5h1.6M470.5 965h1.6M440.5 966.5h1.6M470 967h1.6M421 967.5h1.6M468 967.5h1.6M434.5 968.5h1.6M453 969h1.6M438 971h1.6M454.5 972h1.6M442 972.5h1.6M466 974.5h1.6M478.5 974.5h1.6M426.5 976.5h1.6M436.5 976.5h1.6M438.5 978h1.6M438 982h1.6M425.5 982.5h1.6M411 985h1.6M449.5 985.5h1.6M461 987h1.6M483.5 987h1.6M435 988.5h1.6M452 988.5h1.6M409.5 989.5h1.6M465 990h1.6M439.5 991h1.6M459 991h1.6M447.5 992.5h1.6M411.5 993.5h1.6M443 994.5h1.6M465.5 997.5h1.6M449 999h1.6M477.5 1000h1.6M452.5 1000.5h1.6M462.5 1000.5h1.6M476 1000.5h1.6M411 1001.5h1.6M415.5 1003h1.6" fill="none" stroke="#e6361f" stroke-width="1.6"/>
</g>
<line x1="225.4" y1="1036.9" x2="236.4" y2="1036.9" stroke="#1d1527" stroke-width="1.8" stroke-linecap="butt"/>
<line x1="225.4" y1="982.5" x2="236.4" y2="982.5" stroke="#1d1527" stroke-width="1.8" stroke-linecap="butt"/>
<line x1="225.4" y1="929.9" x2="236.4" y2="929.9" stroke="#1d1527" stroke-width="1.8" stroke-linecap="butt"/>
<line x1="225.4" y1="878.4" x2="236.4" y2="878.4" stroke="#1d1527" stroke-width="1.8" stroke-linecap="butt"/>
<line x1="230.9" y1="1020.52" x2="236.4" y2="1020.52" stroke="#1d1527" stroke-width="1.6" stroke-linecap="butt"/>
<line x1="230.9" y1="1010.94" x2="236.4" y2="1010.94" stroke="#1d1527" stroke-width="1.6" stroke-linecap="butt"/>
<line x1="230.9" y1="1004.15" x2="236.4" y2="1004.15" stroke="#1d1527" stroke-width="1.6" stroke-linecap="butt"/>
<line x1="230.9" y1="998.88" x2="236.4" y2="998.88" stroke="#1d1527" stroke-width="1.6" stroke-linecap="butt"/>
<line x1="230.9" y1="994.57" x2="236.4" y2="994.57" stroke="#1d1527" stroke-width="1.6" stroke-linecap="butt"/>
<line x1="230.9" y1="990.93" x2="236.4" y2="990.93" stroke="#1d1527" stroke-width="1.6" stroke-linecap="butt"/>
<line x1="230.9" y1="987.77" x2="236.4" y2="987.77" stroke="#1d1527" stroke-width="1.6" stroke-linecap="butt"/>
<line x1="230.9" y1="984.99" x2="236.4" y2="984.99" stroke="#1d1527" stroke-width="1.6" stroke-linecap="butt"/>
<line x1="230.9" y1="966.67" x2="236.4" y2="966.67" stroke="#1d1527" stroke-width="1.6" stroke-linecap="butt"/>
<line x1="230.9" y1="957.4" x2="236.4" y2="957.4" stroke="#1d1527" stroke-width="1.6" stroke-linecap="butt"/>
<line x1="230.9" y1="950.83" x2="236.4" y2="950.83" stroke="#1d1527" stroke-width="1.6" stroke-linecap="butt"/>
<line x1="230.9" y1="945.73" x2="236.4" y2="945.73" stroke="#1d1527" stroke-width="1.6" stroke-linecap="butt"/>
<line x1="230.9" y1="941.57" x2="236.4" y2="941.57" stroke="#1d1527" stroke-width="1.6" stroke-linecap="butt"/>
<line x1="230.9" y1="938.05" x2="236.4" y2="938.05" stroke="#1d1527" stroke-width="1.6" stroke-linecap="butt"/>
<line x1="230.9" y1="935" x2="236.4" y2="935" stroke="#1d1527" stroke-width="1.6" stroke-linecap="butt"/>
<line x1="230.9" y1="932.31" x2="236.4" y2="932.31" stroke="#1d1527" stroke-width="1.6" stroke-linecap="butt"/>
<line x1="230.9" y1="914.4" x2="236.4" y2="914.4" stroke="#1d1527" stroke-width="1.6" stroke-linecap="butt"/>
<line x1="230.9" y1="905.33" x2="236.4" y2="905.33" stroke="#1d1527" stroke-width="1.6" stroke-linecap="butt"/>
<line x1="230.9" y1="898.89" x2="236.4" y2="898.89" stroke="#1d1527" stroke-width="1.6" stroke-linecap="butt"/>
<line x1="230.9" y1="893.9" x2="236.4" y2="893.9" stroke="#1d1527" stroke-width="1.6" stroke-linecap="butt"/>
<line x1="230.9" y1="889.83" x2="236.4" y2="889.83" stroke="#1d1527" stroke-width="1.6" stroke-linecap="butt"/>
<line x1="230.9" y1="886.38" x2="236.4" y2="886.38" stroke="#1d1527" stroke-width="1.6" stroke-linecap="butt"/>
<line x1="230.9" y1="883.39" x2="236.4" y2="883.39" stroke="#1d1527" stroke-width="1.6" stroke-linecap="butt"/>
<line x1="230.9" y1="880.76" x2="236.4" y2="880.76" stroke="#1d1527" stroke-width="1.6" stroke-linecap="butt"/>
<line x1="230.9" y1="862.9" x2="236.4" y2="862.9" stroke="#1d1527" stroke-width="1.6" stroke-linecap="butt"/>
<line x1="225.4" y1="1052.3" x2="236.4" y2="1052.3" stroke="#1d1527" stroke-width="3.6" stroke-linecap="butt"/>
<line x1="225.4" y1="1085" x2="236.4" y2="1085" stroke="#1d1527" stroke-width="1.8" stroke-linecap="butt"/>
<line x1="230.9" y1="1070" x2="236.4" y2="1070" stroke="#1d1527" stroke-width="1.6" stroke-linecap="butt"/>
<line x1="288.6" y1="1085" x2="288.6" y2="1098" stroke="#1d1527" stroke-width="1.8" stroke-linecap="butt"/>
<line x1="348.9" y1="1085" x2="348.9" y2="1098" stroke="#1d1527" stroke-width="1.8" stroke-linecap="butt"/>
<line x1="407.6" y1="1085" x2="407.6" y2="1098" stroke="#1d1527" stroke-width="1.8" stroke-linecap="butt"/>
<line x1="465.1" y1="1085" x2="465.1" y2="1098" stroke="#1d1527" stroke-width="1.8" stroke-linecap="butt"/>
<line x1="306.75" y1="1085" x2="306.75" y2="1092" stroke="#1d1527" stroke-width="1.6" stroke-linecap="butt"/>
<line x1="317.37" y1="1085" x2="317.37" y2="1092" stroke="#1d1527" stroke-width="1.6" stroke-linecap="butt"/>
<line x1="324.9" y1="1085" x2="324.9" y2="1092" stroke="#1d1527" stroke-width="1.6" stroke-linecap="butt"/>
<line x1="330.75" y1="1085" x2="330.75" y2="1092" stroke="#1d1527" stroke-width="1.6" stroke-linecap="butt"/>
<line x1="335.52" y1="1085" x2="335.52" y2="1092" stroke="#1d1527" stroke-width="1.6" stroke-linecap="butt"/>
<line x1="339.56" y1="1085" x2="339.56" y2="1092" stroke="#1d1527" stroke-width="1.6" stroke-linecap="butt"/>
<line x1="343.06" y1="1085" x2="343.06" y2="1092" stroke="#1d1527" stroke-width="1.6" stroke-linecap="butt"/>
<line x1="346.14" y1="1085" x2="346.14" y2="1092" stroke="#1d1527" stroke-width="1.6" stroke-linecap="butt"/>
<line x1="366.57" y1="1085" x2="366.57" y2="1092" stroke="#1d1527" stroke-width="1.6" stroke-linecap="butt"/>
<line x1="376.91" y1="1085" x2="376.91" y2="1092" stroke="#1d1527" stroke-width="1.6" stroke-linecap="butt"/>
<line x1="384.24" y1="1085" x2="384.24" y2="1092" stroke="#1d1527" stroke-width="1.6" stroke-linecap="butt"/>
<line x1="389.93" y1="1085" x2="389.93" y2="1092" stroke="#1d1527" stroke-width="1.6" stroke-linecap="butt"/>
<line x1="394.58" y1="1085" x2="394.58" y2="1092" stroke="#1d1527" stroke-width="1.6" stroke-linecap="butt"/>
<line x1="398.51" y1="1085" x2="398.51" y2="1092" stroke="#1d1527" stroke-width="1.6" stroke-linecap="butt"/>
<line x1="401.91" y1="1085" x2="401.91" y2="1092" stroke="#1d1527" stroke-width="1.6" stroke-linecap="butt"/>
<line x1="404.91" y1="1085" x2="404.91" y2="1092" stroke="#1d1527" stroke-width="1.6" stroke-linecap="butt"/>
<line x1="424.91" y1="1085" x2="424.91" y2="1092" stroke="#1d1527" stroke-width="1.6" stroke-linecap="butt"/>
<line x1="435.03" y1="1085" x2="435.03" y2="1092" stroke="#1d1527" stroke-width="1.6" stroke-linecap="butt"/>
<line x1="442.22" y1="1085" x2="442.22" y2="1092" stroke="#1d1527" stroke-width="1.6" stroke-linecap="butt"/>
<line x1="447.79" y1="1085" x2="447.79" y2="1092" stroke="#1d1527" stroke-width="1.6" stroke-linecap="butt"/>
<line x1="452.34" y1="1085" x2="452.34" y2="1092" stroke="#1d1527" stroke-width="1.6" stroke-linecap="butt"/>
<line x1="456.19" y1="1085" x2="456.19" y2="1092" stroke="#1d1527" stroke-width="1.6" stroke-linecap="butt"/>
<line x1="459.53" y1="1085" x2="459.53" y2="1092" stroke="#1d1527" stroke-width="1.6" stroke-linecap="butt"/>
<line x1="462.47" y1="1085" x2="462.47" y2="1092" stroke="#1d1527" stroke-width="1.6" stroke-linecap="butt"/>
<line x1="482.41" y1="1085" x2="482.41" y2="1092" stroke="#1d1527" stroke-width="1.6" stroke-linecap="butt"/>
<line x1="268.8" y1="1085" x2="268.8" y2="1098" stroke="#1d1527" stroke-width="3.6" stroke-linecap="butt"/>
<line x1="236.6" y1="1085" x2="236.6" y2="1098" stroke="#1d1527" stroke-width="1.8" stroke-linecap="butt"/>
<line x1="250" y1="1085" x2="250" y2="1098" stroke="#1d1527" stroke-width="1.8" stroke-linecap="butt"/>
<line x1="243" y1="1085" x2="243" y2="1092" stroke="#1d1527" stroke-width="1.6" stroke-linecap="butt"/>
<line x1="257" y1="1085" x2="257" y2="1092" stroke="#1d1527" stroke-width="1.6" stroke-linecap="butt"/>
<line x1="262" y1="1085" x2="262" y2="1092" stroke="#1d1527" stroke-width="1.6" stroke-linecap="butt"/>
<line x1="265.5" y1="1085" x2="265.5" y2="1092" stroke="#1d1527" stroke-width="1.6" stroke-linecap="butt"/>
<line x1="272" y1="1085" x2="272" y2="1092" stroke="#1d1527" stroke-width="1.6" stroke-linecap="butt"/>
<rect x="236.4" y="856" width="252.2" height="229" fill="none" stroke="#1d1527" stroke-width="1.9"/>
<line x1="407.6" y1="856" x2="407.6" y2="1085" stroke="#1d1527" stroke-width="1.9" stroke-linecap="butt"/>
<line x1="236.4" y1="1006.7" x2="488.6" y2="1006.7" stroke="#1d1527" stroke-width="1.9" stroke-linecap="butt"/>
<text transform="translate(221.8 886.8) rotate(-90) scale(0.86 1)" font-family="'Liberation Sans', Arial, sans-serif" font-size="13.4" fill="#1d1527" stroke="#1d1527" stroke-width="0.25">10<tspan font-size="12.5" dx="0.5" dy="-8.8">5</tspan></text>
<text transform="translate(221.8 938.3) rotate(-90) scale(0.86 1)" font-family="'Liberation Sans', Arial, sans-serif" font-size="13.4" fill="#1d1527" stroke="#1d1527" stroke-width="0.25">10<tspan font-size="12.5" dx="0.5" dy="-8.8">4</tspan></text>
<text transform="translate(221.8 990.9) rotate(-90) scale(0.86 1)" font-family="'Liberation Sans', Arial, sans-serif" font-size="13.4" fill="#1d1527" stroke="#1d1527" stroke-width="0.25">10<tspan font-size="12.5" dx="0.5" dy="-8.8">3</tspan></text>
<text transform="translate(221.8 1045.3) rotate(-90) scale(0.86 1)" font-family="'Liberation Sans', Arial, sans-serif" font-size="13.4" fill="#1d1527" stroke="#1d1527" stroke-width="0.25">10<tspan font-size="12.5" dx="0.5" dy="-8.8">2</tspan></text>
<text transform="translate(221.8 1056.6) rotate(-90) scale(0.86 1)" font-family="'Liberation Sans', Arial, sans-serif" font-size="13.4" fill="#1d1527" stroke="#1d1527" stroke-width="0.25">0</text>
<text transform="translate(279.1 1113.2) scale(0.86 1)" font-family="'Liberation Sans', Arial, sans-serif" font-size="13.4" fill="#1d1527" stroke="#1d1527" stroke-width="0.25">10<tspan font-size="12.5" dx="0.8" dy="-9">2</tspan></text>
<text transform="translate(339.4 1113.2) scale(0.86 1)" font-family="'Liberation Sans', Arial, sans-serif" font-size="13.4" fill="#1d1527" stroke="#1d1527" stroke-width="0.25">10<tspan font-size="12.5" dx="0.8" dy="-9">3</tspan></text>
<text transform="translate(398.1 1113.2) scale(0.86 1)" font-family="'Liberation Sans', Arial, sans-serif" font-size="13.4" fill="#1d1527" stroke="#1d1527" stroke-width="0.25">10<tspan font-size="12.5" dx="0.8" dy="-9">4</tspan></text>
<text transform="translate(455.6 1113.2) scale(0.86 1)" font-family="'Liberation Sans', Arial, sans-serif" font-size="13.4" fill="#1d1527" stroke="#1d1527" stroke-width="0.25">10<tspan font-size="12.5" dx="0.8" dy="-9">5</tspan></text>
<text transform="translate(263.7 1113.2) scale(0.86 1)" font-family="'Liberation Sans', Arial, sans-serif" font-size="13.4" fill="#1d1527" stroke="#1d1527" stroke-width="0.25">0</text>
<text transform="translate(221 1122.9) scale(0.86 1)" font-family="'Liberation Sans', Arial, sans-serif" font-size="13.4" fill="#1d1527" stroke="#1d1527" stroke-width="0.25">-195</text>
<text transform="translate(247.5 908.3) scale(0.92 1)" font-family="'Liberation Sans', Arial, sans-serif" font-size="17" fill="#1d1527">Q1</text>
<text transform="translate(452.5 908.3) scale(0.92 1)" font-family="'Liberation Sans', Arial, sans-serif" font-size="17" fill="#1d1527">Q2</text>
<text transform="translate(247.5 1066.2) scale(0.92 1)" font-family="'Liberation Sans', Arial, sans-serif" font-size="17" fill="#1d1527">Q3</text>
<text transform="translate(452.5 1066.2) scale(0.92 1)" font-family="'Liberation Sans', Arial, sans-serif" font-size="17" fill="#1d1527">Q4</text>
<text transform="translate(209.6 1098.8) rotate(-90)" font-family="'Liberation Sans', Arial, sans-serif" font-size="12.5" fill="#1d1527" stroke="#1d1527" stroke-width="0.25">-218</text>
<g clip-path="url(#cp4)">
<ellipse cx="776" cy="1041" rx="36" ry="12" fill="#3d53b3"/>
<path d="M781 1005h1.6M818.5 1005h1.6M826 1005h1.6M761 1005.5h1.6M767 1005.5h1.6M792.5 1005.5h1.6M812.5 1005.5h1.6M817.5 1005.5h1.6M821.5 1005.5h1.6M823 1005.5h1.6M793 1006h1.6M798 1006h1.6M806 1006h1.6M809.5 1006h1.6M816 1006h1.6M824 1006h1.6M834.5 1006h1.6M735.5 1006.5h1.6M786 1006.5h1.6M798 1006.5h1.6M804 1006.5h1.6M805 1006.5h1.6M815 1006.5h1.6M777 1007h1.6M801 1007h1.6M806.5 1007h1.6M809 1007h1.6M813.5 1007h1.6M818.5 1007h1.6M822 1007h1.6M824 1007h1.6M731.5 1007.5h1.6M739 1007.5h1.6M751 1007.5h1.6M759.5 1007.5h1.6M774 1007.5h1.6M812.5 1007.5h1.6M827.5 1007.5h1.6M767 1008h1.6M793 1008h1.6M811.5 1008h1.6M812.5 1008h1.6M818 1008h1.6M827 1008h1.6M739.5 1008.5h1.6M788 1008.5h1.6M801.5 1008.5h1.6M818.5 1008.5h1.6M822 1008.5h1.6M729 1009h1.6M733.5 1009h1.6M811.5 1009h1.6M824 1009h1.6M834 1009h1.6M767.5 1009.5h1.6M788.5 1009.5h1.6M799 1009.5h1.6M803 1009.5h1.6M805 1009.5h1.6M805.5 1009.5h1.6M819 1009.5h1.6M736.5 1010h1.6M747.5 1010h1.6M808 1010h1.6M812.5 1010h1.6M720 1010.5h1.6M795 1010.5h1.6M806 1010.5h1.6M809 1010.5h1.6M811.5 1010.5h1.6M812.5 1010.5h1.6M816 1010.5h1.6M834.5 1010.5h1.6M747 1011h1.6M760.5 1011h1.6M764 1011h1.6M799.5 1011h1.6M803 1011h1.6M818.5 1011h1.6M821.5 1011h1.6M825 1011h1.6M738.5 1011.5h1.6M770 1011.5h1.6M804 1011.5h1.6M807 1011.5h1.6M817.5 1011.5h1.6M832.5 1011.5h1.6M778.5 1012h1.6M807 1012h1.6M807.5 1012h1.6M815 1012h1.6M816 1012h1.6M818 1012h1.6M728.5 1012.5h1.6M777 1012.5h1.6M782 1012.5h1.6M788 1012.5h1.6M801 1012.5h1.6M802.5 1012.5h1.6M806 1012.5h1.6M809 1012.5h1.6M811 1012.5h1.6M814.5 1012.5h1.6M817 1012.5h1.6M820.5 1012.5h1.6M821.5 1012.5h1.6M826.5 1012.5h1.6M827.5 1012.5h1.6M836 1012.5h1.6M836.5 1012.5h1.6M756 1013h1.6M758 1013h1.6M762 1013h1.6M768.5 1013h1.6M773.5 1013h1.6M778.5 1013h1.6M789.5 1013h1.6M791.5 1013h1.6M796 1013h1.6M796.5 1013h1.6M803 1013h1.6M810 1013h1.6M811.5 1013h1.6M825 1013h1.6M831 1013h1.6M763.5 1013.5h1.6M775.5 1013.5h1.6M780.5 1013.5h1.6M798 1013.5h1.6M800 1013.5h1.6M805.5 1013.5h1.6M807.5 1013.5h1.6M808 1013.5h1.6M809 1013.5h1.6M816.5 1013.5h1.6M821 1013.5h1.6M725 1014h1.6M757.5 1014h1.6M771 1014h1.6M774 1014h1.6M796.5 1014h1.6M802 1014h1.6M807.5 1014h1.6M812.5 1014h1.6M814.5 1014h1.6M743.5 1014.5h1.6M771 1014.5h1.6M771.5 1014.5h1.6M794.5 1014.5h1.6M814.5 1014.5h1.6M818.5 1014.5h1.6M819.5 1014.5h1.6M822.5 1014.5h1.6M824.5 1014.5h1.6M827 1014.5h1.6M706 1015h1.6M756 1015h1.6M787 1015h1.6M796.5 1015h1.6M797 1015h1.6M799 1015h1.6M805 1015h1.6M806 1015h1.6M813.5 1015h1.6M816.5 1015h1.6M823 1015h1.6M825.5 1015h1.6M747.5 1015.5h1.6M774.5 1015.5h1.6M782 1015.5h1.6M793.5 1015.5h1.6M795 1015.5h1.6M814.5 1015.5h1.6M817.5 1015.5h1.6M818.5 1015.5h1.6M820 1015.5h1.6M830.5 1015.5h1.6M744.5 1016h1.6M769.5 1016h1.6M781 1016h1.6M782.5 1016h1.6M785 1016h1.6M791 1016h1.6M804 1016h1.6M806 1016h1.6M809.5 1016h1.6M818 1016h1.6M821 1016h1.6M823.5 1016h1.6M827 1016h1.6M827.5 1016h1.6M736.5 1016.5h1.6M750 1016.5h1.6M775 1016.5h1.6M807 1016.5h1.6M812.5 1016.5h1.6M820 1016.5h1.6M821.5 1016.5h1.6M825 1016.5h1.6M834.5 1016.5h1.6M689.5 1017h1.6M705.5 1017h1.6M770 1017h1.6M775 1017h1.6M776 1017h1.6M786.5 1017h1.6M791 1017h1.6M792.5 1017h1.6M797 1017h1.6M797.5 1017h1.6M802 1017h1.6M804.5 1017h1.6M811 1017h1.6M813.5 1017h1.6M817 1017h1.6M819.5 1017h1.6M825 1017h1.6M831.5 1017h1.6M737.5 1017.5h1.6M759.5 1017.5h1.6M768 1017.5h1.6M769 1017.5h1.6M792.5 1017.5h1.6M794 1017.5h1.6M801 1017.5h1.6M807.5 1017.5h1.6M808 1017.5h1.6M809 1017.5h1.6M814.5 1017.5h1.6M817 1017.5h1.6M820 1017.5h1.6M821 1017.5h1.6M823 1017.5h1.6M828 1017.5h1.6M833.5 1017.5h1.6M720 1018h1.6M756.5 1018h1.6M759 1018h1.6M762.5 1018h1.6M776 1018h1.6M794.5 1018h1.6M795.5 1018h1.6M800 1018h1.6M801 1018h1.6M809 1018h1.6M809.5 1018h1.6M812 1018h1.6M816.5 1018h1.6M823 1018h1.6M724 1018.5h1.6M728 1018.5h1.6M743 1018.5h1.6M746.5 1018.5h1.6M749.5 1018.5h1.6M751.5 1018.5h1.6M755 1018.5h1.6M776 1018.5h1.6M780.5 1018.5h1.6M785 1018.5h1.6M800.5 1018.5h1.6M803 1018.5h1.6M805 1018.5h1.6M806 1018.5h1.6M816 1018.5h1.6M817 1018.5h1.6M821 1018.5h1.6M824.5 1018.5h1.6M826 1018.5h1.6M826.5 1018.5h1.6M834.5 1018.5h1.6M707.5 1019h1.6M741.5 1019h1.6M747 1019h1.6M752.5 1019h1.6M776.5 1019h1.6M785 1019h1.6M792.5 1019h1.6M799.5 1019h1.6M805 1019h1.6M806.5 1019h1.6M810.5 1019h1.6M812.5 1019h1.6M813 1019h1.6M817.5 1019h1.6M818 1019h1.6M821.5 1019h1.6M822.5 1019h1.6M824.5 1019h1.6M831.5 1019h1.6M734.5 1019.5h1.6M750 1019.5h1.6M755 1019.5h1.6M790 1019.5h1.6M791 1019.5h1.6M794.5 1019.5h1.6M799 1019.5h1.6M804 1019.5h1.6M817.5 1019.5h1.6M821 1019.5h1.6M825.5 1019.5h1.6M826.5 1019.5h1.6M830 1019.5h1.6M836 1019.5h1.6M711.5 1020h1.6M743 1020h1.6M795 1020h1.6M795.5 1020h1.6M796 1020h1.6M802 1020h1.6M805.5 1020h1.6M807 1020h1.6M815.5 1020h1.6M827 1020h1.6M835.5 1020h1.6M718.5 1020.5h1.6M723.5 1020.5h1.6M731.5 1020.5h1.6M750 1020.5h1.6M763 1020.5h1.6M790.5 1020.5h1.6M794.5 1020.5h1.6M803.5 1020.5h1.6M806 1020.5h1.6M808 1020.5h1.6M808.5 1020.5h1.6M810.5 1020.5h1.6M813 1020.5h1.6M813.5 1020.5h1.6M824.5 1020.5h1.6M827 1020.5h1.6M735 1021h1.6M736.5 1021h1.6M750.5 1021h1.6M769 1021h1.6M774.5 1021h1.6M776.5 1021h1.6M782.5 1021h1.6M783 1021h1.6M785 1021h1.6M788.5 1021h1.6M794.5 1021h1.6M810 1021h1.6M813.5 1021h1.6M815.5 1021h1.6M820 1021h1.6M823 1021h1.6M825 1021h1.6M827.5 1021h1.6M829 1021h1.6M721 1021.5h1.6M725.5 1021.5h1.6M726.5 1021.5h1.6M736.5 1021.5h1.6M739 1021.5h1.6M755 1021.5h1.6M756.5 1021.5h1.6M758 1021.5h1.6M758.5 1021.5h1.6M782 1021.5h1.6M788 1021.5h1.6M793.5 1021.5h1.6M797 1021.5h1.6M805.5 1021.5h1.6M808 1021.5h1.6M808.5 1021.5h1.6M809 1021.5h1.6M820 1021.5h1.6M829 1021.5h1.6M831.5 1021.5h1.6M837 1021.5h1.6M755.5 1022h1.6M761.5 1022h1.6M779 1022h1.6M782 1022h1.6M785.5 1022h1.6M787 1022h1.6M791.5 1022h1.6M796.5 1022h1.6M800 1022h1.6M801 1022h1.6M805 1022h1.6M806.5 1022h1.6M807 1022h1.6M811 1022h1.6M811.5 1022h1.6M816 1022h1.6M817.5 1022h1.6M822 1022h1.6M824.5 1022h1.6M693.5 1022.5h1.6M727 1022.5h1.6M728.5 1022.5h1.6M733.5 1022.5h1.6M759 1022.5h1.6M760.5 1022.5h1.6M789.5 1022.5h1.6M794.5 1022.5h1.6M807 1022.5h1.6M810 1022.5h1.6M813.5 1022.5h1.6M815.5 1022.5h1.6M818 1022.5h1.6M826 1022.5h1.6M699 1023h1.6M735.5 1023h1.6M771 1023h1.6M771.5 1023h1.6M775 1023h1.6M778 1023h1.6M785.5 1023h1.6M790.5 1023h1.6M794 1023h1.6M796.5 1023h1.6M805.5 1023h1.6M810 1023h1.6M812.5 1023h1.6M815 1023h1.6M817 1023h1.6M818.5 1023h1.6M821 1023h1.6M821.5 1023h1.6M822 1023h1.6M822.5 1023h1.6M831 1023h1.6M833 1023h1.6M835.5 1023h1.6M705 1023.5h1.6M716.5 1023.5h1.6M717 1023.5h1.6M718.5 1023.5h1.6M730 1023.5h1.6M741.5 1023.5h1.6M750.5 1023.5h1.6M766.5 1023.5h1.6M781.5 1023.5h1.6M789 1023.5h1.6M803 1023.5h1.6M806 1023.5h1.6M811.5 1023.5h1.6M812 1023.5h1.6M815 1023.5h1.6M816 1023.5h1.6M818 1023.5h1.6M822.5 1023.5h1.6M823.5 1023.5h1.6M831 1023.5h1.6M721 1024h1.6M741.5 1024h1.6M776 1024h1.6M780 1024h1.6M787 1024h1.6M798.5 1024h1.6M799.5 1024h1.6M807 1024h1.6M808.5 1024h1.6M818.5 1024h1.6M822 1024h1.6M826.5 1024h1.6M832 1024h1.6M725 1024.5h1.6M731 1024.5h1.6M742 1024.5h1.6M751 1024.5h1.6M755.5 1024.5h1.6M761 1024.5h1.6M770.5 1024.5h1.6M772 1024.5h1.6M774.5 1024.5h1.6M775 1024.5h1.6M778 1024.5h1.6M781.5 1024.5h1.6M787.5 1024.5h1.6M788 1024.5h1.6M791 1024.5h1.6M797 1024.5h1.6M798 1024.5h1.6M806.5 1024.5h1.6M808 1024.5h1.6M816.5 1024.5h1.6M817 1024.5h1.6M819.5 1024.5h1.6M821 1024.5h1.6M823 1024.5h1.6M824.5 1024.5h1.6M827.5 1024.5h1.6M704.5 1025h1.6M742 1025h1.6M742.5 1025h1.6M744 1025h1.6M746 1025h1.6M748 1025h1.6M758 1025h1.6M760 1025h1.6M760.5 1025h1.6M762.5 1025h1.6M776.5 1025h1.6M781.5 1025h1.6M789.5 1025h1.6M792 1025h1.6M800.5 1025h1.6M801.5 1025h1.6M807.5 1025h1.6M809.5 1025h1.6M811.5 1025h1.6M812 1025h1.6M816 1025h1.6M835 1025h1.6M712 1025.5h1.6M717.5 1025.5h1.6M723 1025.5h1.6M728.5 1025.5h1.6M733.5 1025.5h1.6M742 1025.5h1.6M747 1025.5h1.6M756 1025.5h1.6M757.5 1025.5h1.6M758 1025.5h1.6M761.5 1025.5h1.6M762.5 1025.5h1.6M763 1025.5h1.6M767.5 1025.5h1.6M770.5 1025.5h1.6M781.5 1025.5h1.6M784 1025.5h1.6M792 1025.5h1.6M794 1025.5h1.6M795.5 1025.5h1.6M796 1025.5h1.6M809.5 1025.5h1.6M812 1025.5h1.6M814.5 1025.5h1.6M821.5 1025.5h1.6M826.5 1025.5h1.6M836.5 1025.5h1.6M837 1025.5h1.6M724.5 1026h1.6M734.5 1026h1.6M736 1026h1.6M746 1026h1.6M769 1026h1.6M776 1026h1.6M776.5 1026h1.6M787.5 1026h1.6M788.5 1026h1.6M795 1026h1.6M797 1026h1.6M799 1026h1.6M799.5 1026h1.6M801 1026h1.6M805.5 1026h1.6M817 1026h1.6M819.5 1026h1.6M825.5 1026h1.6M829.5 1026h1.6M830.5 1026h1.6M834 1026h1.6M836.5 1026h1.6M689 1026.5h1.6M697 1026.5h1.6M701 1026.5h1.6M705 1026.5h1.6M719.5 1026.5h1.6M739.5 1026.5h1.6M741.5 1026.5h1.6M780.5 1026.5h1.6M802 1026.5h1.6M806 1026.5h1.6M807.5 1026.5h1.6M812 1026.5h1.6M812.5 1026.5h1.6M815.5 1026.5h1.6M819.5 1026.5h1.6M826 1026.5h1.6M826.5 1026.5h1.6M831 1026.5h1.6M833.5 1026.5h1.6M835.5 1026.5h1.6M747 1027h1.6M751 1027h1.6M754.5 1027h1.6M758.5 1027h1.6M763 1027h1.6M772.5 1027h1.6M781.5 1027h1.6M782 1027h1.6M784.5 1027h1.6M785.5 1027h1.6M787 1027h1.6M789.5 1027h1.6M791.5 1027h1.6M799.5 1027h1.6M800.5 1027h1.6M808 1027h1.6M814 1027h1.6M826.5 1027h1.6M827 1027h1.6M831.5 1027h1.6M833.5 1027h1.6M715.5 1027.5h1.6M725 1027.5h1.6M726.5 1027.5h1.6M729 1027.5h1.6M730 1027.5h1.6M767.5 1027.5h1.6M772.5 1027.5h1.6M787.5 1027.5h1.6M791 1027.5h1.6M804.5 1027.5h1.6M806.5 1027.5h1.6M810.5 1027.5h1.6M813.5 1027.5h1.6M814.5 1027.5h1.6M815.5 1027.5h1.6M819.5 1027.5h1.6M836 1027.5h1.6M837 1027.5h1.6M719.5 1028h1.6M729.5 1028h1.6M731 1028h1.6M733.5 1028h1.6M735 1028h1.6M739.5 1028h1.6M748.5 1028h1.6M755.5 1028h1.6M757 1028h1.6M764 1028h1.6M767.5 1028h1.6M772.5 1028h1.6M777 1028h1.6M778 1028h1.6M784.5 1028h1.6M794 1028h1.6M795.5 1028h1.6M799.5 1028h1.6M800.5 1028h1.6M806 1028h1.6M808.5 1028h1.6M809 1028h1.6M810.5 1028h1.6M811.5 1028h1.6M813 1028h1.6M814 1028h1.6M815.5 1028h1.6M822 1028h1.6M824.5 1028h1.6M826 1028h1.6M827.5 1028h1.6M831.5 1028h1.6M713.5 1028.5h1.6M745 1028.5h1.6M759.5 1028.5h1.6M768.5 1028.5h1.6M773 1028.5h1.6M776.5 1028.5h1.6M779 1028.5h1.6M779.5 1028.5h1.6M780.5 1028.5h1.6M787.5 1028.5h1.6M796 1028.5h1.6M804.5 1028.5h1.6M812.5 1028.5h1.6M815 1028.5h1.6M818 1028.5h1.6M821 1028.5h1.6M822 1028.5h1.6M828.5 1028.5h1.6M832 1028.5h1.6M727 1029h1.6M738.5 1029h1.6M748 1029h1.6M776.5 1029h1.6M778.5 1029h1.6M787.5 1029h1.6M796.5 1029h1.6M799.5 1029h1.6M803 1029h1.6M810.5 1029h1.6M812.5 1029h1.6M818.5 1029h1.6M822.5 1029h1.6M836 1029h1.6M716.5 1029.5h1.6M717.5 1029.5h1.6M729.5 1029.5h1.6M741 1029.5h1.6M751 1029.5h1.6M755.5 1029.5h1.6M758 1029.5h1.6M772.5 1029.5h1.6M778.5 1029.5h1.6M809 1029.5h1.6M813.5 1029.5h1.6M814.5 1029.5h1.6M818 1029.5h1.6M818.5 1029.5h1.6M820.5 1029.5h1.6M829.5 1029.5h1.6M833.5 1029.5h1.6M722.5 1030h1.6M725 1030h1.6M740.5 1030h1.6M744.5 1030h1.6M745.5 1030h1.6M746 1030h1.6M759.5 1030h1.6M768 1030h1.6M775.5 1030h1.6M783.5 1030h1.6M785 1030h1.6M790 1030h1.6M796 1030h1.6M797.5 1030h1.6M798 1030h1.6M799.5 1030h1.6M815.5 1030h1.6M826.5 1030h1.6M827.5 1030h1.6M828 1030h1.6M832.5 1030h1.6M833 1030h1.6M716 1030.5h1.6M732 1030.5h1.6M735 1030.5h1.6M735.5 1030.5h1.6M746 1030.5h1.6M751.5 1030.5h1.6M755 1030.5h1.6M755.5 1030.5h1.6M770 1030.5h1.6M771 1030.5h1.6M780.5 1030.5h1.6M785 1030.5h1.6M787 1030.5h1.6M788 1030.5h1.6M791.5 1030.5h1.6M792 1030.5h1.6M792.5 1030.5h1.6M797 1030.5h1.6M798.5 1030.5h1.6M800.5 1030.5h1.6M801 1030.5h1.6M808 1030.5h1.6M811.5 1030.5h1.6M819 1030.5h1.6M819.5 1030.5h1.6M822.5 1030.5h1.6M824 1030.5h1.6M828.5 1030.5h1.6M835 1030.5h1.6M714 1031h1.6M731.5 1031h1.6M735.5 1031h1.6M757 1031h1.6M770 1031h1.6M774 1031h1.6M779.5 1031h1.6M788 1031h1.6M793 1031h1.6M796 1031h1.6M803.5 1031h1.6M807 1031h1.6M809.5 1031h1.6M817.5 1031h1.6M825 1031h1.6M829 1031h1.6M831.5 1031h1.6M834.5 1031h1.6M716 1031.5h1.6M725.5 1031.5h1.6M734 1031.5h1.6M738.5 1031.5h1.6M746.5 1031.5h1.6M767 1031.5h1.6M776 1031.5h1.6M779 1031.5h1.6M785 1031.5h1.6M786.5 1031.5h1.6M788 1031.5h1.6M789 1031.5h1.6M791 1031.5h1.6M801 1031.5h1.6M810.5 1031.5h1.6M811.5 1031.5h1.6M812 1031.5h1.6M814 1031.5h1.6M816.5 1031.5h1.6M831.5 1031.5h1.6M692 1032h1.6M716.5 1032h1.6M721.5 1032h1.6M759 1032h1.6M760 1032h1.6M760.5 1032h1.6M767 1032h1.6M770 1032h1.6M774 1032h1.6M778 1032h1.6M780.5 1032h1.6M786 1032h1.6M790 1032h1.6M800 1032h1.6M804 1032h1.6M811 1032h1.6M822 1032h1.6M825.5 1032h1.6M828 1032h1.6M829 1032h1.6M717.5 1032.5h1.6M727.5 1032.5h1.6M734 1032.5h1.6M750 1032.5h1.6M755 1032.5h1.6M755.5 1032.5h1.6M767 1032.5h1.6M772.5 1032.5h1.6M777.5 1032.5h1.6M781.5 1032.5h1.6M782 1032.5h1.6M787 1032.5h1.6M794.5 1032.5h1.6M797.5 1032.5h1.6M814.5 1032.5h1.6M818 1032.5h1.6M820.5 1032.5h1.6M829 1032.5h1.6M830.5 1032.5h1.6M697 1033h1.6M703.5 1033h1.6M714 1033h1.6M747.5 1033h1.6M760.5 1033h1.6M764.5 1033h1.6M768.5 1033h1.6M773.5 1033h1.6M775.5 1033h1.6M777 1033h1.6M780 1033h1.6M783.5 1033h1.6M797.5 1033h1.6M798 1033h1.6M800.5 1033h1.6M812.5 1033h1.6M725.5 1033.5h1.6M740.5 1033.5h1.6M746.5 1033.5h1.6M753 1033.5h1.6M767 1033.5h1.6M784 1033.5h1.6M791 1033.5h1.6M794.5 1033.5h1.6M802 1033.5h1.6M803.5 1033.5h1.6M809.5 1033.5h1.6M812 1033.5h1.6M821.5 1033.5h1.6M823.5 1033.5h1.6M827 1033.5h1.6M836.5 1033.5h1.6M704.5 1034h1.6M709.5 1034h1.6M740.5 1034h1.6M746.5 1034h1.6M748.5 1034h1.6M749 1034h1.6M752 1034h1.6M757.5 1034h1.6M760 1034h1.6M767.5 1034h1.6M768.5 1034h1.6M774.5 1034h1.6M788 1034h1.6M798.5 1034h1.6M800 1034h1.6M805 1034h1.6M805.5 1034h1.6M806.5 1034h1.6M815.5 1034h1.6M821.5 1034h1.6M822 1034h1.6M830 1034h1.6M715 1034.5h1.6M717 1034.5h1.6M723.5 1034.5h1.6M726.5 1034.5h1.6M738 1034.5h1.6M739 1034.5h1.6M757 1034.5h1.6M763 1034.5h1.6M769 1034.5h1.6M776.5 1034.5h1.6M778 1034.5h1.6M779.5 1034.5h1.6M784.5 1034.5h1.6M785.5 1034.5h1.6M788 1034.5h1.6M799.5 1034.5h1.6M800 1034.5h1.6M800.5 1034.5h1.6M822 1034.5h1.6M831 1034.5h1.6M834 1034.5h1.6M706 1035h1.6M730 1035h1.6M752.5 1035h1.6M762 1035h1.6M762.5 1035h1.6M780 1035h1.6M788.5 1035h1.6M792.5 1035h1.6M794 1035h1.6M799.5 1035h1.6M800 1035h1.6M805.5 1035h1.6M807 1035h1.6M808 1035h1.6M815.5 1035h1.6M818.5 1035h1.6M826 1035h1.6M693 1035.5h1.6M733 1035.5h1.6M734 1035.5h1.6M735 1035.5h1.6M745.5 1035.5h1.6M752 1035.5h1.6M759.5 1035.5h1.6M772.5 1035.5h1.6M776 1035.5h1.6M808.5 1035.5h1.6M809.5 1035.5h1.6M824.5 1035.5h1.6M831.5 1035.5h1.6M712 1036h1.6M727.5 1036h1.6M739 1036h1.6M739.5 1036h1.6M745 1036h1.6M748.5 1036h1.6M750 1036h1.6M756 1036h1.6M758.5 1036h1.6M759 1036h1.6M759.5 1036h1.6M761.5 1036h1.6M762.5 1036h1.6M766 1036h1.6M774 1036h1.6M775.5 1036h1.6M781.5 1036h1.6M795.5 1036h1.6M807.5 1036h1.6M834 1036h1.6M709.5 1036.5h1.6M721 1036.5h1.6M736.5 1036.5h1.6M738 1036.5h1.6M742.5 1036.5h1.6M744.5 1036.5h1.6M746 1036.5h1.6M748 1036.5h1.6M748.5 1036.5h1.6M767.5 1036.5h1.6M768 1036.5h1.6M769 1036.5h1.6M772.5 1036.5h1.6M773 1036.5h1.6M778 1036.5h1.6M785 1036.5h1.6M786.5 1036.5h1.6M803 1036.5h1.6M805 1036.5h1.6M807.5 1036.5h1.6M811.5 1036.5h1.6M814 1036.5h1.6M815 1036.5h1.6M815.5 1036.5h1.6M820.5 1036.5h1.6M823.5 1036.5h1.6M828.5 1036.5h1.6M708.5 1037h1.6M717.5 1037h1.6M735.5 1037h1.6M736 1037h1.6M745.5 1037h1.6M746 1037h1.6M749 1037h1.6M756 1037h1.6M772 1037h1.6M777.5 1037h1.6M783 1037h1.6M786.5 1037h1.6M790 1037h1.6M792.5 1037h1.6M796 1037h1.6M796.5 1037h1.6M801 1037h1.6M807.5 1037h1.6M820.5 1037h1.6M821 1037h1.6M824 1037h1.6M826.5 1037h1.6M828 1037h1.6M830.5 1037h1.6M832.5 1037h1.6M833.5 1037h1.6M725 1037.5h1.6M733 1037.5h1.6M734.5 1037.5h1.6M736 1037.5h1.6M749 1037.5h1.6M751.5 1037.5h1.6M753 1037.5h1.6M765.5 1037.5h1.6M766.5 1037.5h1.6M769 1037.5h1.6M780.5 1037.5h1.6M793 1037.5h1.6M794 1037.5h1.6M795.5 1037.5h1.6M806.5 1037.5h1.6M831 1037.5h1.6M701 1038h1.6M704 1038h1.6M711.5 1038h1.6M751.5 1038h1.6M755 1038h1.6M764 1038h1.6M765 1038h1.6M766.5 1038h1.6M771 1038h1.6M772.5 1038h1.6M789 1038h1.6M801.5 1038h1.6M809 1038h1.6M809.5 1038h1.6M813 1038h1.6M822.5 1038h1.6M824.5 1038h1.6M836 1038h1.6M836.5 1038h1.6M724 1038.5h1.6M725 1038.5h1.6M728.5 1038.5h1.6M745 1038.5h1.6M746.5 1038.5h1.6M756 1038.5h1.6M770.5 1038.5h1.6M771.5 1038.5h1.6M773.5 1038.5h1.6M774.5 1038.5h1.6M777 1038.5h1.6M785.5 1038.5h1.6M793 1038.5h1.6M801.5 1038.5h1.6M808.5 1038.5h1.6M814 1038.5h1.6M818.5 1038.5h1.6M820 1038.5h1.6M699.5 1039h1.6M723 1039h1.6M735 1039h1.6M745.5 1039h1.6M749 1039h1.6M751 1039h1.6M753.5 1039h1.6M757.5 1039h1.6M759.5 1039h1.6M760.5 1039h1.6M764 1039h1.6M768.5 1039h1.6M771.5 1039h1.6M773.5 1039h1.6M780 1039h1.6M787.5 1039h1.6M802 1039h1.6M809 1039h1.6M811.5 1039h1.6M816 1039h1.6M817.5 1039h1.6M834 1039h1.6M710.5 1039.5h1.6M721.5 1039.5h1.6M726 1039.5h1.6M741.5 1039.5h1.6M749 1039.5h1.6M750 1039.5h1.6M751.5 1039.5h1.6M755.5 1039.5h1.6M756.5 1039.5h1.6M757.5 1039.5h1.6M772.5 1039.5h1.6M785 1039.5h1.6M789 1039.5h1.6M791.5 1039.5h1.6M797 1039.5h1.6M800 1039.5h1.6M803 1039.5h1.6M807.5 1039.5h1.6M808.5 1039.5h1.6M815 1039.5h1.6M830 1039.5h1.6M731.5 1040h1.6M738.5 1040h1.6M740 1040h1.6M745.5 1040h1.6M747 1040h1.6M757.5 1040h1.6M770.5 1040h1.6M771 1040h1.6M794 1040h1.6M799.5 1040h1.6M806 1040h1.6M813.5 1040h1.6M816 1040h1.6M826.5 1040h1.6M716 1040.5h1.6M732.5 1040.5h1.6M733 1040.5h1.6M734 1040.5h1.6M741 1040.5h1.6M745.5 1040.5h1.6M752.5 1040.5h1.6M762.5 1040.5h1.6M764 1040.5h1.6M764.5 1040.5h1.6M769 1040.5h1.6M774 1040.5h1.6M777 1040.5h1.6M778 1040.5h1.6M782.5 1040.5h1.6M783 1040.5h1.6M798 1040.5h1.6M798.5 1040.5h1.6M800.5 1040.5h1.6M805.5 1040.5h1.6M813.5 1040.5h1.6M817.5 1040.5h1.6M820.5 1040.5h1.6M825 1040.5h1.6M828 1040.5h1.6M696 1041h1.6M748.5 1041h1.6M771 1041h1.6M780 1041h1.6M782.5 1041h1.6M794.5 1041h1.6M797 1041h1.6M798 1041h1.6M801 1041h1.6M803.5 1041h1.6M806 1041h1.6M809 1041h1.6M827.5 1041h1.6M834.5 1041h1.6M836 1041h1.6M723.5 1041.5h1.6M727 1041.5h1.6M739.5 1041.5h1.6M742 1041.5h1.6M750.5 1041.5h1.6M761 1041.5h1.6M763.5 1041.5h1.6M769 1041.5h1.6M776.5 1041.5h1.6M783 1041.5h1.6M803.5 1041.5h1.6M689.5 1042h1.6M692.5 1042h1.6M754 1042h1.6M760 1042h1.6M761 1042h1.6M765.5 1042h1.6M769 1042h1.6M770 1042h1.6M771.5 1042h1.6M773.5 1042h1.6M777 1042h1.6M789 1042h1.6M791.5 1042h1.6M794.5 1042h1.6M800 1042h1.6M810 1042h1.6M818 1042h1.6M820 1042h1.6M820.5 1042h1.6M833.5 1042h1.6M728 1042.5h1.6M738 1042.5h1.6M739.5 1042.5h1.6M742 1042.5h1.6M752 1042.5h1.6M756.5 1042.5h1.6M757 1042.5h1.6M763 1042.5h1.6M773 1042.5h1.6M778 1042.5h1.6M780.5 1042.5h1.6M784.5 1042.5h1.6M793 1042.5h1.6M796 1042.5h1.6M799 1042.5h1.6M818 1042.5h1.6M824 1042.5h1.6M712 1043h1.6M713.5 1043h1.6M725.5 1043h1.6M731 1043h1.6M740.5 1043h1.6M749.5 1043h1.6M753 1043h1.6M754 1043h1.6M757.5 1043h1.6M761 1043h1.6M762.5 1043h1.6M767 1043h1.6M772 1043h1.6M786.5 1043h1.6M787 1043h1.6M788.5 1043h1.6M801.5 1043h1.6M815 1043h1.6M815.5 1043h1.6M816 1043h1.6M708.5 1043.5h1.6M716.5 1043.5h1.6M719.5 1043.5h1.6M726 1043.5h1.6M737 1043.5h1.6M748.5 1043.5h1.6M757.5 1043.5h1.6M760.5 1043.5h1.6M767.5 1043.5h1.6M774.5 1043.5h1.6M788.5 1043.5h1.6M791 1043.5h1.6M807.5 1043.5h1.6M826 1043.5h1.6M691 1044h1.6M701.5 1044h1.6M743.5 1044h1.6M748 1044h1.6M749 1044h1.6M750 1044h1.6M752.5 1044h1.6M760.5 1044h1.6M776.5 1044h1.6M777.5 1044h1.6M783 1044h1.6M786.5 1044h1.6M811 1044h1.6M818 1044h1.6M820 1044h1.6M830.5 1044h1.6M729.5 1044.5h1.6M735 1044.5h1.6M740.5 1044.5h1.6M749.5 1044.5h1.6M751.5 1044.5h1.6M753 1044.5h1.6M753.5 1044.5h1.6M754.5 1044.5h1.6M758 1044.5h1.6M767.5 1044.5h1.6M771 1044.5h1.6M777.5 1044.5h1.6M783.5 1044.5h1.6M785 1044.5h1.6M787.5 1044.5h1.6M788 1044.5h1.6M797.5 1044.5h1.6M807 1044.5h1.6M811 1044.5h1.6M814.5 1044.5h1.6M833.5 1044.5h1.6M723 1045h1.6M729 1045h1.6M734.5 1045h1.6M740 1045h1.6M742.5 1045h1.6M743.5 1045h1.6M744 1045h1.6M756 1045h1.6M756.5 1045h1.6M757 1045h1.6M764 1045h1.6M769.5 1045h1.6M778.5 1045h1.6M780 1045h1.6M786.5 1045h1.6M801.5 1045h1.6M811 1045h1.6M813.5 1045h1.6M814.5 1045h1.6M821.5 1045h1.6M831.5 1045h1.6M832.5 1045h1.6M833.5 1045h1.6M743 1045.5h1.6M747.5 1045.5h1.6M757 1045.5h1.6M764 1045.5h1.6M768 1045.5h1.6M784 1045.5h1.6M785.5 1045.5h1.6M708.5 1046h1.6M729 1046h1.6M742 1046h1.6M743.5 1046h1.6M748.5 1046h1.6M750 1046h1.6M762 1046h1.6M764 1046h1.6M764.5 1046h1.6M769 1046h1.6M772.5 1046h1.6M780.5 1046h1.6M792.5 1046h1.6M794 1046h1.6M798 1046h1.6M798.5 1046h1.6M799.5 1046h1.6M801.5 1046h1.6M803 1046h1.6M806.5 1046h1.6M814.5 1046h1.6M703.5 1046.5h1.6M716.5 1046.5h1.6M719 1046.5h1.6M720 1046.5h1.6M723 1046.5h1.6M724 1046.5h1.6M733.5 1046.5h1.6M743 1046.5h1.6M745.5 1046.5h1.6M754 1046.5h1.6M758.5 1046.5h1.6M762 1046.5h1.6M763 1046.5h1.6M767 1046.5h1.6M771.5 1046.5h1.6M772.5 1046.5h1.6M797.5 1046.5h1.6M809 1046.5h1.6M811.5 1046.5h1.6M814.5 1046.5h1.6M821.5 1046.5h1.6M831 1046.5h1.6M832.5 1046.5h1.6M736 1047h1.6M741.5 1047h1.6M751.5 1047h1.6M754 1047h1.6M755.5 1047h1.6M760.5 1047h1.6M767.5 1047h1.6M777 1047h1.6M779.5 1047h1.6M780.5 1047h1.6M785.5 1047h1.6M790 1047h1.6M807.5 1047h1.6M812 1047h1.6M812.5 1047h1.6M817.5 1047h1.6M688 1047.5h1.6M706.5 1047.5h1.6M717 1047.5h1.6M720 1047.5h1.6M729 1047.5h1.6M740.5 1047.5h1.6M741 1047.5h1.6M745 1047.5h1.6M755.5 1047.5h1.6M758.5 1047.5h1.6M776 1047.5h1.6M788.5 1047.5h1.6M793 1047.5h1.6M805 1047.5h1.6M816 1047.5h1.6M823 1047.5h1.6M831 1047.5h1.6M733.5 1048h1.6M746 1048h1.6M752.5 1048h1.6M768 1048h1.6M770.5 1048h1.6M782.5 1048h1.6M789 1048h1.6M790 1048h1.6M797.5 1048h1.6M804.5 1048h1.6M819.5 1048h1.6M820 1048h1.6M831 1048h1.6M695.5 1048.5h1.6M713 1048.5h1.6M718.5 1048.5h1.6M720.5 1048.5h1.6M721 1048.5h1.6M723.5 1048.5h1.6M732 1048.5h1.6M734.5 1048.5h1.6M740 1048.5h1.6M750 1048.5h1.6M755 1048.5h1.6M758.5 1048.5h1.6M772 1048.5h1.6M783 1048.5h1.6M787 1048.5h1.6M794 1048.5h1.6M801.5 1048.5h1.6M719.5 1049h1.6M733.5 1049h1.6M741 1049h1.6M742.5 1049h1.6M746 1049h1.6M750 1049h1.6M769.5 1049h1.6M786.5 1049h1.6M787.5 1049h1.6M795 1049h1.6M798.5 1049h1.6M835.5 1049h1.6M736 1049.5h1.6M757.5 1049.5h1.6M766.5 1049.5h1.6M768.5 1049.5h1.6M769.5 1049.5h1.6M772 1049.5h1.6M776 1049.5h1.6M778.5 1049.5h1.6M785 1049.5h1.6M787 1049.5h1.6M792.5 1049.5h1.6M795 1049.5h1.6M799.5 1049.5h1.6M803.5 1049.5h1.6M807.5 1049.5h1.6M813 1049.5h1.6M729.5 1050h1.6M735 1050h1.6M736 1050h1.6M753.5 1050h1.6M759.5 1050h1.6M764 1050h1.6M776.5 1050h1.6M780 1050h1.6M806.5 1050h1.6M808 1050h1.6M813.5 1050h1.6M819 1050h1.6M826.5 1050h1.6M742 1050.5h1.6M757.5 1050.5h1.6M780 1050.5h1.6M780.5 1050.5h1.6M781 1050.5h1.6M783 1050.5h1.6M789 1050.5h1.6M790.5 1050.5h1.6M791 1050.5h1.6M800.5 1050.5h1.6M806 1050.5h1.6M815.5 1050.5h1.6M705.5 1051h1.6M736.5 1051h1.6M740 1051h1.6M743.5 1051h1.6M747.5 1051h1.6M771 1051h1.6M772.5 1051h1.6M775 1051h1.6M796 1051h1.6M799.5 1051h1.6M807.5 1051h1.6M810 1051h1.6M696.5 1051.5h1.6M705.5 1051.5h1.6M718 1051.5h1.6M726.5 1051.5h1.6M732 1051.5h1.6M736.5 1051.5h1.6M768 1051.5h1.6M771 1051.5h1.6M804.5 1051.5h1.6M806 1051.5h1.6M808 1051.5h1.6M815 1051.5h1.6M821 1051.5h1.6M695 1052h1.6M712 1052h1.6M726.5 1052h1.6M732.5 1052h1.6M733.5 1052h1.6M746 1052h1.6M753 1052h1.6M763 1052h1.6M765 1052h1.6M784.5 1052h1.6M817 1052h1.6M819.5 1052h1.6M824 1052h1.6M702 1052.5h1.6M712 1052.5h1.6M724 1052.5h1.6M726 1052.5h1.6M727 1052.5h1.6M735 1052.5h1.6M741 1052.5h1.6M741.5 1052.5h1.6M754 1052.5h1.6M762 1052.5h1.6M769.5 1052.5h1.6M781.5 1052.5h1.6M790.5 1052.5h1.6M797 1052.5h1.6M808 1052.5h1.6M716.5 1053h1.6M749.5 1053h1.6M759 1053h1.6M768 1053h1.6M773.5 1053h1.6M774 1053h1.6M775 1053h1.6M776.5 1053h1.6M803 1053h1.6M806.5 1053h1.6M827 1053h1.6M828 1053h1.6M729.5 1053.5h1.6M736.5 1053.5h1.6M746.5 1053.5h1.6M762.5 1053.5h1.6M780 1053.5h1.6M797.5 1053.5h1.6M819.5 1053.5h1.6M737 1054h1.6M742 1054h1.6M743 1054h1.6M755 1054h1.6M756.5 1054h1.6M763 1054h1.6M769 1054h1.6M778 1054h1.6M790.5 1054h1.6M800 1054h1.6M805.5 1054h1.6M807 1054h1.6M807.5 1054h1.6M810.5 1054h1.6M836.5 1054h1.6M693 1054.5h1.6M723.5 1054.5h1.6M724 1054.5h1.6M727.5 1054.5h1.6M729.5 1054.5h1.6M745.5 1054.5h1.6M768.5 1054.5h1.6M772 1054.5h1.6M775 1054.5h1.6M786 1054.5h1.6M791 1054.5h1.6M804.5 1054.5h1.6M818 1054.5h1.6M703 1055h1.6M744.5 1055h1.6M747.5 1055h1.6M755.5 1055h1.6M763.5 1055h1.6M772 1055h1.6M773.5 1055h1.6M813.5 1055h1.6M702.5 1055.5h1.6M746 1055.5h1.6M755 1055.5h1.6M756 1055.5h1.6M778.5 1055.5h1.6M783.5 1055.5h1.6M733 1056h1.6M750 1056h1.6M754 1056h1.6M754.5 1056h1.6M756 1056h1.6M767.5 1056h1.6M777.5 1056h1.6M800 1056h1.6M815 1056h1.6M689 1056.5h1.6M759 1056.5h1.6M765.5 1056.5h1.6M769.5 1056.5h1.6M774.5 1056.5h1.6M795.5 1056.5h1.6M809 1056.5h1.6M701.5 1057h1.6M721.5 1057h1.6M745 1057h1.6M747 1057h1.6M756 1057h1.6M759 1057h1.6M772.5 1057h1.6M775.5 1057h1.6M776.5 1057h1.6M785 1057h1.6M796 1057h1.6M802.5 1057h1.6M821.5 1057h1.6M709 1057.5h1.6M715.5 1057.5h1.6M739 1057.5h1.6M752 1057.5h1.6M762.5 1057.5h1.6M776 1057.5h1.6M792.5 1057.5h1.6M795 1057.5h1.6M809.5 1057.5h1.6M822 1057.5h1.6M713.5 1058h1.6M744.5 1058h1.6M774.5 1058h1.6M778.5 1058h1.6M793 1058h1.6M800 1058h1.6M817.5 1058h1.6M821.5 1058h1.6M742 1058.5h1.6M782.5 1058.5h1.6M791.5 1058.5h1.6M796.5 1058.5h1.6M799 1058.5h1.6M810.5 1058.5h1.6M735 1059h1.6M741.5 1059h1.6M746.5 1059h1.6M761.5 1059h1.6M768.5 1059h1.6M727 1059.5h1.6M733 1059.5h1.6M745.5 1059.5h1.6M759.5 1059.5h1.6M761 1059.5h1.6M768.5 1059.5h1.6M769.5 1059.5h1.6M775.5 1059.5h1.6M776.5 1059.5h1.6M782.5 1059.5h1.6M755.5 1060h1.6M785 1060h1.6M790.5 1060h1.6M796.5 1060h1.6M719 1060.5h1.6M727 1060.5h1.6M731 1060.5h1.6M761 1060.5h1.6M783.5 1060.5h1.6M800 1060.5h1.6M810.5 1060.5h1.6M710.5 1061h1.6M743.5 1061h1.6M745.5 1061h1.6M780 1061h1.6M806 1061h1.6M808.5 1061h1.6M777.5 1061.5h1.6M727.5 1062h1.6M731.5 1062h1.6M742.5 1062h1.6M745 1062h1.6M783 1062h1.6M813.5 1062h1.6M739.5 1062.5h1.6M743 1062.5h1.6M771 1062.5h1.6M704 1063h1.6M781 1063h1.6M689 1063.5h1.6M736 1063.5h1.6M738.5 1063.5h1.6M750 1063.5h1.6M767.5 1063.5h1.6M795.5 1063.5h1.6M717 1064h1.6M739.5 1064h1.6M749 1064h1.6M799.5 1064h1.6M811 1064h1.6M725.5 1064.5h1.6M738 1064.5h1.6M755.5 1064.5h1.6M762.5 1064.5h1.6M722.5 1065h1.6M727 1065h1.6M747.5 1065h1.6M751 1065h1.6M758 1065h1.6M766.5 1065h1.6M779 1065h1.6M781 1065h1.6M750.5 1065.5h1.6M757 1065.5h1.6M761.5 1065.5h1.6M759.5 1066h1.6M763.5 1066h1.6M778 1066h1.6M783.5 1066h1.6M796.5 1066h1.6M812.5 1066h1.6M701 1066.5h1.6M709.5 1066.5h1.6M737.5 1066.5h1.6M743.5 1066.5h1.6M746 1066.5h1.6M751 1066.5h1.6M766 1066.5h1.6M722 1067h1.6M723 1067h1.6M766 1067h1.6M766.5 1067h1.6M769.5 1067h1.6M775 1067h1.6M749 1068h1.6M753.5 1068h1.6M763.5 1068h1.6M738.5 1068.5h1.6M764.5 1068.5h1.6M808.5 1068.5h1.6M816.5 1069h1.6M708.5 1069.5h1.6M797 1069.5h1.6M738.5 1070h1.6M774 1070h1.6M738 1070.5h1.6M749.5 1070.5h1.6M758 1070.5h1.6M758.5 1070.5h1.6M778 1071h1.6M768.5 1071.5h1.6M786 1071.5h1.6M806 1071.5h1.6M807 1071.5h1.6M748 1072.5h1.6M825.5 1072.5h1.6M756 1073h1.6M761 1073.5h1.6M775.5 1073.5h1.6M786.5 1073.5h1.6M712 1075h1.6M794 1075.5h1.6M814 1078h1.6M771 1078.5h1.6M808.5 1079h1.6M775.5 1079.5h1.6M790 1081h1.6M707 1083h1.6M807.5 1083h1.6" fill="none" stroke="#4470cc" stroke-width="1.6"/>
<path d="M791 1006h1.6M779.5 1009h1.6M768 1009.5h1.6M807 1010.5h1.6M699 1011h1.6M779.5 1011.5h1.6M814.5 1011.5h1.6M816.5 1011.5h1.6M794.5 1012h1.6M737 1012.5h1.6M780 1013h1.6M789.5 1013h1.6M759 1014h1.6M762 1014.5h1.6M773.5 1014.5h1.6M791.5 1014.5h1.6M816.5 1014.5h1.6M753.5 1015.5h1.6M763 1016h1.6M797 1016h1.6M801.5 1016h1.6M762 1016.5h1.6M771.5 1016.5h1.6M796 1016.5h1.6M799.5 1016.5h1.6M802.5 1016.5h1.6M816 1016.5h1.6M739 1017.5h1.6M764 1017.5h1.6M772 1018.5h1.6M783 1018.5h1.6M817 1018.5h1.6M825 1018.5h1.6M750.5 1019h1.6M759 1019h1.6M784.5 1019h1.6M794 1019h1.6M802.5 1019h1.6M811.5 1019h1.6M833 1019h1.6M754.5 1019.5h1.6M767.5 1019.5h1.6M773 1019.5h1.6M783 1019.5h1.6M798.5 1019.5h1.6M799.5 1019.5h1.6M830 1019.5h1.6M767.5 1020h1.6M794.5 1020h1.6M750 1020.5h1.6M763 1020.5h1.6M774 1020.5h1.6M777 1020.5h1.6M784.5 1020.5h1.6M794 1020.5h1.6M811.5 1020.5h1.6M747.5 1021h1.6M752 1021h1.6M785 1021h1.6M724.5 1021.5h1.6M750.5 1021.5h1.6M772.5 1021.5h1.6M778 1021.5h1.6M781 1021.5h1.6M782.5 1021.5h1.6M786.5 1021.5h1.6M790 1021.5h1.6M798 1021.5h1.6M709.5 1022h1.6M738.5 1022h1.6M755.5 1022h1.6M764.5 1022h1.6M783 1022h1.6M786 1022h1.6M786.5 1022h1.6M787.5 1022h1.6M788.5 1022h1.6M791 1022h1.6M792.5 1022h1.6M793.5 1022h1.6M806 1022h1.6M813.5 1022h1.6M820 1022h1.6M742.5 1022.5h1.6M754.5 1022.5h1.6M768.5 1022.5h1.6M769 1022.5h1.6M783 1022.5h1.6M786 1022.5h1.6M788 1022.5h1.6M792 1022.5h1.6M793.5 1022.5h1.6M814.5 1022.5h1.6M819 1022.5h1.6M727 1023h1.6M745.5 1023h1.6M764 1023h1.6M765 1023h1.6M768.5 1023h1.6M776.5 1023h1.6M806 1023h1.6M811 1023h1.6M817.5 1023h1.6M740 1023.5h1.6M748.5 1023.5h1.6M766.5 1023.5h1.6M768.5 1023.5h1.6M788 1023.5h1.6M789 1023.5h1.6M794 1023.5h1.6M799.5 1023.5h1.6M800 1023.5h1.6M801 1023.5h1.6M811.5 1023.5h1.6M826 1023.5h1.6M776 1024h1.6M787 1024h1.6M789.5 1024h1.6M790 1024h1.6M796.5 1024h1.6M753 1024.5h1.6M762 1024.5h1.6M763.5 1024.5h1.6M772.5 1024.5h1.6M781 1024.5h1.6M783.5 1024.5h1.6M786 1024.5h1.6M787 1024.5h1.6M789.5 1024.5h1.6M798.5 1024.5h1.6M803.5 1024.5h1.6M826 1024.5h1.6M720 1025h1.6M721 1025h1.6M763.5 1025h1.6M764.5 1025h1.6M770 1025h1.6M773 1025h1.6M773.5 1025h1.6M775 1025h1.6M778 1025h1.6M779.5 1025h1.6M780 1025h1.6M781.5 1025h1.6M810 1025h1.6M818 1025h1.6M833 1025h1.6M717 1025.5h1.6M726.5 1025.5h1.6M741.5 1025.5h1.6M758.5 1025.5h1.6M760.5 1025.5h1.6M763.5 1025.5h1.6M766.5 1025.5h1.6M768 1025.5h1.6M775.5 1025.5h1.6M778 1025.5h1.6M784.5 1025.5h1.6M785.5 1025.5h1.6M792.5 1025.5h1.6M797 1025.5h1.6M799.5 1025.5h1.6M806.5 1025.5h1.6M753 1026h1.6M757 1026h1.6M759.5 1026h1.6M761 1026h1.6M765.5 1026h1.6M770.5 1026h1.6M776 1026h1.6M776.5 1026h1.6M778 1026h1.6M778.5 1026h1.6M781.5 1026h1.6M782.5 1026h1.6M788.5 1026h1.6M796.5 1026h1.6M798 1026h1.6M801 1026h1.6M836.5 1026h1.6M779.5 1026.5h1.6M783 1026.5h1.6M784.5 1026.5h1.6M786 1026.5h1.6M797 1026.5h1.6M798 1026.5h1.6M812 1026.5h1.6M816.5 1026.5h1.6M829.5 1026.5h1.6M736.5 1027h1.6M762 1027h1.6M765.5 1027h1.6M767 1027h1.6M773 1027h1.6M780.5 1027h1.6M782 1027h1.6M787.5 1027h1.6M789 1027h1.6M793 1027h1.6M793.5 1027h1.6M797 1027h1.6M797.5 1027h1.6M798.5 1027h1.6M802 1027h1.6M817 1027h1.6M742.5 1027.5h1.6M745.5 1027.5h1.6M753 1027.5h1.6M758 1027.5h1.6M761.5 1027.5h1.6M762 1027.5h1.6M763 1027.5h1.6M764 1027.5h1.6M765.5 1027.5h1.6M769 1027.5h1.6M770 1027.5h1.6M780.5 1027.5h1.6M782.5 1027.5h1.6M787 1027.5h1.6M791 1027.5h1.6M793 1027.5h1.6M793.5 1027.5h1.6M798.5 1027.5h1.6M800 1027.5h1.6M801.5 1027.5h1.6M808.5 1027.5h1.6M816 1027.5h1.6M823.5 1027.5h1.6M736 1028h1.6M743.5 1028h1.6M745 1028h1.6M749.5 1028h1.6M750.5 1028h1.6M762.5 1028h1.6M769.5 1028h1.6M779 1028h1.6M779.5 1028h1.6M781.5 1028h1.6M793.5 1028h1.6M804.5 1028h1.6M820 1028h1.6M820.5 1028h1.6M756 1028.5h1.6M756.5 1028.5h1.6M757.5 1028.5h1.6M758 1028.5h1.6M759 1028.5h1.6M760 1028.5h1.6M765.5 1028.5h1.6M766.5 1028.5h1.6M774.5 1028.5h1.6M776 1028.5h1.6M780.5 1028.5h1.6M784 1028.5h1.6M787.5 1028.5h1.6M788 1028.5h1.6M730.5 1029h1.6M734 1029h1.6M750 1029h1.6M770.5 1029h1.6M773 1029h1.6M774.5 1029h1.6M775 1029h1.6M780 1029h1.6M781 1029h1.6M785 1029h1.6M785.5 1029h1.6M793.5 1029h1.6M794.5 1029h1.6M795 1029h1.6M799 1029h1.6M800.5 1029h1.6M804.5 1029h1.6M806 1029h1.6M807.5 1029h1.6M808.5 1029h1.6M810.5 1029h1.6M811 1029h1.6M814.5 1029h1.6M756 1029.5h1.6M766 1029.5h1.6M771.5 1029.5h1.6M777.5 1029.5h1.6M782.5 1029.5h1.6M784 1029.5h1.6M784.5 1029.5h1.6M793.5 1029.5h1.6M795 1029.5h1.6M799 1029.5h1.6M805.5 1029.5h1.6M813 1029.5h1.6M815.5 1029.5h1.6M821.5 1029.5h1.6M735.5 1030h1.6M738.5 1030h1.6M753 1030h1.6M758.5 1030h1.6M762 1030h1.6M767 1030h1.6M767.5 1030h1.6M772 1030h1.6M773.5 1030h1.6M775.5 1030h1.6M783 1030h1.6M784 1030h1.6M795.5 1030h1.6M796.5 1030h1.6M799.5 1030h1.6M807.5 1030h1.6M810 1030h1.6M814 1030h1.6M814.5 1030h1.6M688 1030.5h1.6M735.5 1030.5h1.6M740.5 1030.5h1.6M743.5 1030.5h1.6M744.5 1030.5h1.6M747.5 1030.5h1.6M751.5 1030.5h1.6M760 1030.5h1.6M762.5 1030.5h1.6M772 1030.5h1.6M773 1030.5h1.6M773.5 1030.5h1.6M779 1030.5h1.6M779.5 1030.5h1.6M780 1030.5h1.6M780.5 1030.5h1.6M794.5 1030.5h1.6M799 1030.5h1.6M806 1030.5h1.6M818.5 1030.5h1.6M729.5 1031h1.6M756.5 1031h1.6M758.5 1031h1.6M760.5 1031h1.6M762 1031h1.6M767 1031h1.6M771 1031h1.6M773.5 1031h1.6M774 1031h1.6M776.5 1031h1.6M777.5 1031h1.6M779 1031h1.6M781 1031h1.6M782.5 1031h1.6M783.5 1031h1.6M786 1031h1.6M786.5 1031h1.6M788 1031h1.6M792 1031h1.6M795.5 1031h1.6M799.5 1031h1.6M802.5 1031h1.6M804.5 1031h1.6M807.5 1031h1.6M810.5 1031h1.6M827.5 1031h1.6M724.5 1031.5h1.6M735 1031.5h1.6M744.5 1031.5h1.6M747 1031.5h1.6M750.5 1031.5h1.6M751 1031.5h1.6M760.5 1031.5h1.6M762.5 1031.5h1.6M764.5 1031.5h1.6M775 1031.5h1.6M782 1031.5h1.6M782.5 1031.5h1.6M790 1031.5h1.6M791 1031.5h1.6M795.5 1031.5h1.6M796.5 1031.5h1.6M797.5 1031.5h1.6M798.5 1031.5h1.6M800 1031.5h1.6M804 1031.5h1.6M812.5 1031.5h1.6M815.5 1031.5h1.6M822.5 1031.5h1.6M834 1031.5h1.6M834.5 1031.5h1.6M706 1032h1.6M738.5 1032h1.6M739.5 1032h1.6M741.5 1032h1.6M755 1032h1.6M762 1032h1.6M766.5 1032h1.6M771 1032h1.6M772.5 1032h1.6M776 1032h1.6M776.5 1032h1.6M777.5 1032h1.6M781 1032h1.6M782 1032h1.6M788.5 1032h1.6M789.5 1032h1.6M791 1032h1.6M792 1032h1.6M792.5 1032h1.6M795.5 1032h1.6M796 1032h1.6M798.5 1032h1.6M803 1032h1.6M807.5 1032h1.6M809 1032h1.6M810 1032h1.6M811.5 1032h1.6M814.5 1032h1.6M820 1032h1.6M741 1032.5h1.6M742.5 1032.5h1.6M743.5 1032.5h1.6M750 1032.5h1.6M750.5 1032.5h1.6M751.5 1032.5h1.6M754 1032.5h1.6M755.5 1032.5h1.6M757.5 1032.5h1.6M759 1032.5h1.6M760 1032.5h1.6M768.5 1032.5h1.6M771.5 1032.5h1.6M772 1032.5h1.6M774.5 1032.5h1.6M780.5 1032.5h1.6M786.5 1032.5h1.6M792.5 1032.5h1.6M798 1032.5h1.6M801.5 1032.5h1.6M805 1032.5h1.6M807.5 1032.5h1.6M809.5 1032.5h1.6M812 1032.5h1.6M834 1032.5h1.6M702.5 1033h1.6M741 1033h1.6M745 1033h1.6M750 1033h1.6M752 1033h1.6M760.5 1033h1.6M767 1033h1.6M768 1033h1.6M778 1033h1.6M778.5 1033h1.6M782 1033h1.6M783 1033h1.6M798 1033h1.6M799.5 1033h1.6M801 1033h1.6M802 1033h1.6M806 1033h1.6M825 1033h1.6M733.5 1033.5h1.6M742.5 1033.5h1.6M743.5 1033.5h1.6M745.5 1033.5h1.6M757.5 1033.5h1.6M761.5 1033.5h1.6M763.5 1033.5h1.6M765 1033.5h1.6M767 1033.5h1.6M768 1033.5h1.6M769.5 1033.5h1.6M771.5 1033.5h1.6M772 1033.5h1.6M772.5 1033.5h1.6M773.5 1033.5h1.6M774 1033.5h1.6M774.5 1033.5h1.6M776 1033.5h1.6M777.5 1033.5h1.6M779 1033.5h1.6M780.5 1033.5h1.6M783 1033.5h1.6M786 1033.5h1.6M789 1033.5h1.6M790.5 1033.5h1.6M791 1033.5h1.6M792 1033.5h1.6M792.5 1033.5h1.6M798 1033.5h1.6M799.5 1033.5h1.6M811 1033.5h1.6M813 1033.5h1.6M735.5 1034h1.6M741.5 1034h1.6M742.5 1034h1.6M743 1034h1.6M745 1034h1.6M749 1034h1.6M749.5 1034h1.6M755 1034h1.6M758 1034h1.6M762.5 1034h1.6M763.5 1034h1.6M764.5 1034h1.6M768.5 1034h1.6M770 1034h1.6M772 1034h1.6M778 1034h1.6M781 1034h1.6M782 1034h1.6M783 1034h1.6M787 1034h1.6M789.5 1034h1.6M797 1034h1.6M797.5 1034h1.6M800 1034h1.6M804 1034h1.6M806.5 1034h1.6M810.5 1034h1.6M811 1034h1.6M812 1034h1.6M813 1034h1.6M814.5 1034h1.6M817 1034h1.6M819 1034h1.6M745 1034.5h1.6M751.5 1034.5h1.6M754.5 1034.5h1.6M758.5 1034.5h1.6M762.5 1034.5h1.6M765 1034.5h1.6M769.5 1034.5h1.6M773.5 1034.5h1.6M775 1034.5h1.6M777.5 1034.5h1.6M778.5 1034.5h1.6M779 1034.5h1.6M780 1034.5h1.6M782 1034.5h1.6M789 1034.5h1.6M791.5 1034.5h1.6M792.5 1034.5h1.6M799 1034.5h1.6M800.5 1034.5h1.6M814 1034.5h1.6M817.5 1034.5h1.6M825.5 1034.5h1.6M710 1035h1.6M725.5 1035h1.6M743 1035h1.6M748.5 1035h1.6M752 1035h1.6M755 1035h1.6M762.5 1035h1.6M765.5 1035h1.6M771 1035h1.6M773 1035h1.6M775.5 1035h1.6M777.5 1035h1.6M780.5 1035h1.6M782 1035h1.6M785.5 1035h1.6M786.5 1035h1.6M788.5 1035h1.6M789 1035h1.6M791.5 1035h1.6M795.5 1035h1.6M797.5 1035h1.6M801.5 1035h1.6M802 1035h1.6M803 1035h1.6M803.5 1035h1.6M814.5 1035h1.6M818 1035h1.6M821.5 1035h1.6M822.5 1035h1.6M826.5 1035h1.6M717.5 1035.5h1.6M727.5 1035.5h1.6M733.5 1035.5h1.6M746.5 1035.5h1.6M749 1035.5h1.6M750 1035.5h1.6M757.5 1035.5h1.6M765.5 1035.5h1.6M766.5 1035.5h1.6M768.5 1035.5h1.6M769 1035.5h1.6M772.5 1035.5h1.6M775.5 1035.5h1.6M778 1035.5h1.6M783.5 1035.5h1.6M784.5 1035.5h1.6M785.5 1035.5h1.6M786 1035.5h1.6M792 1035.5h1.6M795 1035.5h1.6M796 1035.5h1.6M798.5 1035.5h1.6M802 1035.5h1.6M807 1035.5h1.6M809 1035.5h1.6M813 1035.5h1.6M820 1035.5h1.6M821 1035.5h1.6M719 1036h1.6M729.5 1036h1.6M737.5 1036h1.6M738.5 1036h1.6M746 1036h1.6M748 1036h1.6M749.5 1036h1.6M755 1036h1.6M759 1036h1.6M760.5 1036h1.6M761.5 1036h1.6M762 1036h1.6M769 1036h1.6M770 1036h1.6M777.5 1036h1.6M778 1036h1.6M779.5 1036h1.6M789.5 1036h1.6M791.5 1036h1.6M800 1036h1.6M806.5 1036h1.6M809 1036h1.6M817 1036h1.6M820.5 1036h1.6M827 1036h1.6M735 1036.5h1.6M739.5 1036.5h1.6M741 1036.5h1.6M741.5 1036.5h1.6M747.5 1036.5h1.6M750.5 1036.5h1.6M751 1036.5h1.6M753 1036.5h1.6M755.5 1036.5h1.6M757 1036.5h1.6M759 1036.5h1.6M759.5 1036.5h1.6M762 1036.5h1.6M765.5 1036.5h1.6M766 1036.5h1.6M766.5 1036.5h1.6M767 1036.5h1.6M769.5 1036.5h1.6M770 1036.5h1.6M770.5 1036.5h1.6M772.5 1036.5h1.6M774 1036.5h1.6M778 1036.5h1.6M778.5 1036.5h1.6M779 1036.5h1.6M781 1036.5h1.6M781.5 1036.5h1.6M783 1036.5h1.6M788 1036.5h1.6M788.5 1036.5h1.6M789 1036.5h1.6M792.5 1036.5h1.6M795 1036.5h1.6M796.5 1036.5h1.6M804.5 1036.5h1.6M805.5 1036.5h1.6M806 1036.5h1.6M809.5 1036.5h1.6M810 1036.5h1.6M814.5 1036.5h1.6M816 1036.5h1.6M819 1036.5h1.6M827.5 1036.5h1.6M720.5 1037h1.6M724.5 1037h1.6M728 1037h1.6M729.5 1037h1.6M737 1037h1.6M738 1037h1.6M740.5 1037h1.6M741 1037h1.6M750.5 1037h1.6M753.5 1037h1.6M759 1037h1.6M762 1037h1.6M764 1037h1.6M765.5 1037h1.6M767.5 1037h1.6M771 1037h1.6M773.5 1037h1.6M776 1037h1.6M782 1037h1.6M784 1037h1.6M785 1037h1.6M790.5 1037h1.6M791 1037h1.6M792 1037h1.6M794 1037h1.6M795 1037h1.6M795.5 1037h1.6M804 1037h1.6M804.5 1037h1.6M807 1037h1.6M808.5 1037h1.6M809 1037h1.6M810 1037h1.6M811.5 1037h1.6M815.5 1037h1.6M822.5 1037h1.6M833.5 1037h1.6M716.5 1037.5h1.6M729.5 1037.5h1.6M731.5 1037.5h1.6M736.5 1037.5h1.6M742 1037.5h1.6M744 1037.5h1.6M749 1037.5h1.6M755.5 1037.5h1.6M756.5 1037.5h1.6M763 1037.5h1.6M765.5 1037.5h1.6M766.5 1037.5h1.6M768 1037.5h1.6M768.5 1037.5h1.6M770.5 1037.5h1.6M772 1037.5h1.6M774.5 1037.5h1.6M776 1037.5h1.6M776.5 1037.5h1.6M785 1037.5h1.6M786 1037.5h1.6M787 1037.5h1.6M789.5 1037.5h1.6M791 1037.5h1.6M801 1037.5h1.6M802.5 1037.5h1.6M804.5 1037.5h1.6M807 1037.5h1.6M809 1037.5h1.6M810 1037.5h1.6M810.5 1037.5h1.6M695.5 1038h1.6M707 1038h1.6M716 1038h1.6M725.5 1038h1.6M732.5 1038h1.6M733 1038h1.6M733.5 1038h1.6M736 1038h1.6M738.5 1038h1.6M741 1038h1.6M741.5 1038h1.6M749 1038h1.6M751.5 1038h1.6M753.5 1038h1.6M757.5 1038h1.6M759 1038h1.6M761.5 1038h1.6M763 1038h1.6M765 1038h1.6M766.5 1038h1.6M767 1038h1.6M767.5 1038h1.6M769 1038h1.6M771 1038h1.6M776 1038h1.6M776.5 1038h1.6M777 1038h1.6M778 1038h1.6M778.5 1038h1.6M780 1038h1.6M781 1038h1.6M781.5 1038h1.6M782 1038h1.6M784.5 1038h1.6M786 1038h1.6M786.5 1038h1.6M790.5 1038h1.6M794.5 1038h1.6M795.5 1038h1.6M797.5 1038h1.6M805.5 1038h1.6M806 1038h1.6M808 1038h1.6M817 1038h1.6M822.5 1038h1.6M719 1038.5h1.6M729.5 1038.5h1.6M742 1038.5h1.6M743.5 1038.5h1.6M745 1038.5h1.6M748 1038.5h1.6M749 1038.5h1.6M749.5 1038.5h1.6M750.5 1038.5h1.6M751 1038.5h1.6M752 1038.5h1.6M754 1038.5h1.6M757.5 1038.5h1.6M759.5 1038.5h1.6M761 1038.5h1.6M762.5 1038.5h1.6M763 1038.5h1.6M765 1038.5h1.6M766.5 1038.5h1.6M769.5 1038.5h1.6M772.5 1038.5h1.6M774.5 1038.5h1.6M776 1038.5h1.6M778.5 1038.5h1.6M779 1038.5h1.6M779.5 1038.5h1.6M782 1038.5h1.6M783 1038.5h1.6M786.5 1038.5h1.6M789.5 1038.5h1.6M793.5 1038.5h1.6M795 1038.5h1.6M799 1038.5h1.6M799.5 1038.5h1.6M800.5 1038.5h1.6M802.5 1038.5h1.6M805 1038.5h1.6M807 1038.5h1.6M809 1038.5h1.6M811 1038.5h1.6M819 1038.5h1.6M823 1038.5h1.6M726.5 1039h1.6M733 1039h1.6M733.5 1039h1.6M734 1039h1.6M739 1039h1.6M741 1039h1.6M744.5 1039h1.6M746.5 1039h1.6M747.5 1039h1.6M750 1039h1.6M759 1039h1.6M759.5 1039h1.6M761 1039h1.6M761.5 1039h1.6M762 1039h1.6M769 1039h1.6M769.5 1039h1.6M771.5 1039h1.6M773 1039h1.6M774 1039h1.6M775.5 1039h1.6M778 1039h1.6M778.5 1039h1.6M779.5 1039h1.6M785.5 1039h1.6M786 1039h1.6M788 1039h1.6M788.5 1039h1.6M790.5 1039h1.6M791 1039h1.6M792 1039h1.6M795.5 1039h1.6M797 1039h1.6M800.5 1039h1.6M802 1039h1.6M809.5 1039h1.6M812.5 1039h1.6M814.5 1039h1.6M716.5 1039.5h1.6M717.5 1039.5h1.6M723.5 1039.5h1.6M734 1039.5h1.6M736 1039.5h1.6M737.5 1039.5h1.6M741.5 1039.5h1.6M746 1039.5h1.6M746.5 1039.5h1.6M747.5 1039.5h1.6M750 1039.5h1.6M751 1039.5h1.6M752 1039.5h1.6M754 1039.5h1.6M757.5 1039.5h1.6M758 1039.5h1.6M760 1039.5h1.6M761.5 1039.5h1.6M765.5 1039.5h1.6M768.5 1039.5h1.6M770 1039.5h1.6M772 1039.5h1.6M775.5 1039.5h1.6M777 1039.5h1.6M779 1039.5h1.6M780.5 1039.5h1.6M783 1039.5h1.6M784 1039.5h1.6M784.5 1039.5h1.6M785 1039.5h1.6M786.5 1039.5h1.6M787.5 1039.5h1.6M793 1039.5h1.6M795.5 1039.5h1.6M796.5 1039.5h1.6M799 1039.5h1.6M805 1039.5h1.6M809.5 1039.5h1.6M818 1039.5h1.6M819.5 1039.5h1.6M820 1039.5h1.6M821.5 1039.5h1.6M836.5 1039.5h1.6M722.5 1040h1.6M734.5 1040h1.6M742 1040h1.6M744.5 1040h1.6M749.5 1040h1.6M752.5 1040h1.6M755.5 1040h1.6M756.5 1040h1.6M757.5 1040h1.6M760 1040h1.6M761 1040h1.6M762 1040h1.6M763.5 1040h1.6M766.5 1040h1.6M767.5 1040h1.6M768 1040h1.6M769.5 1040h1.6M770 1040h1.6M771.5 1040h1.6M774 1040h1.6M775 1040h1.6M775.5 1040h1.6M778 1040h1.6M778.5 1040h1.6M781 1040h1.6M785.5 1040h1.6M789 1040h1.6M791.5 1040h1.6M793 1040h1.6M794.5 1040h1.6M798 1040h1.6M802 1040h1.6M805 1040h1.6M807.5 1040h1.6M809 1040h1.6M814.5 1040h1.6M820 1040h1.6M833 1040h1.6M728.5 1040.5h1.6M737.5 1040.5h1.6M738 1040.5h1.6M739.5 1040.5h1.6M742.5 1040.5h1.6M745 1040.5h1.6M748 1040.5h1.6M749 1040.5h1.6M750.5 1040.5h1.6M752.5 1040.5h1.6M754 1040.5h1.6M754.5 1040.5h1.6M757.5 1040.5h1.6M758.5 1040.5h1.6M759 1040.5h1.6M760.5 1040.5h1.6M761.5 1040.5h1.6M763.5 1040.5h1.6M765.5 1040.5h1.6M772.5 1040.5h1.6M773 1040.5h1.6M774.5 1040.5h1.6M775 1040.5h1.6M775.5 1040.5h1.6M776.5 1040.5h1.6M777.5 1040.5h1.6M780.5 1040.5h1.6M781.5 1040.5h1.6M782.5 1040.5h1.6M783 1040.5h1.6M785 1040.5h1.6M786 1040.5h1.6M789.5 1040.5h1.6M791 1040.5h1.6M795.5 1040.5h1.6M796 1040.5h1.6M798 1040.5h1.6M800 1040.5h1.6M802.5 1040.5h1.6M805 1040.5h1.6M805.5 1040.5h1.6M806 1040.5h1.6M808 1040.5h1.6M808.5 1040.5h1.6M813.5 1040.5h1.6M819.5 1040.5h1.6M821 1040.5h1.6M823 1040.5h1.6M823.5 1040.5h1.6M830 1040.5h1.6M716.5 1041h1.6M723.5 1041h1.6M732 1041h1.6M743 1041h1.6M745.5 1041h1.6M746.5 1041h1.6M748.5 1041h1.6M752 1041h1.6M759 1041h1.6M761.5 1041h1.6M762 1041h1.6M763.5 1041h1.6M764 1041h1.6M765.5 1041h1.6M766 1041h1.6M767.5 1041h1.6M768.5 1041h1.6M769 1041h1.6M771.5 1041h1.6M773.5 1041h1.6M776 1041h1.6M777 1041h1.6M778 1041h1.6M779.5 1041h1.6M781.5 1041h1.6M782 1041h1.6M783 1041h1.6M784 1041h1.6M787 1041h1.6M787.5 1041h1.6M788 1041h1.6M789 1041h1.6M793.5 1041h1.6M795.5 1041h1.6M796 1041h1.6M796.5 1041h1.6M797 1041h1.6M797.5 1041h1.6M800.5 1041h1.6M804 1041h1.6M811 1041h1.6M832 1041h1.6M718.5 1041.5h1.6M733 1041.5h1.6M740.5 1041.5h1.6M745 1041.5h1.6M750.5 1041.5h1.6M751 1041.5h1.6M754 1041.5h1.6M755.5 1041.5h1.6M757.5 1041.5h1.6M758 1041.5h1.6M763 1041.5h1.6M768 1041.5h1.6M772 1041.5h1.6M772.5 1041.5h1.6M773 1041.5h1.6M773.5 1041.5h1.6M775 1041.5h1.6M775.5 1041.5h1.6M776.5 1041.5h1.6M778 1041.5h1.6M778.5 1041.5h1.6M779 1041.5h1.6M779.5 1041.5h1.6M780 1041.5h1.6M781 1041.5h1.6M784.5 1041.5h1.6M787.5 1041.5h1.6M788 1041.5h1.6M789 1041.5h1.6M789.5 1041.5h1.6M790 1041.5h1.6M791.5 1041.5h1.6M796 1041.5h1.6M796.5 1041.5h1.6M799.5 1041.5h1.6M801 1041.5h1.6M801.5 1041.5h1.6M804 1041.5h1.6M805 1041.5h1.6M806.5 1041.5h1.6M808 1041.5h1.6M818.5 1041.5h1.6M732 1042h1.6M736 1042h1.6M745 1042h1.6M746.5 1042h1.6M749 1042h1.6M751.5 1042h1.6M752.5 1042h1.6M754.5 1042h1.6M756.5 1042h1.6M759 1042h1.6M760.5 1042h1.6M761 1042h1.6M762.5 1042h1.6M763 1042h1.6M763.5 1042h1.6M764.5 1042h1.6M766 1042h1.6M769.5 1042h1.6M770.5 1042h1.6M774 1042h1.6M774.5 1042h1.6M775 1042h1.6M775.5 1042h1.6M776 1042h1.6M778 1042h1.6M778.5 1042h1.6M783 1042h1.6M784 1042h1.6M784.5 1042h1.6M785 1042h1.6M786.5 1042h1.6M787 1042h1.6M789 1042h1.6M790 1042h1.6M791.5 1042h1.6M793.5 1042h1.6M794.5 1042h1.6M795.5 1042h1.6M796 1042h1.6M797 1042h1.6M798 1042h1.6M801.5 1042h1.6M802.5 1042h1.6M805.5 1042h1.6M806 1042h1.6M807.5 1042h1.6M808.5 1042h1.6M809 1042h1.6M811 1042h1.6M812.5 1042h1.6M814.5 1042h1.6M816.5 1042h1.6M818 1042h1.6M828 1042h1.6M684.5 1042.5h1.6M703.5 1042.5h1.6M712.5 1042.5h1.6M714.5 1042.5h1.6M722 1042.5h1.6M729.5 1042.5h1.6M741 1042.5h1.6M744 1042.5h1.6M758 1042.5h1.6M763.5 1042.5h1.6M764 1042.5h1.6M765 1042.5h1.6M765.5 1042.5h1.6M766 1042.5h1.6M768.5 1042.5h1.6M769.5 1042.5h1.6M771.5 1042.5h1.6M772.5 1042.5h1.6M776 1042.5h1.6M777 1042.5h1.6M777.5 1042.5h1.6M778 1042.5h1.6M779 1042.5h1.6M780.5 1042.5h1.6M781 1042.5h1.6M783 1042.5h1.6M784 1042.5h1.6M784.5 1042.5h1.6M786.5 1042.5h1.6M787 1042.5h1.6M790.5 1042.5h1.6M792 1042.5h1.6M793.5 1042.5h1.6M794.5 1042.5h1.6M796 1042.5h1.6M797.5 1042.5h1.6M798.5 1042.5h1.6M801.5 1042.5h1.6M810.5 1042.5h1.6M811.5 1042.5h1.6M821.5 1042.5h1.6M724 1043h1.6M725.5 1043h1.6M730.5 1043h1.6M739 1043h1.6M740.5 1043h1.6M753 1043h1.6M755 1043h1.6M757 1043h1.6M759.5 1043h1.6M760.5 1043h1.6M763.5 1043h1.6M765.5 1043h1.6M766 1043h1.6M767.5 1043h1.6M768.5 1043h1.6M771 1043h1.6M771.5 1043h1.6M773 1043h1.6M775.5 1043h1.6M776 1043h1.6M777.5 1043h1.6M778 1043h1.6M780.5 1043h1.6M781 1043h1.6M784 1043h1.6M787.5 1043h1.6M790.5 1043h1.6M791.5 1043h1.6M792.5 1043h1.6M794 1043h1.6M795 1043h1.6M798.5 1043h1.6M799.5 1043h1.6M800 1043h1.6M800.5 1043h1.6M801 1043h1.6M802.5 1043h1.6M806 1043h1.6M809.5 1043h1.6M812.5 1043h1.6M813 1043h1.6M819.5 1043h1.6M706.5 1043.5h1.6M735 1043.5h1.6M737 1043.5h1.6M739 1043.5h1.6M739.5 1043.5h1.6M741 1043.5h1.6M743 1043.5h1.6M744 1043.5h1.6M747.5 1043.5h1.6M748.5 1043.5h1.6M760.5 1043.5h1.6M761 1043.5h1.6M761.5 1043.5h1.6M762 1043.5h1.6M763 1043.5h1.6M765.5 1043.5h1.6M766 1043.5h1.6M767.5 1043.5h1.6M768 1043.5h1.6M771 1043.5h1.6M772.5 1043.5h1.6M774 1043.5h1.6M775 1043.5h1.6M775.5 1043.5h1.6M777 1043.5h1.6M779.5 1043.5h1.6M780.5 1043.5h1.6M783 1043.5h1.6M783.5 1043.5h1.6M784 1043.5h1.6M784.5 1043.5h1.6M785 1043.5h1.6M788 1043.5h1.6M789 1043.5h1.6M791 1043.5h1.6M793.5 1043.5h1.6M794.5 1043.5h1.6M796 1043.5h1.6M797.5 1043.5h1.6M802 1043.5h1.6M809 1043.5h1.6M813 1043.5h1.6M730.5 1044h1.6M739.5 1044h1.6M742 1044h1.6M752.5 1044h1.6M757.5 1044h1.6M760.5 1044h1.6M761 1044h1.6M761.5 1044h1.6M763 1044h1.6M765 1044h1.6M765.5 1044h1.6M767 1044h1.6M771.5 1044h1.6M772 1044h1.6M775 1044h1.6M776.5 1044h1.6M777 1044h1.6M778.5 1044h1.6M779.5 1044h1.6M781 1044h1.6M782.5 1044h1.6M783.5 1044h1.6M784 1044h1.6M785 1044h1.6M786 1044h1.6M786.5 1044h1.6M789 1044h1.6M794.5 1044h1.6M795 1044h1.6M797 1044h1.6M798 1044h1.6M801 1044h1.6M801.5 1044h1.6M802.5 1044h1.6M804.5 1044h1.6M830.5 1044h1.6M718 1044.5h1.6M729 1044.5h1.6M738.5 1044.5h1.6M742.5 1044.5h1.6M745 1044.5h1.6M746.5 1044.5h1.6M749.5 1044.5h1.6M751.5 1044.5h1.6M752 1044.5h1.6M753.5 1044.5h1.6M755.5 1044.5h1.6M758.5 1044.5h1.6M761 1044.5h1.6M761.5 1044.5h1.6M763.5 1044.5h1.6M764 1044.5h1.6M765 1044.5h1.6M767.5 1044.5h1.6M768 1044.5h1.6M772.5 1044.5h1.6M774.5 1044.5h1.6M775.5 1044.5h1.6M777 1044.5h1.6M777.5 1044.5h1.6M779 1044.5h1.6M788.5 1044.5h1.6M791 1044.5h1.6M792.5 1044.5h1.6M798 1044.5h1.6M798.5 1044.5h1.6M799 1044.5h1.6M799.5 1044.5h1.6M800 1044.5h1.6M800.5 1044.5h1.6M804 1044.5h1.6M805.5 1044.5h1.6M813 1044.5h1.6M813.5 1044.5h1.6M814 1044.5h1.6M819.5 1044.5h1.6M823.5 1044.5h1.6M827 1044.5h1.6M703.5 1045h1.6M716.5 1045h1.6M731 1045h1.6M740.5 1045h1.6M743.5 1045h1.6M744 1045h1.6M749.5 1045h1.6M753 1045h1.6M764 1045h1.6M768.5 1045h1.6M772.5 1045h1.6M773 1045h1.6M775.5 1045h1.6M780.5 1045h1.6M781.5 1045h1.6M782 1045h1.6M782.5 1045h1.6M783.5 1045h1.6M784.5 1045h1.6M788.5 1045h1.6M791 1045h1.6M792 1045h1.6M796 1045h1.6M798 1045h1.6M801 1045h1.6M803 1045h1.6M805.5 1045h1.6M817 1045h1.6M821 1045h1.6M719 1045.5h1.6M721.5 1045.5h1.6M725 1045.5h1.6M739.5 1045.5h1.6M741.5 1045.5h1.6M743 1045.5h1.6M745 1045.5h1.6M746 1045.5h1.6M751.5 1045.5h1.6M761 1045.5h1.6M763.5 1045.5h1.6M764 1045.5h1.6M764.5 1045.5h1.6M765.5 1045.5h1.6M766 1045.5h1.6M769 1045.5h1.6M770 1045.5h1.6M772.5 1045.5h1.6M777.5 1045.5h1.6M779 1045.5h1.6M779.5 1045.5h1.6M780 1045.5h1.6M780.5 1045.5h1.6M786.5 1045.5h1.6M787.5 1045.5h1.6M789 1045.5h1.6M790.5 1045.5h1.6M791 1045.5h1.6M792.5 1045.5h1.6M794.5 1045.5h1.6M796.5 1045.5h1.6M799.5 1045.5h1.6M802.5 1045.5h1.6M805.5 1045.5h1.6M806 1045.5h1.6M806.5 1045.5h1.6M827 1045.5h1.6M827.5 1045.5h1.6M834 1045.5h1.6M714 1046h1.6M723 1046h1.6M742 1046h1.6M746.5 1046h1.6M747.5 1046h1.6M754.5 1046h1.6M761.5 1046h1.6M762 1046h1.6M765 1046h1.6M765.5 1046h1.6M766.5 1046h1.6M767.5 1046h1.6M771 1046h1.6M771.5 1046h1.6M774 1046h1.6M776.5 1046h1.6M779 1046h1.6M779.5 1046h1.6M786.5 1046h1.6M787.5 1046h1.6M790.5 1046h1.6M796 1046h1.6M798.5 1046h1.6M799 1046h1.6M807 1046h1.6M811.5 1046h1.6M822 1046h1.6M826.5 1046h1.6M837 1046h1.6M721 1046.5h1.6M723 1046.5h1.6M747 1046.5h1.6M753.5 1046.5h1.6M755.5 1046.5h1.6M761 1046.5h1.6M761.5 1046.5h1.6M762.5 1046.5h1.6M763 1046.5h1.6M773 1046.5h1.6M777.5 1046.5h1.6M779 1046.5h1.6M783.5 1046.5h1.6M786 1046.5h1.6M788.5 1046.5h1.6M789.5 1046.5h1.6M793.5 1046.5h1.6M794.5 1046.5h1.6M795 1046.5h1.6M796 1046.5h1.6M799.5 1046.5h1.6M821 1046.5h1.6M824.5 1046.5h1.6M826 1046.5h1.6M827 1046.5h1.6M727.5 1047h1.6M729 1047h1.6M731.5 1047h1.6M732.5 1047h1.6M740.5 1047h1.6M749.5 1047h1.6M751.5 1047h1.6M752 1047h1.6M758 1047h1.6M758.5 1047h1.6M762 1047h1.6M764.5 1047h1.6M765 1047h1.6M766 1047h1.6M769.5 1047h1.6M770.5 1047h1.6M771 1047h1.6M771.5 1047h1.6M772.5 1047h1.6M775 1047h1.6M778.5 1047h1.6M782 1047h1.6M784.5 1047h1.6M788.5 1047h1.6M790 1047h1.6M795 1047h1.6M796.5 1047h1.6M799.5 1047h1.6M801.5 1047h1.6M802.5 1047h1.6M808.5 1047h1.6M817 1047h1.6M821.5 1047h1.6M733 1047.5h1.6M742 1047.5h1.6M748 1047.5h1.6M751.5 1047.5h1.6M752 1047.5h1.6M752.5 1047.5h1.6M755 1047.5h1.6M758.5 1047.5h1.6M759.5 1047.5h1.6M760.5 1047.5h1.6M763.5 1047.5h1.6M768 1047.5h1.6M772.5 1047.5h1.6M773 1047.5h1.6M774 1047.5h1.6M775.5 1047.5h1.6M777.5 1047.5h1.6M779 1047.5h1.6M779.5 1047.5h1.6M782 1047.5h1.6M784 1047.5h1.6M786 1047.5h1.6M787 1047.5h1.6M789.5 1047.5h1.6M790 1047.5h1.6M790.5 1047.5h1.6M795.5 1047.5h1.6M800 1047.5h1.6M800.5 1047.5h1.6M802 1047.5h1.6M806 1047.5h1.6M809 1047.5h1.6M716 1048h1.6M719 1048h1.6M733 1048h1.6M738 1048h1.6M742.5 1048h1.6M744.5 1048h1.6M751 1048h1.6M757 1048h1.6M761 1048h1.6M762.5 1048h1.6M763.5 1048h1.6M764 1048h1.6M767 1048h1.6M769 1048h1.6M771 1048h1.6M775 1048h1.6M775.5 1048h1.6M776.5 1048h1.6M779.5 1048h1.6M780 1048h1.6M781.5 1048h1.6M787.5 1048h1.6M791 1048h1.6M794 1048h1.6M795.5 1048h1.6M803 1048h1.6M807 1048h1.6M824 1048h1.6M827 1048h1.6M718.5 1048.5h1.6M721 1048.5h1.6M732 1048.5h1.6M744.5 1048.5h1.6M745 1048.5h1.6M748.5 1048.5h1.6M757 1048.5h1.6M758.5 1048.5h1.6M762.5 1048.5h1.6M770 1048.5h1.6M771.5 1048.5h1.6M772.5 1048.5h1.6M773.5 1048.5h1.6M774 1048.5h1.6M775 1048.5h1.6M775.5 1048.5h1.6M776 1048.5h1.6M776.5 1048.5h1.6M778 1048.5h1.6M778.5 1048.5h1.6M779 1048.5h1.6M780 1048.5h1.6M783.5 1048.5h1.6M787 1048.5h1.6M790.5 1048.5h1.6M793 1048.5h1.6M793.5 1048.5h1.6M797.5 1048.5h1.6M801 1048.5h1.6M801.5 1048.5h1.6M804 1048.5h1.6M805.5 1048.5h1.6M823 1048.5h1.6M825 1048.5h1.6M834 1048.5h1.6M711 1049h1.6M726 1049h1.6M728 1049h1.6M745.5 1049h1.6M747.5 1049h1.6M750 1049h1.6M750.5 1049h1.6M751.5 1049h1.6M753.5 1049h1.6M758 1049h1.6M763 1049h1.6M767 1049h1.6M767.5 1049h1.6M769 1049h1.6M770 1049h1.6M771.5 1049h1.6M772 1049h1.6M772.5 1049h1.6M773.5 1049h1.6M776.5 1049h1.6M777 1049h1.6M778 1049h1.6M779.5 1049h1.6M782.5 1049h1.6M784.5 1049h1.6M786.5 1049h1.6M796 1049h1.6M811.5 1049h1.6M813.5 1049h1.6M824.5 1049h1.6M698 1049.5h1.6M734.5 1049.5h1.6M737.5 1049.5h1.6M740 1049.5h1.6M746 1049.5h1.6M749.5 1049.5h1.6M751.5 1049.5h1.6M757.5 1049.5h1.6M758 1049.5h1.6M759 1049.5h1.6M759.5 1049.5h1.6M766.5 1049.5h1.6M767 1049.5h1.6M768 1049.5h1.6M777 1049.5h1.6M777.5 1049.5h1.6M780 1049.5h1.6M781 1049.5h1.6M789 1049.5h1.6M794.5 1049.5h1.6M795 1049.5h1.6M799 1049.5h1.6M803.5 1049.5h1.6M805.5 1049.5h1.6M808.5 1049.5h1.6M809 1049.5h1.6M814 1049.5h1.6M819 1049.5h1.6M824.5 1049.5h1.6M724.5 1050h1.6M733.5 1050h1.6M736 1050h1.6M743 1050h1.6M743.5 1050h1.6M744 1050h1.6M746 1050h1.6M746.5 1050h1.6M750.5 1050h1.6M754.5 1050h1.6M756 1050h1.6M759.5 1050h1.6M767.5 1050h1.6M769.5 1050h1.6M771.5 1050h1.6M783.5 1050h1.6M785 1050h1.6M787.5 1050h1.6M789 1050h1.6M789.5 1050h1.6M790.5 1050h1.6M794 1050h1.6M795 1050h1.6M805.5 1050h1.6M810 1050h1.6M813 1050h1.6M819 1050h1.6M820 1050h1.6M676 1050.5h1.6M730.5 1050.5h1.6M733 1050.5h1.6M738 1050.5h1.6M744 1050.5h1.6M744.5 1050.5h1.6M750.5 1050.5h1.6M751 1050.5h1.6M752 1050.5h1.6M755 1050.5h1.6M756.5 1050.5h1.6M758 1050.5h1.6M762.5 1050.5h1.6M768 1050.5h1.6M768.5 1050.5h1.6M771.5 1050.5h1.6M774 1050.5h1.6M778.5 1050.5h1.6M780.5 1050.5h1.6M784 1050.5h1.6M787 1050.5h1.6M788 1050.5h1.6M788.5 1050.5h1.6M793 1050.5h1.6M794 1050.5h1.6M796.5 1050.5h1.6M797 1050.5h1.6M810.5 1050.5h1.6M815 1050.5h1.6M703 1051h1.6M724.5 1051h1.6M728 1051h1.6M732 1051h1.6M739.5 1051h1.6M741.5 1051h1.6M742.5 1051h1.6M747.5 1051h1.6M756.5 1051h1.6M765.5 1051h1.6M766 1051h1.6M768.5 1051h1.6M769.5 1051h1.6M771 1051h1.6M772.5 1051h1.6M776.5 1051h1.6M780 1051h1.6M781 1051h1.6M789 1051h1.6M790 1051h1.6M795.5 1051h1.6M800.5 1051h1.6M802.5 1051h1.6M804.5 1051h1.6M808 1051h1.6M808.5 1051h1.6M814 1051h1.6M818.5 1051h1.6M820.5 1051h1.6M821 1051h1.6M822.5 1051h1.6M716.5 1051.5h1.6M745 1051.5h1.6M746 1051.5h1.6M746.5 1051.5h1.6M749 1051.5h1.6M750.5 1051.5h1.6M755.5 1051.5h1.6M758.5 1051.5h1.6M761.5 1051.5h1.6M762 1051.5h1.6M763.5 1051.5h1.6M766 1051.5h1.6M768.5 1051.5h1.6M772 1051.5h1.6M773 1051.5h1.6M777.5 1051.5h1.6M778.5 1051.5h1.6M780 1051.5h1.6M780.5 1051.5h1.6M785.5 1051.5h1.6M787.5 1051.5h1.6M790.5 1051.5h1.6M792 1051.5h1.6M799.5 1051.5h1.6M800.5 1051.5h1.6M801 1051.5h1.6M808.5 1051.5h1.6M815 1051.5h1.6M822 1051.5h1.6M719.5 1052h1.6M727 1052h1.6M746 1052h1.6M748 1052h1.6M754 1052h1.6M756.5 1052h1.6M759.5 1052h1.6M761 1052h1.6M763.5 1052h1.6M773 1052h1.6M775.5 1052h1.6M777.5 1052h1.6M782.5 1052h1.6M784.5 1052h1.6M785 1052h1.6M787.5 1052h1.6M791.5 1052h1.6M794 1052h1.6M797 1052h1.6M799 1052h1.6M802.5 1052h1.6M815 1052h1.6M828 1052h1.6M720.5 1052.5h1.6M728 1052.5h1.6M737 1052.5h1.6M738 1052.5h1.6M739 1052.5h1.6M740 1052.5h1.6M744 1052.5h1.6M752 1052.5h1.6M754 1052.5h1.6M762 1052.5h1.6M763 1052.5h1.6M764.5 1052.5h1.6M770 1052.5h1.6M776 1052.5h1.6M783 1052.5h1.6M788.5 1052.5h1.6M789 1052.5h1.6M789.5 1052.5h1.6M792 1052.5h1.6M794.5 1052.5h1.6M795.5 1052.5h1.6M825.5 1052.5h1.6M727.5 1053h1.6M734 1053h1.6M746.5 1053h1.6M747 1053h1.6M750.5 1053h1.6M761.5 1053h1.6M763 1053h1.6M764.5 1053h1.6M765 1053h1.6M765.5 1053h1.6M777 1053h1.6M779 1053h1.6M780.5 1053h1.6M793 1053h1.6M796.5 1053h1.6M797.5 1053h1.6M800 1053h1.6M738.5 1053.5h1.6M743 1053.5h1.6M746 1053.5h1.6M747 1053.5h1.6M751 1053.5h1.6M752.5 1053.5h1.6M757 1053.5h1.6M759.5 1053.5h1.6M763 1053.5h1.6M764.5 1053.5h1.6M768.5 1053.5h1.6M770.5 1053.5h1.6M773 1053.5h1.6M775 1053.5h1.6M777 1053.5h1.6M783 1053.5h1.6M784.5 1053.5h1.6M787 1053.5h1.6M809.5 1053.5h1.6M821 1053.5h1.6M822.5 1053.5h1.6M717 1054h1.6M734.5 1054h1.6M743.5 1054h1.6M746 1054h1.6M750.5 1054h1.6M752 1054h1.6M759.5 1054h1.6M761.5 1054h1.6M766.5 1054h1.6M777 1054h1.6M779 1054h1.6M779.5 1054h1.6M782 1054h1.6M787 1054h1.6M799 1054h1.6M801 1054h1.6M812.5 1054h1.6M725.5 1054.5h1.6M734.5 1054.5h1.6M749 1054.5h1.6M755 1054.5h1.6M756 1054.5h1.6M758.5 1054.5h1.6M759.5 1054.5h1.6M760 1054.5h1.6M766 1054.5h1.6M768.5 1054.5h1.6M770.5 1054.5h1.6M772 1054.5h1.6M772.5 1054.5h1.6M773 1054.5h1.6M779 1054.5h1.6M795.5 1054.5h1.6M796 1054.5h1.6M797 1054.5h1.6M814 1054.5h1.6M823 1054.5h1.6M721 1055h1.6M740 1055h1.6M744.5 1055h1.6M755 1055h1.6M756 1055h1.6M771 1055h1.6M773.5 1055h1.6M776.5 1055h1.6M785 1055h1.6M792.5 1055h1.6M804 1055h1.6M807 1055h1.6M744 1055.5h1.6M752.5 1055.5h1.6M757.5 1055.5h1.6M761 1055.5h1.6M767 1055.5h1.6M768.5 1055.5h1.6M782.5 1055.5h1.6M784.5 1055.5h1.6M787.5 1055.5h1.6M790 1055.5h1.6M793.5 1055.5h1.6M797 1055.5h1.6M799 1055.5h1.6M805.5 1055.5h1.6M806 1055.5h1.6M812 1055.5h1.6M724 1056h1.6M725 1056h1.6M732.5 1056h1.6M753.5 1056h1.6M768.5 1056h1.6M769.5 1056h1.6M770.5 1056h1.6M772.5 1056h1.6M780 1056h1.6M782 1056h1.6M789 1056h1.6M792 1056h1.6M795.5 1056h1.6M803 1056h1.6M805.5 1056h1.6M806 1056h1.6M810.5 1056h1.6M734 1056.5h1.6M742.5 1056.5h1.6M758.5 1056.5h1.6M762 1056.5h1.6M763 1056.5h1.6M764.5 1056.5h1.6M769.5 1056.5h1.6M771 1056.5h1.6M774.5 1056.5h1.6M778.5 1056.5h1.6M779 1056.5h1.6M781 1056.5h1.6M785 1056.5h1.6M796 1056.5h1.6M817 1056.5h1.6M821.5 1056.5h1.6M737.5 1057h1.6M742 1057h1.6M743 1057h1.6M743.5 1057h1.6M758 1057h1.6M760 1057h1.6M762.5 1057h1.6M764 1057h1.6M765 1057h1.6M765.5 1057h1.6M769 1057h1.6M772.5 1057h1.6M774 1057h1.6M778.5 1057h1.6M812 1057h1.6M740.5 1057.5h1.6M748 1057.5h1.6M750 1057.5h1.6M750.5 1057.5h1.6M764.5 1057.5h1.6M766 1057.5h1.6M771.5 1057.5h1.6M778 1057.5h1.6M778.5 1057.5h1.6M784.5 1057.5h1.6M791 1057.5h1.6M794.5 1057.5h1.6M796.5 1057.5h1.6M800.5 1057.5h1.6M805.5 1057.5h1.6M703.5 1058h1.6M750 1058h1.6M750.5 1058h1.6M758.5 1058h1.6M764 1058h1.6M765 1058h1.6M767 1058h1.6M796 1058h1.6M808 1058h1.6M728 1058.5h1.6M736 1058.5h1.6M743.5 1058.5h1.6M748.5 1058.5h1.6M766 1058.5h1.6M782.5 1058.5h1.6M795 1058.5h1.6M731.5 1059h1.6M749.5 1059h1.6M750.5 1059h1.6M761 1059h1.6M769 1059h1.6M776 1059h1.6M786 1059h1.6M788.5 1059h1.6M791 1059h1.6M713 1059.5h1.6M731.5 1059.5h1.6M747.5 1059.5h1.6M761.5 1059.5h1.6M771.5 1059.5h1.6M779.5 1059.5h1.6M787.5 1059.5h1.6M798 1059.5h1.6M808.5 1059.5h1.6M762 1060h1.6M791.5 1060h1.6M792 1060h1.6M793 1060h1.6M795 1060h1.6M797.5 1060h1.6M800.5 1060h1.6M744 1060.5h1.6M756 1060.5h1.6M782.5 1060.5h1.6M800 1060.5h1.6M827.5 1060.5h1.6M760.5 1061h1.6M776.5 1061h1.6M794.5 1061h1.6M737.5 1061.5h1.6M739.5 1061.5h1.6M748 1061.5h1.6M759 1061.5h1.6M762.5 1061.5h1.6M764 1061.5h1.6M781.5 1061.5h1.6M796 1061.5h1.6M799 1061.5h1.6M800 1061.5h1.6M821.5 1061.5h1.6M742.5 1062h1.6M750.5 1062h1.6M760.5 1062h1.6M767 1062h1.6M774.5 1062h1.6M776.5 1062h1.6M787 1062h1.6M753 1062.5h1.6M771 1062.5h1.6M779.5 1062.5h1.6M799.5 1062.5h1.6M800 1062.5h1.6M729.5 1063h1.6M749.5 1063h1.6M765 1063h1.6M780 1063h1.6M780.5 1063h1.6M785 1063h1.6M737.5 1063.5h1.6M739.5 1063.5h1.6M773 1063.5h1.6M791 1063.5h1.6M819.5 1063.5h1.6M759 1064h1.6M762 1064h1.6M773.5 1064h1.6M792.5 1064h1.6M793.5 1064.5h1.6M828 1064.5h1.6M744.5 1065h1.6M753.5 1065.5h1.6M754 1065.5h1.6M834 1065.5h1.6M735 1066h1.6M777 1066h1.6M749 1066.5h1.6M751 1066.5h1.6M765 1066.5h1.6M765.5 1067h1.6M781.5 1067.5h1.6M787.5 1067.5h1.6M747 1068h1.6M777 1068h1.6M789 1068h1.6M791.5 1068h1.6M762.5 1069h1.6M790 1069h1.6M793 1069h1.6M786.5 1069.5h1.6M836 1070h1.6M731 1071h1.6M739.5 1072.5h1.6M757 1072.5h1.6M753 1078h1.6" fill="none" stroke="#3d53b3" stroke-width="1.6"/>
<path d="M837 1005.5h1.6M869 1006h1.6M842.5 1006.5h1.6M873 1006.5h1.6M845 1007h1.6M839 1007.5h1.6M852 1007.5h1.6M840 1008h1.6M854 1008.5h1.6M839.5 1009h1.6M878.5 1009h1.6M838 1009.5h1.6M842 1009.5h1.6M847 1009.5h1.6M843.5 1010h1.6M849.5 1010h1.6M887.5 1010h1.6M849 1012h1.6M851.5 1012h1.6M840.5 1012.5h1.6M842.5 1012.5h1.6M847.5 1012.5h1.6M837.5 1013.5h1.6M840.5 1013.5h1.6M854.5 1013.5h1.6M843 1014h1.6M837.5 1014.5h1.6M840.5 1014.5h1.6M844.5 1015h1.6M848.5 1015h1.6M840.5 1016h1.6M845.5 1016h1.6M848.5 1016h1.6M840 1017h1.6M844.5 1017h1.6M845 1017h1.6M838.5 1017.5h1.6M844.5 1017.5h1.6M840.5 1018h1.6M842.5 1018h1.6M846 1018h1.6M892.5 1018.5h1.6M840 1019h1.6M841.5 1019h1.6M837.5 1019.5h1.6M845.5 1019.5h1.6M856.5 1019.5h1.6M859.5 1019.5h1.6M840.5 1020h1.6M862.5 1020.5h1.6M868.5 1020.5h1.6M842.5 1021h1.6M844.5 1021h1.6M852 1021.5h1.6M839.5 1022h1.6M847.5 1022h1.6M851.5 1022h1.6M872.5 1022h1.6M846.5 1022.5h1.6M851 1022.5h1.6M841.5 1023h1.6M841.5 1023.5h1.6M844 1023.5h1.6M847.5 1023.5h1.6M851 1023.5h1.6M862.5 1023.5h1.6M841 1024.5h1.6M847.5 1024.5h1.6M850 1024.5h1.6M854 1024.5h1.6M838.5 1025h1.6M839.5 1025h1.6M864 1025h1.6M882.5 1025h1.6M841.5 1025.5h1.6M842 1025.5h1.6M845 1025.5h1.6M855.5 1025.5h1.6M856 1025.5h1.6M838.5 1026h1.6M845 1026h1.6M846 1026h1.6M847.5 1026h1.6M842 1026.5h1.6M846 1026.5h1.6M856 1026.5h1.6M845 1027h1.6M857 1027h1.6M856 1027.5h1.6M839.5 1028h1.6M841.5 1028h1.6M842.5 1028h1.6M843 1028h1.6M850.5 1028h1.6M844 1028.5h1.6M845 1028.5h1.6M855.5 1028.5h1.6M839 1029h1.6M842 1029h1.6M885 1029h1.6M872 1029.5h1.6M880 1030h1.6M901 1030h1.6M838 1030.5h1.6M841.5 1030.5h1.6M844 1030.5h1.6M845 1030.5h1.6M851.5 1030.5h1.6M840.5 1031h1.6M838 1031.5h1.6M839 1031.5h1.6M856 1031.5h1.6M844.5 1032h1.6M850.5 1032.5h1.6M876.5 1032.5h1.6M887.5 1033h1.6M837 1034.5h1.6M839 1034.5h1.6M839.5 1034.5h1.6M845 1035h1.6M845.5 1035h1.6M851 1035h1.6M856.5 1035h1.6M865 1035h1.6M839.5 1036h1.6M866 1036h1.6M840.5 1036.5h1.6M850 1036.5h1.6M857 1036.5h1.6M843.5 1037h1.6M854 1037h1.6M841.5 1037.5h1.6M845 1037.5h1.6M854.5 1037.5h1.6M844 1038h1.6M846.5 1038h1.6M859.5 1038h1.6M867 1038.5h1.6M839 1039h1.6M846.5 1039h1.6M856 1039h1.6M903.5 1039h1.6M839.5 1040.5h1.6M852.5 1040.5h1.6M839.5 1041h1.6M856.5 1041h1.6M861 1041h1.6M879.5 1041h1.6M840 1041.5h1.6M844.5 1041.5h1.6M837.5 1042h1.6M858.5 1042.5h1.6M848.5 1043.5h1.6M863 1043.5h1.6M837 1044.5h1.6M838 1044.5h1.6M841.5 1045.5h1.6M860 1045.5h1.6M873 1046h1.6M840 1047h1.6M841 1047h1.6M839 1048.5h1.6M850.5 1048.5h1.6M850 1049h1.6M853.5 1049.5h1.6M872 1049.5h1.6M885 1050h1.6M847.5 1050.5h1.6M850 1050.5h1.6M841.5 1051h1.6M843 1051h1.6M857.5 1051h1.6M887.5 1051h1.6M837 1051.5h1.6M862.5 1051.5h1.6M839.5 1052h1.6M837.5 1054h1.6M849.5 1054h1.6M850 1054h1.6M856.5 1054.5h1.6M871.5 1054.5h1.6M839.5 1055.5h1.6M873 1056h1.6M856.5 1057.5h1.6M840 1058.5h1.6M860 1058.5h1.6M838.5 1059h1.6M848 1062h1.6M878.5 1065.5h1.6M867 1067h1.6M879 1069.5h1.6M842 1070.5h1.6M842 1072h1.6M850 1072.5h1.6M841.5 1074.5h1.6M853 1075.5h1.6M878 1075.5h1.6M875 1078h1.6M855.5 1081h1.6" fill="none" stroke="#2fa83a" stroke-width="1.6"/>
<path d="M827.5 919.5h1.6M835 921h1.6M837 921.5h1.6M824 926.5h1.6M785 927.5h1.6M832.5 929.5h1.6M807.5 931.5h1.6M823.5 931.5h1.6M822 933.5h1.6M824 937.5h1.6M799.5 938h1.6M815 940.5h1.6M811 941h1.6M826 941.5h1.6M821 944.5h1.6M818.5 945h1.6M809 946.5h1.6M818 950h1.6M820 951.5h1.6M795 952h1.6M824.5 953.5h1.6M816 954h1.6M813 955h1.6M802.5 958h1.6M785.5 960h1.6M797 961.5h1.6M799 961.5h1.6M816 962h1.6M817 964h1.6M801.5 966.5h1.6M795.5 968.5h1.6M794.5 975h1.6M790.5 975.5h1.6M777 979.5h1.6M788 980h1.6M786.5 981h1.6M773.5 984h1.6M771 985h1.6M772 986h1.6M801.5 987h1.6M832 988.5h1.6M796.5 989h1.6M811.5 989h1.6M769 992.5h1.6M749.5 993h1.6M762.5 993.5h1.6M764 994h1.6M772.5 994h1.6M809.5 994h1.6M751.5 994.5h1.6M765.5 995h1.6M771.5 995h1.6M823.5 995h1.6M829.5 995h1.6M709.5 995.5h1.6M769 996h1.6M759 996.5h1.6M767 996.5h1.6M777 996.5h1.6M791 996.5h1.6M821.5 996.5h1.6M830 996.5h1.6M763.5 997h1.6M810 997h1.6M828.5 997h1.6M771.5 997.5h1.6M798 997.5h1.6M809.5 997.5h1.6M835 997.5h1.6M754 998h1.6M779 998h1.6M795 998h1.6M821.5 998h1.6M761.5 998.5h1.6M783.5 998.5h1.6M809 998.5h1.6M750 999h1.6M803 999h1.6M817.5 999h1.6M777 999.5h1.6M779 999.5h1.6M797.5 999.5h1.6M807 999.5h1.6M824 999.5h1.6M828.5 999.5h1.6M724.5 1000h1.6M751 1000h1.6M771.5 1000h1.6M794 1000h1.6M762 1000.5h1.6M765 1000.5h1.6M789.5 1000.5h1.6M793 1000.5h1.6M807 1000.5h1.6M810.5 1000.5h1.6M815 1000.5h1.6M818 1000.5h1.6M770 1001h1.6M774 1001h1.6M709.5 1001.5h1.6M773.5 1001.5h1.6M776.5 1001.5h1.6M789 1001.5h1.6M754.5 1002h1.6M786 1002h1.6M756 1002.5h1.6M767 1002.5h1.6M773 1002.5h1.6M788 1002.5h1.6M788.5 1002.5h1.6M790 1002.5h1.6M814 1002.5h1.6M767 1003h1.6M768.5 1003h1.6M773.5 1003h1.6M775.5 1003h1.6M804 1003h1.6M812 1003h1.6M743 1003.5h1.6M800 1003.5h1.6M803 1003.5h1.6M811 1003.5h1.6M820 1003.5h1.6M835.5 1003.5h1.6M786.5 1004h1.6M832 1004h1.6M779 1004.5h1.6M787.5 1004.5h1.6M798 1004.5h1.6M812.5 1004.5h1.6" fill="none" stroke="#151515" stroke-width="1.6"/>
<path d="M914.5 862.5h1.6M915 862.5h1.6M915.5 864h1.6M916 867.5h1.6M916 871h1.6M914.5 872.5h1.6M917 872.5h1.6M915.5 877.5h1.6M916.5 880h1.6M916 881h1.6M916 884h1.6M916.5 884.5h1.6M914.5 888.5h1.6M916.5 888.5h1.6M916.5 890.5h1.6M917 891h1.6M916 891.5h1.6M916.5 894.5h1.6M915 895h1.6M916 895.5h1.6M916.5 895.5h1.6M916.5 896h1.6M914.5 900h1.6M915.5 900.5h1.6M916.5 901h1.6M915 902h1.6M915.5 902h1.6M916.5 902.5h1.6M915.5 903.5h1.6M916.5 905.5h1.6M916.5 906h1.6M917 906.5h1.6M889.5 908h1.6M915 908h1.6M891.5 909h1.6M916.5 909.5h1.6M915 910h1.6M915 911h1.6M915.5 911h1.6M881.5 912.5h1.6M914.5 912.5h1.6M874 913.5h1.6M916.5 913.5h1.6M895 914.5h1.6M902 914.5h1.6M911 914.5h1.6M900.5 915.5h1.6M906 915.5h1.6M875 916h1.6M869 916.5h1.6M886.5 916.5h1.6M896 916.5h1.6M846 917h1.6M878.5 917.5h1.6M852 918h1.6M910.5 918h1.6M878 918.5h1.6M885 918.5h1.6M885.5 918.5h1.6M902.5 918.5h1.6M916 919h1.6M916.5 919h1.6M841 919.5h1.6M901 919.5h1.6M914.5 919.5h1.6M889 920h1.6M915 920h1.6M916 920h1.6M893 920.5h1.6M855.5 921h1.6M864.5 921h1.6M916.5 921h1.6M844.5 921.5h1.6M848 921.5h1.6M841.5 922h1.6M852 922h1.6M859 922h1.6M861 922h1.6M885 922h1.6M891.5 922h1.6M916 923h1.6M880 923.5h1.6M883.5 923.5h1.6M839.5 924h1.6M860 924h1.6M870 924h1.6M863 924.5h1.6M872.5 924.5h1.6M912 924.5h1.6M839.5 925h1.6M840.5 925h1.6M899.5 925h1.6M915 925h1.6M857 925.5h1.6M901.5 925.5h1.6M914.5 925.5h1.6M855.5 926h1.6M860 926h1.6M860.5 926h1.6M881 926h1.6M888.5 926h1.6M914 926h1.6M864.5 926.5h1.6M880 926.5h1.6M893.5 926.5h1.6M851.5 927h1.6M879.5 927h1.6M886 927h1.6M892 927h1.6M913 927h1.6M914.5 927h1.6M915.5 927h1.6M882 927.5h1.6M884 927.5h1.6M884.5 927.5h1.6M885 927.5h1.6M916.5 927.5h1.6M857 928h1.6M893 928h1.6M913 928h1.6M916 928h1.6M854 928.5h1.6M860 928.5h1.6M850.5 929h1.6M862.5 929h1.6M869 929h1.6M847.5 929.5h1.6M861.5 929.5h1.6M891 929.5h1.6M867 930h1.6M873.5 930h1.6M875.5 930h1.6M902 930h1.6M838.5 930.5h1.6M868.5 930.5h1.6M889 930.5h1.6M895.5 930.5h1.6M915.5 930.5h1.6M840 931.5h1.6M850 931.5h1.6M881 931.5h1.6M895.5 931.5h1.6M838 932h1.6M850.5 932h1.6M869 932h1.6M869.5 932h1.6M898.5 932h1.6M872.5 932.5h1.6M883.5 932.5h1.6M915 932.5h1.6M861.5 933h1.6M866 933h1.6M910.5 933h1.6M837 933.5h1.6M879.5 933.5h1.6M892 933.5h1.6M916 933.5h1.6M846 934h1.6M875.5 934h1.6M886.5 934.5h1.6M895.5 934.5h1.6M903 934.5h1.6M916 934.5h1.6M852 935.5h1.6M875.5 935.5h1.6M905 935.5h1.6M908 935.5h1.6M916.5 936h1.6M915 936.5h1.6M917 936.5h1.6M864.5 937h1.6M877 937h1.6M903.5 937h1.6M888.5 937.5h1.6M840.5 938h1.6M858 938h1.6M874 938h1.6M916 938h1.6M846 938.5h1.6M892 938.5h1.6M916 938.5h1.6M853 939h1.6M856 939h1.6M868 939h1.6M851 939.5h1.6M854 939.5h1.6M855 939.5h1.6M883.5 940h1.6M866 940.5h1.6M875 940.5h1.6M887.5 940.5h1.6M840 941h1.6M840.5 941h1.6M857 941h1.6M871.5 941h1.6M887 941h1.6M916.5 941h1.6M843.5 941.5h1.6M843 942h1.6M868.5 942h1.6M914.5 942h1.6M871.5 942.5h1.6M916.5 942.5h1.6M917 942.5h1.6M844.5 943h1.6M849.5 943h1.6M880 943h1.6M908.5 943h1.6M841.5 943.5h1.6M914.5 943.5h1.6M917 943.5h1.6M906.5 944h1.6M915 944h1.6M881.5 944.5h1.6M914.5 944.5h1.6M840 945h1.6M857 945h1.6M847 945.5h1.6M851 945.5h1.6M876 945.5h1.6M896 945.5h1.6M870 946h1.6M852.5 946.5h1.6M866 946.5h1.6M875.5 946.5h1.6M891.5 947h1.6M915.5 947.5h1.6M884 948.5h1.6M917 948.5h1.6M859.5 949.5h1.6M917 950h1.6M917 950.5h1.6M847.5 951h1.6M916 951h1.6M916.5 952h1.6M859 952.5h1.6M917 952.5h1.6M860 953.5h1.6M898 953.5h1.6M916 953.5h1.6M872 954h1.6M851.5 954.5h1.6M879.5 954.5h1.6M881.5 954.5h1.6M915 954.5h1.6M851 956h1.6M872.5 956h1.6M861 959.5h1.6M916.5 960h1.6M896 961h1.6M839 961.5h1.6M889.5 961.5h1.6M901 961.5h1.6M856 962h1.6M852.5 965.5h1.6M916 967h1.6M900 968.5h1.6M916.5 969.5h1.6M907 971h1.6M915 971h1.6M862 972h1.6M881.5 972.5h1.6M864 974.5h1.6M875 974.5h1.6M850.5 975.5h1.6M841 978h1.6M845 978.5h1.6M853.5 979h1.6M866 979h1.6M887 979h1.6M891 979.5h1.6M869.5 980h1.6M860 980.5h1.6M860 982h1.6M869 982h1.6M870.5 982h1.6M868 982.5h1.6M896 982.5h1.6M857.5 983h1.6M858.5 983h1.6M860.5 984.5h1.6M865.5 984.5h1.6M899 985h1.6M871 986h1.6M858.5 987h1.6M857.5 987.5h1.6M841 988h1.6M870.5 988.5h1.6M861.5 989h1.6M846.5 989.5h1.6M912.5 989.5h1.6M873.5 990.5h1.6M864.5 991h1.6M870 991h1.6M902.5 991h1.6M839 991.5h1.6M840.5 991.5h1.6M914 991.5h1.6M870 992h1.6M883 992h1.6M843.5 992.5h1.6M872 992.5h1.6M858 993h1.6M859 993h1.6M866.5 993h1.6M892 993h1.6M898 993h1.6M857.5 993.5h1.6M864.5 993.5h1.6M869.5 994h1.6M855.5 994.5h1.6M865.5 994.5h1.6M871 994.5h1.6M897.5 994.5h1.6M869 995h1.6M849.5 996.5h1.6M865.5 996.5h1.6M838 997.5h1.6M858 997.5h1.6M876.5 997.5h1.6M845.5 998.5h1.6M845.5 999h1.6M861 999h1.6M865.5 999h1.6M869.5 999.5h1.6M848 1000h1.6M863 1000h1.6M898 1000h1.6M859.5 1000.5h1.6M885 1000.5h1.6M845.5 1001h1.6M877 1001h1.6M904 1001h1.6M907.5 1001h1.6M897 1001.5h1.6M870 1003.5h1.6M871.5 1004h1.6" fill="none" stroke="#e6361f" stroke-width="1.6"/>
</g>
<line x1="654.9" y1="1036.9" x2="665.9" y2="1036.9" stroke="#1d1527" stroke-width="1.8" stroke-linecap="butt"/>
<line x1="654.9" y1="982" x2="665.9" y2="982" stroke="#1d1527" stroke-width="1.8" stroke-linecap="butt"/>
<line x1="654.9" y1="929.9" x2="665.9" y2="929.9" stroke="#1d1527" stroke-width="1.8" stroke-linecap="butt"/>
<line x1="654.9" y1="878.4" x2="665.9" y2="878.4" stroke="#1d1527" stroke-width="1.8" stroke-linecap="butt"/>
<line x1="660.4" y1="1020.37" x2="665.9" y2="1020.37" stroke="#1d1527" stroke-width="1.6" stroke-linecap="butt"/>
<line x1="660.4" y1="1010.71" x2="665.9" y2="1010.71" stroke="#1d1527" stroke-width="1.6" stroke-linecap="butt"/>
<line x1="660.4" y1="1003.85" x2="665.9" y2="1003.85" stroke="#1d1527" stroke-width="1.6" stroke-linecap="butt"/>
<line x1="660.4" y1="998.53" x2="665.9" y2="998.53" stroke="#1d1527" stroke-width="1.6" stroke-linecap="butt"/>
<line x1="660.4" y1="994.18" x2="665.9" y2="994.18" stroke="#1d1527" stroke-width="1.6" stroke-linecap="butt"/>
<line x1="660.4" y1="990.5" x2="665.9" y2="990.5" stroke="#1d1527" stroke-width="1.6" stroke-linecap="butt"/>
<line x1="660.4" y1="987.32" x2="665.9" y2="987.32" stroke="#1d1527" stroke-width="1.6" stroke-linecap="butt"/>
<line x1="660.4" y1="984.51" x2="665.9" y2="984.51" stroke="#1d1527" stroke-width="1.6" stroke-linecap="butt"/>
<line x1="660.4" y1="966.32" x2="665.9" y2="966.32" stroke="#1d1527" stroke-width="1.6" stroke-linecap="butt"/>
<line x1="660.4" y1="957.14" x2="665.9" y2="957.14" stroke="#1d1527" stroke-width="1.6" stroke-linecap="butt"/>
<line x1="660.4" y1="950.63" x2="665.9" y2="950.63" stroke="#1d1527" stroke-width="1.6" stroke-linecap="butt"/>
<line x1="660.4" y1="945.58" x2="665.9" y2="945.58" stroke="#1d1527" stroke-width="1.6" stroke-linecap="butt"/>
<line x1="660.4" y1="941.46" x2="665.9" y2="941.46" stroke="#1d1527" stroke-width="1.6" stroke-linecap="butt"/>
<line x1="660.4" y1="937.97" x2="665.9" y2="937.97" stroke="#1d1527" stroke-width="1.6" stroke-linecap="butt"/>
<line x1="660.4" y1="934.95" x2="665.9" y2="934.95" stroke="#1d1527" stroke-width="1.6" stroke-linecap="butt"/>
<line x1="660.4" y1="932.28" x2="665.9" y2="932.28" stroke="#1d1527" stroke-width="1.6" stroke-linecap="butt"/>
<line x1="660.4" y1="914.4" x2="665.9" y2="914.4" stroke="#1d1527" stroke-width="1.6" stroke-linecap="butt"/>
<line x1="660.4" y1="905.33" x2="665.9" y2="905.33" stroke="#1d1527" stroke-width="1.6" stroke-linecap="butt"/>
<line x1="660.4" y1="898.89" x2="665.9" y2="898.89" stroke="#1d1527" stroke-width="1.6" stroke-linecap="butt"/>
<line x1="660.4" y1="893.9" x2="665.9" y2="893.9" stroke="#1d1527" stroke-width="1.6" stroke-linecap="butt"/>
<line x1="660.4" y1="889.83" x2="665.9" y2="889.83" stroke="#1d1527" stroke-width="1.6" stroke-linecap="butt"/>
<line x1="660.4" y1="886.38" x2="665.9" y2="886.38" stroke="#1d1527" stroke-width="1.6" stroke-linecap="butt"/>
<line x1="660.4" y1="883.39" x2="665.9" y2="883.39" stroke="#1d1527" stroke-width="1.6" stroke-linecap="butt"/>
<line x1="660.4" y1="880.76" x2="665.9" y2="880.76" stroke="#1d1527" stroke-width="1.6" stroke-linecap="butt"/>
<line x1="660.4" y1="862.9" x2="665.9" y2="862.9" stroke="#1d1527" stroke-width="1.6" stroke-linecap="butt"/>
<line x1="654.9" y1="1054.5" x2="665.9" y2="1054.5" stroke="#1d1527" stroke-width="3.6" stroke-linecap="butt"/>
<line x1="654.9" y1="1085.2" x2="665.9" y2="1085.2" stroke="#1d1527" stroke-width="1.8" stroke-linecap="butt"/>
<line x1="660.4" y1="1070" x2="665.9" y2="1070" stroke="#1d1527" stroke-width="1.6" stroke-linecap="butt"/>
<line x1="775.6" y1="1085.2" x2="775.6" y2="1098.2" stroke="#1d1527" stroke-width="1.8" stroke-linecap="butt"/>
<line x1="837" y1="1085.2" x2="837" y2="1098.2" stroke="#1d1527" stroke-width="1.8" stroke-linecap="butt"/>
<line x1="892.9" y1="1085.2" x2="892.9" y2="1098.2" stroke="#1d1527" stroke-width="1.8" stroke-linecap="butt"/>
<line x1="794.08" y1="1085.2" x2="794.08" y2="1092.2" stroke="#1d1527" stroke-width="1.6" stroke-linecap="butt"/>
<line x1="804.9" y1="1085.2" x2="804.9" y2="1092.2" stroke="#1d1527" stroke-width="1.6" stroke-linecap="butt"/>
<line x1="812.57" y1="1085.2" x2="812.57" y2="1092.2" stroke="#1d1527" stroke-width="1.6" stroke-linecap="butt"/>
<line x1="818.52" y1="1085.2" x2="818.52" y2="1092.2" stroke="#1d1527" stroke-width="1.6" stroke-linecap="butt"/>
<line x1="823.38" y1="1085.2" x2="823.38" y2="1092.2" stroke="#1d1527" stroke-width="1.6" stroke-linecap="butt"/>
<line x1="827.49" y1="1085.2" x2="827.49" y2="1092.2" stroke="#1d1527" stroke-width="1.6" stroke-linecap="butt"/>
<line x1="831.05" y1="1085.2" x2="831.05" y2="1092.2" stroke="#1d1527" stroke-width="1.6" stroke-linecap="butt"/>
<line x1="834.19" y1="1085.2" x2="834.19" y2="1092.2" stroke="#1d1527" stroke-width="1.6" stroke-linecap="butt"/>
<line x1="853.83" y1="1085.2" x2="853.83" y2="1092.2" stroke="#1d1527" stroke-width="1.6" stroke-linecap="butt"/>
<line x1="863.67" y1="1085.2" x2="863.67" y2="1092.2" stroke="#1d1527" stroke-width="1.6" stroke-linecap="butt"/>
<line x1="870.66" y1="1085.2" x2="870.66" y2="1092.2" stroke="#1d1527" stroke-width="1.6" stroke-linecap="butt"/>
<line x1="876.07" y1="1085.2" x2="876.07" y2="1092.2" stroke="#1d1527" stroke-width="1.6" stroke-linecap="butt"/>
<line x1="880.5" y1="1085.2" x2="880.5" y2="1092.2" stroke="#1d1527" stroke-width="1.6" stroke-linecap="butt"/>
<line x1="884.24" y1="1085.2" x2="884.24" y2="1092.2" stroke="#1d1527" stroke-width="1.6" stroke-linecap="butt"/>
<line x1="887.48" y1="1085.2" x2="887.48" y2="1092.2" stroke="#1d1527" stroke-width="1.6" stroke-linecap="butt"/>
<line x1="890.34" y1="1085.2" x2="890.34" y2="1092.2" stroke="#1d1527" stroke-width="1.6" stroke-linecap="butt"/>
<line x1="909.73" y1="1085.2" x2="909.73" y2="1092.2" stroke="#1d1527" stroke-width="1.6" stroke-linecap="butt"/>
<line x1="706.5" y1="1085.2" x2="706.5" y2="1098.2" stroke="#1d1527" stroke-width="3.6" stroke-linecap="butt"/>
<line x1="666.2" y1="1085.2" x2="666.2" y2="1098.2" stroke="#1d1527" stroke-width="1.8" stroke-linecap="butt"/>
<line x1="694.4" y1="1085.2" x2="694.4" y2="1098.2" stroke="#1d1527" stroke-width="1.8" stroke-linecap="butt"/>
<line x1="719.6" y1="1085.2" x2="719.6" y2="1098.2" stroke="#1d1527" stroke-width="1.8" stroke-linecap="butt"/>
<line x1="675.4" y1="1085.2" x2="675.4" y2="1092.2" stroke="#1d1527" stroke-width="1.6" stroke-linecap="butt"/>
<line x1="683.5" y1="1085.2" x2="683.5" y2="1092.2" stroke="#1d1527" stroke-width="1.6" stroke-linecap="butt"/>
<line x1="730.2" y1="1085.2" x2="730.2" y2="1092.2" stroke="#1d1527" stroke-width="1.6" stroke-linecap="butt"/>
<line x1="741.1" y1="1085.2" x2="741.1" y2="1092.2" stroke="#1d1527" stroke-width="1.6" stroke-linecap="butt"/>
<line x1="748.2" y1="1085.2" x2="748.2" y2="1092.2" stroke="#1d1527" stroke-width="1.6" stroke-linecap="butt"/>
<line x1="754.7" y1="1085.2" x2="754.7" y2="1092.2" stroke="#1d1527" stroke-width="1.6" stroke-linecap="butt"/>
<line x1="760.2" y1="1085.2" x2="760.2" y2="1092.2" stroke="#1d1527" stroke-width="1.6" stroke-linecap="butt"/>
<line x1="764.6" y1="1085.2" x2="764.6" y2="1092.2" stroke="#1d1527" stroke-width="1.6" stroke-linecap="butt"/>
<line x1="767.9" y1="1085.2" x2="767.9" y2="1092.2" stroke="#1d1527" stroke-width="1.6" stroke-linecap="butt"/>
<line x1="771.2" y1="1085.2" x2="771.2" y2="1092.2" stroke="#1d1527" stroke-width="1.6" stroke-linecap="butt"/>
<rect x="665.9" y="856" width="252.2" height="229.2" fill="none" stroke="#1d1527" stroke-width="1.9"/>
<line x1="837" y1="856" x2="837" y2="1085.2" stroke="#1d1527" stroke-width="1.9" stroke-linecap="butt"/>
<line x1="665.9" y1="1004.9" x2="918.1" y2="1004.9" stroke="#1d1527" stroke-width="1.9" stroke-linecap="butt"/>
<text transform="translate(651.3 886.8) rotate(-90) scale(0.86 1)" font-family="'Liberation Sans', Arial, sans-serif" font-size="13.4" fill="#1d1527" stroke="#1d1527" stroke-width="0.25">10<tspan font-size="12.5" dx="0.5" dy="-8.8">5</tspan></text>
<text transform="translate(651.3 938.3) rotate(-90) scale(0.86 1)" font-family="'Liberation Sans', Arial, sans-serif" font-size="13.4" fill="#1d1527" stroke="#1d1527" stroke-width="0.25">10<tspan font-size="12.5" dx="0.5" dy="-8.8">4</tspan></text>
<text transform="translate(651.3 990.4) rotate(-90) scale(0.86 1)" font-family="'Liberation Sans', Arial, sans-serif" font-size="13.4" fill="#1d1527" stroke="#1d1527" stroke-width="0.25">10<tspan font-size="12.5" dx="0.5" dy="-8.8">3</tspan></text>
<text transform="translate(651.3 1045.3) rotate(-90) scale(0.86 1)" font-family="'Liberation Sans', Arial, sans-serif" font-size="13.4" fill="#1d1527" stroke="#1d1527" stroke-width="0.25">10<tspan font-size="12.5" dx="0.5" dy="-8.8">2</tspan></text>
<text transform="translate(651.3 1058.6) rotate(-90) scale(0.86 1)" font-family="'Liberation Sans', Arial, sans-serif" font-size="13.4" fill="#1d1527" stroke="#1d1527" stroke-width="0.25">0</text>
<text transform="translate(766.1 1113.4) scale(0.86 1)" font-family="'Liberation Sans', Arial, sans-serif" font-size="13.4" fill="#1d1527" stroke="#1d1527" stroke-width="0.25">10<tspan font-size="12.5" dx="0.8" dy="-9">3</tspan></text>
<text transform="translate(827.5 1113.4) scale(0.86 1)" font-family="'Liberation Sans', Arial, sans-serif" font-size="13.4" fill="#1d1527" stroke="#1d1527" stroke-width="0.25">10<tspan font-size="12.5" dx="0.8" dy="-9">4</tspan></text>
<text transform="translate(883.4 1113.4) scale(0.86 1)" font-family="'Liberation Sans', Arial, sans-serif" font-size="13.4" fill="#1d1527" stroke="#1d1527" stroke-width="0.25">10<tspan font-size="12.5" dx="0.8" dy="-9">5</tspan></text>
<text transform="translate(701.3 1113.2) scale(0.86 1)" font-family="'Liberation Sans', Arial, sans-serif" font-size="13.4" fill="#1d1527" stroke="#1d1527" stroke-width="0.25">0</text>
<text transform="translate(651 1122.9) scale(0.86 1)" font-family="'Liberation Sans', Arial, sans-serif" font-size="13.4" fill="#1d1527" stroke="#1d1527" stroke-width="0.25">-386</text>
<text transform="translate(676.5 907.2) scale(0.92 1)" font-family="'Liberation Sans', Arial, sans-serif" font-size="17" fill="#1d1527">Q1</text>
<text transform="translate(882.5 907.2) scale(0.92 1)" font-family="'Liberation Sans', Arial, sans-serif" font-size="17" fill="#1d1527">Q2</text>
<text transform="translate(676.5 1065) scale(0.92 1)" font-family="'Liberation Sans', Arial, sans-serif" font-size="17" fill="#1d1527">Q3</text>
<text transform="translate(882.5 1065) scale(0.92 1)" font-family="'Liberation Sans', Arial, sans-serif" font-size="17" fill="#1d1527">Q4</text>
<text transform="translate(639.6 1098.8) rotate(-90)" font-family="'Liberation Sans', Arial, sans-serif" font-size="12.5" fill="#1d1527" stroke="#1d1527" stroke-width="0.25">-185</text>
<rect x="1280.6" y="543.6" width="57.1" height="39.8" fill="#0b0d0d"/>
<rect x="1286.1" y="549.8" width="46.1" height="33.6" fill="#fefefe"/>
<rect x="1366.9" y="240.4" width="56.3" height="343" fill="#000"/>
<rect x="1451.9" y="541.1" width="56.9" height="42.3" fill="#0b0d0d"/>
<rect x="1457.4" y="547.3" width="45.9" height="36.1" fill="#fefefe"/>
<rect x="1537.1" y="525.5" width="57.9" height="57.9" fill="#000"/>
<line x1="1309.2" y1="538" x2="1309.2" y2="543.6" stroke="#000" stroke-width="2.2" stroke-linecap="butt"/>
<line x1="1295" y1="538" x2="1323.3" y2="538" stroke="#000" stroke-width="2.2" stroke-linecap="butt"/>
<line x1="1394.8" y1="214.7" x2="1394.8" y2="240.4" stroke="#000" stroke-width="2.2" stroke-linecap="butt"/>
<line x1="1380.2" y1="214.7" x2="1408.8" y2="214.7" stroke="#000" stroke-width="2.2" stroke-linecap="butt"/>
<line x1="1480.3" y1="538.7" x2="1480.3" y2="541.1" stroke="#000" stroke-width="2.2" stroke-linecap="butt"/>
<line x1="1466" y1="538.7" x2="1494.6" y2="538.7" stroke="#000" stroke-width="2.2" stroke-linecap="butt"/>
<line x1="1565.9" y1="521.1" x2="1565.9" y2="525.5" stroke="#000" stroke-width="2.2" stroke-linecap="butt"/>
<line x1="1551.8" y1="521.1" x2="1580.1" y2="521.1" stroke="#000" stroke-width="2.2" stroke-linecap="butt"/>
<rect x="1250" y="178.5" width="4" height="407" fill="#000"/>
<rect x="1236.8" y="581.2" width="388.4" height="4.3" fill="#000"/>
<rect x="1236.7" y="178.5" width="15.3" height="4" fill="#000"/>
<rect x="1236.7" y="312.8" width="15.3" height="4" fill="#000"/>
<rect x="1236.7" y="447.1" width="15.3" height="4" fill="#000"/>
<rect x="1307" y="585" width="4" height="15.6" fill="#000"/>
<rect x="1392" y="585" width="4" height="15.6" fill="#000"/>
<rect x="1477.8" y="585" width="4" height="15.6" fill="#000"/>
<rect x="1563.8" y="585" width="4" height="15.6" fill="#000"/>
<text x="1232.5" y="191" font-family="'Liberation Sans', Arial, sans-serif" font-size="29.3" font-weight="bold" fill="#000" text-anchor="end">60</text>
<text x="1232.5" y="325.3" font-family="'Liberation Sans', Arial, sans-serif" font-size="29.3" font-weight="bold" fill="#000" text-anchor="end">40</text>
<text x="1232.5" y="459.6" font-family="'Liberation Sans', Arial, sans-serif" font-size="29.3" font-weight="bold" fill="#000" text-anchor="end">20</text>
<text x="1232.5" y="593.9" font-family="'Liberation Sans', Arial, sans-serif" font-size="29.3" font-weight="bold" fill="#000" text-anchor="end">0</text>
<rect x="1252.2" y="618.3" width="174.4" height="6.9" fill="#0b0d0d"/>
<rect x="1434.2" y="618.3" width="174.9" height="6.9" fill="#0b0d0d"/>
<text x="1269" y="661.3" font-family="'Liberation Serif', 'Times New Roman', serif" font-size="25.7" font-weight="bold" fill="#0b0d0d" textLength="161.5" lengthAdjust="spacingAndGlyphs">MDA-MB-231</text>
<text x="1474.2" y="661.4" font-family="'Liberation Serif', 'Times New Roman', serif" font-size="25.7" font-weight="bold" fill="#0b0d0d" textLength="92" lengthAdjust="spacingAndGlyphs">ZR-75-1</text>
<text x="1421.5" y="143.3" font-family="'Liberation Serif', 'Times New Roman', serif" font-size="45" font-weight="bold" fill="#0b0d0d">48h</text>
<text x="1720.5" y="157.1" font-family="'Liberation Serif', 'Times New Roman', serif" font-size="59" font-weight="bold" fill="#0b0d0d">B</text>
<text transform="translate(1187.4 575.3) rotate(-90.62)" x="0" y="0" font-family="'Liberation Serif', 'Times New Roman', serif" font-size="45.5" font-weight="bold" fill="#0b0d0d" textLength="385.5" lengthAdjust="spacingAndGlyphs">% of apoptotic cells</text>
<text x="1380" y="222" font-family="'Liberation Sans', Arial, sans-serif" font-size="71" font-weight="bold" fill="#000">*</text>
<rect x="1286.2" y="1187" width="57.7" height="7.7" fill="#000"/>
<rect x="1372.2" y="874.4" width="56.8" height="320.3" fill="#000"/>
<rect x="1457.9" y="1191.7" width="56.5" height="3" fill="#000"/>
<rect x="1543.1" y="1164.1" width="57.5" height="30.6" fill="#000"/>
<line x1="1314.8" y1="1184.5" x2="1314.8" y2="1187" stroke="#000" stroke-width="2.2" stroke-linecap="butt"/>
<line x1="1300.7" y1="1184.5" x2="1329" y2="1184.5" stroke="#000" stroke-width="2.2" stroke-linecap="butt"/>
<line x1="1400.6" y1="828.4" x2="1400.6" y2="874.4" stroke="#000" stroke-width="2.2" stroke-linecap="butt"/>
<line x1="1386.3" y1="828.4" x2="1414.8" y2="828.4" stroke="#000" stroke-width="2.2" stroke-linecap="butt"/>
<rect x="1472" y="1189.2" width="28.4" height="2.8" fill="#000"/>
<line x1="1571.5" y1="1161" x2="1571.5" y2="1164.1" stroke="#000" stroke-width="2.2" stroke-linecap="butt"/>
<line x1="1557.4" y1="1161" x2="1585.7" y2="1161" stroke="#000" stroke-width="2.2" stroke-linecap="butt"/>
<rect x="1255.6" y="790.6" width="4.1" height="406.4" fill="#000"/>
<rect x="1242.6" y="1192.5" width="388.3" height="4.5" fill="#000"/>
<rect x="1242" y="790.6" width="15.7" height="4" fill="#000"/>
<rect x="1242" y="871.02" width="15.7" height="4" fill="#000"/>
<rect x="1242" y="951.44" width="15.7" height="4" fill="#000"/>
<rect x="1242" y="1031.86" width="15.7" height="4" fill="#000"/>
<rect x="1242" y="1112.28" width="15.7" height="4" fill="#000"/>
<rect x="1312.7" y="1196" width="4" height="16.5" fill="#000"/>
<rect x="1398" y="1196" width="4" height="16.5" fill="#000"/>
<rect x="1483.3" y="1196" width="4" height="16.5" fill="#000"/>
<rect x="1569.5" y="1196" width="4" height="16.5" fill="#000"/>
<text x="1238" y="803.1" font-family="'Liberation Sans', Arial, sans-serif" font-size="29.3" font-weight="bold" fill="#000" text-anchor="end">25</text>
<text x="1238" y="883.52" font-family="'Liberation Sans', Arial, sans-serif" font-size="29.3" font-weight="bold" fill="#000" text-anchor="end">20</text>
<text x="1238" y="963.94" font-family="'Liberation Sans', Arial, sans-serif" font-size="29.3" font-weight="bold" fill="#000" text-anchor="end">15</text>
<text x="1238" y="1044.36" font-family="'Liberation Sans', Arial, sans-serif" font-size="29.3" font-weight="bold" fill="#000" text-anchor="end">10</text>
<text x="1238" y="1124.78" font-family="'Liberation Sans', Arial, sans-serif" font-size="29.3" font-weight="bold" fill="#000" text-anchor="end">5</text>
<text x="1238" y="1205.2" font-family="'Liberation Sans', Arial, sans-serif" font-size="29.3" font-weight="bold" fill="#000" text-anchor="end">0</text>
<rect x="1251.9" y="1240.6" width="174.9" height="7.1" fill="#0b0d0d"/>
<rect x="1433.8" y="1240.6" width="175" height="7.1" fill="#0b0d0d"/>
<text x="1264.2" y="1281.5" font-family="'Liberation Serif', 'Times New Roman', serif" font-size="25.7" font-weight="bold" fill="#0b0d0d" textLength="161.5" lengthAdjust="spacingAndGlyphs">MDA-MB-231</text>
<text x="1470.1" y="1281.7" font-family="'Liberation Serif', 'Times New Roman', serif" font-size="25.7" font-weight="bold" fill="#0b0d0d" textLength="92" lengthAdjust="spacingAndGlyphs">ZR-75-1</text>
<text x="1424.6" y="774.5" font-family="'Liberation Serif', 'Times New Roman', serif" font-size="45" font-weight="bold" fill="#0b0d0d">48h</text>
<text x="1717" y="787.5" font-family="'Liberation Serif', 'Times New Roman', serif" font-size="63.5" font-weight="bold" fill="#0b0d0d">C</text>
<text transform="translate(1193.8 1178) rotate(-90)" x="0" y="0" font-family="'Liberation Serif', 'Times New Roman', serif" font-size="45" font-weight="bold" fill="#0b0d0d" textLength="359.5" lengthAdjust="spacingAndGlyphs">% of necrotic cells</text>
<text x="1390" y="838" font-family="'Liberation Sans', Arial, sans-serif" font-size="71" font-weight="bold" fill="#000">*</text>
<text x="1543.7" y="1171.2" font-family="'Liberation Sans', Arial, sans-serif" font-size="71" font-weight="bold" fill="#000">*</text>
<text x="1577.8" y="1171.2" font-family="'Liberation Sans', Arial, sans-serif" font-size="71" font-weight="bold" fill="#000">*</text>
<rect x="1251.1" y="1368.6" width="69.5" height="66" fill="#fefefe" stroke="#0b0d0d" stroke-width="2.2"/>
<rect x="1250" y="1447.7" width="71.7" height="68.5" fill="#0b0d0d"/>
<text x="1353.2" y="1418.9" font-family="'Liberation Serif', 'Times New Roman', serif" font-size="46" font-weight="bold" fill="#0b0d0d" textLength="138.5" lengthAdjust="spacingAndGlyphs">control</text>
<text x="1353.2" y="1505.9" font-family="'Liberation Serif', 'Times New Roman', serif" font-size="46" font-weight="bold" fill="#0b0d0d" textLength="252.5" lengthAdjust="spacingAndGlyphs">50 <tspan font-weight="normal">&#956;</tspan>g/ml GO</text>
<text x="845" y="1732.7" font-family="'Liberation Serif', 'Times New Roman', serif" font-size="61" font-weight="bold" fill="#0b0d0d">D</text>
<text x="166.2" y="1721.4" font-family="'Liberation Serif', 'Times New Roman', serif" font-size="40" font-weight="bold" fill="#0b0d0d" textLength="99" lengthAdjust="spacingAndGlyphs">DA %</text>
<text x="295.2" y="1721.7" font-family="'Liberation Serif', 'Times New Roman', serif" font-size="38" font-weight="bold" fill="#0b0d0d" textLength="57" lengthAdjust="spacingAndGlyphs">100</text>
<text x="392.1" y="1721.7" font-family="'Liberation Serif', 'Times New Roman', serif" font-size="38" font-weight="bold" fill="#0b0d0d" textLength="35.5" lengthAdjust="spacingAndGlyphs">63</text>
<text x="39.2" y="1772.2" font-family="'Liberation Serif', 'Times New Roman', serif" font-size="56.6" font-weight="bold" fill="#0b0d0d" textLength="157" lengthAdjust="spacingAndGlyphs">30kDa</text>
<rect x="200.4" y="1747.7" width="44.9" height="6.3" fill="#0b0d0d"/>
<polygon points="244.3,1736.4 271.3,1750.8 244.3,1765.2" fill="#0b0d0d"/>
<g clip-path="url(#lane1a)"><path d="M285 1749.5 C300 1745.5 330 1745 357 1747 L357 1761 C330 1761 300 1761 285 1762 C277 1762 277 1751.5 285 1749.5Z" fill="#000" opacity="1" filter="url(#bl1_8)"/></g>
<g clip-path="url(#lane1b)"><path d="M366 1748 C390 1744 425 1744 449 1748 L449 1760 C420 1760 390 1759 366 1759 C359 1758 359 1750 366 1748Z" fill="#5a5a5a" opacity="0.9" filter="url(#bl2_3)"/></g>
<g clip-path="url(#lane1b)"><path d="M366 1753 C390 1751 425 1751 449 1753 L449 1759 C420 1759.5 390 1759 366 1759 C361 1758 361 1754 366 1753Z" fill="#050505" opacity="1" filter="url(#bl1_5)"/></g>
<rect x="482.7" y="1750" width="44.3" height="5.2" fill="#0b0d0d"/>
<polygon points="483.7,1738.3 457,1752.55 483.7,1766.8" fill="#0b0d0d"/>
<text x="533.2" y="1767.6" font-family="'Liberation Serif', 'Times New Roman', serif" font-size="56.6" font-weight="bold" fill="#0b0d0d" textLength="143" lengthAdjust="spacingAndGlyphs">Bcl-xl</text>
<text x="168.7" y="1840.6" font-family="'Liberation Serif', 'Times New Roman', serif" font-size="40" font-weight="bold" fill="#0b0d0d" textLength="99" lengthAdjust="spacingAndGlyphs">DA %</text>
<text x="280.2" y="1840.6" font-family="'Liberation Serif', 'Times New Roman', serif" font-size="38" font-weight="bold" fill="#0b0d0d" textLength="55" lengthAdjust="spacingAndGlyphs">100</text>
<text x="366.7" y="1840.4" font-family="'Liberation Serif', 'Times New Roman', serif" font-size="38" font-weight="bold" fill="#0b0d0d" textLength="55" lengthAdjust="spacingAndGlyphs">137</text>
<text x="38" y="1892.2" font-family="'Liberation Serif', 'Times New Roman', serif" font-size="56.6" font-weight="bold" fill="#0b0d0d" textLength="159.5" lengthAdjust="spacingAndGlyphs">26kDa</text>
<rect x="199.2" y="1871.4" width="44.8" height="6.8" fill="#0b0d0d"/>
<polygon points="243,1860.2 269.5,1874.6 243,1889" fill="#0b0d0d"/>
<ellipse cx="315" cy="1876" rx="37" ry="12" fill="#bdbdbd" opacity="0.65" filter="url(#bl3_0)"/>
<ellipse cx="315" cy="1876" rx="37" ry="12.5" fill="#979797" filter="url(#mot1)"/>
<ellipse cx="411" cy="1873.5" rx="40" ry="12.5" transform="rotate(-3 411 1873.5)" fill="#b3b3b3" opacity="0.7" filter="url(#bl3_0)"/>
<ellipse cx="411" cy="1873.5" rx="40" ry="13" transform="rotate(-3 411 1873.5)" fill="#8d8d8d" filter="url(#mot2)"/>
<circle cx="279" cy="1872" r="2" fill="#888" filter="url(#bl0_7)"/><circle cx="358" cy="1891" r="1.6" fill="#999" filter="url(#bl0_7)"/><circle cx="427" cy="1851" r="2" fill="#888" filter="url(#bl0_7)"/>
<rect x="484" y="1875.2" width="44.5" height="5.3" fill="#0b0d0d"/>
<polygon points="485,1863.9 458.9,1878 485,1892.1" fill="#0b0d0d"/>
<text x="531.6" y="1895.4" font-family="'Liberation Serif', 'Times New Roman', serif" font-size="56.6" font-weight="bold" fill="#0b0d0d" textLength="154.5" lengthAdjust="spacingAndGlyphs">P-Bim</text>
<text x="166.9" y="1973.9" font-family="'Liberation Serif', 'Times New Roman', serif" font-size="40" font-weight="bold" fill="#0b0d0d" textLength="99" lengthAdjust="spacingAndGlyphs">DA %</text>
<text x="281.5" y="1970.6" font-family="'Liberation Serif', 'Times New Roman', serif" font-size="38" font-weight="bold" fill="#0b0d0d" textLength="55" lengthAdjust="spacingAndGlyphs">100</text>
<text x="367.6" y="1970.4" font-family="'Liberation Serif', 'Times New Roman', serif" font-size="38" font-weight="bold" fill="#0b0d0d" textLength="55" lengthAdjust="spacingAndGlyphs">128</text>
<text x="39.3" y="2025.2" font-family="'Liberation Serif', 'Times New Roman', serif" font-size="56.6" font-weight="bold" fill="#0b0d0d" textLength="159.3" lengthAdjust="spacingAndGlyphs">14kDa</text>
<rect x="201.7" y="2005.2" width="44.8" height="5.5" fill="#0b0d0d"/>
<polygon points="245.5,1993.9 271.3,2008.3 245.5,2022.7" fill="#0b0d0d"/>
<g><path d="M289 2003 C310 1998 335 1996 352 1997 C357 2001 356 2008 350 2009 C330 2011 305 2014 290 2014 C281 2013 281 2006 289 2003Z" fill="#7a7a7a" opacity="0.75" filter="url(#bl3_2)"/></g>
<g><path d="M291 2004 C310 2001 335 1999 350 1999 C354 2001 353 2005 348 2006 C330 2008 305 2011 293 2011 C286 2010 286 2006 291 2004Z" fill="#1c1c1c" opacity="1" filter="url(#bl1_9)"/></g>
<g><path d="M373 1996 C395 1993 425 1993 441 1997 C447 2001 446 2007 439 2009 C415 2010 390 2010 374 2009 C366 2007 366 1998 373 1996Z" fill="#777" opacity="0.75" filter="url(#bl3_2)"/></g>
<g><path d="M375 1998 C395 1996 425 1996 439 1999 C443 2002 442 2006 437 2007 C415 2008 390 2008 376 2007 C370 2006 370 1999 375 1998Z" fill="#1a1a1a" opacity="1" filter="url(#bl1_9)"/></g>
<rect x="484" y="2003.9" width="44.8" height="5.6" fill="#0b0d0d"/>
<polygon points="485,1992 458.3,2006.6 485,2021.2" fill="#0b0d0d"/>
<text x="533" y="2023.5" font-family="'Liberation Serif', 'Times New Roman', serif" font-size="56.6" font-weight="bold" fill="#0b0d0d" textLength="129" lengthAdjust="spacingAndGlyphs">Cyt c</text>
<text x="169.4" y="2088.1" font-family="'Liberation Serif', 'Times New Roman', serif" font-size="40" font-weight="bold" fill="#0b0d0d" textLength="99" lengthAdjust="spacingAndGlyphs">DA %</text>
<text x="274" y="2092.6" font-family="'Liberation Serif', 'Times New Roman', serif" font-size="38" font-weight="bold" fill="#0b0d0d" textLength="55" lengthAdjust="spacingAndGlyphs">100</text>
<text x="358.4" y="2092.6" font-family="'Liberation Serif', 'Times New Roman', serif" font-size="38" font-weight="bold" fill="#0b0d0d" textLength="55.5" lengthAdjust="spacingAndGlyphs">459</text>
<text x="39.3" y="2142.2" font-family="'Liberation Serif', 'Times New Roman', serif" font-size="56.6" font-weight="bold" fill="#0b0d0d" textLength="159.3" lengthAdjust="spacingAndGlyphs">10kDa</text>
<rect x="200.4" y="2123.4" width="44.1" height="6.3" fill="#0b0d0d"/>
<polygon points="243.5,2112.7 270.3,2126.7 243.5,2140.7" fill="#0b0d0d"/>
<ellipse cx="297" cy="2124" rx="21" ry="3.8" fill="#8a8a8a" opacity="0.5" filter="url(#bl2_5)"/>
<ellipse cx="292" cy="2124" rx="9" ry="2.6" fill="#5a5a5a" opacity="0.45" filter="url(#bl1_5)"/>
<g><path d="M352 2116 C370 2112 410 2111 430 2114 C440 2117 442 2124 438 2128 C420 2130 395 2131 375 2133 C360 2135 347 2134 344 2128 C342 2121 345 2118 352 2116Z" fill="#000" opacity="1" filter="url(#bl1_8)"/></g>
<rect x="486.8" y="2119.2" width="44.8" height="5" fill="#0b0d0d"/>
<polygon points="487.8,2106.4 461.1,2121.25 487.8,2136.1" fill="#0b0d0d"/>
<text x="530.8" y="2139.2" font-family="'Liberation Serif', 'Times New Roman', serif" font-size="56.6" font-weight="bold" fill="#0b0d0d" textLength="127" lengthAdjust="spacingAndGlyphs">Noxa</text>
<text x="39.6" y="2218.1" font-family="'Liberation Serif', 'Times New Roman', serif" font-size="56.6" font-weight="bold" fill="#0b0d0d" textLength="158" lengthAdjust="spacingAndGlyphs">55kDa</text>
<rect x="197.9" y="2197.1" width="44.9" height="5.5" fill="#0b0d0d"/>
<polygon points="241.8,2185 267.8,2199.45 241.8,2213.9" fill="#0b0d0d"/>
<g clip-path="url(#lane5a)"><path d="M276 2193 C292 2193 306 2197 322 2199 C336 2200 347 2200 351 2201 L351 2215.5 C332 2216 312 2215 299 2213 C286 2210 276 2207 272 2202 C270 2197 271 2194 276 2193Z" fill="#030303" opacity="1" filter="url(#bl1_7)"/></g>
<g clip-path="url(#lane5b)"><path d="M364 2201 C376 2198.5 396 2202 411 2201 C426 2200 436 2200 443 2202 L443 2218 C420 2220 396 2221 376 2218.5 C363 2216 358 2212 359 2207 C359 2204 361 2203 364 2202Z" fill="#030303" opacity="1" filter="url(#bl1_7)"/></g>
<rect x="486.8" y="2197.6" width="44.8" height="5.6" fill="#0b0d0d"/>
<polygon points="487.8,2186.3 461.1,2200.6 487.8,2214.9" fill="#0b0d0d"/>
<text x="534.2" y="2216.5" font-family="'Liberation Serif', 'Times New Roman', serif" font-size="56.6" font-weight="bold" fill="#0b0d0d" textLength="223" lengthAdjust="spacingAndGlyphs"><tspan font-weight="normal">&#946;</tspan>-tubulin</text>
<text x="45" y="2287.8" font-family="'Liberation Serif', 'Times New Roman', serif" font-size="57" font-weight="bold" fill="#0b0d0d" textLength="87.5" lengthAdjust="spacingAndGlyphs">line</text>
<text x="289" y="2287.8" font-family="'Liberation Serif', 'Times New Roman', serif" font-size="57" font-weight="bold" fill="#0b0d0d">1</text>
<text x="390" y="2287.8" font-family="'Liberation Serif', 'Times New Roman', serif" font-size="57" font-weight="bold" fill="#0b0d0d">2</text>
<rect x="223.5" y="2306.9" width="239.7" height="11" fill="#0b0d0d"/>
<text x="227.5" y="2358.6" font-family="'Liberation Serif', 'Times New Roman', serif" font-size="38" font-weight="bold" fill="#0b0d0d" textLength="232" lengthAdjust="spacingAndGlyphs">MDA-MB-231</text>
<rect x="1106.2" y="2171.26" width="42.8" height="101.64" fill="#0b0d0d"/>
<rect x="1112" y="2178.06" width="31.2" height="94.84" fill="#fefefe"/>
<rect x="1170" y="2208.87" width="43.3" height="64.03" fill="#000"/>
<rect x="1277.2" y="2171.26" width="42.8" height="101.64" fill="#0b0d0d"/>
<rect x="1283" y="2178.06" width="31.2" height="94.84" fill="#fefefe"/>
<rect x="1341" y="2134.67" width="42.5" height="138.23" fill="#000"/>
<rect x="1447.8" y="2171.26" width="43.2" height="101.64" fill="#0b0d0d"/>
<rect x="1453.6" y="2178.06" width="31.6" height="94.84" fill="#fefefe"/>
<rect x="1512.1" y="2142.8" width="42.9" height="130.1" fill="#000"/>
<rect x="1618.5" y="2171.26" width="43.6" height="101.64" fill="#0b0d0d"/>
<rect x="1624.3" y="2178.06" width="32" height="94.84" fill="#fefefe"/>
<rect x="1683" y="1807.39" width="43.4" height="465.51" fill="#000"/>
<rect x="1082.3" y="1762.6" width="4.5" height="513.1" fill="#000"/>
<rect x="1066.3" y="2270.2" width="683.8" height="5.4" fill="#000"/>
<rect x="1066.3" y="1762.5" width="18.2" height="4.4" fill="#000"/>
<rect x="1066.3" y="1864.14" width="18.2" height="4.4" fill="#000"/>
<rect x="1066.3" y="1965.78" width="18.2" height="4.4" fill="#000"/>
<rect x="1066.3" y="2067.42" width="18.2" height="4.4" fill="#000"/>
<rect x="1066.3" y="2169.06" width="18.2" height="4.4" fill="#000"/>
<rect x="1125.1" y="2274" width="4.6" height="21" fill="#000"/>
<rect x="1189.1" y="2274" width="4.6" height="21" fill="#000"/>
<rect x="1295.7" y="2274" width="4.6" height="21" fill="#000"/>
<rect x="1359.9" y="2274" width="4.6" height="21" fill="#000"/>
<rect x="1466.7" y="2274" width="4.6" height="21" fill="#000"/>
<rect x="1531" y="2274" width="4.6" height="21" fill="#000"/>
<rect x="1637.7" y="2274" width="4.6" height="21" fill="#000"/>
<rect x="1701.7" y="2274" width="4.6" height="21" fill="#000"/>
<text transform="translate(1060.3 1778.6) scale(0.86 1)" x="0" y="0" font-family="'Liberation Sans', Arial, sans-serif" font-size="38.3" font-weight="bold" fill="#000" text-anchor="end">500</text>
<text transform="translate(1060.3 1880.24) scale(0.86 1)" x="0" y="0" font-family="'Liberation Sans', Arial, sans-serif" font-size="38.3" font-weight="bold" fill="#000" text-anchor="end">400</text>
<text transform="translate(1060.3 1981.88) scale(0.86 1)" x="0" y="0" font-family="'Liberation Sans', Arial, sans-serif" font-size="38.3" font-weight="bold" fill="#000" text-anchor="end">300</text>
<text transform="translate(1060.3 2083.52) scale(0.86 1)" x="0" y="0" font-family="'Liberation Sans', Arial, sans-serif" font-size="38.3" font-weight="bold" fill="#000" text-anchor="end">200</text>
<text transform="translate(1060.3 2185.16) scale(0.86 1)" x="0" y="0" font-family="'Liberation Sans', Arial, sans-serif" font-size="38.3" font-weight="bold" fill="#000" text-anchor="end">100</text>
<text transform="translate(1060.3 2286.8) scale(0.86 1)" x="0" y="0" font-family="'Liberation Sans', Arial, sans-serif" font-size="38.3" font-weight="bold" fill="#000" text-anchor="end">0</text>
<text x="1099.5" y="2349" font-family="'Liberation Serif', 'Times New Roman', serif" font-size="45.5" font-weight="bold" fill="#0b0d0d" textLength="113.5" lengthAdjust="spacingAndGlyphs">Bcl-xl</text>
<text x="1271.5" y="2349" font-family="'Liberation Serif', 'Times New Roman', serif" font-size="45.5" font-weight="bold" fill="#0b0d0d" textLength="122.5" lengthAdjust="spacingAndGlyphs">P-Bim</text>
<text x="1454.5" y="2349" font-family="'Liberation Serif', 'Times New Roman', serif" font-size="45.5" font-weight="bold" fill="#0b0d0d" textLength="101" lengthAdjust="spacingAndGlyphs">Cyt c</text>
<text x="1625.2" y="2349" font-family="'Liberation Serif', 'Times New Roman', serif" font-size="45.5" font-weight="bold" fill="#0b0d0d" textLength="101" lengthAdjust="spacingAndGlyphs">Noxa</text>
<rect x="1087" y="2365" width="625.5" height="10.3" fill="#0b0d0d"/>
<text x="1266" y="2417.1" font-family="'Liberation Serif', 'Times New Roman', serif" font-size="39" font-weight="bold" fill="#0b0d0d" textLength="231.5" lengthAdjust="spacingAndGlyphs">MDA-MB-231</text>
<text x="1680" y="1736.8" font-family="'Liberation Serif', 'Times New Roman', serif" font-size="61" font-weight="bold" fill="#0b0d0d">E</text>
<text transform="translate(979.2 2242.8) rotate(-90)" x="0" y="0" font-family="'Liberation Serif', 'Times New Roman', serif" font-size="45.5" font-weight="bold" fill="#0b0d0d" textLength="442" lengthAdjust="spacingAndGlyphs">Densitometric analysis</text>
<rect x="1255.1" y="2466.9" width="69" height="65.4" fill="#fefefe" stroke="#0b0d0d" stroke-width="2.2"/>
<rect x="1254" y="2545.6" width="71.2" height="68.4" fill="#0b0d0d"/>
<text x="1357.4" y="2516.6" font-family="'Liberation Serif', 'Times New Roman', serif" font-size="46" font-weight="bold" fill="#0b0d0d" textLength="137.5" lengthAdjust="spacingAndGlyphs">control</text>
<text x="1357.4" y="2604" font-family="'Liberation Serif', 'Times New Roman', serif" font-size="46" font-weight="bold" fill="#0b0d0d" textLength="251.5" lengthAdjust="spacingAndGlyphs">50 <tspan font-weight="normal">&#956;</tspan>g/ml GO</text></svg></body></html>
